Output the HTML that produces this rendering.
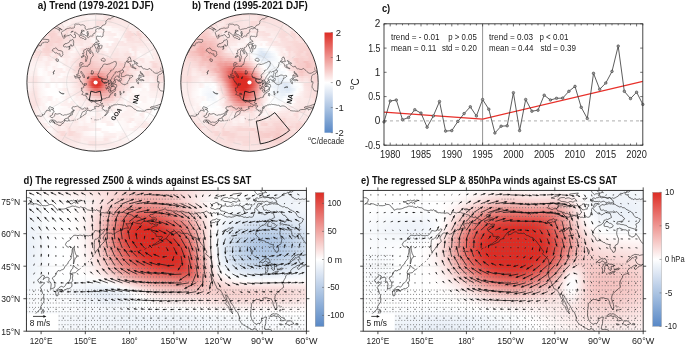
<!DOCTYPE html><html><head><meta charset="utf-8"><style>html,body{margin:0;padding:0;background:#fff;width:685px;height:345px;overflow:hidden;position:relative}svg{display:block}text{font-family:"Liberation Sans", sans-serif}</style></head><body><div style="position:absolute;left:25.9px;top:12.8px;width:140px;height:140px;overflow:hidden;clip-path:circle(68.7px at 69.7px 69.7px)"><div style="position:absolute;left:0;top:0;width:140px;height:140px;background:linear-gradient(90deg,#fdf3f3,#ffffff,#ffffff,#ffffff,#ffffff,#fdf3f2,#fdf2f2,#ffffff,#ffffff,#ffffff,#ffffff,#ffffff,#fdf6f5,#fdf0ef,#fdf0ef,#fdf0ef,#fcefef,#fef6f6,#fef6f5,#fdf5f4,#fdf4f4,#fdf0f0,#fdf0ef,#fcefee,#fdf1f0,#fdf0f0,#fdf0ef,#fcefee,#fceeed,#fceded,#fcedec,#fceeee,#fceeee,#fcefee,#fcefee,#fcefee,#fcefef,#fdf2f2,#fdf3f2,#fefafa,#fefbfa,#fefbfb,#fdf4f3,#fdf4f4,#fef6f6,#fef7f6,#fef7f7,#fcefef,#fdf0ef,#fefbfb,#fdf1f1,#fdf2f1,#fdf2f1,#fdf2f2,#fef9f9,#ffffff) 0 0px/100% 3px no-repeat,linear-gradient(90deg,#fdf3f2,#ffffff,#ffffff,#ffffff,#fdf2f2,#fdf2f1,#fdf1f1,#fdf1f1,#fffefe,#fffefe,#fffefe,#fffefe,#fefbfa,#fceeee,#fceeed,#fceeed,#fdf2f1,#fdf3f3,#fdf3f3,#fdf2f2,#fdf2f1,#fceeed,#fcedec,#fdf1f0,#fef6f6,#fdf5f5,#fdf5f4,#fdf4f4,#fdf0ef,#fcefee,#fcefee,#fbe5e4,#fbe5e4,#fceaea,#fcebea,#fcebea,#fcebeb,#fceceb,#fcedec,#fceae9,#fef7f7,#fef8f8,#fef9f9,#fceeee,#fdf4f4,#fdf5f4,#fdf6f5,#fef6f6,#fefaf9,#fefafa,#fefbfb,#fefbfb,#fdf1f1,#fdf2f1,#fefbfb,#ffffff) 0 2.5px/100% 3px no-repeat,linear-gradient(90deg,#ffffff,#ffffff,#ffffff,#fdf1f1,#fdf1f0,#fdf0f0,#fdf0ef,#fefbfb,#fffdfc,#fffcfc,#fef9f9,#fef9f8,#fef8f8,#fceceb,#fdf0ef,#fcefef,#fcefee,#fdf1f0,#fdf0f0,#fdf0ef,#fcefef,#fdf0ef,#fcefee,#fceeed,#fcedec,#fdf3f2,#fdf2f1,#fdf1f1,#fcedec,#fceceb,#fceceb,#fae2e1,#fae2e1,#fae2e1,#fae3e1,#fbe8e7,#fbe9e8,#fbe9e8,#fbe6e5,#fbe7e6,#fbe7e6,#fbe8e7,#fef6f6,#fcebeb,#fcecec,#fceeed,#fdf3f3,#fefaf9,#fefbfa,#fef9f9,#fefafa,#fefafa,#fefbfb,#fefbfa,#fefbfb,#fefbfb) 0 5px/100% 3px no-repeat,linear-gradient(90deg,#ffffff,#ffffff,#ffffff,#ffffff,#fcefef,#fefafa,#fefaf9,#fef9f9,#fef8f8,#fef6f6,#fef6f6,#fdf5f5,#fbe8e7,#fbe7e6,#fcecec,#fceceb,#fcebeb,#fef6f6,#fcedec,#fcedec,#fcecec,#fcedec,#fcedec,#fceceb,#fcebea,#fceeee,#fceeed,#fcedec,#fae0df,#fae0df,#fadfde,#fbe8e7,#fbe8e7,#fae2e0,#fbe7e6,#fbe7e7,#fbe8e7,#fbe8e7,#fceae9,#fbe4e3,#fbe5e4,#fbe5e4,#fdf4f3,#fbe8e8,#fceae9,#fcebea,#fceceb,#fef7f7,#fef9f9,#fefafa,#fef9f8,#fefaf9,#fdf4f4,#fdf5f4,#fefbfb,#fefbfb) 0 7.5px/100% 3px no-repeat,linear-gradient(90deg,#ffffff,#ffffff,#fffefe,#fffdfd,#fcedec,#fef8f7,#fef7f6,#fef6f5,#fdf5f5,#fdf4f4,#fdf2f1,#fbe4e3,#fbe3e2,#fae3e2,#fbe8e7,#fdf2f2,#fdf2f1,#fdf2f1,#fbe9e8,#fbe9e8,#fbe9e8,#fbe9e8,#fceaea,#fceaea,#fceaea,#fceeee,#fceeee,#fceeed,#fae2e0,#fae1e0,#fae1e0,#fceae9,#fceae9,#fceae9,#fceae9,#fceae9,#fceae9,#fbe8e8,#fbe9e8,#fbe9e8,#fbe9e8,#fdf1f0,#fdf1f1,#fdf2f1,#fdf3f2,#fbe8e7,#fceded,#fcefef,#fef7f6,#fef8f8,#fefafa,#fdf2f2,#fdf3f3,#fdf4f4,#fdf5f4,#fefbfb) 0 10px/100% 3px no-repeat,linear-gradient(90deg,#ffffff,#fffefe,#fffcfc,#fceceb,#fceaea,#fbe9e8,#fdf3f3,#fdf2f2,#fdf1f0,#fdf0ef,#fbe5e4,#fadfde,#fadedd,#fbe8e7,#fbe7e7,#fcedec,#fcedec,#fadfde,#fae0de,#fbe5e4,#fbe6e5,#fbe7e6,#fbe9e8,#fceae9,#fcebea,#fcebea,#fceceb,#fcecec,#fdf2f1,#fdf2f2,#fdf2f2,#fef7f6,#fef7f6,#fef7f6,#fceded,#fcedec,#fceceb,#fcecec,#fcebea,#fbe8e7,#fbe7e6,#fceded,#fcedec,#fceeee,#fcefee,#fdf1f0,#fceae9,#fceceb,#fceeee,#fef6f6,#fefbfb,#fffdfd,#fdf3f2,#fdf4f3,#fdf4f4,#fefbfa) 0 12.5px/100% 3px no-repeat,linear-gradient(90deg,#fffefe,#fffcfc,#fefafa,#fce9e8,#fbe7e6,#fdf3f3,#fdf2f1,#fceeed,#fae3e2,#fae1e0,#fae0df,#f9dad8,#fbe3e2,#fae3e2,#fae2e1,#fceaea,#f9dbd9,#f9dbda,#f9dcdb,#fae2e1,#fbe4e3,#fbe5e4,#fbe8e7,#fbe9e8,#fcebea,#fceceb,#fcedec,#fceeee,#fdf5f4,#fdf5f5,#fef6f6,#fefafa,#fefafa,#fefafa,#fdf6f5,#fdf5f4,#fdf3f3,#fceeed,#fceceb,#fce9e9,#fadfdd,#fcebeb,#fceae9,#fceae9,#fcecec,#fceeed,#fdefef,#fbe9e8,#fceceb,#fbe7e6,#fefaf9,#fefcfc,#fffefd,#fdf3f3,#fdf4f4,#fdf5f4) 0 15px/100% 3px no-repeat,linear-gradient(90deg,#fdf2f2,#fefafa,#fbe9e8,#fbe7e6,#fbe4e3,#fdf0ef,#fceded,#fbe8e7,#fadedd,#f9dddb,#f9d7d5,#f8d6d4,#fadfde,#fadedd,#fbe6e6,#fbe7e6,#f9d7d6,#fbe7e6,#fbe8e8,#fae0df,#fae2e1,#fbe4e3,#fdf0f0,#fdf2f2,#fdf4f4,#fbe4e3,#fbe6e5,#fbe8e7,#fceeed,#fcefef,#fdf0ef,#fcefee,#fcefee,#fceceb,#fef8f8,#fef6f6,#fdf5f5,#fdf3f2,#fdf0f0,#fbe9e8,#fadddc,#f9dbda,#fbe8e7,#fbe7e6,#f9d8d6,#fcebea,#fcedec,#fdf0ef,#fae2e1,#fbe5e4,#fbe8e7,#fefbfb,#fffdfd,#fffefe,#fef7f7,#fef8f7) 0 17.5px/100% 3px no-repeat,linear-gradient(90deg,#fdf1f0,#fceae9,#fbe7e6,#fbe4e3,#fcefee,#fceceb,#fbe6e5,#fbe4e3,#fae2e1,#f8d4d2,#f8d3d1,#f8d2d1,#f9d7d6,#fbe4e3,#fbe4e3,#f9dcda,#f9dddb,#fbe7e6,#fbe8e7,#fbe6e5,#fbe6e5,#fbe8e7,#fce9e9,#fdf2f2,#fdf4f4,#fbe7e6,#fbe9e8,#fcebea,#fefafa,#fefcfc,#fdf5f5,#fdf1f0,#fdf0f0,#fceded,#fceceb,#fcebea,#fef9f8,#fdf3f3,#fdf0f0,#fae0df,#f9dddc,#f9dad9,#f9d9d7,#fae2e1,#f8d6d5,#f9d8d6,#fceceb,#fae1e0,#fbe5e4,#fbe4e3,#fbe7e6,#fceae9,#fffcfc,#fefcfc,#fffdfd,#fef8f7) 0 20px/100% 3px no-repeat,linear-gradient(90deg,#fcebea,#fbe8e7,#fbe5e4,#fceae9,#fceceb,#fbe9e8,#fae3e2,#fae1df,#fae1e0,#fae0df,#f7d0cf,#f8d5d4,#f8d6d4,#f8d7d5,#f9dbda,#f9dcdb,#fadedd,#fbe4e3,#fbe6e5,#fbe7e7,#fbe7e7,#fadfdd,#fae0df,#fbe8e7,#fbe9e8,#fbe7e6,#fbe9e8,#fcebeb,#fefbfa,#fffcfc,#fef6f6,#fef7f6,#fef6f6,#fdf1f1,#fdf0ef,#fefbfb,#fef9f9,#fef7f6,#fdf1f0,#fae0df,#fadddc,#f9dbda,#fbe4e3,#fae3e2,#fae3e2,#f9d8d7,#fbe7e6,#fae2e1,#fbe5e4,#fbe8e7,#fbe7e6,#fceae9,#fcebea,#fefcfb,#fffdfd,#fef7f7) 0 22.5px/100% 3px no-repeat,linear-gradient(90deg,#fceae9,#fbe7e6,#fcebea,#fbe8e7,#fbe4e3,#fbe3e2,#fae0df,#fae0df,#fadfdd,#fadedd,#f8d4d2,#f8d5d3,#f8d6d4,#f8d2d0,#f8d4d2,#fadfdd,#fadfde,#fae2e0,#fbe9e8,#fae2e1,#fbe3e2,#fae1df,#fae1e0,#fbe8e7,#fbe8e8,#fceae9,#fdf5f4,#fef7f7,#fdf3f2,#fdf5f4,#fefbfa,#fefbfb,#fef7f6,#fdf1f1,#fdf0f0,#fceded,#fcebea,#fef7f7,#fdf2f1,#fcefee,#fadfde,#fae0df,#fadfde,#fbe5e4,#fbe6e5,#fadfdd,#fceae9,#fceceb,#fbe6e6,#fbe9e8,#fceceb,#fbe9e8,#fcebea,#fefcfc,#fffdfd,#fffefe) 0 25px/100% 3px no-repeat,linear-gradient(90deg,#fbe9e8,#fbe6e5,#fceae9,#fbe6e5,#f9dcda,#f9d8d7,#f8d5d4,#fadfde,#fadedc,#f8d3d1,#f8d4d2,#f8d5d3,#f8d1cf,#f8d3d2,#f9d8d6,#fae0df,#fae3e2,#fae2e1,#fbe4e3,#fbe5e4,#fbe6e5,#fbe4e3,#fbe4e2,#fbe7e6,#fbe7e6,#fbe9e8,#fdf3f3,#fef6f6,#fdf2f1,#fdf4f4,#fefafa,#fefbfb,#fffefe,#fffefe,#fffdfd,#fceded,#fceceb,#fbe7e7,#fbe5e4,#fdf1f1,#fbe5e4,#fbe4e3,#fae2e1,#fae2e1,#fae1e0,#fae2e1,#fbe4e3,#fcefee,#fdf1f0,#fdf3f2,#fdf5f4,#fef6f6,#fcebea,#fcedec,#fffdfd,#fffefe) 0 27.5px/100% 3px no-repeat,linear-gradient(90deg,#fef7f7,#fcedec,#fce9e9,#fadfdd,#f9dbda,#f9d8d6,#fae2e1,#fae0df,#f8d3d2,#f8d3d2,#f8d4d3,#f9dbd9,#fadddc,#f9d7d6,#f9dad9,#fadddc,#fae3e2,#fbe5e4,#fbe7e6,#fceae9,#fbe9e8,#fbe8e7,#fae3e2,#fcedec,#fbe9e8,#fceae9,#fae1e0,#fbe5e4,#fdf3f2,#fdf5f5,#fdf4f4,#fdf5f5,#fcecec,#fffdfd,#fcebeb,#fceae9,#fbe9e8,#fbe8e7,#fbe6e6,#fbe5e4,#fbe8e7,#fbe7e6,#fbe6e5,#fbe9e8,#fbe9e8,#fbe6e5,#fbe7e6,#fbe9e8,#fcebeb,#fcedec,#fdf5f5,#fef7f6,#fcebea,#fcecec,#fceded,#fcefef) 0 30px/100% 3px no-repeat,linear-gradient(90deg,#fef6f6,#fdf3f3,#fdf0ef,#fadfde,#f9dcda,#fbe5e4,#fae3e2,#fae1e0,#f8d1d0,#f8d5d3,#f9dbd9,#f9dcdb,#f9d9d8,#f9dcdb,#f9dddb,#fbe7e6,#fce9e9,#fceae9,#fcebea,#fcebea,#fdf3f2,#fdf0f0,#fceceb,#fce9e9,#fbe5e4,#fadedc,#fae2e0,#fbe5e5,#fbe6e6,#fbe9e8,#fdf0ef,#fdf4f3,#fcebea,#fcebea,#fceceb,#fbe9e8,#fdf0ef,#fcefee,#fceeed,#fceceb,#fcebeb,#fbe9e8,#fbe4e3,#fbe4e3,#fceceb,#fcedec,#fceae9,#fcedec,#fcedec,#fceeed,#fceeed,#fef6f6,#fef7f7,#fcefef,#fdf1f0,#fcefee) 0 32.5px/100% 3px no-repeat,linear-gradient(90deg,#fef7f7,#fdf4f3,#fbe7e6,#fbe3e2,#fae0df,#fbe7e6,#fbe5e4,#f8d4d3,#f8d4d2,#f8d2d0,#fadddc,#f9d9d7,#f9dbda,#fadedd,#fae0de,#fbe9e8,#fbe4e3,#fbe6e5,#fceceb,#fef7f6,#fdf2f1,#fceeed,#fadedd,#f9dad9,#f9d7d6,#f9d9d8,#fadedc,#fae2e1,#fbe4e3,#fbe7e6,#fceeed,#fef9f9,#fef9f9,#fcedec,#fceae9,#fbe9e8,#fbe8e7,#fceded,#fceceb,#fcebeb,#fcebeb,#fdf5f5,#fbe5e4,#fbe6e5,#fceeed,#fdf0f0,#fdf1f0,#fceeee,#fceeee,#fceeed,#fceded,#fcebea,#fceceb,#fceeed,#fdf0ef,#fdf1f0) 0 35px/100% 3px no-repeat,linear-gradient(90deg,#fef8f8,#fdf5f5,#fbe8e7,#fbe5e4,#f9dddb,#f9dad9,#f9d9d7,#f9d7d6,#f8d5d3,#f8d5d4,#f8d6d5,#fbe7e6,#fadedd,#fadfde,#fae2e1,#fbe7e6,#fbe5e4,#fceeee,#fef8f7,#fef6f5,#fceaea,#fceceb,#fbe6e5,#f8d5d3,#f8d5d4,#fadedc,#fae0df,#fbe6e5,#fbe8e7,#fceceb,#fbe6e5,#fceded,#fef6f6,#fce9e9,#fbe9e8,#fbe9e8,#fbe5e4,#fcecec,#fce9e9,#fce9e9,#fbe4e3,#fdf5f4,#fdf6f5,#fbe6e5,#fef7f7,#fdf1f0,#fdf1f1,#fceeee,#fceeed,#fef9f9,#fceeed,#fceded,#fceae9,#fcebeb,#fceeee,#fdf0f0) 0 37.5px/100% 3px no-repeat,linear-gradient(90deg,#fef9f9,#fcedec,#fceae9,#fbe7e6,#fadfde,#fadddc,#fae2e0,#fae0df,#f9d9d7,#f9d9d8,#fbe9e8,#fcebea,#fadedd,#fae2e1,#fbe7e6,#fbe9e8,#fbe7e7,#fcefee,#fceeed,#fcedec,#fbe8e7,#fbe5e4,#fadedd,#f8d1cf,#f7d0ce,#f9d8d7,#f8d3d1,#f9d9d8,#fadddc,#fbe5e4,#fae2e1,#fce9e9,#fbe9e8,#fcefee,#fbe5e4,#fbe4e3,#fbe4e3,#fbe8e8,#fbe9e8,#fae1e0,#fae2e1,#fae3e2,#fdf4f4,#fbe8e7,#fef6f6,#fef8f7,#fdf1f1,#fdf1f0,#fef9f9,#fef8f7,#fcebea,#fcebea,#fbe7e6,#fbe9e8,#fcecec,#fefaf9) 0 40px/100% 3px no-repeat,linear-gradient(90deg,#fdf0f0,#fdf3f3,#fdf1f0,#fbe4e3,#fae2e1,#fbe7e6,#fbe5e4,#fceded,#fcedec,#fbe3e2,#fcedec,#fae0df,#fae1e0,#fdf3f2,#fce9e9,#fbe8e7,#fbe9e8,#fbe9e8,#fdf1f1,#fceded,#fbe6e6,#fadfdd,#f9d9d8,#f7cfcd,#f6c7c4,#f8d2d0,#f9d7d6,#f8d6d5,#f9dbd9,#fae2e1,#fbe3e2,#fcebeb,#fae2e1,#fceae9,#fbe6e5,#fbe5e4,#fbe6e5,#fbe7e6,#fbe6e5,#fbe7e6,#fadedd,#fbe4e3,#fbe4e3,#fbe6e5,#fdf5f5,#fef6f6,#fdf4f4,#fdf4f4,#fdf3f2,#fdf5f5,#fdf4f3,#fbe8e7,#fbe8e7,#fbe4e3,#fbe7e7,#fef8f8) 0 42.5px/100% 3px no-repeat,linear-gradient(90deg,#fdf1f1,#fdf5f4,#fdf3f2,#fcedec,#fcebeb,#fceae9,#fbe9e8,#fdf1f1,#fdf1f1,#fbe7e7,#fbe8e7,#fdf0f0,#fbe5e4,#fdf6f5,#fef7f7,#fdf0ef,#fceae9,#fdf0f0,#fceeed,#fbe5e4,#fadedc,#f9dddb,#f7d0cf,#f7cbc9,#f6cac8,#f7cfce,#f8d5d3,#f9d9d7,#f9dbd9,#f9dcdb,#f9dddb,#f9dcdb,#f9dcdb,#fadfde,#fadedc,#f9dcda,#f9dcda,#fae2e1,#fae3e2,#fae2e1,#f9dddb,#fae0df,#fae3e2,#fbe4e3,#fceeed,#fbe5e4,#fbe6e5,#fdf2f2,#fdf1f0,#fdf3f2,#fdf1f0,#fbe7e6,#fbe8e7,#fae2e0,#fbe5e4,#fef7f6) 0 45px/100% 3px no-repeat,linear-gradient(90deg,#fef7f7,#fef6f5,#fdf0f0,#fcefee,#fdf0f0,#fdf0ef,#fdf0f0,#fdf0f0,#fcebea,#fcebea,#fdf3f2,#fdf4f3,#fdf0ef,#fef8f8,#fdf1f0,#fdf2f1,#fceae9,#fdf1f0,#fbe7e6,#fae1e0,#fadedd,#f9d9d8,#f7cdcc,#f6c8c6,#f6c6c4,#f6c9c7,#f6cac8,#f8d2d1,#f8d5d3,#f9dbda,#f9d7d6,#f9dbda,#f9dad9,#f9d8d6,#f9d8d6,#f9d7d6,#f8d4d2,#f8d5d3,#fadddc,#fadddc,#f9d9d7,#f9dcda,#fcedec,#fdf0f0,#fceceb,#fceeed,#fbe5e4,#fdf1f0,#fdf1f0,#fae0df,#fadddc,#fbe4e3,#fbe5e4,#fadfdd,#fae3e2,#fbe8e7) 0 47.5px/100% 3px no-repeat,linear-gradient(90deg,#fef8f8,#fef7f6,#fdf1f1,#fdf0f0,#fdf2f2,#fdf2f1,#fdf3f3,#fdf3f3,#fcebea,#fcebeb,#fef6f6,#fef7f6,#fdf2f2,#fefafa,#fefafa,#fceceb,#fcebea,#fcefef,#fbe6e5,#fbe9e8,#fae0df,#f8d4d2,#f7cbc9,#f6c7c5,#f6c6c4,#f5c3c1,#f6c8c6,#f7cecc,#f7d0cf,#f8d4d3,#f8d2d1,#f8d3d1,#f7cdcb,#f7cbc9,#f8d3d1,#f8d5d4,#f8d7d5,#f7cdcb,#f7cfcd,#f9d8d7,#f9dcda,#f8d5d4,#fcebea,#fceeee,#fceaea,#fcedec,#fceeee,#fceeed,#fcefee,#fcebeb,#f9dad9,#f9d9d7,#fae2e1,#fbe5e4,#fae1e0,#fceceb) 0 50px/100% 3px no-repeat,linear-gradient(90deg,#fdf0ef,#fcefee,#fdf3f3,#fdf3f2,#fdf3f3,#fdf4f3,#fdf5f5,#fdf6f5,#fceeed,#fef7f7,#fef7f7,#fceeed,#fdf4f4,#fefcfb,#fefcfc,#fefaf9,#fdf0ef,#fcefee,#fbe9e8,#fae2e1,#f9d8d6,#f7cfcd,#f7cecc,#f6c5c3,#f6c4c2,#f5c4c2,#f6c6c4,#f7cac8,#f7cdcb,#f7ccca,#f7cecc,#f7cbc9,#f6c9c7,#f6c9c7,#f7cecc,#f7cfce,#f8d1cf,#f8d4d2,#f7cbc9,#f7cdcb,#f8d1cf,#f8d3d1,#f9d7d6,#f9dddb,#fae0df,#fceceb,#fceeed,#fcedec,#fceeed,#fceae9,#f9d8d7,#f8d6d5,#fadedd,#fae2e1,#fbe5e4,#fcebea) 0 52.5px/100% 3px no-repeat,linear-gradient(90deg,#fdf0ef,#fceeee,#fdf3f3,#fdf3f2,#fceeed,#fefbfb,#fffcfc,#fef7f7,#fdf0ef,#fef9f9,#fef9f9,#fcefef,#fdf0ef,#fcefef,#fceceb,#fefafa,#fdf0f0,#fceded,#fcebeb,#fae0df,#f9d8d7,#f8d1cf,#f6c9c7,#f5c3c0,#f5c0be,#f5c1be,#f5c0be,#f5c1be,#f5c2bf,#f5c3c1,#f6c4c2,#f5c3c0,#f5c3c1,#f5bfbd,#f5bfbc,#f6c8c6,#f7cbc9,#f6c5c3,#f8d3d2,#f9d8d6,#f7cfcd,#fae1e0,#fbe5e4,#f9dcdb,#fae0df,#fceceb,#fcedec,#fcecec,#fcebea,#fbe6e6,#fbe3e2,#fae1e0,#fadddc,#fae1e0,#fbe4e3,#fceae9) 0 55px/100% 3px no-repeat,linear-gradient(90deg,#fcefef,#fdf4f3,#fdf3f2,#fcedec,#fceeed,#fefcfc,#fffdfd,#fef8f8,#fef9f9,#fdf0ef,#fdf0f0,#fdf4f4,#fdf0f0,#fdf0f0,#fcedec,#fceceb,#fdf5f5,#fdf0ef,#fcebea,#fadfdd,#f9dad9,#f8d2d0,#f6c9c7,#f5c3c1,#f4bebb,#f3b7b4,#f3b1af,#f2aeab,#f2aeab,#f3b1af,#f3b6b3,#f4bab8,#f4bcba,#f4bdba,#f4bbb8,#f4bbb8,#f4bcba,#f5c3c0,#f6c8c5,#f6c8c6,#f9dbda,#fae1e0,#fbe5e4,#fceae9,#fdf0f0,#fceae9,#fcebea,#fae1e0,#fadedd,#fbe7e6,#fae3e2,#fae1e0,#fadddc,#fae1e0,#fbe4e3,#fceae9) 0 57.5px/100% 3px no-repeat,linear-gradient(90deg,#fdf3f3,#fcefee,#fdf2f1,#fceceb,#fcedec,#fefbfb,#fffdfd,#fef9f8,#fefaf9,#fdf1f0,#fdf5f4,#fdf5f4,#fdf1f1,#fdf1f1,#fefbfb,#fef7f7,#fdf5f5,#fdf3f2,#fdf0ef,#fbe8e7,#f9dbd9,#f8d3d1,#f7cbc9,#f5c2c0,#f3b5b3,#f1a8a5,#ef9d99,#ee9591,#ee9490,#ef9a97,#f0a3a0,#f2adaa,#f3b5b2,#f4b9b6,#f4bab7,#f4bcba,#f6c5c3,#f5c3c0,#f6c7c5,#f6c8c6,#f9d8d6,#f9d7d5,#fae3e2,#fbe8e7,#fdf1f1,#fcebea,#fcebeb,#fae2e1,#fadfde,#fbe8e7,#fbe4e3,#fae3e2,#fbe4e3,#fae2e1,#fadfde,#fceeed) 0 60px/100% 3px no-repeat,linear-gradient(90deg,#fdf2f2,#fceeed,#fceceb,#fbe6e5,#fbe7e6,#fdf0ef,#fdf2f2,#fef6f5,#fefafa,#fefbfa,#fdf5f5,#fdf5f5,#fdf2f1,#fefcfc,#fefbfb,#fcefef,#fceeed,#fceceb,#fbe8e7,#fbe8e7,#fadfde,#f8d5d3,#f7ccca,#f5bebb,#f1aba8,#ee9692,#ea7b76,#e66761,#e66761,#e97974,#ed8f8a,#ef9e9b,#f2aca9,#f3b3b0,#f4bab7,#f4b9b6,#f6c5c2,#f6cac8,#f6c5c2,#f8d4d2,#f9dad8,#f9d9d7,#fbe5e4,#fbe9e8,#fdf3f2,#fdf5f5,#fcefef,#fcebea,#fbe8e8,#fceeed,#fceaea,#fae0df,#fae1e0,#f9dcda,#fae1df,#fcefee) 0 62.5px/100% 3px no-repeat,linear-gradient(90deg,#fdf1f0,#fceceb,#fceae9,#fbe4e3,#fbe5e4,#fcefee,#fdf1f1,#fdf5f5,#fefafa,#fefbfb,#fdf2f2,#fdf2f2,#fef6f6,#fdf2f1,#fdf1f0,#fceeed,#fdf4f3,#fceceb,#fbe9e8,#fbe8e7,#fae0df,#f9d7d6,#f7ccca,#f4bab7,#f0a29f,#ea7d79,#e3534c,#e04039,#e03e37,#e35049,#e97671,#ed928d,#f0a4a1,#f2b1ae,#f3b6b3,#f5bfbd,#f6c5c3,#f7ccca,#f7cbc9,#f9dbda,#fae1e0,#f9dad8,#fae2e0,#fbe6e5,#fcefef,#fdf2f1,#fdf1f0,#fcedec,#fceaea,#fdf1f0,#fceded,#fbe3e2,#fbe4e3,#fadedd,#fae2e1,#fdf0ef) 0 65px/100% 3px no-repeat,linear-gradient(90deg,#fcefef,#fceae9,#fbe8e7,#fae1e0,#fae3e2,#fceded,#fdf1f0,#fdf5f5,#fefafa,#fefbfb,#fdf3f2,#fdf3f2,#fef6f6,#fdf2f2,#fdf1f1,#fceeee,#fdf4f3,#fdf1f0,#fbe9e8,#fbe4e3,#fadfde,#f9d9d7,#f7cdcb,#f4b9b6,#ef9d99,#e76d67,#e1433c,#df372f,#de322b,#df3b33,#e6645e,#ec8984,#ef9f9b,#f2afac,#f3b7b4,#f4bcba,#f6c4c2,#f7cbc9,#f7cfcd,#fadfde,#fbe5e4,#fadddc,#fae2e1,#fbe8e7,#fdf1f1,#fdf3f3,#fdf2f2,#fcefee,#fcedec,#fdf3f3,#fdf1f0,#fbe7e6,#fbe7e6,#fae1e0,#fbe5e4,#fdf1f1) 0 67.5px/100% 3px no-repeat,linear-gradient(90deg,#fdf3f2,#fdf3f3,#fdf1f1,#fceae9,#fceceb,#fdf4f3,#fef7f7,#fefbfb,#fdf1f1,#fdf3f2,#ffffff,#ffffff,#fef7f7,#ffffff,#fffefe,#fdf4f3,#fef7f7,#fdf4f3,#fdf1f1,#fceaea,#fbe4e3,#f9dad9,#f7d0ce,#f4bcb9,#f0a09d,#e8716b,#e1453e,#df362f,#de3129,#df3a33,#e6635d,#ec8782,#ef9d99,#f2aeab,#f3b8b5,#f4bebb,#f6c5c2,#f7cbc9,#f9dad8,#f9d7d5,#f9dcdb,#fcedec,#fdf1f0,#fdf1f0,#fceaea,#fceceb,#fef6f6,#fefafa,#fef9f9,#fbe7e7,#fbe5e4,#fbe3e2,#fbe4e3,#fcebea,#fceeed,#fdf0f0) 0 70px/100% 3px no-repeat,linear-gradient(90deg,#fdf1f1,#fdf1f1,#fcefee,#fbe8e7,#fceae9,#fdf2f2,#fef6f6,#fefbfa,#fdf1f1,#fdf3f2,#ffffff,#ffffff,#fef7f7,#ffffff,#fffefe,#fdf4f3,#fef9f9,#fdf5f5,#fcefee,#fbe7e6,#fae3e2,#fadfde,#f8d4d3,#f5c3c1,#f1aba8,#ec8883,#e55c56,#e1433c,#e03f37,#e35049,#e8736d,#ec8b87,#f09f9c,#f2afac,#f4b8b5,#f5c2c0,#f7cecd,#f9d7d6,#f8d6d5,#fadfde,#fae0df,#fdf0f0,#fdf0f0,#fdf3f3,#fcecec,#fceeed,#fef8f7,#fffcfc,#fefbfb,#fceae9,#fbe8e8,#fbe7e6,#fbe7e6,#fceeed,#fdf0ef,#fdf2f1) 0 72.5px/100% 3px no-repeat,linear-gradient(90deg,#fdf0ef,#fcefef,#fcecec,#fbe5e4,#fbe8e7,#fdf0f0,#fdf5f5,#fefafa,#fffefe,#ffffff,#fffefe,#fffefe,#fffefe,#fdf5f5,#fdf5f4,#fcedec,#fceceb,#fef6f6,#fdf3f2,#fceeed,#fbe7e6,#fae3e2,#f9dad8,#f7cdcb,#f4b9b7,#f0a3a0,#ec8883,#e8716c,#e76c66,#e97772,#ec8782,#ee9591,#f0a5a2,#f2b1ae,#f4bab8,#f6c4c2,#f7ccca,#f8d4d2,#f9dad9,#fbe3e2,#fbe8e7,#fcecec,#fef8f8,#fefafa,#fefbfa,#fefcfc,#fdf4f4,#fdf5f4,#fffdfd,#fcecec,#fcebea,#fceae9,#fceae9,#fdf0f0,#fdf2f1,#fdf3f2) 0 75px/100% 3px no-repeat,linear-gradient(90deg,#fcefee,#fceceb,#fbe9e8,#fae3e2,#fbe5e4,#fdf0f0,#fdf6f5,#fef9f9,#fffcfc,#ffffff,#fffefe,#fffefe,#fffefe,#fffefe,#ffffff,#fdf3f2,#fdf1f1,#fdf4f4,#fdf4f4,#fcebea,#fbe5e4,#fae2e1,#fadfdd,#f8d7d5,#f6c9c7,#f4b9b6,#f1a9a5,#ef9c98,#ee9591,#ee9591,#ef9a96,#f0a3a0,#f2aca9,#f3b6b3,#f4bdba,#f6c6c4,#f9d7d5,#fadedc,#fbe5e4,#fbe7e6,#fdf2f2,#fcefee,#fefafa,#fffcfc,#fffcfc,#fdf5f5,#fdf6f5,#fef6f5,#fdf5f5,#fdf0ef,#fcefee,#fceeed,#fceeed,#fcedec,#fdf2f1,#fdf4f4) 0 77.5px/100% 3px no-repeat,linear-gradient(90deg,#fceded,#fcebea,#fbe7e6,#fae1e0,#fbe4e3,#fcefee,#fdf5f4,#fef8f8,#fffcfc,#ffffff,#ffffff,#ffffff,#ffffff,#ffffff,#ffffff,#ffffff,#fdf2f1,#fcefef,#fceeed,#fcedec,#fbe8e7,#fbe4e3,#fae2e1,#fadedd,#f8d6d5,#f7ccca,#f5c1be,#f3b7b4,#f2b0ad,#f2aeab,#f2afac,#f2b1ae,#f3b5b2,#f4bbb9,#f5c1bf,#f8d2d1,#f9dcda,#f9dcda,#fcebeb,#fceaea,#fdf5f4,#fef8f7,#fdf2f1,#fef7f7,#fef8f8,#fef6f6,#fef6f6,#fef7f6,#fef6f6,#fdf1f1,#fdf1f0,#fdf0ef,#fceeed,#fceeee,#fdf3f2,#fdf4f3) 0 80px/100% 3px no-repeat,linear-gradient(90deg,#fcecec,#fbe7e6,#fbe6e5,#fbe5e4,#fae2e1,#fceeed,#fdf4f4,#fdf2f1,#fdf6f5,#fcefef,#fdf0f0,#ffffff,#ffffff,#ffffff,#fef8f7,#fef7f7,#fceeed,#fcecec,#fef9f8,#fdf5f5,#fceae9,#fceeee,#fbe9e8,#fbe4e3,#fadedd,#f9d9d8,#f8d2d1,#f7ccca,#f6c6c4,#f5c2c0,#f5c0be,#f5bebc,#f5c2c0,#f6c4c2,#f6c7c5,#f9d9d8,#f8d5d4,#f9dcda,#fcefef,#fdf4f3,#fefafa,#fdf1f1,#fdf3f3,#fef8f8,#fef9f9,#fdf4f4,#fdf4f4,#fdf3f3,#fef9f9,#fdf2f2,#fdf1f1,#fdf1f1,#fcefef,#fcefef,#fdf4f3,#fdf4f4) 0 82.5px/100% 3px no-repeat,linear-gradient(90deg,#fceceb,#fbe6e5,#fbe5e4,#fbe4e3,#fae2e1,#fbe7e6,#fdf0f0,#fef6f5,#fdf5f5,#fcefef,#fdf0f0,#ffffff,#fef7f6,#fffdfd,#fffcfc,#fef7f7,#fceeee,#fefbfa,#fefbfa,#fdf2f1,#fcefef,#fceeed,#fceeed,#fbe5e4,#fbe6e5,#fadfde,#fadddc,#f9d8d6,#f8d4d3,#f7cfcd,#f7cdcb,#f6c9c7,#f6cac8,#f8d1cf,#f7d0ce,#fadedd,#fbe5e4,#fbe9e8,#fceeed,#fef9f9,#fefcfc,#fceeed,#fcefef,#fefbfb,#fefafa,#fdf5f4,#fdf4f3,#fdf4f3,#fef9f9,#fef9f9,#fef9f9,#fef9f9,#fef7f7,#fdf0f0,#fdf4f4,#fdf5f4) 0 85px/100% 3px no-repeat,linear-gradient(90deg,#fbe5e4,#fadfde,#fbe3e2,#fbe3e2,#fae1e0,#fbe7e6,#fdf0f0,#fdf6f5,#fdf5f5,#fffefe,#fef7f6,#fef7f7,#fef7f6,#fef6f6,#fffdfd,#fdf0ef,#fcefee,#fefbfb,#fceceb,#fdf3f3,#fef7f7,#fdf0f0,#fdf0ef,#fceeee,#fceceb,#fbe8e7,#fae1e0,#fadfde,#f9dcdb,#f9dcdb,#f9d8d6,#f8d4d2,#f8d6d5,#f9d8d7,#fae1e0,#fbe6e5,#fcebea,#fdf1f0,#fdf1f0,#fefafa,#fcefee,#fcefee,#fefbfb,#fefbfb,#ffffff,#ffffff,#fdf4f4,#fdf4f4,#fefafa,#fefaf9,#fefaf9,#fefaf9,#fef8f8,#fef8f8,#fef6f6,#fef6f6) 0 87.5px/100% 3px no-repeat,linear-gradient(90deg,#fbe5e4,#fadfde,#fbe4e2,#fbe3e2,#fae1e0,#fbe7e6,#fdf0f0,#fdf1f0,#fefcfc,#fffefe,#fef7f6,#fef7f7,#fef7f6,#fffcfc,#fdf1f0,#fdf0f0,#fcefef,#fceeed,#fcecec,#fcefef,#fefaf9,#fdf0ef,#fceeed,#fdf2f2,#fbe9e8,#fbe8e7,#fcedec,#fbe4e3,#fae1e0,#fae0df,#fadedc,#f9dddb,#f9dddb,#fbe8e7,#fceaea,#fceeed,#fdf2f1,#fdf5f4,#fdf2f1,#fefbfb,#fdf0ef,#fdf1f0,#fdf3f3,#fefcfb,#ffffff,#fef9f9,#fef9f9,#fef9f8,#fef9f8,#fefafa,#fefafa,#fef8f8,#fef8f8,#fef6f6,#fef6f6,#fdf1f0) 0 90px/100% 3px no-repeat,linear-gradient(90deg,#fbe7e6,#fae0df,#f9dcdb,#fbe4e3,#fbe7e6,#fcefee,#fdf5f5,#fdf1f1,#fdf5f5,#fffefe,#ffffff,#fffefe,#fffefe,#fffcfc,#fefcfc,#fef9f8,#fef8f8,#fceeee,#fef7f7,#fdf0ef,#fcebea,#fdf1f0,#fdf5f5,#fdf4f3,#fceae9,#fdf4f3,#fdf2f2,#fbe8e8,#fbe6e5,#fbe6e5,#fbe4e3,#fcefef,#fcebea,#fdf0ef,#fceae9,#fef7f7,#fef9f9,#fdf2f2,#fdf4f3,#fef7f6,#fdf0f0,#fdf3f2,#fdf3f3,#fdf0f0,#fdf1f0,#fef9f9,#fef9f9,#fef9f8,#fef9f8,#fdf2f1,#fdf2f1,#fef8f8,#fef9f8,#fef6f6,#fef6f6,#fdf1f0) 0 92.5px/100% 3px no-repeat,linear-gradient(90deg,#fbe8e7,#fae1e0,#f9dcdb,#fbe7e6,#fceae9,#fdf0ef,#fdf6f5,#fdf1f1,#fdf5f5,#fefbfa,#fefcfc,#fffefe,#fffefe,#fefcfc,#fef7f7,#fef7f7,#fef8f7,#fef7f7,#fef7f7,#fef6f6,#fcebea,#fceae9,#fdefef,#fcebea,#fceaea,#fbe9e8,#fef6f6,#fef6f6,#fbe8e7,#fceeed,#fceeee,#fef6f5,#fceeed,#fcefee,#fcefee,#fdf0ef,#fef6f5,#fef7f6,#fef7f6,#fef7f7,#fdf1f0,#fdf1f0,#fdf0ef,#fdf0ef,#fffdfd,#fffdfd,#fef8f8,#fef8f8,#fdf2f1,#fdf2f1,#ffffff,#ffffff,#ffffff,#fffcfc,#fef7f6,#fdf1f1) 0 95px/100% 3px no-repeat,linear-gradient(90deg,#fbe4e3,#fae1e0,#fadedd,#fadedc,#fcebea,#fdf0ef,#fef6f6,#fefbfb,#fceeed,#fdf0ef,#fefcfb,#fefcfc,#fffefe,#fef9f9,#fef7f7,#fef6f6,#fef7f7,#fef7f6,#fef6f5,#fdf1f0,#fdf0ef,#fef9f8,#fdf0ef,#fef9f8,#fef8f8,#fdf4f4,#fef7f7,#fef7f7,#fceaea,#fdf5f4,#fdf5f5,#fdf1f0,#fdf1f1,#fdf2f1,#fffdfd,#fceeed,#fcefee,#fef8f8,#fef8f8,#fdf0f0,#fdf0f0,#fdf2f1,#fdf2f1,#fcefee,#fffcfc,#fffdfc,#fcefee,#fdf0ef,#fdf1f1,#fdf2f1,#ffffff,#ffffff,#fffcfc,#fffcfc,#fef6f6,#fef7f6) 0 97.5px/100% 3px no-repeat,linear-gradient(90deg,#fbe5e4,#fae0df,#fae0df,#fae0de,#fcedec,#fdf1f1,#fdf1f1,#fdf6f5,#fef9f9,#fdf0ef,#fdf0f0,#fdf1f0,#fdf0f0,#fef8f8,#fef8f7,#fef6f6,#fef6f5,#fdf5f4,#fdf4f3,#fdf3f2,#fcefee,#fef8f7,#fef7f7,#fcefee,#fdf4f4,#fdf5f4,#fef8f8,#fef8f8,#fceceb,#fceceb,#fef7f7,#fdf6f5,#fef6f6,#fffefe,#ffffff,#fdf4f4,#fdf4f4,#fdf4f4,#fdf0f0,#fdf0f0,#fdf0ef,#fdf1f1,#fdf1f0,#fef8f7,#fefbfb,#fceded,#fceeed,#ffffff,#ffffff,#fefafa,#ffffff,#ffffff,#fffcfc,#fffcfc,#fef6f6,#fef7f6) 0 100px/100% 3px no-repeat,linear-gradient(90deg,#fbe7e6,#fae2e1,#fae2e1,#fae2e1,#fbe3e2,#fcebea,#fdf0ef,#fef6f6,#fef9f9,#fcefef,#fef6f6,#fdf0ef,#fcefef,#fcefee,#fef8f7,#fef7f6,#fdf4f3,#fcebea,#fceaea,#fdf1f0,#fef6f5,#fdf5f5,#fceeed,#fceeed,#fefafa,#fefafa,#fcefef,#fdf0ef,#fcedec,#fceeed,#fcefee,#fcefef,#fef7f7,#fdf5f5,#fefafa,#fefbfa,#fdf5f5,#fdf3f3,#fdf1f0,#fdf3f2,#fdf2f1,#fdf1f1,#fef7f6,#fef6f6,#fef6f6,#fef6f6,#fcecec,#fffdfd,#fffefe,#fef9f9,#fefafa,#fefcfb,#fffcfc,#fef6f6,#fef6f6,#fef6f6) 0 102.5px/100% 3px no-repeat,linear-gradient(90deg,#fcedec,#fbe4e3,#fae2e1,#fbe3e2,#fbe6e5,#fcedec,#fdf0f0,#fdf4f3,#fef9f9,#fffdfd,#fdf5f5,#fdf5f5,#fceeed,#fdf1f0,#fdf0ef,#fdf4f4,#fdf3f3,#fef7f6,#fbe7e7,#fcebea,#fcebea,#fdf3f3,#fdf1f0,#fdf1f1,#fef9f9,#fefafa,#fbe9e8,#fdf0f0,#fceded,#fef8f8,#fdf0ef,#fdf1f0,#fef6f5,#fef6f6,#fefbfb,#fef9f9,#fdf4f3,#fdf4f3,#fef8f7,#fdf2f2,#fdf1f1,#fcebea,#fceae9,#fdf5f4,#fdf4f4,#fdf5f4,#fdf3f2,#fefcfc,#fef7f7,#fef8f8,#ffffff,#ffffff,#ffffff,#fef6f6,#fef6f6,#fdf5f5) 0 105px/100% 3px no-repeat,linear-gradient(90deg,#fceeee,#fcebea,#fbe9e8,#fbe8e8,#fbe8e7,#fcebea,#fdf1f1,#fdf4f4,#fefcfb,#fffcfc,#fffcfc,#fdf3f3,#fceceb,#fceeee,#fcedec,#fcebeb,#fdf4f4,#fdf3f3,#fdf2f2,#fbe8e7,#fbe8e7,#fdf4f4,#fdf5f5,#fdf0ef,#fef8f8,#fefaf9,#fce9e8,#fcebea,#fef8f7,#fef9f8,#fdf0f0,#fdf1f1,#fcefee,#fcefee,#fef9f9,#fef9f9,#fef9f9,#fef9f8,#fef8f8,#fef7f6,#fceceb,#fceae9,#fefbfb,#fdf3f3,#fdf3f2,#fdf1f0,#fdf1f1,#fceae9,#fdf6f5,#fef7f7,#ffffff,#ffffff,#fefafa,#fefbfa,#fefbfb,#fdf5f5) 0 107.5px/100% 3px no-repeat,linear-gradient(90deg,#fdf4f3,#fdf1f0,#fcebea,#fcebea,#fceae9,#fceceb,#fceceb,#fceded,#fcefee,#fefbfb,#fefafa,#fdf4f3,#fbe9e8,#fbe7e6,#fbe5e4,#fceceb,#fceae9,#fbe9e8,#fcecec,#fcecec,#fcedec,#fdf2f2,#fdf3f3,#fceeed,#fdf0ef,#fdf1f1,#fdf1f1,#fdf3f2,#fffdfd,#fffefe,#fffefe,#ffffff,#fcefee,#fcefef,#fcefef,#ffffff,#ffffff,#fef9f8,#fef8f8,#fef7f6,#fdf5f5,#fffcfc,#fefafa,#fef9f9,#fdf0ef,#fcefef,#fbe8e7,#fbe9e8,#fceae9,#fdf5f5,#ffffff,#fef9f8,#fefaf9,#fefafa,#fef8f7,#fef8f8) 0 110px/100% 3px no-repeat,linear-gradient(90deg,#fdf5f5,#fdf3f2,#fcedec,#fcedec,#fceeed,#fceae9,#fceceb,#fceded,#fceded,#fcedec,#fdf3f3,#fdf1f1,#fcefee,#fbe4e3,#fdf1f1,#fdf0ef,#fbe6e5,#fbe6e5,#fcecec,#fceae9,#fcebea,#fbe7e6,#fbe9e8,#fbe6e5,#fbe8e7,#fdf2f1,#fdf1f1,#fdf3f2,#fffdfd,#fffefe,#fffefe,#fffefe,#fffefe,#ffffff,#ffffff,#ffffff,#ffffff,#ffffff,#fef8f8,#fef7f7,#fdf4f3,#fffcfc,#fefbfa,#fcedec,#fceceb,#fcefee,#fbe7e6,#fbe8e7,#fdf2f2,#fdf4f4,#fdf6f5,#fef8f8,#fef9f9,#fef7f7,#fef8f7,#fef8f8) 0 112.5px/100% 3px no-repeat,linear-gradient(90deg,#fef6f6,#fdf4f4,#fdf3f2,#fcefee,#fbe6e5,#fbe7e7,#fceceb,#fcedec,#fcecec,#fef9f9,#fef8f7,#fceeed,#fceceb,#fbe9e8,#fceeed,#fceceb,#fcebea,#f9dbda,#fceae9,#fcebea,#fbe8e7,#fceaea,#fbe9e8,#fbe6e5,#fbe8e7,#fceaea,#fceceb,#fceeed,#fcecec,#fceded,#fffdfd,#fffdfd,#fffefe,#ffffff,#fffdfd,#fffdfd,#ffffff,#ffffff,#fef8f8,#fdf5f5,#fdf4f4,#fdf3f2,#fcefee,#fceded,#fef7f7,#fef6f6,#fef6f6,#fdf1f0,#fdf2f1,#fdf3f3,#fffdfd,#fffefe,#fef9f8,#fef7f6,#fef7f7,#fdf4f3) 0 115px/100% 3px no-repeat,linear-gradient(90deg,#fdf2f2,#fef6f5,#fbe8e7,#fbe7e6,#fbe7e6,#fbe8e7,#fbe8e7,#fceceb,#fef7f7,#fdf6f5,#fdf5f5,#fdf2f2,#fbe8e8,#fadedd,#f9dcdb,#f9dad9,#fbe8e8,#f9d9d8,#f9dad9,#f9dcda,#fbe8e7,#fceae9,#fcedec,#fdf4f3,#fef6f6,#fef9f9,#fefbfb,#fffcfc,#fffdfd,#fffefe,#fdf3f2,#fdf3f3,#fdf3f3,#fefcfc,#fffcfc,#fffcfc,#fef8f7,#fef8f7,#fef7f7,#fdf5f5,#fefaf9,#fef9f8,#fef7f7,#fef9f9,#fef8f7,#fef7f7,#fdf3f2,#fdf3f3,#fdf2f1,#fefbfb,#fffcfc,#fffefe,#fef7f7,#fef6f6,#fef7f7,#fdf3f3) 0 117.5px/100% 3px no-repeat,linear-gradient(90deg,#fdf3f3,#fcebeb,#fbe9e8,#fbe8e7,#fbe8e7,#fbe8e7,#fbe8e7,#fceeee,#fdf5f5,#fdf3f3,#fdf1f0,#fdf0ef,#fbe8e8,#fbe6e5,#f9dad8,#f9d9d7,#fbe4e3,#f9d9d7,#f9dad8,#fadfdd,#fae1e0,#fbe3e2,#fcebea,#fdf3f3,#fdf5f5,#fef8f8,#fef9f9,#fefafa,#fefbfb,#fefbfb,#fefcfc,#fdf0f0,#fdf1f0,#fcefee,#fcefef,#fdf0ef,#fef6f5,#fef6f6,#fcefef,#fcefef,#fef9f9,#fef9f8,#fefafa,#fef9f9,#fef9f9,#fdf4f4,#fdf4f3,#fdf4f4,#fceceb,#fefbfb,#fffdfd,#fef6f6,#fef7f7,#fef8f8,#fffffe,#fdf3f3) 0 120px/100% 3px no-repeat,linear-gradient(90deg,#fceeed,#fceceb,#fcebea,#fbe9e8,#fbe8e8,#fbe8e7,#fceeee,#fcedec,#fcebea,#fdf2f1,#fcefee,#fadfde,#fbe7e6,#fbe5e4,#fbe4e3,#fbe4e3,#fbe4e3,#fbe5e4,#fbe6e5,#fae2e1,#fae1e0,#fae3e2,#fceaea,#fceceb,#fcedec,#fceeed,#fceeee,#fcefee,#fdf5f5,#fdf6f5,#fef6f6,#fceaea,#fcebea,#fcebeb,#fceceb,#fcecec,#fefafa,#fcedec,#fceded,#fceeed,#fefbfb,#fefbfb,#fefafa,#fefafa,#fef6f6,#fdf5f5,#fdf5f5,#fcedec,#fcedec,#fceeed,#fdf5f5,#fef6f6,#fef7f7,#fffefe,#fffffe,#ffffff) 0 122.5px/100% 3px no-repeat,linear-gradient(90deg,#fdf0ef,#fcedec,#fceceb,#fcebea,#fbe9e8,#fdf0ef,#fcefee,#fceceb,#fceae9,#fbe8e7,#fceeed,#fadedd,#f9dcdb,#fbe5e4,#fbe4e3,#fae2e1,#fae2e1,#fbe6e6,#fbe8e7,#fbe3e2,#fbe5e4,#fbe6e5,#fceeed,#fceae9,#fceaea,#fceaea,#fceaea,#fceaea,#fdf1f0,#fdf1f0,#fdf1f0,#fbe5e4,#fbe6e5,#fcefee,#fdf4f4,#fdf5f5,#fef7f6,#fceae9,#fdf2f1,#fdf3f2,#fdf3f3,#fefafa,#fdf1f1,#fdf1f1,#fdf1f0,#fef7f6,#fceeed,#fceeed,#fceeee,#fcefee,#fdf0ef,#fef7f7,#fffdfd,#fffefe,#ffffff,#ffffff) 0 125px/100% 3px no-repeat,linear-gradient(90deg,#fdf0f0,#fceded,#fceceb,#fcebea,#fef6f6,#fdf0ef,#fcefee,#fcedec,#fceae9,#fbe7e7,#fcefef,#fadfde,#fadddc,#f9dcdb,#fceae9,#fbe4e3,#fbe5e4,#fbe6e5,#fbe7e6,#fbe8e7,#fbe6e5,#fbe7e6,#fceeed,#fceeed,#fceded,#fbe4e3,#fbe3e2,#fae3e1,#fceae9,#fceae9,#fceae9,#fce9e9,#fceae9,#fcebeb,#fdf1f0,#fdf3f2,#fcefee,#fdf0f0,#fdf0ef,#fdf1f1,#fdf2f2,#fdf1f0,#fdf1f1,#fdf2f1,#fefaf9,#fefafa,#fcefee,#fcefef,#fdf0ef,#fdf0ef,#fdf1f0,#fcefee,#fffefe,#fffefe,#ffffff,#ffffff) 0 127.5px/100% 3px no-repeat,linear-gradient(90deg,#fdf1f0,#fdf0ef,#fcedec,#fef8f8,#fef7f6,#fdf5f5,#fcefee,#fcedec,#fcebea,#fdf2f2,#fdf0f0,#fcefee,#fceeed,#fadfde,#fcedec,#fceded,#fceeee,#fce9e8,#fceae9,#fcebea,#fcebea,#fcefee,#fceeee,#fceeed,#fceeed,#fbe4e3,#fae3e2,#fae2e1,#fce9e8,#fbe9e8,#fbe9e8,#fbe8e8,#fcebea,#fceceb,#fcebea,#fcecec,#fceeed,#fdf0ef,#fcefef,#fceeed,#fdefef,#fdf1f0,#fdf1f1,#fefafa,#fefbfa,#fefbfb,#fefbfb,#fdf1f0,#fdf1f0,#fdf1f1,#fcefee,#fcefef,#fdf0ef,#ffffff,#ffffff,#ffffff) 0 130px/100% 3px no-repeat,linear-gradient(90deg,#fdf1f0,#fdf0ef,#fef9f9,#fef8f8,#fef7f7,#fef6f5,#fdf4f4,#fceeed,#fdf3f3,#fdf2f1,#fdf1f0,#fdf2f1,#fdf1f1,#fdf2f2,#fdf3f2,#fdf2f1,#fdf2f2,#fbe4e3,#fbe5e4,#fbe5e4,#fceeee,#fdf2f1,#fdf1f1,#fdf1f0,#fdf0ef,#fdf0ef,#fcefee,#fceeed,#fceeed,#fceeed,#fceeed,#fcedec,#fceded,#fceeee,#fdf0ef,#fceeee,#fce9e8,#fcebea,#fceeed,#fcefef,#fdf0f0,#fdf0ef,#fdf1f0,#fefbfb,#fefbfb,#fef7f6,#fef7f7,#fef7f7,#fdf2f1,#fcefef,#fdf0ef,#fdf0ef,#fef7f6,#fef7f7,#ffffff,#ffffff) 0 132.5px/100% 3px no-repeat,linear-gradient(90deg,#fdf5f5,#fefafa,#fef9f9,#fef8f8,#fef8f7,#fef7f6,#fdf5f5,#fceceb,#fdf5f5,#fdf4f4,#fdf3f3,#fdf3f3,#fdf5f4,#fef6f6,#fef7f6,#fef7f7,#fef8f8,#fbe8e7,#fbe9e8,#fbe9e8,#fbe9e8,#fdf0f0,#fdf0ef,#fcefef,#fdf5f4,#fdf4f4,#fdf3f3,#fdf3f2,#fdf3f2,#fdf2f2,#fdf2f2,#fdf5f4,#fdf5f5,#fef6f5,#fef7f6,#fcebeb,#fcecec,#fceeed,#fcefee,#fdf0ef,#fdf1f0,#fdf1f1,#fdf2f2,#fffcfc,#fef7f7,#fef8f7,#fef8f8,#fef8f8,#fdf0ef,#fdf0f0,#fdf0f0,#fef7f7,#fef7f7,#fef7f7,#fef7f7,#fffdfd) 0 135px/100% 3px no-repeat,linear-gradient(90deg,#fef9f8,#fef8f8,#fefafa,#fef9f9,#fef8f8,#fef7f7,#fef7f7,#fceded,#fcedec,#fceceb,#fef6f6,#fef6f6,#fcebea,#fceceb,#fefafa,#fefbfb,#fdf1f1,#fdf2f2,#fdf2f2,#fcecec,#fdf4f4,#fdf4f4,#fdf4f3,#fdf3f3,#fcebeb,#fcebea,#fceaea,#fceae9,#fefafa,#fefaf9,#fefaf9,#fefafa,#fefafa,#fefafa,#fefbfb,#fcefef,#fffcfc,#fffdfd,#fffefe,#fdf2f1,#fdf2f2,#fdf3f2,#fdf6f5,#fef6f6,#fef8f8,#fef8f8,#fef8f8,#fef8f8,#fef9f8,#fdf1f0,#fef7f7,#fef7f7,#fef7f7,#fef7f7,#fefafa,#fefafa) 0 137.5px/100% 3px no-repeat;filter:blur(0.3px)"></div></div>
<div style="position:absolute;left:179.8px;top:12.8px;width:140px;height:140px;overflow:hidden;clip-path:circle(68.7px at 69.7px 69.7px)"><div style="position:absolute;left:0;top:0;width:140px;height:140px;background:linear-gradient(90deg,#fbe8e7,#fbe8e7,#fbe9e8,#fbe9e8,#fbe9e8,#fadddc,#fadddc,#fceae9,#fceae9,#fbe9e8,#fbe9e8,#fbe9e8,#fae0df,#f9dcda,#f9dcda,#f9dcda,#f9dcda,#fae2e1,#fae2e1,#fae1e0,#fae1e0,#fadedd,#fadedd,#fadedd,#fae0df,#fae0df,#fae0df,#fae0df,#fae0de,#fae0de,#fae0de,#fae1e0,#fae1e0,#fae1e0,#fae1e0,#fae1df,#fae1df,#fae3e2,#fae3e2,#fbe9e8,#fbe9e8,#fbe9e8,#fae1e0,#fae1e0,#fae3e2,#fae3e2,#fae3e2,#f9dbda,#f9dbda,#fbe5e4,#f9dcdb,#f9dcdb,#f9dcdb,#f9dcdb,#fae2e1,#fbe8e7) 0 0px/100% 3px no-repeat,linear-gradient(90deg,#f9dddb,#fbe9e8,#fbe8e8,#fbe8e8,#f9dddb,#f9dddb,#f9dddb,#f9dddb,#fbe9e8,#fbe9e8,#fbe9e8,#fbe9e8,#fbe6e5,#f9dcda,#f9dcda,#f9dcda,#fadfde,#fae1e0,#fae1e0,#fae1e0,#fae1e0,#fadedd,#fadedd,#fae3e1,#fbe8e7,#fbe8e7,#fbe8e7,#fbe8e7,#fbe5e4,#fbe5e4,#fbe5e4,#f9dcdb,#f9dcdb,#fae1e0,#fae1e0,#fae1df,#fae1df,#fae1df,#fae1df,#fadddc,#fbe9e8,#fbe9e8,#fbe9e8,#fadedd,#fae3e2,#fae3e2,#fae3e2,#fae3e2,#fbe5e4,#fbe5e4,#fbe5e4,#fbe5e4,#f9dcdb,#f9dcdb,#fbe4e3,#fbe8e7) 0 2.5px/100% 3px no-repeat,linear-gradient(90deg,#fceae9,#fce9e9,#fbe8e7,#f9dcdb,#f9dcdb,#f9dcdb,#f9dcdb,#fbe6e5,#fbe8e7,#fbe8e7,#fbe6e5,#fbe6e5,#fbe6e5,#f9dbda,#fadfde,#fadfde,#fadfde,#fae1e0,#fae1e0,#fae1e0,#fae1e0,#fae3e1,#fae3e2,#fae3e2,#fae3e2,#fbe8e7,#fbe8e8,#fbe8e8,#fbe5e4,#fbe5e4,#fbe5e4,#f9dcdb,#f9dcdb,#f9dcdb,#f9dcdb,#fae1e0,#fae1e0,#fae1e0,#fadddc,#fadddc,#fadddc,#fadddc,#fbe9e8,#fadedd,#fadedd,#fadedd,#fae3e2,#fbe7e6,#fbe7e6,#fbe5e4,#fbe5e4,#fbe5e4,#fbe5e4,#fbe4e3,#fbe4e3,#fbe4e3) 0 5px/100% 3px no-repeat,linear-gradient(90deg,#fbe9e8,#fbe9e8,#fbe9e8,#f9dbda,#f9dbda,#fbe5e4,#fbe5e4,#fbe5e4,#fbe6e5,#fbe5e4,#fbe5e4,#fbe6e5,#f9dad8,#f9dad9,#fadfde,#fadfde,#fadfde,#fbe9e8,#fae1e0,#fae2e0,#fae2e0,#fae3e2,#fae3e2,#fae2e1,#fae2e1,#fbe6e5,#fbe6e5,#fbe6e5,#f9dbd9,#f9dbd9,#f9dbd9,#fae2e1,#fae2e1,#f9dddb,#fae1e0,#fae1e0,#fae1e0,#fae1e0,#fae2e1,#fadddc,#fadddc,#fadddc,#fce9e8,#fadedd,#fadedd,#fadedd,#fadedd,#fbe7e6,#fbe7e6,#fbe7e6,#fbe5e4,#fbe5e4,#fadfde,#fadfde,#fbe4e3,#fbe4e3) 0 7.5px/100% 3px no-repeat,linear-gradient(90deg,#fbe8e8,#fbe8e7,#fbe8e7,#fbe7e6,#fbe4e3,#fbe4e2,#fbe4e3,#fbe4e3,#fbe4e3,#fbe5e4,#fbe4e3,#f9d9d7,#f9d9d8,#f9dad8,#fadfde,#fbe9e8,#fbe9e8,#fbe9e8,#fae1e0,#fae1e0,#fae2e0,#fae2e0,#fae3e1,#fae3e2,#fae3e2,#fbe6e5,#fbe6e5,#fbe6e5,#f9dbda,#f9dbda,#f9dbda,#fae3e1,#fae3e1,#fae2e1,#fae3e2,#fae3e2,#fae3e2,#fae1e0,#fae2e1,#fae2e1,#fae2e1,#fce9e9,#fbe9e8,#fbe9e8,#fbe9e8,#fadedd,#fae2e1,#fae2e1,#fbe7e6,#fbe7e6,#fbe7e6,#fadfde,#fadfde,#fadfde,#fadfde,#fbe4e3) 0 10px/100% 3px no-repeat,linear-gradient(90deg,#fbe8e7,#fbe7e6,#fbe6e5,#f9d8d6,#f9d7d6,#fae1e0,#fae1e0,#fae2e0,#fae2e1,#fae3e2,#f9dbda,#f9d7d6,#f9d8d7,#fae2e1,#fae3e2,#fbe8e7,#fbe9e8,#f9dddb,#f9dddc,#fae2e0,#fae2e1,#fae2e1,#fae3e2,#fae3e2,#fbe3e2,#fae3e2,#fae3e2,#fae3e2,#fbe8e7,#fbe8e7,#fbe8e7,#fcebeb,#fcebea,#fcebea,#fbe3e2,#fae3e2,#fae3e2,#fbe4e3,#fbe4e3,#fae2e1,#fae2e1,#fbe8e7,#fbe8e7,#fbe9e8,#fbe9e8,#fbe9e8,#fae1e0,#fae1e0,#fae1e0,#fbe6e5,#fbe9e8,#fbe9e8,#fadfdd,#fadfde,#fadfde,#fbe4e3) 0 12.5px/100% 3px no-repeat,linear-gradient(90deg,#fbe7e6,#fbe6e5,#fbe4e3,#f8d5d4,#f8d4d3,#fae0df,#fadedd,#fadedd,#f8d7d5,#f9d8d6,#f9d9d7,#f8d5d4,#fae0df,#fae1e0,#fae2e1,#fceae9,#f9dcdb,#f9dddb,#fadddc,#fae2e1,#fae2e1,#fae2e1,#fbe4e2,#fbe4e3,#fbe4e3,#fbe4e3,#fbe4e3,#fbe4e3,#fbe9e8,#fbe9e8,#fbe8e8,#fceceb,#fceceb,#fceceb,#fbe8e8,#fbe8e7,#fbe8e7,#fbe4e3,#fbe4e3,#fbe4e3,#f9dcda,#fbe8e7,#fbe8e7,#fbe8e7,#fbe9e8,#fbe9e8,#fbe9e8,#fae1e0,#fae1e0,#f9dad8,#fbe9e8,#fbe9e8,#fbe9e8,#fadedd,#fadfdd,#fadfde) 0 15px/100% 3px no-repeat,linear-gradient(90deg,#fadddc,#fbe4e3,#f8d5d3,#f8d3d1,#f8d1cf,#f9dcdb,#f9dcda,#f8d2d0,#f8d2d1,#f8d4d2,#f8d1cf,#f8d3d1,#fadddc,#fadfde,#fbe8e7,#fbe9e8,#f9dcda,#fceae9,#fceaea,#fae2e1,#fae3e2,#fbe3e2,#fcedec,#fceded,#fceeed,#fadedd,#fadedd,#fadedd,#fae3e2,#fae3e1,#fae2e1,#fae1e0,#fae1e0,#fadedd,#fce9e9,#fbe9e8,#fbe9e8,#fbe9e8,#fbe8e8,#fbe4e3,#f9dcda,#f9dbda,#fbe8e7,#fbe7e6,#f9d9d8,#fbe8e8,#fbe8e7,#fbe8e7,#f9d9d8,#f9d9d8,#f9d9d8,#fbe8e7,#fbe8e8,#fbe9e8,#fae1e0,#fae1e0) 0 17.5px/100% 3px no-repeat,linear-gradient(90deg,#f9dcdb,#f8d6d4,#f8d3d1,#f7d0ce,#f9dad8,#f9d8d6,#f8d4d2,#f8d3d2,#f7cdcb,#f7cac8,#f7ccca,#f7cfcd,#f8d6d4,#fbe3e2,#fbe6e5,#fadfde,#fae1df,#fce9e9,#fceaea,#fbe8e7,#fbe7e6,#fbe8e7,#fbe8e8,#fcefef,#fdf0ef,#fae3e1,#fae3e2,#fae3e2,#fcefee,#fcefee,#fbe8e7,#fbe3e2,#fae3e2,#fae0df,#fadfde,#fadfde,#fcedec,#fceae9,#fbe9e8,#f9dddb,#f9dcdb,#f9dbda,#f9dbd9,#fbe3e2,#f9d8d7,#f9d8d6,#fbe7e6,#f9dcda,#f9dbda,#f9d8d7,#f9d9d7,#f9d9d7,#fbe8e7,#fbe6e5,#fbe6e5,#fae1e0) 0 20px/100% 3px no-repeat,linear-gradient(90deg,#f9d7d6,#f8d4d3,#f8d1cf,#f8d5d3,#f8d6d5,#f8d3d2,#f7cfcd,#f7cecc,#f7d0ce,#f6c4c2,#f6c7c5,#f7cecc,#f8d1d0,#f8d5d3,#f9dad9,#fadddc,#fadfde,#fbe5e4,#fbe7e6,#fbe9e8,#fbe8e7,#fae0df,#fae2e0,#fbe8e7,#fbe9e8,#fbe5e5,#fbe6e5,#fbe6e5,#fdf2f2,#fdf2f1,#fcebeb,#fcebea,#fceaea,#fbe5e4,#fbe5e4,#fcefef,#fceeee,#fceded,#fceae9,#fadddc,#f9dcdb,#f9dbda,#fbe4e3,#fae3e2,#fae2e1,#f9d7d6,#fae2e1,#f9dad9,#f9dad9,#f9dad9,#f9d8d6,#f9d8d7,#f9d7d6,#fbe5e4,#fbe6e5,#fae1e0) 0 22.5px/100% 3px no-repeat,linear-gradient(90deg,#f8d7d5,#f8d4d2,#f9d7d5,#f8d3d1,#f7cecd,#f7cdcb,#f6cac8,#f6cac8,#f6cac8,#f7cbc9,#f6c5c3,#f6c8c6,#f7ccca,#f7cbc9,#f7cfcd,#f9dbd9,#f9dddb,#fae0df,#fbe7e6,#fae2e1,#fbe4e3,#fae3e2,#fbe4e3,#fcebea,#fceceb,#fcecec,#fdf4f4,#fdf5f4,#fcefee,#fcefee,#fdf3f3,#fdf3f2,#fceeee,#fbe9e8,#fbe8e7,#fbe5e4,#fbe4e3,#fcefef,#fcebeb,#fceae9,#fadddc,#fadedd,#fadddc,#fae3e2,#fae2e1,#f9dad8,#fae1e0,#fae1df,#f9d9d8,#f9d9d8,#f9dad8,#f8d6d4,#f8d7d5,#fbe5e4,#fbe5e4,#fbe6e5) 0 25px/100% 3px no-repeat,linear-gradient(90deg,#f8d7d5,#f8d3d2,#f8d6d4,#f8d1d0,#f6c6c4,#f5c1bf,#f4bebb,#f6c5c3,#f6c4c2,#f4bcb9,#f5bebc,#f5c2bf,#f5c1bf,#f6c6c4,#f7cccb,#f8d6d5,#f9dbd9,#f9dcdb,#fae0df,#fbe3e2,#fbe6e5,#fbe7e6,#fbe9e8,#fceded,#fcefee,#fcefef,#fef7f7,#fef8f8,#fdf2f2,#fdf3f2,#fef7f7,#fef7f7,#fefafa,#fef9f9,#fef8f8,#fceae9,#fbe8e7,#fbe3e2,#fae1e0,#fceceb,#fae1e0,#fadfde,#fadddc,#f9dcdb,#f9dad8,#f9d9d7,#f9d8d6,#fadfde,#fadfde,#fadfde,#fadfde,#fae0df,#f8d6d4,#f8d6d5,#fbe5e4,#fbe5e4) 0 27.5px/100% 3px no-repeat,linear-gradient(90deg,#fbe4e3,#f9dad9,#f8d6d5,#f7cbc9,#f6c5c3,#f5c0bd,#f6c7c5,#f5c3c1,#f3b7b4,#f3b6b4,#f4b8b5,#f5c0bd,#f4bbb8,#f5c2c0,#f6c8c6,#f7cecc,#f8d6d4,#f9dbda,#fae0df,#fbe6e5,#fbe9e8,#fceceb,#fcebea,#fef6f6,#fdf4f4,#fdf5f5,#fceceb,#fcedec,#fef8f7,#fef9f9,#fef8f8,#fef9f9,#fdf2f2,#fefeff,#fdf0ef,#fceded,#fceaea,#fbe8e7,#fbe5e4,#fae2e1,#fae3e2,#fae0df,#fadedd,#fadfdd,#f9dddc,#f9d8d6,#f8d7d5,#f8d6d4,#f8d7d5,#f9d7d5,#fadedd,#fadfde,#f8d4d3,#f8d5d4,#f8d6d5,#f9d8d7) 0 30px/100% 3px no-repeat,linear-gradient(90deg,#fbe4e3,#fae0df,#f9dcdb,#f7ccca,#f6c6c4,#f7cbc9,#f6c6c4,#f5c1bf,#f2b1ae,#f3b2af,#f3b7b5,#f4bab7,#f4b9b6,#f4bcba,#f5c3c0,#f7d0ce,#f8d6d5,#f9dbda,#fae1e0,#fbe5e4,#fdf2f1,#fdf4f4,#fdf5f5,#fef7f6,#fdf4f4,#fceeed,#fdf0ef,#fdf2f1,#fdf2f1,#fdf5f5,#fffdfd,#fcfdfe,#fffdfd,#fffdfd,#fffcfc,#fef7f7,#fef9f9,#fdf4f4,#fdf0ef,#fcebea,#fbe7e6,#fae2e1,#f9dbda,#f9d8d7,#f9dddb,#f9dbd9,#f8d5d4,#f8d6d5,#f8d5d3,#f8d5d3,#f8d5d4,#fadddc,#fadedd,#f9d7d6,#f9d9d7,#f9d8d6) 0 32.5px/100% 3px no-repeat,linear-gradient(90deg,#fbe5e4,#fae2e0,#f8d5d3,#f7d0ce,#f6cac8,#f7cdcb,#f6c7c4,#f3b4b1,#f2b0ad,#f2aba8,#f3b4b1,#f2b0ad,#f3b4b1,#f4b9b7,#f5c4c1,#f7cbc9,#f7ccca,#f8d3d1,#fadedd,#fceded,#fcefef,#fdf2f2,#fceae9,#fceceb,#fcebeb,#fcedec,#fdf0ef,#fdf3f3,#fdf5f5,#fefbfb,#f9fbfd,#edf2f9,#e9f0f8,#f1f5fa,#f6f8fc,#fbfcfd,#fffdfd,#fefcfb,#fdf4f4,#fcefee,#fceaea,#fcefee,#f9dcdb,#f9d9d8,#f9dcdb,#f9dbda,#f9d9d7,#f8d4d3,#f8d4d2,#f8d3d1,#f8d3d2,#f8d2d0,#f8d4d2,#f8d6d4,#f9d8d6,#f9d9d8) 0 35px/100% 3px no-repeat,linear-gradient(90deg,#fbe6e5,#fae3e2,#f9d7d5,#f8d2d0,#f6c8c6,#f5c2bf,#f4bcb9,#f3b6b3,#f2afac,#f2aba8,#f1aaa6,#f3b8b5,#f2b0ad,#f3b3b1,#f4bab7,#f5c0bd,#f6c7c5,#f8d5d3,#fbe3e2,#fbe8e8,#fbe6e5,#fcefee,#fdf1f1,#fbe8e7,#fcebea,#fdf3f2,#fdf4f4,#fef9f9,#fffefe,#f8fafd,#f5f8fc,#e9eff7,#dde7f3,#e5ecf6,#e8eff7,#eef3f9,#f9fafd,#fbfcfe,#fefafa,#fdf3f3,#fbe9e8,#fdf2f1,#fcedec,#f9dad9,#fbe4e3,#f9dad9,#f9d8d6,#f8d3d1,#f8d1d0,#f9dcdb,#f8d2d1,#f8d3d2,#f8d2d0,#f8d3d2,#f8d6d5,#f9d8d7) 0 37.5px/100% 3px no-repeat,linear-gradient(90deg,#fbe6e6,#f9dcda,#f9d9d7,#f8d5d3,#f7cbc9,#f6c5c3,#f6c4c2,#f5bebb,#f3b2af,#f2adaa,#f4b8b5,#f3b7b4,#f2aca8,#f2b0ad,#f4b8b5,#f5bebc,#f6c7c5,#f7cecc,#f8d3d1,#f9dad8,#fadedc,#fbe4e3,#fbe7e6,#fae2e1,#fbe4e3,#fcedec,#fbe8e7,#fcefee,#fef7f7,#f9fbfd,#f2f6fa,#e3ebf6,#dde7f3,#d7e2f1,#e1eaf5,#e8eff7,#f1f5fa,#f6f9fc,#fdfefe,#fdf3f2,#fcedec,#fbe7e6,#fcefef,#fadedd,#fbe4e3,#fae0df,#f8d6d4,#f8d3d2,#f9dad8,#f9d9d8,#f7cfce,#f8d1cf,#f7cfcd,#f8d2d0,#f8d5d3,#fae1df) 0 40px/100% 3px no-repeat,linear-gradient(90deg,#fadedd,#fae1e0,#fadfde,#f8d2d1,#f7cecc,#f7cecd,#f6c9c6,#f7cac8,#f6c5c2,#f3b6b4,#f4bab8,#f2aca8,#f2aca8,#f4bbb9,#f3b4b2,#f3b5b3,#f4bab7,#f6c4c2,#f7ccca,#f7d0cf,#f8d3d2,#f8d7d5,#f9dcda,#f9dad9,#f9d7d5,#fae2e1,#fbe8e7,#fbe9e8,#fdf2f2,#fcfdfe,#f2f5fa,#e2eaf5,#e1eaf5,#d9e4f2,#dee8f4,#e4ecf6,#ebf1f8,#f3f6fb,#fafcfd,#fffffe,#fdf0ef,#fcedec,#fbe6e5,#fadfde,#fbe5e4,#fadfde,#f9d8d7,#f8d5d3,#f8d3d1,#f8d6d4,#f8d6d5,#f7cecc,#f7d0cf,#f7cecc,#f8d1cf,#fae0de) 0 42.5px/100% 3px no-repeat,linear-gradient(90deg,#fadfde,#fae3e1,#fae1e0,#f9dbd9,#f9d7d6,#f8d2d1,#f7cdcb,#f7d0ce,#f6cac8,#f4bcb9,#f3b7b4,#f4bbb8,#f2aeaa,#f4bbb8,#f4bcb9,#f3b6b3,#f3b2af,#f4bab8,#f5c0bd,#f4bcb9,#f5bfbc,#f6c9c7,#f6c8c6,#f7ccca,#f7d0ce,#f9d8d6,#fadedd,#fbe5e4,#fceceb,#fef7f6,#fcfdfe,#f3f6fb,#ebf1f8,#e6edf6,#e7eef7,#ecf1f9,#f1f5fa,#f3f6fb,#f7fafc,#fdfefe,#fdf5f5,#fdf0ef,#fce9e9,#fae1e0,#fae0df,#f8d1cf,#f7cbc9,#f8d2d0,#f7cfce,#f8d3d1,#f8d3d2,#f7cecc,#f8d1cf,#f7ccca,#f7cfce,#fadfdd) 0 45px/100% 3px no-repeat,linear-gradient(90deg,#fbe4e3,#fbe4e2,#fadfdd,#f9dddb,#f9dcdb,#f9d9d7,#f8d6d4,#f8d1cf,#f6c7c5,#f5c2bf,#f5c4c1,#f5c0bd,#f4b8b6,#f4bcba,#f3b3b0,#f2b1ae,#f1a9a5,#f2afac,#f1a8a5,#f2aca8,#f2afac,#f3b5b2,#f3b5b2,#f4b9b7,#f5bebc,#f6c5c3,#f6c9c7,#f8d5d3,#fadedd,#fceded,#fef6f5,#fbfcfd,#f4f7fb,#f1f5fa,#eff4fa,#f1f5fa,#f6f8fc,#f9fafd,#f7f9fc,#fcfdfe,#fef8f8,#fdf2f1,#fef8f7,#fdefef,#fae1e0,#f9d9d8,#f6c9c7,#f7d0ce,#f7cecd,#f5c1bf,#f5c2c0,#f7cbca,#f7cfcd,#f7cbc9,#f7cfcd,#f8d2d0) 0 47.5px/100% 3px no-repeat,linear-gradient(90deg,#fbe5e4,#fbe4e3,#fae0df,#fadedd,#fadfde,#f9dcdb,#f9dad9,#f8d6d4,#f7cac8,#f6c6c4,#f7cbc9,#f6c6c4,#f4bebb,#f5bfbd,#f4bab7,#f1a7a4,#f0a19e,#f0a29f,#ef9a96,#f0a09c,#ef9b97,#ef9c99,#ef9e9b,#f0a3a0,#f1aaa7,#f2adaa,#f3b7b4,#f6c4c2,#f7cfce,#fadfdd,#fceae9,#fef6f6,#fefbfb,#fdfefe,#f4f7fb,#f1f5fa,#f1f5fa,#fafbfd,#fcfdfe,#fafbfd,#fefefe,#fdf2f1,#fefafa,#fdf1f1,#fae2e1,#f9d9d8,#f8d2d0,#f7cdcb,#f7cccb,#f7cbc9,#f5c0be,#f5c3c1,#f7cecc,#f8d2d0,#f7cecc,#f8d6d5) 0 50px/100% 3px no-repeat,linear-gradient(90deg,#fadedd,#fadedc,#fae2e1,#fae1e0,#fae1e0,#fadfde,#fadedd,#f9dbda,#f8d0cf,#f8d5d3,#f8d1d0,#f5c4c2,#f6c4c2,#f5c4c2,#f4bcb9,#f2b1ae,#f0a19d,#ef9995,#ed8f8b,#ec8985,#eb837e,#eb8580,#ec8884,#ec8985,#ed908c,#ee9793,#f0a29f,#f2b1ae,#f5c0be,#f7cecc,#fadedd,#fcebea,#fef6f5,#ffffff,#f6f9fc,#f2f6fb,#f1f5fa,#f0f4fa,#fafcfd,#fdfefe,#fffdfd,#fdf4f4,#fcedec,#fbe5e4,#f9dbda,#f9dad8,#f8d2d1,#f7ccca,#f7ccca,#f7cbc9,#f5c0be,#f5c3c0,#f7cdcb,#f8d1cf,#f8d3d1,#f9d7d5) 0 52.5px/100% 3px no-repeat,linear-gradient(90deg,#fadedd,#fadedd,#fbe3e2,#fae3e2,#fadddc,#fbe8e7,#fbe7e6,#fae0de,#f8d6d5,#f9dcdb,#f9d9d8,#f7ccca,#f6c6c4,#f5bebc,#f3b2af,#f3b3b0,#ef9f9b,#ed928d,#ec8783,#e97974,#e8716b,#e76d67,#e86e69,#e76c66,#e8726c,#ea7c77,#ec8984,#ee9995,#f1aaa7,#f4bdba,#f7cfcd,#fadfde,#fcefee,#fef8f8,#ffffff,#f4f7fb,#f1f5fa,#f7f9fc,#f0f4fa,#f2f6fb,#ffffff,#fbfcfd,#fffcfc,#fbe7e6,#fadddc,#f9dcda,#f8d3d2,#f7cecc,#f7cbca,#f7cac8,#f7ccca,#f7cfcd,#f7cecc,#f8d3d1,#f8d4d3,#f9d8d6) 0 55px/100% 3px no-repeat,linear-gradient(90deg,#fadedd,#fbe4e3,#fbe4e3,#fadfde,#fadfde,#fceae9,#fceae9,#fbe4e3,#fae3e2,#f9d9d8,#f9d8d6,#f9d7d6,#f7cfcd,#f6c6c4,#f4b8b6,#f1aaa7,#f0a5a2,#ed928e,#eb817d,#e76d67,#e6635d,#e45952,#e3524c,#e3524b,#e45650,#e55f59,#e76d67,#ea7e7a,#ee938e,#f1a8a5,#f5bebc,#f8d4d2,#fbe6e5,#fdf6f5,#fffefe,#fbfcfe,#f9fbfd,#f6f8fc,#f6f8fc,#fbfcfe,#f4f7fb,#f8fafd,#ffffff,#fef7f6,#fcefef,#fadddc,#f8d5d3,#f6c7c5,#f5c4c2,#f7cecc,#f7cfcd,#f8d2d1,#f8d1cf,#f8d5d3,#f8d6d4,#f9d9d7) 0 57.5px/100% 3px no-repeat,linear-gradient(90deg,#fae3e2,#fae1e0,#fbe4e3,#fae0df,#fae0df,#fcecec,#fcedec,#fbe8e7,#fbe8e7,#fae0de,#fae2e1,#fae0df,#f9d8d6,#f7d0ce,#f7cdcb,#f4bcba,#f1aba7,#ee9793,#eb8580,#e86f6a,#e45852,#e24a43,#e03f38,#df3b33,#e03c35,#e1443d,#e3514b,#e6645e,#ea7a75,#ed928e,#f2aca9,#f6c5c3,#f9dddb,#fdf0ef,#fffdfc,#fafbfd,#f2f6fb,#f5f8fb,#f5f8fb,#f9fbfd,#f5f8fb,#fdfdfe,#fdfefe,#fef9f9,#fdf5f4,#fbe3e2,#f9dbd9,#f7cdcb,#f6c9c7,#f8d3d1,#f8d3d2,#f8d6d5,#f9d9d8,#f9d8d6,#f8d3d1,#fadddc) 0 60px/100% 3px no-repeat,linear-gradient(90deg,#fae3e2,#fae1e0,#fae2e1,#f9dddb,#fadddc,#fbe5e4,#fbe6e5,#fbe8e7,#fceceb,#fceded,#fbe9e8,#fbe8e7,#fae1e0,#fae2e1,#f9d7d5,#f5bfbc,#f2aca9,#ee9894,#eb827d,#e86f6a,#e45750,#e04039,#de312a,#dd2c24,#dd2c24,#dd2d25,#df3932,#e24c45,#e6625c,#ea7c77,#ef9995,#f3b7b4,#f8d2d1,#fbe8e7,#fefafa,#fdfefe,#f3f6fb,#f0f4fa,#f6f9fc,#f0f4fa,#f1f5fa,#f8fafd,#f8fafd,#fefeff,#fffdfd,#fdf3f3,#fbe5e4,#f9dbda,#f9d7d5,#fadddc,#fadddc,#f9d7d5,#f9d9d7,#f8d3d2,#f8d5d4,#fadfde) 0 62.5px/100% 3px no-repeat,linear-gradient(90deg,#fbe3e2,#fae2e1,#fae2e1,#fadddc,#fadedd,#fbe6e5,#fbe8e7,#fcebeb,#fdf0ef,#fdf2f2,#fceceb,#fceceb,#fcedec,#fae3e2,#f9d8d7,#f6c8c6,#f4bcba,#f0a29e,#ec8985,#e8736e,#e45851,#e03e37,#dd2c24,#dd2c24,#dd2c24,#dd2c24,#dd2c24,#df3932,#e35049,#e76a65,#ec8985,#f1aaa7,#f6c9c7,#fae3e2,#fdf4f4,#fbfcfe,#f4f7fb,#eff4fa,#f1f5fa,#e9eff8,#e9eff7,#f3f7fb,#f5f8fc,#fafbfd,#fcfdfe,#fef9f9,#fceeed,#fbe4e3,#fadedd,#fbe4e3,#fae3e2,#f9dcda,#f9dddb,#f8d6d4,#f9d7d6,#fae0df) 0 65px/100% 3px no-repeat,linear-gradient(90deg,#fbe3e2,#fae2e1,#fae3e2,#fadedd,#fae0de,#fbe8e7,#fceae9,#fceeed,#fdf3f3,#fef7f6,#fdf2f1,#fdf3f2,#fdf4f4,#fceceb,#fae2e1,#f8d3d2,#f6c8c5,#f2b1ae,#ee938f,#e97772,#e55b54,#e0413a,#dd2c24,#dd2c24,#dd2c24,#dd2c24,#dd2c24,#de2f27,#e1453e,#e55f59,#ea7f7a,#f0a29e,#f5c3c1,#fadfde,#fdf3f2,#ffffff,#f6f9fc,#f1f5fa,#eff3f9,#e5edf6,#e3ebf5,#ecf2f9,#eff3f9,#f1f5fa,#f4f7fb,#fcfdfe,#fef8f7,#fcecec,#fbe6e5,#fceae9,#fbe8e7,#fae0df,#fae0df,#f9d8d7,#f9d9d8,#fae1e0) 0 67.5px/100% 3px no-repeat,linear-gradient(90deg,#fbe8e7,#fcedec,#fceeed,#fbe9e8,#fceaea,#fdf0f0,#fdf3f2,#fef6f6,#fcefef,#fdf3f3,#fcfdfe,#fafcfd,#fefbfb,#ffffff,#fef6f6,#fae2e1,#f8d6d4,#f5bfbc,#f1a5a2,#ec8681,#e66761,#e24841,#de3029,#dd2c24,#dd2c24,#dd2c24,#dd2c24,#de2f27,#e1443c,#e55d57,#ea7c77,#f09f9c,#f5c2bf,#fadedd,#fdf2f2,#ffffff,#f8fafd,#f3f6fb,#e8eff7,#eaf0f8,#e8eef7,#dee7f4,#dfe8f4,#e6edf7,#f3f6fb,#fbfcfe,#fdfefe,#fffcfc,#fdf5f4,#fae2e1,#fadfde,#f9dddb,#f9dcdb,#fae0df,#fae0df,#fae0df) 0 70px/100% 3px no-repeat,linear-gradient(90deg,#fbe8e8,#fcedec,#fceeed,#fceae9,#fcebeb,#fdf2f1,#fdf4f4,#fef8f8,#fdf2f1,#fef6f6,#f9fbfd,#f7f9fc,#fefeff,#fafcfd,#fffefe,#fceaea,#fae0df,#f6cac8,#f2adaa,#ed8e89,#e8706b,#e4554f,#df3b34,#dd2c24,#dd2c24,#dd2c24,#dd2c24,#df3730,#e24b44,#e6645e,#eb827d,#f0a3a0,#f5c4c2,#fadfde,#fdf1f1,#fefeff,#f4f7fb,#edf2f9,#edf2f9,#e6edf7,#e6edf6,#dce6f3,#dfe8f4,#e3ebf5,#f0f4fa,#f8fafd,#fafbfd,#fefeff,#fef8f8,#fbe5e4,#fae2e1,#fadfde,#fadedc,#fae2e0,#fae1e0,#fae0df) 0 72.5px/100% 3px no-repeat,linear-gradient(90deg,#fbe9e8,#fceded,#fcefee,#fceae9,#fcecec,#fdf3f2,#fdf6f5,#fefafa,#ffffff,#fbfcfe,#f9fbfd,#f7f9fc,#f6f8fc,#fdfefe,#fefbfb,#fcebea,#f9dcdb,#f8d3d2,#f4bab8,#ef9e9a,#ea7e7a,#e6635d,#e24942,#df3730,#dd2e26,#dd2e26,#df362f,#e1453e,#e45852,#e8706b,#ec8c88,#f1aba8,#f6c9c7,#fae1e0,#fdf3f2,#ffffff,#f9fafd,#f3f7fb,#eff3f9,#e8eff7,#e5ecf6,#e3ebf5,#dde7f4,#e1eaf5,#e8eff7,#f0f4fa,#fdfefe,#fef9f8,#fef9f9,#fbe7e6,#fbe3e2,#fae0df,#fadfdd,#fae2e1,#fae2e1,#fae1e0) 0 75px/100% 3px no-repeat,linear-gradient(90deg,#fbe9e8,#fcecec,#fceeed,#fceae9,#fcecec,#fdf5f4,#fef8f8,#fefbfa,#ffffff,#fafbfd,#f8fafd,#f5f8fc,#f4f7fb,#f5f8fc,#f7f9fc,#fdf5f5,#fbe7e6,#f9d9d7,#f5c4c2,#f0a4a1,#ec8782,#e76d67,#e45852,#e14740,#e03e37,#e03e37,#e1463f,#e3544e,#e76762,#ea7e79,#ee9894,#f3b4b1,#f7cecc,#fbe5e4,#fdf3f2,#fffdfd,#f5f8fc,#f1f5fa,#edf2f9,#ecf2f9,#e5ecf6,#e8eff7,#e3ebf6,#e6eef7,#edf2f9,#f9fbfd,#fffefe,#fef7f6,#fdf0f0,#fbe8e7,#fbe5e4,#fae2e1,#fae0df,#fadedc,#fae0df,#fae1e0) 0 77.5px/100% 3px no-repeat,linear-gradient(90deg,#fce9e9,#fcedec,#fceeed,#fceaea,#fcedec,#fdf5f5,#fef8f8,#fefbfb,#ffffff,#fafbfd,#f6f8fc,#f2f6fb,#f1f5fa,#f2f6fb,#f5f8fc,#fbfcfe,#fceceb,#f9dad9,#f6c5c3,#f2aeab,#ee938f,#ea7a75,#e66660,#e45751,#e24e47,#e24e47,#e4554f,#e6635d,#e97570,#ec8b87,#f0a3a0,#f4bcba,#f8d3d1,#fbe6e5,#fdf1f1,#fcfdfe,#f7f9fc,#f9fafd,#eff4fa,#f1f5fa,#ebf1f8,#ebf1f8,#f2f6fb,#f2f6fb,#f7f9fc,#fefeff,#fef9f9,#fdf3f3,#fceeee,#fbe7e6,#fbe4e3,#fae2e1,#fadfdd,#fadedd,#fae1df,#fae0df) 0 80px/100% 3px no-repeat,linear-gradient(90deg,#fce9e9,#fceaea,#fceeed,#fdf0ef,#fcedec,#fdf5f5,#fef8f8,#fdf5f5,#fefafa,#fef7f7,#fefcfb,#f3f6fb,#f1f5fa,#f2f5fa,#fafbfd,#fffefe,#fceceb,#f9dcdb,#f8d6d4,#f5bebc,#ef9e9b,#ed8e8a,#e97873,#e76862,#e55e57,#e55d57,#e6645e,#e8706b,#eb827d,#ee9793,#f2aeaa,#f5c3c0,#f9d9d7,#fbe7e6,#fdf0ef,#fdfefe,#fffcfc,#ffffff,#f3f6fb,#f1f5fa,#eff4f9,#f7f9fc,#f9fafd,#f9fafd,#fdfdfe,#fef7f7,#fdf2f1,#fcecec,#fceeed,#fbe6e5,#fae3e2,#fae1e0,#fadfdd,#fadedc,#fae0df,#fae0df) 0 82.5px/100% 3px no-repeat,linear-gradient(90deg,#fce9e9,#fceaea,#fceeed,#fcefee,#fcedec,#fdf0ef,#fdf5f5,#fef9f8,#fef9f9,#fdf6f5,#fefafa,#f4f7fb,#f9fbfd,#f4f7fb,#f7f9fc,#ffffff,#fcefee,#fcedec,#fadddc,#f5c3c1,#f2adaa,#ef9996,#ec8985,#e97671,#e8716c,#e76d67,#e9746f,#ea7e79,#ed8f8b,#f0a19d,#f3b6b3,#f6c6c4,#f9d8d7,#fceae9,#fcefee,#fffdfd,#fcfdfe,#fbfcfe,#f9fbfd,#f3f7fb,#f3f7fb,#ffffff,#fffcfc,#fcfdfe,#fffcfc,#fdf2f2,#fceded,#fceae9,#fceceb,#fceae9,#fbe8e8,#fbe7e6,#fbe5e4,#fadedc,#fae0df,#fae0df) 0 85px/100% 3px no-repeat,linear-gradient(90deg,#fbe4e3,#fbe5e4,#fcedec,#fcefee,#fcecec,#fcefee,#fdf4f4,#fef8f7,#fef7f7,#fdfefe,#fffefd,#fdfefe,#fbfcfe,#fbfcfd,#f7f9fc,#fef9f9,#fdf1f0,#fdf1f1,#f8d6d4,#f7cdcb,#f5c0bd,#f1a9a6,#ef9a97,#ed8e8a,#ec8682,#eb847f,#eb8480,#ed8e8a,#ef9c98,#f2aeab,#f4bebb,#f7ccca,#f9dcdb,#fbe8e7,#fef6f6,#fffcfc,#fdfefe,#fafcfd,#fcfdfe,#f7f9fc,#fffdfd,#fefafa,#fdfefe,#fffdfd,#fffefe,#fefafa,#fceaea,#fbe8e7,#fcebea,#fbe9e8,#fbe8e7,#fbe7e6,#fbe4e3,#fbe4e3,#fae1e0,#fae1e0) 0 87.5px/100% 3px no-repeat,linear-gradient(90deg,#fbe4e3,#fbe5e4,#fcedec,#fceeee,#fceceb,#fceeed,#fdf3f3,#fdf2f1,#fefbfb,#ffffff,#fefbfa,#fffefe,#fefeff,#f9fbfd,#fffcfc,#fef9f9,#fdf2f2,#fbe9e8,#f9dcdb,#f8d2d0,#f7cdcb,#f3b7b4,#f1aaa6,#f0a4a1,#ee9793,#ee9692,#f0a09c,#f0a19d,#f1aba8,#f4b8b5,#f6c5c3,#f8d2d0,#fadddc,#fcefef,#fef7f7,#fffdfc,#fefeff,#fcfdfe,#ffffff,#fafbfd,#fef9f9,#fef7f7,#fef6f5,#fef9f9,#fefbfa,#fdf0ef,#fcedec,#fceae9,#fbe8e8,#fbe8e8,#fbe7e6,#fbe5e4,#fbe4e3,#fae2e1,#fae1e0,#f9dcdb) 0 90px/100% 3px no-repeat,linear-gradient(90deg,#fbe5e4,#fbe4e3,#fbe5e4,#fceeed,#fcefef,#fdf3f3,#fef6f5,#fdf0ef,#fdf3f2,#fffcfc,#ffffff,#fefeff,#fcfdfe,#fcfdfe,#fcfdfe,#ffffff,#fefafa,#fcebeb,#fcebea,#f9dbd9,#f7cbc9,#f6c6c4,#f5c2bf,#f4b9b7,#f2adaa,#f3b5b3,#f3b8b5,#f3b5b2,#f4bcb9,#f6c6c4,#f7cfcd,#fbe3e2,#fbe7e6,#fdf2f2,#fdf1f1,#ffffff,#fdfefe,#fefbfb,#fefbfb,#fffdfd,#fdf5f5,#fdf4f4,#fdf2f1,#fceceb,#fbe9e8,#fceded,#fcebea,#fbe9e8,#fbe7e7,#fae0df,#fae0de,#fbe5e4,#fbe4e3,#fae2e0,#fae1e0,#f9dcdb) 0 92.5px/100% 3px no-repeat,linear-gradient(90deg,#fbe5e4,#fbe4e3,#fbe4e3,#fceeee,#fdf0ef,#fdf2f2,#fdf4f4,#fceeed,#fdf0f0,#fef6f5,#fef8f8,#fffdfc,#ffffff,#ffffff,#fffcfc,#fefbfb,#fefaf9,#fdf5f5,#fcefee,#fbe7e6,#f8d6d4,#f7cecc,#f7cccb,#f5c4c1,#f5c1be,#f5c0bd,#f7cecc,#f8d2d0,#f7ccca,#f9d7d6,#fadedd,#fcebeb,#fce9e9,#fceeed,#fdf1f0,#fdf3f3,#fef9f9,#fefaf9,#fef9f9,#fef8f8,#fdf0f0,#fceeee,#fceaea,#fbe8e7,#fdf1f1,#fcefef,#fbe9e8,#fbe7e6,#fae0df,#fae0de,#fcebea,#fcebea,#fceae9,#fbe6e6,#fae1e0,#f9dcda) 0 95px/100% 3px no-repeat,linear-gradient(90deg,#fae0de,#fae2e1,#fbe3e2,#fbe4e3,#fcefee,#fdf0f0,#fdf3f2,#fdf4f4,#fbe7e6,#fbe9e8,#fdf5f4,#fef7f6,#fefbfa,#fef8f8,#fef8f8,#fef8f8,#fef8f7,#fdf5f5,#fdf1f0,#fbe8e7,#fae3e2,#fbe6e5,#f9dad8,#fadfde,#fadddc,#f9dad8,#fadedc,#fae0df,#f9d9d7,#fbe6e5,#fceae9,#fbe9e8,#fceceb,#fceeee,#fef9f9,#fcedec,#fceded,#fdf5f5,#fdf5f4,#fcedec,#fcebea,#fceaea,#fbe8e8,#fbe4e3,#fceeed,#fcedec,#fae0de,#fadfde,#fadfde,#fadfde,#fcebea,#fceae9,#fbe7e6,#fbe6e5,#fae1e0,#fae0df) 0 97.5px/100% 3px no-repeat,linear-gradient(90deg,#fadfde,#fae0df,#fae3e2,#fbe3e2,#fceeed,#fcefee,#fceceb,#fcedec,#fceeee,#fbe6e5,#fbe8e7,#fbe9e8,#fcebea,#fdf4f3,#fdf5f4,#fdf5f4,#fdf5f4,#fdf3f3,#fdf1f0,#fceeed,#fbe8e7,#fcedec,#fceaea,#fae2e0,#fbe5e5,#fbe6e5,#fce9e8,#fcebea,#fae1e0,#fae3e2,#fceeee,#fceeed,#fcefee,#fef6f6,#fef7f6,#fcedec,#fcedec,#fcecec,#fbe8e7,#fbe7e6,#fbe5e4,#fbe5e4,#fbe4e3,#fbe9e8,#fcebea,#fadedd,#fadedd,#fceceb,#fcebeb,#fbe6e5,#fceae9,#fceae9,#fbe6e5,#fbe6e5,#fae1df,#fae0df) 0 100px/100% 3px no-repeat,linear-gradient(90deg,#fadfde,#fadfde,#fae2e1,#fae3e2,#fae3e2,#fbe7e6,#fbe8e7,#fcebea,#fcecec,#fbe4e3,#fceae9,#fbe6e5,#fbe7e6,#fbe8e7,#fdf1f1,#fdf2f2,#fdf1f0,#fceae9,#fbe9e8,#fceeee,#fdf2f1,#fdf0f0,#fbe8e7,#fbe8e7,#fdf1f1,#fdf2f1,#fbe7e6,#fbe8e7,#fbe5e4,#fbe6e5,#fbe7e6,#fbe7e6,#fceded,#fcebea,#fceeed,#fcedec,#fbe7e6,#fbe5e4,#fae1e0,#fae2e1,#fae1e0,#fae0df,#fbe5e4,#fbe5e4,#fbe5e4,#fbe5e4,#f9dcdb,#fceaea,#fceaea,#fbe5e4,#fbe5e4,#fbe6e5,#fbe6e5,#fae1df,#fae0df,#fae0df) 0 102.5px/100% 3px no-repeat,linear-gradient(90deg,#fae3e2,#fadfde,#fadfde,#fae1e0,#fae2e1,#fbe6e5,#fbe6e5,#fbe7e6,#fceae9,#fceeed,#fbe7e7,#fbe8e7,#fbe3e2,#fbe7e6,#fbe8e7,#fceeed,#fceeed,#fdf3f2,#fbe6e5,#fceae9,#fce9e9,#fdf0f0,#fceded,#fcedec,#fdf3f3,#fdf3f3,#fbe4e3,#fce9e9,#fbe6e5,#fceeee,#fbe6e5,#fbe5e4,#fbe8e7,#fbe6e5,#fbe9e8,#fbe5e4,#fae0de,#fadedd,#fae1e0,#f9dcdb,#f9dcda,#f8d7d5,#fae1e0,#fae2e0,#fae2e1,#fae3e2,#fae1e0,#fbe9e8,#fbe4e3,#fbe5e4,#fceceb,#fceceb,#fceceb,#fae0df,#fae0df,#fadfde) 0 105px/100% 3px no-repeat,linear-gradient(90deg,#fae3e2,#fae3e2,#fae3e2,#fbe3e2,#fae1e0,#fae2e1,#fbe5e4,#fbe6e5,#fcebea,#fceceb,#fceceb,#fbe5e4,#fae0df,#fbe4e3,#fbe4e3,#fbe4e3,#fceeed,#fceeee,#fcefee,#fbe6e5,#fbe6e5,#fdf1f0,#fdf1f0,#fceceb,#fdf2f1,#fdf2f2,#fae2e1,#fae2e1,#fceceb,#fcebeb,#fae2e1,#fae1df,#f9dcdb,#f9dad9,#fae1e0,#fadfde,#fadddc,#f9dcdb,#f9dbd9,#f9dad9,#f8d2d0,#f8d2d0,#fae3e2,#fadedd,#fae0de,#fadfdd,#fae0df,#f9d9d8,#fbe3e2,#fbe4e3,#fcebea,#fcebea,#fbe4e3,#fbe4e3,#fbe4e3,#fadfde) 0 107.5px/100% 3px no-repeat,linear-gradient(90deg,#fbe6e5,#fbe6e5,#fae3e1,#fae3e2,#fae1df,#fae1e0,#fadedd,#fadedd,#fadfdd,#fceae9,#fceae9,#fbe5e4,#fadddc,#fadddc,#fadddc,#fbe4e3,#fbe4e3,#fbe4e3,#fbe8e7,#fbe8e7,#fbe8e8,#fcecec,#fcedec,#fbe7e6,#fbe7e6,#fbe7e6,#fbe5e4,#fbe5e4,#fceceb,#fcebea,#fbe9e8,#fbe7e6,#f8d7d5,#f8d4d3,#f8d2d0,#fae0df,#fadfdd,#f8d6d5,#f8d5d4,#f8d5d4,#f8d6d4,#fadedd,#fae0df,#fae1e0,#f9dbda,#f9dddc,#f9d7d5,#f9d8d7,#f9d9d8,#fae2e1,#fceaea,#fbe4e3,#fbe4e3,#fbe4e3,#fae1e0,#fae1e0) 0 110px/100% 3px no-repeat,linear-gradient(90deg,#fbe6e5,#fbe6e5,#fae2e1,#fae2e1,#fae2e1,#fadddc,#fadddc,#fadddc,#fadddc,#fadddc,#fbe3e2,#fbe3e2,#fae3e2,#f9dad9,#fbe8e7,#fbe8e7,#fae0df,#fae0df,#fbe6e5,#fbe4e3,#fbe4e3,#fadfde,#fadfde,#f9dbda,#f9dcda,#fae2e1,#fae0df,#fae0df,#fbe7e6,#fbe6e5,#fbe3e2,#fae1e0,#fadfde,#fadfde,#fadddc,#f9dbda,#f9d9d8,#f9d8d7,#f8d1d0,#f8d2d0,#f8d1cf,#f9dbda,#fadddc,#f8d4d3,#f8d6d5,#f9dbda,#f8d6d4,#f9d7d5,#fae1df,#fae2e0,#fae2e1,#fbe3e2,#fbe4e3,#fae1e0,#fae1e0,#fae1e0) 0 112.5px/100% 3px no-repeat,linear-gradient(90deg,#fbe5e4,#fbe5e4,#fbe5e4,#fae2e1,#f9dad8,#f9dad8,#f9dddb,#f9dddb,#f9dcdb,#fbe9e8,#fbe8e8,#fae2e0,#fae1e0,#fae0df,#fbe6e5,#fbe5e4,#fbe5e4,#f9d7d5,#fae3e2,#fae3e2,#fadfdd,#fadfdd,#f9dbda,#f9d7d5,#f9d7d5,#f9d7d5,#f8d7d5,#f8d6d5,#f8d3d2,#f8d2d0,#fadedd,#f9dcdb,#f9dbd9,#f9dbda,#f8d6d5,#f8d5d3,#f8d6d5,#f8d6d4,#f7cfcd,#f7cecc,#f7cfcd,#f8d1cf,#f8d1cf,#f8d3d1,#fadfdd,#fae1df,#f8d5d3,#fadfdd,#fae0df,#fae1e0,#fbe9e8,#fbe9e8,#fbe3e2,#fae1e0,#fae1e0,#fadddc) 0 115px/100% 3px no-repeat,linear-gradient(90deg,#fae0df,#fbe5e4,#f9dad8,#f9dad8,#f9dad8,#f9d9d8,#f9d9d8,#f9dcdb,#fbe7e6,#fbe7e6,#fbe7e7,#fbe7e6,#fae0df,#f9d8d7,#f9d7d6,#f8d7d5,#fae3e2,#f8d5d3,#f8d4d3,#f8d4d2,#f9dcdb,#f9dcdb,#f9dcda,#fae0df,#fae0df,#fae1e0,#fae1e0,#fae0df,#fae0df,#fadfde,#f8d3d2,#f8d2d0,#f7d0cf,#f8d6d4,#f8d4d3,#f8d3d2,#f7cecd,#f7cecc,#f7cecc,#f7cdcb,#f8d3d2,#f8d5d3,#f9d7d5,#f9dcda,#fadedd,#fae0df,#fadedd,#fadedd,#fadfde,#fbe7e7,#fbe8e7,#fbe9e8,#fae2e1,#fae1e0,#fae1e0,#fadddc) 0 117.5px/100% 3px no-repeat,linear-gradient(90deg,#fae0df,#f9dbd9,#f9dad8,#f9dad8,#f9d9d8,#f9d9d8,#f9d9d8,#fadfde,#fbe7e6,#fbe6e5,#fbe6e5,#fbe7e6,#fae2e1,#fae1e0,#f9d7d5,#f8d6d4,#fae0de,#f8d4d3,#f8d4d2,#f8d6d4,#f8d5d4,#f8d5d3,#f9d9d8,#fadfdd,#fadedd,#fae0de,#fadfde,#fadfde,#fadfdd,#fadedd,#fadddc,#f8d1cf,#f7d0ce,#f7cdcb,#f7ccca,#f7cbc9,#f7cfcd,#f7cfcd,#f6c9c7,#f6c9c7,#f8d4d2,#f8d5d4,#f9d9d8,#f9dbda,#fadedc,#f9dcdb,#fadedd,#fae0de,#fbe6e5,#fbe7e6,#fbe8e7,#fae2e1,#fae2e1,#fae3e1,#fbe8e7,#fadddc) 0 120px/100% 3px no-repeat,linear-gradient(90deg,#f9dbda,#f9dbd9,#f9dbd9,#f9dad8,#f9d9d8,#f9d9d8,#fae0de,#fadfde,#fadfde,#fbe6e5,#fbe6e5,#f9d9d8,#fae2e1,#fae1e0,#fae1df,#fae1e0,#fae0df,#fadfde,#fadfdd,#f9d9d7,#f8d6d4,#f8d5d4,#f9dad8,#f9dad8,#f9d9d8,#f9d9d8,#f9d9d7,#f9d8d7,#fadedd,#fadddc,#f9dcdb,#f8d1cf,#f7d0ce,#f7cfcd,#f7cdcb,#f7cdcb,#f9d7d6,#f7cac8,#f7cac8,#f7cbc9,#f9d7d6,#f9d9d7,#f9dad9,#f9dcda,#f9dbd9,#f9dddb,#fadedd,#f9d8d7,#f9d9d8,#fbe7e6,#fae1e0,#fae2e1,#fae2e1,#fbe7e6,#fbe8e7,#fbe8e7) 0 122.5px/100% 3px no-repeat,linear-gradient(90deg,#f9dddb,#f9dbda,#f9dbd9,#f9dbd9,#f9dad8,#fae1e0,#fae1df,#fadfde,#fadfde,#fadfde,#fbe6e5,#f9dad8,#f9d9d8,#fae2e1,#fae1e0,#fadfde,#fadedd,#fae1df,#fae0df,#f9dad9,#f9dad8,#f9d9d8,#fadfde,#f9dbda,#f9dbda,#f9dbd9,#f9dad9,#f9dad9,#fae0de,#fadfde,#fadedd,#f8d3d1,#f8d2d0,#f9d8d7,#f9dbda,#f9dbd9,#f9dad9,#f7cdcb,#f8d3d1,#f8d3d2,#f8d4d2,#f9dad9,#f8d3d2,#f8d5d3,#f8d6d5,#fadddc,#f9d7d6,#f9d8d7,#f9dad8,#f9dbd9,#fae1e0,#fae2e1,#fbe7e6,#fbe7e6,#fbe8e7,#fbe9e8) 0 125px/100% 3px no-repeat,linear-gradient(90deg,#f9dddb,#f9dbda,#f9dbda,#f9dbd9,#fbe6e5,#fae1e0,#fae1e0,#fae1e0,#fae0de,#fadfde,#fbe8e7,#f9dbd9,#f9dad9,#f9dad8,#fbe6e5,#fae0df,#fae0df,#fadfde,#fadfde,#fadedd,#f9dcda,#f9dbda,#fae1e0,#fae1e0,#fae1e0,#f9d9d7,#f9d9d7,#f9d8d7,#fadfde,#fadfde,#fadedd,#f9dddb,#f9dcdb,#f9dbda,#fadedd,#fadedc,#f9d8d7,#f9d8d6,#f8d6d4,#f8d6d4,#f8d6d5,#f8d4d3,#f8d5d4,#f8d7d5,#fadfde,#fae0df,#f9d8d6,#f9d9d7,#f9dad9,#f9dbda,#f9dcda,#fbe7e6,#fbe7e6,#fbe7e6,#fbe9e8,#fbe9e8) 0 127.5px/100% 3px no-repeat,linear-gradient(90deg,#f9dddb,#f9dddb,#f9dbda,#fbe6e5,#fbe6e5,#fbe6e5,#fae1e0,#fae1e0,#fae1e0,#fbe8e8,#fbe8e7,#fbe8e7,#fbe8e7,#f9dbd9,#fbe7e6,#fbe6e5,#fbe6e5,#fae1e0,#fae1df,#fae0df,#fae0df,#fbe3e2,#fae3e2,#fae3e2,#fbe3e2,#f9dbda,#f9dbd9,#f9dbd9,#fae1e0,#fae1e0,#fae1e0,#fadfde,#fae0df,#fadfde,#f9dcdb,#f9dcda,#f9dbda,#f9dbd9,#f9d9d7,#f8d6d4,#f8d6d5,#f9d7d5,#f9d7d6,#fadfde,#fae0df,#fae1e0,#fae2e1,#f9dad8,#f9dbd9,#f9dbda,#f9dad8,#f9dad9,#fbe7e6,#fbe9e8,#fbe9e8,#fbe9e8) 0 130px/100% 3px no-repeat,linear-gradient(90deg,#f9dddb,#f9dddb,#fbe6e5,#fbe6e5,#fbe6e5,#fbe6e5,#fbe6e5,#fae1e0,#fbe7e6,#fbe7e6,#fbe7e6,#fbe9e8,#fbe8e8,#fbe9e8,#fbe9e8,#fbe7e6,#fbe7e6,#f9dad8,#f9d9d8,#f9d9d8,#fae2e0,#fbe5e4,#fbe5e4,#fbe5e4,#fbe4e3,#fbe5e4,#fbe5e4,#fbe5e4,#fbe5e4,#fbe5e4,#fbe4e3,#fae3e2,#fae2e1,#fae2e1,#fae1e0,#fadedd,#f9d8d6,#f9d8d6,#f9d9d7,#f9d8d7,#f9d9d7,#f9d7d6,#f9d8d6,#fae1e0,#fae2e0,#fadedc,#fadfdd,#fadfde,#f9dbda,#f9d9d8,#f9dad8,#f9dad9,#fae0df,#fbe9e8,#fbe9e8,#fbe9e8) 0 132.5px/100% 3px no-repeat,linear-gradient(90deg,#fae1df,#fbe6e5,#fbe6e5,#fbe6e5,#fbe6e5,#fbe6e5,#fbe6e5,#fadedd,#fbe7e7,#fbe7e6,#fbe7e6,#fbe7e6,#fbe9e8,#fceae9,#fce9e9,#fce9e9,#fce9e8,#f9dad9,#f9dad9,#f9dad9,#f9dad9,#fae1e0,#fae1e0,#fae1e0,#fbe6e6,#fbe6e5,#fbe6e5,#fbe6e5,#fbe6e5,#fbe6e5,#fbe6e5,#fbe7e6,#fbe7e6,#fbe6e5,#fbe6e5,#f9dad9,#f9dad9,#f9dad8,#f9d9d8,#f9d9d8,#f9d9d8,#f9d9d8,#f9dad8,#fae2e1,#fadedd,#fadfde,#fadfde,#fae0df,#f9d9d8,#f9dad8,#f9dad9,#fae0df,#fae0df,#fae0df,#fbe9e8,#fbe6e5) 0 135px/100% 3px no-repeat,linear-gradient(90deg,#fbe3e2,#fbe3e2,#fbe6e5,#fbe6e5,#fbe6e5,#fbe6e5,#fbe6e5,#fadedd,#fadedd,#fadedd,#fbe7e7,#fbe7e7,#fadddc,#fadddc,#fceae9,#fceae9,#fae1e0,#fae1e0,#fae1e0,#f9dbda,#fae2e1,#fae2e1,#fae2e1,#fae2e1,#f9dbda,#f9dbda,#f9dbda,#f9dbda,#fbe9e8,#fbe9e8,#fbe9e8,#fbe8e8,#fbe8e7,#fbe8e7,#fbe7e6,#f9dcdb,#fbe7e6,#fbe6e5,#fbe6e5,#f9dbd9,#f9dbd9,#f9dbd9,#fadddc,#fadddc,#fadfde,#fae0df,#fae0df,#fae0df,#fae1e0,#f9dad9,#fae0df,#fae0df,#fae0df,#fae0df,#fbe3e2,#fbe6e5) 0 137.5px/100% 3px no-repeat;filter:blur(0.3px)"></div></div>
<div style="position:absolute;left:26.4px;top:190.4px;width:280px;height:140.8px;overflow:hidden"><div style="position:absolute;left:-8px;top:-8px;width:300px;height:160px;background:linear-gradient(90deg,#fefaf9,#fef9f9,#fef8f8,#fef7f7,#fef6f6,#fdf4f4,#fdf2f2,#fdf0f0,#fcefee,#fcedec,#fcebeb,#fceae9,#fbe8e7,#fbe7e6,#fbe5e4,#fbe4e3,#fae2e1,#fae1e0,#fae0de,#fadedd,#fadddc,#f9dcdb,#f9dbd9,#f9d9d8,#f9d8d6,#f8d6d4,#f8d4d2,#f8d2d1,#f7d0cf,#f7cfcd,#f7cdcb,#f7ccca,#f7cbca,#f7cbc9,#f7ccca,#f7cdcb,#f7cfcd,#f8d1cf,#f8d3d1,#f8d6d4,#f9d9d7,#f9dbda,#fadedd,#fae1e0,#fbe3e2,#fbe5e4,#fbe7e6,#fbe9e8,#fceae9,#fceceb,#fcedec,#fceeee,#fcefef,#fdf1f0,#fdf2f2,#fdf3f3,#fdf5f4,#fef6f6,#fef8f7,#fef9f9,#fefafa,#fefcfc,#fffdfd,#fffefe,#ffffff,#feffff,#fefeff,#fefefe,#fdfefe,#fdfefe,#fdfefe,#fefefe,#fefeff,#fefeff,#fefeff) 0 0px/100% 4.5px no-repeat,linear-gradient(90deg,#fefbfb,#fefafa,#fefafa,#fef9f8,#fef7f7,#fdf5f5,#fdf3f3,#fdf1f1,#fcefef,#fceeed,#fceceb,#fceaea,#fbe9e8,#fbe7e6,#fbe5e4,#fbe4e3,#fae2e1,#fae0df,#fadfde,#fadddc,#f9dbda,#f9dad8,#f9d8d6,#f8d6d4,#f8d3d2,#f8d1cf,#f7cecc,#f7ccca,#f6c9c7,#f6c6c4,#f6c4c2,#f5c3c1,#f5c2c0,#f5c2bf,#f5c2c0,#f5c4c1,#f6c6c4,#f6c9c7,#f7ccca,#f7cfce,#f8d3d2,#f9d7d6,#f9dbda,#fadedd,#fae2e1,#fbe4e3,#fbe7e6,#fbe9e8,#fcebea,#fcecec,#fceeed,#fcefef,#fdf1f0,#fdf2f2,#fdf4f3,#fdf6f5,#fef7f7,#fef9f9,#fefbfb,#fffdfd,#ffffff,#fefeff,#fcfdfe,#fbfcfe,#fafbfd,#f9fbfd,#f9fafd,#f8fafd,#f8fafd,#f9fbfd,#f9fbfd,#fafbfd,#fafcfd,#fbfcfe,#fcfdfe) 0 4px/100% 4.5px no-repeat,linear-gradient(90deg,#fffefe,#ffffff,#fffefe,#fffdfd,#fefcfc,#fefafa,#fef8f8,#fef6f6,#fdf5f4,#fdf3f3,#fdf2f1,#fdf0f0,#fcefee,#fceded,#fceceb,#fceae9,#fbe8e7,#fbe7e6,#fbe5e4,#fae3e2,#fae0df,#fadedd,#f9dbda,#f9d8d7,#f8d5d4,#f8d2d0,#f7cecc,#f6cac8,#f6c7c5,#f5c4c1,#f5c1bf,#f5bfbd,#f4bebb,#f4bdbb,#f5bebc,#f5c0bd,#f5c2c0,#f6c6c4,#f6cac8,#f7cecd,#f8d3d2,#f9d8d7,#fadddc,#fae1e0,#fbe5e5,#fbe9e8,#fceceb,#fceeee,#fdf0f0,#fdf2f2,#fdf4f3,#fdf5f5,#fef7f6,#fef8f8,#fefaf9,#fefbfb,#fffdfd,#ffffff,#fdfefe,#fbfcfe,#f9fbfd,#f8fafd,#f6f9fc,#f5f8fc,#f4f7fb,#f3f6fb,#f2f6fb,#f2f6fb,#f3f6fb,#f3f7fb,#f4f7fb,#f5f8fc,#f7f9fc,#f8fafd,#f9fbfd) 0 8px/100% 4.5px no-repeat,linear-gradient(90deg,#fcfdfe,#fcfdfe,#fcfdfe,#fcfdfe,#fdfefe,#ffffff,#fffefe,#fffcfc,#fefbfa,#fef9f9,#fef8f8,#fef7f7,#fdf6f5,#fdf4f4,#fdf3f3,#fdf1f1,#fdf0ef,#fceeed,#fceceb,#fbe9e8,#fbe6e5,#fae3e1,#fadfdd,#f9dad9,#f8d6d4,#f8d1cf,#f7ccca,#f6c7c5,#f5c3c0,#f5bfbc,#f4bcb9,#f4b9b7,#f4b8b5,#f4b8b5,#f4b9b6,#f4bbb8,#f4bebb,#f5c2bf,#f6c7c4,#f7ccca,#f8d2d0,#f9d8d7,#fadedd,#fbe4e3,#fbe9e8,#fceeed,#fdf1f1,#fdf4f4,#fef7f6,#fef9f8,#fefafa,#fefcfc,#fffdfd,#fffefe,#fefeff,#fdfefe,#fcfdfe,#fafbfd,#f8fafd,#f7f9fc,#f5f8fc,#f3f7fb,#f2f6fb,#f1f5fa,#f0f4fa,#eff4fa,#eff3f9,#eff4fa,#f0f4fa,#f0f5fa,#f2f5fa,#f3f6fb,#f5f8fb,#f6f9fc,#f8fafc) 0 12px/100% 4.5px no-repeat,linear-gradient(90deg,#fafbfd,#f9fbfd,#f9fbfd,#f9fbfd,#fafcfd,#fbfcfe,#fdfdfe,#fefeff,#fffffe,#fffdfd,#fffcfc,#fefbfb,#fefafa,#fef9f9,#fef8f8,#fef6f6,#fdf4f4,#fdf2f1,#fcefee,#fceceb,#fbe7e7,#fae3e1,#fadddc,#f9d7d5,#f8d1cf,#f6cac8,#f5c3c1,#f4bdbb,#f4b8b5,#f3b3b0,#f2b0ad,#f2adaa,#f2aca9,#f2aca9,#f2adaa,#f2afac,#f3b3b0,#f4b8b5,#f4bebb,#f6c4c2,#f7ccca,#f8d3d2,#f9dbda,#fae2e1,#fbe9e8,#fceeee,#fdf3f3,#fef7f7,#fefafa,#fffdfd,#ffffff,#fefeff,#fdfefe,#fcfdfe,#fbfcfe,#fafbfd,#f8fafd,#f7f9fc,#f6f8fc,#f4f7fb,#f3f6fb,#f2f5fa,#f1f5fa,#f0f4fa,#eff4fa,#eff3f9,#eff3f9,#eff4fa,#f0f4fa,#f1f5fa,#f2f6fb,#f3f7fb,#f5f8fb,#f6f9fc,#f8fafc) 0 16px/100% 4.5px no-repeat,linear-gradient(90deg,#f8fafd,#f7f9fc,#f7f9fc,#f7f9fc,#f8fafd,#fafbfd,#fbfcfe,#fdfdfe,#fefeff,#ffffff,#fffefe,#fffdfd,#fffcfc,#fefbfb,#fefafa,#fef8f8,#fef6f6,#fdf3f3,#fcefef,#fcebea,#fbe5e4,#fadedd,#f8d6d5,#f7cecc,#f6c5c3,#f4bdba,#f3b5b2,#f2adaa,#f1a6a3,#f0a19e,#ef9d9a,#ef9b97,#ef9a96,#ef9a96,#ef9c98,#f09f9b,#f0a3a0,#f1a9a6,#f2b0ad,#f3b8b5,#f5c0be,#f6c9c7,#f8d3d1,#f9dcda,#fbe4e3,#fcebeb,#fdf2f1,#fef7f7,#fefbfb,#fffefe,#fefefe,#fcfdfe,#fbfcfe,#f9fbfd,#f8fafd,#f7f9fc,#f6f9fc,#f5f8fc,#f4f7fb,#f3f6fb,#f2f5fa,#f1f5fa,#f0f4fa,#eff4fa,#eff4fa,#eff4fa,#eff4fa,#f0f4fa,#f1f5fa,#f2f6fa,#f3f6fb,#f4f7fb,#f5f8fc,#f7f9fc,#f8fafd) 0 20px/100% 4.5px no-repeat,linear-gradient(90deg,#f7f9fc,#f5f8fc,#f5f8fc,#f6f8fc,#f7f9fc,#f8fafd,#fafcfd,#fcfdfe,#fdfefe,#fefeff,#ffffff,#fffefe,#fffdfd,#fffcfc,#fefbfb,#fef9f9,#fef6f6,#fdf3f2,#fceeed,#fbe8e7,#fae0df,#f9d7d6,#f7cdcb,#f5c2c0,#f3b7b5,#f2aca9,#f0a29f,#ef9995,#ed918d,#ec8c87,#ec8883,#eb8581,#eb8580,#eb8681,#ec8884,#ec8c88,#ed918d,#ee9894,#f09f9c,#f1a8a5,#f3b2af,#f4bdba,#f6c8c5,#f8d2d1,#f9dddb,#fbe6e5,#fceeee,#fdf5f5,#fefbfa,#ffffff,#fcfdfe,#fafcfd,#f9fafd,#f7f9fc,#f6f8fc,#f4f7fb,#f3f6fb,#f2f6fb,#f1f5fa,#f0f4fa,#eff3f9,#eef3f9,#eef3f9,#edf2f9,#edf2f9,#eef3f9,#eef3f9,#eff4fa,#f0f4fa,#f1f5fa,#f2f6fb,#f4f7fb,#f5f8fc,#f6f9fc,#f8fafc) 0 24px/100% 4.5px no-repeat,linear-gradient(90deg,#f5f8fc,#f4f7fb,#f4f7fb,#f4f7fb,#f6f8fc,#f7fafc,#f9fbfd,#fbfcfe,#fdfdfe,#fefeff,#ffffff,#fffefe,#fffefe,#fffdfc,#fefbfb,#fef9f9,#fef6f6,#fdf2f1,#fceceb,#fbe5e4,#f9dbda,#f7d0ce,#f5c4c1,#f3b6b3,#f1a8a5,#ef9b97,#ed8f8a,#eb847f,#ea7b76,#e97570,#e8716c,#e86f6a,#e86f6a,#e8716b,#e9746f,#e97873,#ea7e7a,#eb8681,#ed8e8a,#ee9894,#f0a3a0,#f2afac,#f4bbb9,#f6c8c6,#f8d4d3,#fae0de,#fceae9,#fdf2f2,#fefaf9,#ffffff,#fbfcfe,#f8fafd,#f6f9fc,#f4f7fb,#f2f6fb,#f0f5fa,#eff3f9,#edf2f9,#ecf1f8,#ebf1f8,#eaf0f8,#e9eff8,#e9eff7,#e9eff7,#e9eff7,#e9f0f8,#eaf0f8,#ebf1f8,#edf2f9,#eef3f9,#f0f4fa,#f1f5fa,#f3f6fb,#f4f7fb,#f6f9fc) 0 28px/100% 4.5px no-repeat,linear-gradient(90deg,#f4f7fb,#f3f6fb,#f2f6fb,#f3f6fb,#f4f7fb,#f6f9fc,#f9fafd,#fbfcfe,#fcfdfe,#fefeff,#feffff,#ffffff,#fffefe,#fffdfd,#fefbfb,#fef9f9,#fef6f6,#fdf1f1,#fceaea,#fae2e1,#f8d7d5,#f6c9c7,#f4bbb8,#f1aaa7,#ef9a96,#ec8b86,#ea7c77,#e8706b,#e66661,#e55f59,#e55b55,#e45953,#e45a54,#e55c56,#e5605a,#e66660,#e76c67,#e9746f,#ea7e79,#ec8884,#ee9490,#f0a29e,#f2afac,#f4bebb,#f7ccca,#f9d9d8,#fbe5e4,#fdf0ef,#fef9f8,#fefeff,#fafbfd,#f6f8fc,#f3f6fb,#f0f4fa,#eef3f9,#ebf1f8,#e9eff8,#e7eef7,#e6edf6,#e4ecf6,#e3ebf5,#e2eaf5,#e2eaf5,#e2eaf5,#e2eaf5,#e3ebf5,#e4ecf6,#e6edf6,#e7eef7,#e9eff8,#ebf1f8,#edf2f9,#eff4fa,#f1f5fa,#f3f7fb) 0 32px/100% 4.5px no-repeat,linear-gradient(90deg,#f3f6fb,#f1f5fa,#f1f5fa,#f2f5fa,#f3f7fb,#f6f8fc,#f8fafd,#fafcfd,#fcfdfe,#fdfefe,#feffff,#ffffff,#fffefe,#fffdfd,#fefcfc,#fef9f9,#fef6f6,#fdf1f0,#fbe9e8,#fadfde,#f8d3d1,#f5c4c1,#f3b3b0,#f0a09d,#ed8e8a,#ea7c77,#e76c67,#e55e58,#e3534d,#e24c45,#e14740,#e1453e,#e1463f,#e24942,#e24e47,#e3544d,#e55b55,#e6645e,#e86e69,#e97a74,#ec8682,#ee9591,#f0a4a0,#f3b3b1,#f5c3c1,#f8d2d1,#fae1df,#fcedec,#fef8f8,#fdfefe,#f8fafc,#f3f6fb,#eff3f9,#ebf1f8,#e8eff7,#e5edf6,#e2ebf5,#e0e9f4,#dee7f4,#dce6f3,#dbe5f3,#dae4f2,#d9e4f2,#d9e4f2,#dae5f2,#dbe5f3,#dde6f3,#dfe8f4,#e1e9f5,#e3ebf6,#e6edf6,#e9eff7,#ebf1f8,#eef3f9,#f0f5fa) 0 36px/100% 4.5px no-repeat,linear-gradient(90deg,#f2f6fa,#f0f4fa,#f0f4fa,#f0f5fa,#f2f6fb,#f5f8fb,#f7fafc,#fafbfd,#fcfdfe,#fdfefe,#fefeff,#ffffff,#fffefe,#fffdfd,#fffcfc,#fefaf9,#fef6f5,#fdf0f0,#fbe8e7,#fadddc,#f7cfce,#f5bfbd,#f2ada9,#ef9995,#eb8580,#e8716c,#e55f59,#e35049,#e1443d,#df3b34,#df362e,#de342c,#de342d,#df3830,#e03c35,#e1433c,#e24b44,#e4544e,#e55f59,#e76b66,#e97974,#ec8884,#ef9995,#f1aaa7,#f4bbb9,#f7ccca,#f9dcdb,#fcebea,#fef8f7,#fcfdfe,#f5f8fc,#eff4fa,#eaf0f8,#e6edf6,#e2eaf5,#dee8f4,#dbe5f3,#d8e3f2,#d5e1f1,#d3e0f0,#d1dfef,#d0deef,#d0ddef,#d0deef,#d1deef,#d2dff0,#d4e1f0,#d7e2f1,#dae5f2,#dde7f3,#e0e9f5,#e4ecf6,#e7eef7,#eaf0f8,#edf2f9) 0 40px/100% 4.5px no-repeat,linear-gradient(90deg,#f1f5fa,#eff4fa,#eef3f9,#eff4fa,#f1f5fa,#f4f7fb,#f7f9fc,#f9fbfd,#fbfcfe,#fdfefe,#fefeff,#ffffff,#ffffff,#fffefe,#fffcfc,#fefaf9,#fdf6f5,#fdf0ef,#fbe7e6,#f9dcda,#f7cdcb,#f4bcb9,#f1a8a5,#ee938f,#ea7e79,#e76964,#e45650,#e1463f,#df3931,#dd2f27,#dd2c24,#dd2c24,#dd2c24,#dd2c24,#dd2d25,#de342c,#e03c35,#e1463f,#e3514a,#e55e58,#e76d67,#ea7d78,#ed8f8a,#f0a19e,#f3b4b1,#f6c7c5,#f9d9d7,#fbe9e8,#fef8f7,#fbfcfe,#f3f6fb,#ecf1f8,#e6edf6,#e0e9f5,#dce6f3,#d7e3f1,#d3e0f0,#d0ddef,#ccdbee,#cad9ed,#c8d8ec,#c7d7ec,#c6d7ec,#c7d7ec,#c8d8ec,#cad9ed,#ccdbee,#cfddef,#d3dff0,#d7e2f1,#dbe5f3,#dfe8f4,#e3ebf5,#e7eef7,#eaf0f8) 0 44px/100% 4.5px no-repeat,linear-gradient(90deg,#f0f4fa,#eef3f9,#edf2f9,#eef3f9,#f0f4fa,#f3f7fb,#f6f9fc,#f9fbfd,#fbfcfe,#fdfdfe,#fefeff,#ffffff,#ffffff,#fffefe,#fffcfc,#fefaf9,#fdf6f5,#fcefef,#fbe7e6,#f9dbd9,#f7ccca,#f4bab7,#f1a6a3,#ed918c,#ea7b76,#e66560,#e3524b,#e04139,#de322a,#dd2c24,#dd2c24,#dd2c24,#dd2c24,#dd2c24,#dd2c24,#dd2c24,#dd2e26,#df3830,#e1443d,#e3514b,#e5615b,#e8726d,#eb8580,#ef9995,#f2aeab,#f5c2c0,#f8d6d4,#fbe8e7,#fef8f8,#f9fbfd,#f0f4fa,#e8eef7,#e1eaf5,#dbe5f3,#d5e1f1,#d0deef,#ccdaed,#c7d7ec,#c4d5eb,#c1d3ea,#bfd1e9,#bed0e9,#bdd0e9,#bed1e9,#bfd2e9,#c1d3ea,#c5d5eb,#c8d8ec,#ccdbee,#d1deef,#d5e1f1,#dae5f2,#dfe8f4,#e3ebf6,#e7eef7) 0 48px/100% 4.5px no-repeat,linear-gradient(90deg,#eff4fa,#edf2f9,#ecf2f9,#edf2f9,#eff4fa,#f2f6fb,#f6f8fc,#f9fafd,#fbfcfe,#fdfdfe,#fefeff,#ffffff,#ffffff,#fffefe,#fffcfc,#fefafa,#fdf6f5,#fcefef,#fbe6e5,#f9dad9,#f7cbc9,#f4b9b7,#f1a5a2,#ed908c,#ea7a75,#e6655f,#e3514a,#e03f38,#de3028,#dd2c24,#dd2c24,#dd2c24,#dd2c24,#dd2c24,#dd2c24,#dd2c24,#dd2c24,#dd2c24,#df372f,#e1453e,#e4554f,#e76862,#ea7c77,#ed918d,#f1a8a4,#f4bebb,#f8d3d1,#fbe7e6,#fef9f8,#f8fafd,#edf2f9,#e4ecf6,#dde6f3,#d6e2f1,#d0ddef,#cad9ed,#c5d6eb,#c0d2ea,#bcd0e8,#b9cde7,#b7cce6,#b6cbe6,#b5cbe6,#b6cbe6,#b8cce7,#bbcee8,#bed1e9,#c2d4ea,#c7d7ec,#ccdbee,#d1deef,#d6e2f1,#dce6f3,#e1e9f5,#e5edf6) 0 52px/100% 4.5px no-repeat,linear-gradient(90deg,#eef3f9,#ecf2f9,#ecf1f8,#edf2f9,#eff4f9,#f2f6fb,#f5f8fc,#f8fafd,#fbfcfe,#fdfdfe,#fefeff,#ffffff,#ffffff,#fffefe,#fffcfc,#fefafa,#fdf6f5,#fcefef,#fbe6e5,#f9dbd9,#f7ccca,#f4bab7,#f1a6a3,#ed918d,#ea7c77,#e76761,#e3534d,#e1423b,#de322b,#dd2c24,#dd2c24,#dd2c24,#dd2c24,#dd2c24,#dd2c24,#dd2c24,#dd2c24,#dd2c24,#dd2c24,#df3a32,#e24b44,#e55e58,#e9736e,#ec8a86,#f0a29f,#f4bab7,#f8d1cf,#fbe6e5,#fef9f9,#f7f9fc,#ebf1f8,#e2eaf5,#d9e4f2,#d2dff0,#cbdaed,#c5d6eb,#bfd2e9,#bbcee8,#b7cbe6,#b3c9e5,#b1c7e4,#b0c6e4,#b0c6e4,#b1c7e4,#b3c9e5,#b6cbe6,#b9cde7,#bed1e9,#c3d4eb,#c9d8ec,#cedcee,#d4e0f0,#dae4f2,#dfe8f4,#e4ecf6) 0 56px/100% 4.5px no-repeat,linear-gradient(90deg,#eef3f9,#ecf1f8,#ebf1f8,#ecf2f9,#eef3f9,#f2f5fa,#f5f8fc,#f8fafd,#fbfcfe,#fcfdfe,#fefeff,#ffffff,#ffffff,#fffefe,#fffcfc,#fefafa,#fef6f6,#fdf0ef,#fbe7e6,#f9dbda,#f7cdcb,#f4bcb9,#f1a9a5,#ee9490,#ea807b,#e76c66,#e45852,#e14740,#df3830,#dd2c24,#dd2c24,#dd2c24,#dd2c24,#dd2c24,#dd2c24,#dd2c24,#dd2c24,#dd2c24,#dd2c24,#de3028,#e0413a,#e4554f,#e76c66,#eb847f,#ef9d99,#f3b6b3,#f7cecc,#fbe5e4,#fef9f8,#f6f9fc,#eaf0f8,#e0e9f4,#d7e2f1,#cfddef,#c8d8ec,#c2d3ea,#bccfe8,#b7cce6,#b3c9e5,#b0c6e4,#adc5e3,#acc4e3,#acc4e3,#adc5e3,#b0c6e4,#b3c9e5,#b7cce6,#bccfe8,#c1d3ea,#c7d7ec,#cddbee,#d3e0f0,#d9e4f2,#dee8f4,#e3ebf6) 0 60px/100% 4.5px no-repeat,linear-gradient(90deg,#eef3f9,#ecf1f8,#ebf1f8,#ecf1f8,#eef3f9,#f1f5fa,#f5f8fc,#f8fafd,#fbfcfe,#fcfdfe,#fefeff,#feffff,#ffffff,#fffefe,#fffdfc,#fefafa,#fef6f6,#fdf0f0,#fbe8e7,#f9dddb,#f7cfcd,#f5bebc,#f2aca9,#ef9995,#eb8580,#e8726c,#e55f59,#e34f48,#e04038,#de322b,#dd2c24,#dd2c24,#dd2c24,#dd2c24,#dd2c24,#dd2c24,#dd2c24,#dd2c24,#dd2c24,#dd2c24,#df3932,#e24d47,#e6645f,#ea7e79,#ee9894,#f3b2af,#f7cbca,#fae3e2,#fef8f8,#f6f9fc,#eaf0f8,#dfe8f4,#d6e2f1,#cedcee,#c7d7ec,#c1d3ea,#bbcfe8,#b6cbe6,#b2c8e5,#afc6e4,#adc4e3,#acc4e3,#acc4e3,#adc5e3,#b0c6e4,#b3c9e5,#b7cce7,#bcd0e8,#c2d3ea,#c8d8ec,#cedcee,#d4e0f0,#d9e4f2,#dfe8f4,#e4ecf6) 0 64px/100% 4.5px no-repeat,linear-gradient(90deg,#eef3f9,#ecf1f8,#ebf1f8,#ecf1f9,#eef3f9,#f1f5fa,#f5f8fc,#f8fafd,#fbfcfe,#fcfdfe,#fefeff,#feffff,#ffffff,#fffefe,#fffdfd,#fefbfa,#fef7f7,#fdf1f1,#fce9e9,#fadfde,#f8d2d0,#f5c2c0,#f2b1ae,#ef9e9a,#ec8b87,#e97974,#e76862,#e45851,#e24942,#e03c35,#de3129,#dd2c24,#dd2c24,#dd2c24,#dd2c24,#dd2c24,#dd2c24,#dd2c24,#dd2c24,#dd2c24,#de332c,#e14740,#e55e58,#e97873,#ee938f,#f2aeab,#f6c8c6,#fae1df,#fef6f6,#f7fafc,#ebf1f8,#e0e9f4,#d7e3f1,#cfddef,#c8d8ec,#c2d4ea,#bdd0e8,#b8cce7,#b4c9e5,#b1c7e4,#afc6e4,#aec5e3,#afc6e4,#b0c7e4,#b2c8e5,#b6cbe6,#bacee8,#bfd1e9,#c4d5eb,#cad9ed,#d0ddef,#d6e2f1,#dbe6f3,#e0e9f5,#e5edf6) 0 68px/100% 4.5px no-repeat,linear-gradient(90deg,#eef3f9,#ecf1f8,#ebf1f8,#ecf2f9,#eff3f9,#f2f6fa,#f5f8fc,#f8fafd,#fbfcfe,#fcfdfe,#fefeff,#feffff,#ffffff,#fffefe,#fffdfd,#fefbfb,#fef8f7,#fdf3f2,#fcebeb,#fae1e0,#f8d5d4,#f6c7c4,#f3b6b3,#f0a5a1,#ee938f,#eb827d,#e8716c,#e6625c,#e3544e,#e14740,#e03c35,#de322a,#dd2c24,#dd2c24,#dd2c24,#dd2c24,#dd2c24,#dd2c24,#dd2c24,#dd2c24,#de3028,#e1423b,#e45852,#e8726d,#ed8e8a,#f1aaa7,#f6c5c3,#fadddc,#fdf3f3,#fafbfd,#edf2f9,#e3ebf5,#dae4f2,#d2dff0,#cbdaed,#c5d6eb,#c0d2ea,#bccfe8,#b8cde7,#b6cbe6,#b4cae5,#b3c9e5,#b4c9e5,#b5cbe6,#b8cce7,#bbcfe8,#bfd2e9,#c4d5eb,#c9d9ed,#cedcee,#d4e0f0,#d9e4f2,#dee8f4,#e3ebf5,#e8eef7) 0 72px/100% 4.5px no-repeat,linear-gradient(90deg,#eef3f9,#ecf2f9,#ecf1f8,#edf2f9,#eff4fa,#f2f6fb,#f5f8fc,#f8fafd,#fbfcfe,#fdfdfe,#fefeff,#feffff,#ffffff,#fffefe,#fffdfd,#fefcfb,#fef9f8,#fdf4f4,#fceeed,#fbe5e4,#f9d9d8,#f7ccca,#f4bdba,#f2aca9,#ef9c98,#ec8b87,#ea7c77,#e76d68,#e5605a,#e3544d,#e24942,#e03f38,#df362e,#dd2e26,#dd2c24,#dd2c24,#dd2c24,#dd2c24,#dd2c24,#dd2c24,#dd2f27,#e03f37,#e3534d,#e76c67,#ec8884,#f0a5a1,#f5c0be,#f9d9d8,#fcefef,#fdfdfe,#f1f5fa,#e6eef7,#dee7f4,#d7e2f1,#d0deef,#cbdaed,#c6d7ec,#c2d4ea,#bfd2e9,#bdd0e8,#bbcfe8,#bbcfe8,#bccfe8,#bdd0e8,#bfd2e9,#c2d4ea,#c6d7ec,#cadaed,#cfddef,#d4e0f0,#d9e4f2,#dee7f4,#e2eaf5,#e7eef7,#eaf0f8) 0 76px/100% 4.5px no-repeat,linear-gradient(90deg,#eff4fa,#edf2f9,#edf2f9,#edf3f9,#f0f4fa,#f3f6fb,#f6f8fc,#f9fafd,#fbfcfe,#fdfdfe,#fefeff,#feffff,#ffffff,#ffffff,#fffefe,#fffcfc,#fefafa,#fef6f6,#fdf0f0,#fbe8e8,#fadedd,#f8d2d1,#f6c4c2,#f3b5b2,#f1a6a2,#ee9692,#ec8783,#ea7a75,#e76d67,#e6625c,#e45751,#e24e47,#e1453e,#e03e36,#df372f,#de3129,#dd2c25,#dd2c24,#dd2c24,#dd2c24,#de322a,#e03d36,#e34f49,#e66761,#eb827e,#f09f9b,#f4bbb9,#f8d4d3,#fceae9,#fffcfc,#f5f8fc,#ecf1f8,#e4ecf6,#dde7f3,#d7e3f1,#d2dff0,#cedcee,#cbdaed,#c8d8ec,#c6d6ec,#c5d6eb,#c5d5eb,#c5d6eb,#c6d7ec,#c9d8ec,#cbdaed,#cfddee,#d2dff0,#d6e2f1,#dbe5f3,#dfe8f4,#e3ebf5,#e7eef7,#ebf0f8,#eef3f9) 0 80px/100% 4.5px no-repeat,linear-gradient(90deg,#f0f4fa,#eef3f9,#eef3f9,#eef3f9,#f0f5fa,#f3f7fb,#f6f9fc,#f9fbfd,#fbfcfe,#fdfdfe,#fefeff,#feffff,#ffffff,#ffffff,#fffefe,#fffdfd,#fefbfb,#fef8f8,#fdf3f3,#fcedec,#fbe4e3,#f9d9d8,#f7cdcb,#f5bfbd,#f2b1ae,#f0a39f,#ee9591,#ec8883,#ea7c77,#e8716c,#e76762,#e55f59,#e45750,#e35049,#e24943,#e1443d,#e03f38,#df3b34,#df3931,#df3830,#df3a33,#e0413a,#e34f49,#e6645e,#ea7e79,#ef9a96,#f3b6b3,#f7cfcd,#fbe4e3,#fdf5f5,#fbfcfe,#f2f6fb,#ebf1f8,#e5ecf6,#e0e9f4,#dbe6f3,#d8e3f2,#d5e1f1,#d2dff0,#d1deef,#d0ddef,#d0ddef,#d0deef,#d1dfef,#d3e0f0,#d6e1f1,#d8e3f2,#dbe6f3,#dfe8f4,#e2eaf5,#e6edf6,#e9eff8,#ecf2f9,#eff4fa,#f2f6fb) 0 84px/100% 4.5px no-repeat,linear-gradient(90deg,#f1f5fa,#eff4fa,#eff3f9,#eff4fa,#f1f5fa,#f4f7fb,#f7f9fc,#f9fbfd,#fbfcfe,#fdfdfe,#fefeff,#fefeff,#fefeff,#feffff,#ffffff,#ffffff,#fffdfd,#fefbfb,#fef7f7,#fdf2f2,#fcebea,#fae2e1,#f9d8d6,#f7ccca,#f5bfbd,#f3b2af,#f1a5a2,#ef9995,#ed8e89,#eb837f,#ea7a75,#e8726d,#e76b65,#e6655f,#e55f59,#e45a54,#e4564f,#e3524b,#e24e47,#e24b44,#e24a43,#e24e47,#e45751,#e76862,#ea7e7a,#ee9894,#f3b2af,#f6cac8,#fadedc,#fceeed,#fefafa,#fafcfd,#f4f7fb,#eff3f9,#eaf0f8,#e6edf7,#e3ebf6,#e1e9f5,#dfe8f4,#dee7f4,#dde7f3,#dde7f3,#dde7f3,#dee8f4,#e0e9f4,#e1eaf5,#e4ebf6,#e6edf6,#e8eff7,#ebf1f8,#eef3f9,#f0f4fa,#f2f6fb,#f5f8fb,#f7f9fc) 0 88px/100% 4.5px no-repeat,linear-gradient(90deg,#f2f6fb,#f0f5fa,#f0f4fa,#f1f5fa,#f2f6fb,#f5f8fb,#f7f9fc,#f9fbfd,#fbfcfe,#fcfdfe,#fdfefe,#fdfefe,#fdfefe,#fdfefe,#fdfefe,#fdfefe,#fefeff,#ffffff,#fffdfd,#fefaf9,#fdf4f4,#fceded,#fbe5e4,#f9dbda,#f7d0ce,#f6c5c2,#f4b9b6,#f2aeab,#f0a3a0,#ef9995,#ed918c,#ec8984,#eb827d,#ea7c77,#e97772,#e8736e,#e86f6a,#e76c66,#e76862,#e6655f,#e6625c,#e6635d,#e76963,#e9746f,#ec8682,#ef9b98,#f3b1af,#f6c6c4,#f9d7d6,#fbe5e4,#fdf0ef,#fef9f8,#ffffff,#fafcfd,#f6f9fc,#f3f7fb,#f1f5fa,#eff4fa,#eef3f9,#edf2f9,#ecf1f9,#ecf1f8,#ecf2f9,#edf2f9,#eef3f9,#eff4fa,#f1f5fa,#f2f6fb,#f4f7fb,#f5f8fc,#f7f9fc,#f9fafd,#fafbfd,#fbfcfe,#fcfdfe) 0 92px/100% 4.5px no-repeat,linear-gradient(90deg,#f3f7fb,#f2f5fa,#f1f5fa,#f2f6fa,#f3f7fb,#f5f8fc,#f8fafc,#fafbfd,#fbfcfe,#fcfdfe,#fcfdfe,#fcfdfe,#fcfdfe,#fcfdfe,#fbfcfe,#fafcfd,#fafbfd,#fafbfd,#fbfcfd,#fcfdfe,#feffff,#fefbfb,#fdf5f5,#fceded,#fbe5e4,#f9dbda,#f8d1cf,#f6c7c5,#f4bdba,#f3b4b1,#f1aba8,#f0a4a0,#ef9d99,#ee9793,#ee938e,#ed8f8a,#ec8b87,#ec8884,#eb8581,#eb827d,#ea7f7b,#ea7f7a,#eb817d,#ec8984,#ee9591,#f0a4a1,#f3b5b2,#f5c4c2,#f8d1d0,#f9dcdb,#fbe4e3,#fcebea,#fdf0f0,#fdf5f4,#fef8f8,#fefbfb,#fffdfd,#ffffff,#fefeff,#fdfefe,#fdfdfe,#fdfdfe,#fdfdfe,#fdfefe,#fefeff,#fefeff,#ffffff,#fffefe,#fffdfd,#fffdfc,#fefcfc,#fefbfb,#fefbfa,#fefafa,#fefafa) 0 96px/100% 4.5px no-repeat,linear-gradient(90deg,#f4f7fb,#f3f6fb,#f2f6fb,#f3f6fb,#f4f7fb,#f6f9fc,#f8fafd,#fafbfd,#fbfcfe,#fcfdfe,#fcfdfe,#fbfcfe,#fbfcfd,#f9fbfd,#f8fafd,#f7f9fc,#f6f8fc,#f5f8fb,#f4f7fb,#f4f7fb,#f4f7fb,#f6f9fc,#f9fbfd,#fdfefe,#fefbfb,#fdf3f3,#fcebea,#fae2e1,#f9d9d8,#f7d0ce,#f6c8c6,#f5c0be,#f4b9b7,#f3b4b1,#f2afac,#f1aba7,#f1a7a4,#f0a5a1,#f0a29f,#f0a09c,#ef9d9a,#ef9c98,#ef9d99,#f0a19d,#f1a7a4,#f2b0ad,#f4bbb8,#f6c5c2,#f7cdcb,#f8d4d3,#f9dad8,#fadedd,#fae1e0,#fbe4e3,#fbe7e6,#fbe8e8,#fceae9,#fcebea,#fceceb,#fcecec,#fcedec,#fcedec,#fcedec,#fcedec,#fcedec,#fceded,#fceded,#fceded,#fceeed,#fceeed,#fcefee,#fcefef,#fdf0ef,#fdf1f0,#fdf2f1) 0 100px/100% 4.5px no-repeat,linear-gradient(90deg,#f5f8fc,#f4f7fb,#f4f7fb,#f4f7fb,#f5f8fc,#f7f9fc,#f9fafd,#fafbfd,#fbfcfe,#fbfcfe,#fbfcfe,#fafcfd,#f9fbfd,#f8fafd,#f6f9fc,#f4f7fb,#f2f6fb,#f0f4fa,#eef3f9,#edf2f9,#ecf2f9,#ecf2f9,#edf2f9,#f0f4fa,#f3f7fb,#f8fafc,#fdfdfe,#fefafa,#fdf2f2,#fceaea,#fae2e1,#f9dbda,#f8d4d2,#f7cecc,#f6c9c7,#f6c5c2,#f5c1bf,#f5bfbc,#f4bcba,#f4bab8,#f4b8b6,#f3b7b4,#f3b6b4,#f3b7b5,#f4bab7,#f5bebc,#f5c3c1,#f6c8c6,#f7ccca,#f7cfce,#f8d2d0,#f8d4d3,#f8d6d5,#f9d8d6,#f9d9d7,#f9dad8,#f9dad9,#f9dbda,#f9dbda,#f9dcda,#f9dcdb,#f9dcdb,#f9dddb,#fadddc,#fadedc,#fadedd,#fadfde,#fae0df,#fae1e0,#fae3e2,#fbe4e3,#fbe6e5,#fbe8e7,#fce9e8,#fcebea) 0 104px/100% 4.5px no-repeat,linear-gradient(90deg,#f7f9fc,#f6f8fc,#f5f8fc,#f5f8fc,#f6f9fc,#f8fafd,#f9fbfd,#fafcfd,#fbfcfe,#fbfcfe,#fbfcfe,#fafbfd,#f9fafd,#f7f9fc,#f5f8fc,#f3f6fb,#f1f5fa,#eef3f9,#ecf1f8,#eaf0f8,#e8eff7,#e7eef7,#e7eef7,#e8eff7,#eaf0f8,#edf2f9,#f1f5fa,#f6f9fc,#fbfcfe,#fffdfd,#fef6f5,#fcefee,#fbe8e7,#fae3e1,#fadedc,#f9d9d8,#f8d6d5,#f8d3d2,#f8d1d0,#f7d0ce,#f7cecc,#f7cdcb,#f7ccca,#f7cbc9,#f7cbc9,#f7ccca,#f7cdcb,#f7cecc,#f7cfcd,#f7d0ce,#f7d0cf,#f8d1cf,#f8d1d0,#f8d2d0,#f8d2d0,#f8d2d1,#f8d3d1,#f8d3d1,#f8d3d1,#f8d3d2,#f8d4d2,#f8d4d2,#f8d5d3,#f8d5d4,#f8d6d5,#f9d7d6,#f9d8d7,#f9dad9,#f9dcda,#fadddc,#fadfde,#fae2e0,#fbe4e3,#fbe6e5,#fbe8e7) 0 108px/100% 4.5px no-repeat,linear-gradient(90deg,#f8fafc,#f7f9fc,#f6f9fc,#f7f9fc,#f7fafc,#f9fafd,#fafbfd,#fbfcfe,#fbfcfe,#fbfcfe,#fbfcfe,#fafcfd,#f9fbfd,#f8fafd,#f6f9fc,#f4f7fb,#f2f6fb,#f0f4fa,#edf2f9,#ebf1f8,#eaf0f8,#e8eff7,#e8eef7,#e8eff7,#e9eff8,#ebf1f8,#eef3f9,#f1f5fa,#f6f8fc,#fafbfd,#ffffff,#fefafa,#fdf5f4,#fdf0ef,#fcebeb,#fbe8e7,#fbe5e4,#fae3e2,#fae1e0,#fae0df,#fadfdd,#fadddc,#f9dcdb,#f9dbd9,#f9dad8,#f9d9d7,#f9d8d6,#f9d7d5,#f8d6d4,#f8d5d4,#f8d5d3,#f8d4d3,#f8d4d2,#f8d4d2,#f8d4d2,#f8d4d2,#f8d4d2,#f8d4d3,#f8d4d3,#f8d4d3,#f8d5d3,#f8d5d4,#f8d6d4,#f8d6d5,#f9d7d6,#f9d9d7,#f9dad9,#f9dbda,#fadddc,#fadfde,#fae1e0,#fbe3e2,#fbe5e4,#fbe7e7,#fceae9) 0 112px/100% 4.5px no-repeat,linear-gradient(90deg,#f8fafd,#f8fafc,#f7fafc,#f8fafc,#f8fafd,#f9fbfd,#fafcfd,#fbfcfe,#fcfdfe,#fcfdfe,#fcfdfe,#fbfcfe,#fafcfd,#f9fbfd,#f8fafd,#f6f9fc,#f5f8fc,#f3f7fb,#f1f5fa,#f0f4fa,#eef3f9,#edf2f9,#edf2f9,#edf2f9,#edf2f9,#eff3f9,#f1f5fa,#f3f6fb,#f6f8fc,#f9fbfd,#fcfdfe,#fffefe,#fefafa,#fef7f6,#fdf4f3,#fdf1f1,#fcefef,#fceeed,#fcedec,#fceceb,#fcebea,#fceae9,#fbe9e8,#fbe8e7,#fbe6e5,#fbe5e4,#fbe3e2,#fae2e1,#fae0df,#fadfde,#fadedd,#fadddc,#f9dddb,#f9dcdb,#f9dcdb,#f9dcdb,#f9dcdb,#f9dddb,#f9dddb,#fadddc,#fadddc,#fadedc,#fadedd,#fadfde,#fae0df,#fae1e0,#fae2e1,#fae3e2,#fbe4e3,#fbe6e5,#fbe8e7,#fbe9e8,#fcebea,#fcedec,#fceeee) 0 116px/100% 4.5px no-repeat,linear-gradient(90deg,#f9fbfd,#f8fafd,#f8fafd,#f8fafd,#f9fafd,#f9fbfd,#fafcfd,#fbfcfe,#fbfcfe,#fcfdfe,#fcfdfe,#fbfcfe,#fbfcfe,#fafcfd,#f9fbfd,#f8fafd,#f7fafc,#f6f9fc,#f5f8fc,#f4f7fb,#f3f7fb,#f3f6fb,#f2f6fb,#f2f6fb,#f3f6fb,#f3f7fb,#f5f8fb,#f6f9fc,#f8fafd,#fafbfd,#fcfdfe,#fefeff,#fffefd,#fefbfb,#fefaf9,#fef8f8,#fef7f7,#fef6f6,#fef6f5,#fdf5f5,#fdf5f4,#fdf4f4,#fdf4f3,#fdf3f2,#fdf1f1,#fdf0f0,#fcefee,#fceded,#fceceb,#fcebea,#fceae9,#fbe9e8,#fbe8e7,#fbe8e7,#fbe8e7,#fbe8e7,#fbe8e7,#fbe8e7,#fbe9e8,#fbe9e8,#fbe9e8,#fceae9,#fceae9,#fceaea,#fcebea,#fceceb,#fcecec,#fcedec,#fceeed,#fcefee,#fdf0f0,#fdf1f1,#fdf2f2,#fdf3f3,#fdf4f4) 0 120px/100% 4.5px no-repeat,linear-gradient(90deg,#f9fafd,#f8fafd,#f8fafc,#f8fafd,#f8fafd,#f9fbfd,#f9fbfd,#fafbfd,#fafcfd,#fbfcfd,#fbfcfd,#fafcfd,#fafbfd,#fafbfd,#f9fbfd,#f9fafd,#f8fafd,#f7fafc,#f7f9fc,#f6f9fc,#f6f8fc,#f5f8fc,#f5f8fc,#f5f8fc,#f5f8fc,#f6f8fc,#f6f9fc,#f7f9fc,#f8fafd,#f9fbfd,#fbfcfe,#fcfdfe,#fdfdfe,#fefeff,#feffff,#ffffff,#ffffff,#fffefe,#fffefe,#fffefe,#fffefe,#fffefd,#fffdfd,#fffcfc,#fefcfb,#fefbfa,#fef9f9,#fef8f8,#fef7f7,#fef6f6,#fdf5f5,#fdf5f4,#fdf4f4,#fdf4f3,#fdf4f3,#fdf4f3,#fdf4f3,#fdf4f4,#fdf4f4,#fdf4f4,#fdf5f4,#fdf5f4,#fdf5f5,#fdf5f5,#fdf6f5,#fef6f6,#fef6f6,#fef7f6,#fef7f7,#fef8f7,#fef8f8,#fef9f8,#fef9f9,#fefaf9,#fefafa) 0 124px/100% 4.5px no-repeat,linear-gradient(90deg,#f8fafd,#f7f9fc,#f7f9fc,#f7f9fc,#f7f9fc,#f7fafc,#f8fafd,#f8fafd,#f8fafd,#f8fafd,#f8fafd,#f8fafd,#f8fafd,#f8fafc,#f7f9fc,#f7f9fc,#f6f9fc,#f6f9fc,#f6f8fc,#f5f8fc,#f5f8fc,#f5f8fb,#f4f7fb,#f4f7fb,#f4f7fb,#f5f8fb,#f5f8fc,#f5f8fc,#f6f8fc,#f6f9fc,#f7f9fc,#f8fafc,#f8fafd,#f8fafd,#f9fbfd,#f9fbfd,#f9fbfd,#f9fbfd,#f9fbfd,#f9fbfd,#f9fbfd,#f9fbfd,#fafbfd,#fafbfd,#fbfcfd,#fbfcfe,#fcfdfe,#fdfdfe,#fdfefe,#fefeff,#ffffff,#ffffff,#fffefe,#fffefe,#fffefe,#fffefe,#fffefe,#fffefe,#fffefe,#fffefe,#fffefe,#fffefe,#fffefe,#fffefe,#fffefe,#fffefe,#fffefe,#fffefe,#fffefe,#fffefe,#fffefe,#fffefe,#fffefe,#fffefe,#ffffff) 0 128px/100% 4.5px no-repeat,linear-gradient(90deg,#f7f9fc,#f6f9fc,#f6f8fc,#f5f8fc,#f5f8fc,#f6f8fc,#f6f9fc,#f6f9fc,#f6f9fc,#f6f9fc,#f6f8fc,#f6f8fc,#f5f8fc,#f5f8fc,#f5f8fb,#f4f7fb,#f4f7fb,#f3f7fb,#f3f6fb,#f3f6fb,#f2f6fb,#f2f6fb,#f2f6fb,#f2f6fa,#f2f5fa,#f2f5fa,#f2f5fa,#f2f6fa,#f2f6fb,#f2f6fb,#f2f6fb,#f3f6fb,#f3f6fb,#f3f6fb,#f3f7fb,#f3f7fb,#f3f7fb,#f3f7fb,#f3f7fb,#f3f7fb,#f3f7fb,#f4f7fb,#f4f7fb,#f4f7fb,#f5f8fb,#f5f8fc,#f6f8fc,#f6f9fc,#f7f9fc,#f8fafc,#f8fafd,#f9fbfd,#f9fbfd,#fafbfd,#fafbfd,#fafcfd,#fafcfd,#fafcfd,#fbfcfe,#fbfcfe,#fbfcfe,#fbfcfe,#fbfcfe,#fbfcfe,#fbfcfe,#fcfdfe,#fcfdfe,#fcfdfe,#fcfdfe,#fcfdfe,#fcfdfe,#fdfdfe,#fdfdfe,#fdfdfe,#fdfefe) 0 132px/100% 4.5px no-repeat,linear-gradient(90deg,#f6f9fc,#f6f8fc,#f5f8fc,#f5f8fc,#f5f8fb,#f5f8fc,#f5f8fc,#f5f8fc,#f5f8fb,#f5f8fb,#f4f7fb,#f4f7fb,#f4f7fb,#f3f7fb,#f3f6fb,#f2f6fb,#f2f6fb,#f2f5fa,#f1f5fa,#f1f5fa,#f1f5fa,#f0f4fa,#f0f4fa,#f0f4fa,#eff4fa,#eff4fa,#eff4fa,#eff4fa,#eff4fa,#eff4fa,#eff4fa,#eff4fa,#eff4fa,#eff4fa,#f0f4fa,#f0f4fa,#f0f4fa,#f0f4fa,#f0f4fa,#f0f4fa,#f0f4fa,#f0f5fa,#f1f5fa,#f1f5fa,#f1f5fa,#f2f6fa,#f2f6fb,#f3f6fb,#f3f7fb,#f4f7fb,#f4f8fb,#f5f8fc,#f6f8fc,#f6f9fc,#f6f9fc,#f7f9fc,#f7f9fc,#f7fafc,#f8fafc,#f8fafd,#f8fafd,#f8fafd,#f9fafd,#f9fbfd,#f9fbfd,#f9fbfd,#fafbfd,#fafbfd,#fafcfd,#fafcfd,#fbfcfe,#fbfcfe,#fbfcfe,#fcfdfe,#fcfdfe) 0 136px/100% 4.5px no-repeat,linear-gradient(90deg,#f7f9fc,#f6f9fc,#f6f8fc,#f6f8fc,#f5f8fc,#f5f8fc,#f5f8fc,#f5f8fc,#f5f8fc,#f5f8fc,#f5f8fb,#f4f7fb,#f4f7fb,#f3f7fb,#f3f6fb,#f3f6fb,#f2f6fb,#f2f6fb,#f2f5fa,#f1f5fa,#f1f5fa,#f1f5fa,#f0f5fa,#f0f4fa,#f0f4fa,#f0f4fa,#f0f4fa,#eff4fa,#eff4fa,#eff4fa,#eff4fa,#eff4fa,#eff4fa,#eff4fa,#eff4fa,#eff4fa,#eff4fa,#f0f4fa,#f0f4fa,#f0f4fa,#f0f4fa,#f0f4fa,#f0f5fa,#f1f5fa,#f1f5fa,#f1f5fa,#f2f6fb,#f2f6fb,#f3f6fb,#f3f7fb,#f4f7fb,#f4f7fb,#f5f8fc,#f5f8fc,#f6f8fc,#f6f9fc,#f6f9fc,#f7f9fc,#f7f9fc,#f7fafc,#f8fafc,#f8fafd,#f8fafd,#f8fafd,#f9fbfd,#f9fbfd,#f9fbfd,#fafbfd,#fafbfd,#fafcfd,#fbfcfd,#fbfcfe,#fbfcfe,#fbfcfe,#fcfdfe) 0 140px/100% 4.5px no-repeat,linear-gradient(90deg,#f8fafd,#f8fafd,#f8fafc,#f7fafc,#f7fafc,#f7f9fc,#f7f9fc,#f7f9fc,#f7f9fc,#f7f9fc,#f7f9fc,#f6f9fc,#f6f9fc,#f6f8fc,#f5f8fc,#f5f8fc,#f5f8fc,#f4f8fb,#f4f7fb,#f4f7fb,#f4f7fb,#f3f7fb,#f3f7fb,#f3f6fb,#f3f6fb,#f3f6fb,#f3f6fb,#f2f6fb,#f2f6fb,#f2f6fb,#f2f6fb,#f2f6fb,#f2f6fb,#f2f6fb,#f2f6fb,#f2f6fb,#f2f6fb,#f2f6fb,#f3f6fb,#f3f6fb,#f3f6fb,#f3f6fb,#f3f7fb,#f3f7fb,#f4f7fb,#f4f7fb,#f4f7fb,#f5f8fb,#f5f8fc,#f5f8fc,#f6f8fc,#f6f9fc,#f6f9fc,#f7f9fc,#f7f9fc,#f8fafc,#f8fafd,#f8fafd,#f8fafd,#f9fbfd,#f9fbfd,#f9fbfd,#f9fbfd,#fafbfd,#fafbfd,#fafcfd,#fafcfd,#fbfcfe,#fbfcfe,#fbfcfe,#fbfcfe,#fcfdfe,#fcfdfe,#fcfdfe,#fcfdfe) 0 144px/100% 4.5px no-repeat,linear-gradient(90deg,#fbfcfd,#fafcfd,#fafbfd,#fafbfd,#fafbfd,#fafbfd,#fafbfd,#fafbfd,#fafbfd,#fafbfd,#f9fbfd,#f9fbfd,#f9fbfd,#f9fbfd,#f9fafd,#f8fafd,#f8fafd,#f8fafd,#f8fafd,#f8fafd,#f8fafc,#f7fafc,#f7f9fc,#f7f9fc,#f7f9fc,#f7f9fc,#f7f9fc,#f7f9fc,#f7f9fc,#f7f9fc,#f7f9fc,#f7f9fc,#f6f9fc,#f6f9fc,#f7f9fc,#f7f9fc,#f7f9fc,#f7f9fc,#f7f9fc,#f7f9fc,#f7f9fc,#f7f9fc,#f7f9fc,#f7fafc,#f7fafc,#f8fafc,#f8fafd,#f8fafd,#f8fafd,#f9fafd,#f9fbfd,#f9fbfd,#f9fbfd,#fafbfd,#fafbfd,#fafbfd,#fafcfd,#fafcfd,#fbfcfe,#fbfcfe,#fbfcfe,#fbfcfe,#fbfcfe,#fcfdfe,#fcfdfe,#fcfdfe,#fcfdfe,#fcfdfe,#fcfdfe,#fcfdfe,#fdfdfe,#fdfdfe,#fdfdfe,#fdfefe,#fdfefe) 0 148px/100% 4.5px no-repeat,linear-gradient(90deg,#fcfdfe,#fcfdfe,#fcfdfe,#fcfdfe,#fcfdfe,#fcfdfe,#fcfdfe,#fcfdfe,#fcfdfe,#fcfdfe,#fcfdfe,#fcfdfe,#fcfdfe,#fcfdfe,#fcfdfe,#fbfcfe,#fbfcfe,#fbfcfe,#fbfcfe,#fbfcfe,#fbfcfe,#fbfcfe,#fbfcfe,#fbfcfe,#fbfcfe,#fbfcfd,#fbfcfd,#fafcfd,#fafcfd,#fafcfd,#fafcfd,#fafcfd,#fafcfd,#fafcfd,#fafcfd,#fafcfd,#fafcfd,#fafcfd,#fafcfd,#fbfcfd,#fbfcfd,#fbfcfe,#fbfcfe,#fbfcfe,#fbfcfe,#fbfcfe,#fbfcfe,#fbfcfe,#fbfcfe,#fbfcfe,#fcfdfe,#fcfdfe,#fcfdfe,#fcfdfe,#fcfdfe,#fcfdfe,#fcfdfe,#fdfdfe,#fdfdfe,#fdfdfe,#fdfefe,#fdfefe,#fdfefe,#fdfefe,#fdfefe,#fdfefe,#fdfefe,#fdfefe,#fefeff,#fefeff,#fefeff,#fefeff,#fefeff,#fefeff,#fefeff) 0 152px/100% 4.5px no-repeat,linear-gradient(90deg,#fefeff,#fdfefe,#fdfefe,#fdfefe,#fdfefe,#fdfefe,#fefefe,#fefeff,#fefeff,#fefeff,#fefeff,#fefeff,#fefeff,#fefefe,#fdfefe,#fdfefe,#fdfefe,#fdfefe,#fdfefe,#fdfefe,#fdfefe,#fdfefe,#fdfefe,#fdfefe,#fdfefe,#fdfefe,#fdfefe,#fdfefe,#fdfefe,#fdfefe,#fdfefe,#fdfefe,#fdfefe,#fdfefe,#fdfefe,#fdfefe,#fdfefe,#fdfefe,#fdfefe,#fdfefe,#fdfefe,#fdfefe,#fdfefe,#fdfefe,#fdfefe,#fdfefe,#fdfefe,#fdfefe,#fdfefe,#fdfefe,#fefefe,#fefeff,#fefeff,#fefeff,#fefeff,#fefeff,#fefeff,#fefeff,#fefeff,#fefeff,#fefeff,#fefeff,#fefeff,#fefeff,#fefeff,#fefeff,#feffff,#feffff,#feffff,#feffff,#feffff,#feffff,#feffff,#ffffff,#ffffff) 0 156px/100% 4.5px no-repeat;filter:blur(1.6px)"></div></div>
<div style="position:absolute;left:363.2px;top:190.4px;width:280px;height:140.8px;overflow:hidden"><div style="position:absolute;left:-8px;top:-8px;width:300px;height:160px;background:linear-gradient(90deg,#ffffff,#ffffff,#ffffff,#ffffff,#ffffff,#ffffff,#ffffff,#ffffff,#ffffff,#ffffff,#ffffff,#ffffff,#ffffff,#ffffff,#ffffff,#ffffff,#ffffff,#ffffff,#ffffff,#ffffff,#ffffff,#ffffff,#ffffff,#ffffff,#ffffff,#ffffff,#ffffff,#fffefe,#fffefe,#fffefe,#fffefd,#fffdfd,#fffdfc,#fffcfc,#fefcfc,#fefbfb,#fefbfb,#fefbfb,#fefbfb,#fefbfb,#fefbfb,#fefcfc,#fffcfc,#fffdfc,#fffdfd,#fffdfd,#fffefe,#fffefe,#fffefe,#fffefe,#fffefe,#fffefe,#ffffff,#ffffff,#fefeff,#fdfefe,#fcfdfe,#fbfcfe,#fafcfd,#f9fbfd,#f9fbfd,#f8fafd,#f8fafd,#f8fafc,#f7fafc,#f7fafc,#f8fafc,#f8fafd,#f8fafd,#f8fafd,#f9fbfd,#f9fbfd,#fafbfd,#fafcfd,#fbfcfe) 0 0px/100% 4.5px no-repeat,linear-gradient(90deg,#ffffff,#ffffff,#ffffff,#ffffff,#ffffff,#ffffff,#ffffff,#ffffff,#ffffff,#ffffff,#ffffff,#ffffff,#ffffff,#ffffff,#ffffff,#ffffff,#ffffff,#ffffff,#ffffff,#ffffff,#ffffff,#ffffff,#ffffff,#ffffff,#ffffff,#fffefe,#fffefe,#fffefe,#fffdfd,#fffcfc,#fefbfb,#fefafa,#fef9f9,#fef8f8,#fef8f7,#fef7f6,#fef6f6,#fef6f6,#fef6f6,#fef6f6,#fef7f6,#fef7f7,#fef8f8,#fef9f9,#fefafa,#fefafa,#fefbfb,#fefbfb,#fefbfb,#fefbfb,#fefbfb,#fefbfb,#fffcfc,#fffdfd,#ffffff,#fefeff,#fcfdfe,#fbfcfe,#f9fbfd,#f8fafd,#f7f9fc,#f6f9fc,#f6f8fc,#f5f8fc,#f5f8fc,#f5f8fc,#f5f8fc,#f5f8fc,#f6f8fc,#f6f9fc,#f7f9fc,#f7fafc,#f8fafd,#f9fbfd,#f9fbfd) 0 4px/100% 4.5px no-repeat,linear-gradient(90deg,#ffffff,#ffffff,#ffffff,#ffffff,#ffffff,#ffffff,#ffffff,#ffffff,#ffffff,#ffffff,#ffffff,#ffffff,#ffffff,#ffffff,#ffffff,#ffffff,#ffffff,#ffffff,#ffffff,#ffffff,#ffffff,#ffffff,#ffffff,#ffffff,#fffefe,#fffefe,#fffdfd,#fffcfc,#fefbfb,#fef9f9,#fef7f7,#fdf6f5,#fdf4f3,#fdf2f1,#fdf0f0,#fcefee,#fceeed,#fcedec,#fcedec,#fceded,#fceeee,#fcefef,#fdf1f0,#fdf2f2,#fdf3f3,#fdf4f4,#fdf5f5,#fdf5f5,#fdf5f4,#fdf5f4,#fdf4f4,#fdf5f4,#fef6f6,#fef8f8,#fefbfa,#fffefe,#fdfefe,#fbfcfe,#f9fbfd,#f7f9fc,#f5f8fc,#f4f7fb,#f3f7fb,#f3f6fb,#f3f6fb,#f3f6fb,#f3f6fb,#f3f6fb,#f3f7fb,#f4f7fb,#f5f8fb,#f5f8fc,#f6f9fc,#f7f9fc,#f8fafd) 0 8px/100% 4.5px no-repeat,linear-gradient(90deg,#ffffff,#ffffff,#ffffff,#ffffff,#ffffff,#ffffff,#ffffff,#ffffff,#ffffff,#ffffff,#ffffff,#ffffff,#ffffff,#ffffff,#ffffff,#ffffff,#ffffff,#ffffff,#ffffff,#ffffff,#ffffff,#ffffff,#fffefe,#fffefe,#fffdfd,#fffcfc,#fefbfb,#fef9f9,#fef6f6,#fdf4f3,#fdf1f0,#fceded,#fceae9,#fbe7e6,#fbe4e3,#fae2e1,#fae1df,#fae0de,#fadfde,#fae0df,#fae1e0,#fae3e2,#fbe5e4,#fbe7e6,#fbe8e8,#fceae9,#fceae9,#fceae9,#fbe9e8,#fbe9e8,#fbe9e8,#fceae9,#fceceb,#fcefef,#fdf4f4,#fef9f9,#fffefe,#fcfdfe,#f8fafd,#f6f8fc,#f4f7fb,#f2f6fb,#f1f5fa,#f0f5fa,#f0f4fa,#f0f4fa,#f0f4fa,#f0f5fa,#f1f5fa,#f2f6fa,#f3f6fb,#f4f7fb,#f5f8fb,#f6f8fc,#f7f9fc) 0 12px/100% 4.5px no-repeat,linear-gradient(90deg,#ffffff,#ffffff,#ffffff,#ffffff,#ffffff,#ffffff,#ffffff,#ffffff,#ffffff,#ffffff,#ffffff,#ffffff,#ffffff,#ffffff,#ffffff,#ffffff,#ffffff,#ffffff,#ffffff,#ffffff,#ffffff,#ffffff,#fffefe,#fffdfd,#fefcfb,#fefaf9,#fef7f7,#fdf4f3,#fdf0ef,#fcebea,#fbe6e5,#fae1e0,#f9dcdb,#f9d8d6,#f8d4d2,#f8d0cf,#f7cecc,#f7cdcb,#f7cccb,#f7cdcb,#f7cfcd,#f8d1cf,#f8d3d2,#f8d5d4,#f9d7d6,#f9d8d7,#f9d8d7,#f9d7d6,#f8d7d5,#f8d6d5,#f9d7d5,#f9d9d8,#fadedd,#fbe4e3,#fceceb,#fdf3f3,#fefbfb,#fdfdfe,#f8fafd,#f5f8fc,#f2f6fb,#f0f4fa,#eff4fa,#eef3f9,#eef3f9,#eef3f9,#eef3f9,#eef3f9,#eff3f9,#f0f4fa,#f1f5fa,#f2f6fa,#f3f6fb,#f4f7fb,#f5f8fc) 0 16px/100% 4.5px no-repeat,linear-gradient(90deg,#ffffff,#ffffff,#ffffff,#ffffff,#ffffff,#feffff,#feffff,#feffff,#fefeff,#fefeff,#fefeff,#fefeff,#fefeff,#fefeff,#fefeff,#fefeff,#fefeff,#fefeff,#fefeff,#feffff,#ffffff,#fffffe,#fffdfd,#fefcfb,#fef9f9,#fdf6f5,#fdf1f1,#fceceb,#fbe6e5,#fadfde,#f9d8d7,#f8d1cf,#f7cac8,#f5c4c2,#f5bfbc,#f4bab8,#f3b7b4,#f3b5b2,#f3b5b2,#f3b5b3,#f3b7b4,#f4b9b7,#f4bcb9,#f4bebb,#f5bfbd,#f5c0bd,#f5bfbd,#f5bebc,#f4bdbb,#f5bebc,#f5c1be,#f6c6c4,#f7cecc,#f9d8d6,#fae3e2,#fceeed,#fef8f7,#fefeff,#f8fafd,#f4f7fb,#f1f5fa,#eff3f9,#edf2f9,#ecf2f9,#ecf1f8,#ecf1f8,#ecf1f9,#ecf2f9,#edf2f9,#eef3f9,#eff4fa,#f0f5fa,#f2f5fa,#f3f6fb,#f4f7fb) 0 20px/100% 4.5px no-repeat,linear-gradient(90deg,#ffffff,#feffff,#feffff,#fefeff,#fefeff,#fefeff,#fefeff,#fdfefe,#fdfefe,#fdfefe,#fdfefe,#fdfdfe,#fdfdfe,#fdfdfe,#fdfdfe,#fdfdfe,#fdfdfe,#fdfdfe,#fdfefe,#fefefe,#fefeff,#ffffff,#fffdfc,#fefaf9,#fdf5f5,#fdf0f0,#fceae9,#fae2e1,#f9d9d8,#f7d0ce,#f6c7c5,#f4bdbb,#f3b5b2,#f2adaa,#f1a6a3,#f0a19d,#ef9d99,#ef9b97,#ef9a96,#ef9a96,#ef9c98,#ef9e9a,#f0a09c,#f0a19e,#f0a29e,#f0a19e,#f0a19d,#f0a09d,#f0a19d,#f0a4a0,#f1aaa7,#f3b3b0,#f5bfbc,#f7cdcb,#f9dbda,#fbe9e8,#fdf5f5,#ffffff,#f9fafd,#f4f7fb,#f0f5fa,#eef3f9,#ecf2f9,#ebf1f8,#ebf1f8,#ebf1f8,#ebf1f8,#ebf1f8,#ecf2f9,#edf2f9,#eef3f9,#f0f4fa,#f1f5fa,#f2f6fb,#f4f7fb) 0 24px/100% 4.5px no-repeat,linear-gradient(90deg,#fefeff,#fefeff,#fefeff,#fdfefe,#fdfefe,#fdfdfe,#fcfdfe,#fcfdfe,#fbfcfe,#fbfcfe,#fbfcfe,#fbfcfd,#fafcfd,#fafcfd,#fafbfd,#fafcfd,#fafcfd,#fbfcfd,#fbfcfe,#fcfdfe,#fdfefe,#ffffff,#fefcfc,#fef7f7,#fdf1f0,#fbe9e8,#fae0df,#f8d6d4,#f7cac8,#f5bebc,#f3b3b0,#f1a7a4,#ef9d99,#ee9490,#ec8c88,#ec8681,#eb827d,#ea7f7a,#ea7e79,#ea7e79,#ea7f7a,#eb807b,#eb817d,#eb827d,#eb827d,#eb827d,#eb817d,#eb827e,#eb8681,#ec8c88,#ee9692,#f0a3a0,#f3b3b0,#f6c5c2,#f8d6d4,#fbe5e4,#fdf3f2,#fffefe,#f9fbfd,#f4f7fb,#f1f5fa,#eef3f9,#ecf2f9,#ebf1f8,#ebf1f8,#ebf1f8,#ebf1f8,#ebf1f8,#ecf2f9,#edf2f9,#eef3f9,#f0f4fa,#f1f5fa,#f2f6fb,#f4f7fb) 0 28px/100% 4.5px no-repeat,linear-gradient(90deg,#fefeff,#fdfefe,#fdfdfe,#fcfdfe,#fcfdfe,#fbfcfe,#fafcfd,#fafbfd,#f9fbfd,#f8fafd,#f8fafd,#f7f9fc,#f7f9fc,#f7f9fc,#f7f9fc,#f7f9fc,#f7f9fc,#f7fafc,#f8fafd,#f9fbfd,#fbfcfe,#feffff,#fefbfb,#fdf4f4,#fcebeb,#fae1e0,#f8d5d3,#f6c8c6,#f4bab7,#f2aba8,#ef9e9a,#ed918d,#eb8580,#ea7b76,#e8736e,#e76c67,#e76862,#e6655f,#e6635d,#e6635d,#e6635d,#e6645e,#e6645e,#e6645e,#e6645e,#e6645f,#e66660,#e76964,#e8706b,#ea7a75,#ec8884,#ef9995,#f2aca9,#f5bfbd,#f8d2d0,#fae2e1,#fdf0f0,#fefcfc,#fbfcfe,#f6f8fc,#f2f6fb,#eff4fa,#eef3f9,#edf2f9,#ecf2f9,#ecf1f8,#ecf1f9,#ecf2f9,#edf2f9,#eef3f9,#eff4fa,#f0f5fa,#f2f6fa,#f3f6fb,#f4f7fb) 0 32px/100% 4.5px no-repeat,linear-gradient(90deg,#fdfefe,#fcfdfe,#fcfdfe,#fbfcfe,#fafbfd,#f9fbfd,#f8fafd,#f7f9fc,#f6f9fc,#f5f8fc,#f4f7fb,#f4f7fb,#f3f7fb,#f3f6fb,#f3f6fb,#f3f6fb,#f3f6fb,#f4f7fb,#f5f8fc,#f7f9fc,#fafbfd,#fefeff,#fef9f9,#fdf0f0,#fbe5e4,#f9d8d6,#f6c9c7,#f4b9b6,#f1a9a5,#ee9895,#ec8985,#ea7b76,#e86f69,#e6655f,#e55c56,#e4564f,#e3514b,#e34e48,#e24c46,#e24c45,#e24b44,#e24b44,#e24b44,#e24b45,#e24c45,#e24e47,#e3524b,#e45852,#e6625c,#e86f69,#ea7f7a,#ed928e,#f1a6a3,#f4bbb8,#f7cecc,#fadfdd,#fcedec,#fef8f8,#fdfefe,#f8fafd,#f4f7fb,#f2f6fb,#f0f4fa,#eff4fa,#eef3f9,#eef3f9,#eef3f9,#eff3f9,#eff4fa,#f0f4fa,#f1f5fa,#f2f6fb,#f3f7fb,#f4f7fb,#f6f8fc) 0 36px/100% 4.5px no-repeat,linear-gradient(90deg,#fcfdfe,#fcfdfe,#fbfcfe,#fafbfd,#f8fafd,#f7f9fc,#f6f9fc,#f5f8fb,#f4f7fb,#f3f6fb,#f2f5fa,#f1f5fa,#f0f4fa,#f0f4fa,#eff4fa,#f0f4fa,#f0f4fa,#f1f5fa,#f3f6fb,#f5f8fc,#f9fbfd,#feffff,#fef7f7,#fceceb,#fadedd,#f7cecc,#f4bdba,#f1aaa7,#ee9894,#ec8682,#e97671,#e76862,#e55b55,#e3514b,#e24943,#e1433c,#e03f38,#e03c35,#df3a33,#df3932,#df3931,#df3831,#df3931,#df3932,#df3b34,#e03f37,#e1453d,#e24d46,#e45953,#e76862,#e97974,#ed8d88,#f0a19d,#f3b5b2,#f6c8c6,#f9d9d8,#fbe8e7,#fdf3f3,#fffcfc,#fcfdfe,#f8fafd,#f5f8fc,#f4f7fb,#f3f6fb,#f2f6fb,#f2f5fa,#f2f6fa,#f2f6fb,#f2f6fb,#f3f6fb,#f4f7fb,#f5f8fb,#f6f8fc,#f7f9fc,#f8fafc) 0 40px/100% 4.5px no-repeat,linear-gradient(90deg,#fcfdfe,#fbfcfe,#fafcfd,#f9fbfd,#f8fafd,#f6f9fc,#f5f8fc,#f4f7fb,#f3f6fb,#f2f5fa,#f1f5fa,#f0f4fa,#eff4fa,#eff3f9,#eef3f9,#eff3f9,#eff4fa,#f0f5fa,#f2f6fb,#f6f8fc,#fafcfd,#fffdfd,#fdf2f2,#fbe5e4,#f8d5d4,#f5c3c1,#f2b0ad,#ef9c98,#ec8984,#e97671,#e66660,#e45751,#e24c45,#e1423b,#df3b34,#df362e,#de322a,#de2f28,#dd2e26,#dd2d25,#dd2c24,#dd2c24,#dd2c24,#dd2e26,#de3129,#df362e,#e03d35,#e1463f,#e3534c,#e6625c,#e8736e,#ec8681,#ef9a96,#f2aeab,#f5c1bf,#f8d2d1,#fae1e0,#fcedec,#fef6f6,#fffdfd,#fdfdfe,#fafbfd,#f8fafd,#f7f9fc,#f6f9fc,#f6f9fc,#f6f9fc,#f6f9fc,#f6f9fc,#f7f9fc,#f7f9fc,#f8fafd,#f9fafd,#f9fbfd,#fafbfd) 0 44px/100% 4.5px no-repeat,linear-gradient(90deg,#fcfdfe,#fbfcfe,#fafcfd,#f9fbfd,#f8fafd,#f6f9fc,#f5f8fc,#f4f7fb,#f3f7fb,#f2f6fb,#f2f6fa,#f1f5fa,#f0f5fa,#f0f4fa,#f0f4fa,#f0f4fa,#f1f5fa,#f2f6fb,#f4f7fb,#f8fafd,#fdfefe,#fef8f8,#fcecec,#fadedc,#f7ccca,#f4b9b6,#f0a4a0,#ed8f8b,#ea7b76,#e76863,#e45852,#e24a44,#e03f38,#df372f,#de3129,#dd2c24,#dd2c24,#dd2c24,#dd2c24,#dd2c24,#dd2c24,#dd2c24,#dd2c24,#dd2c24,#dd2c24,#de3028,#df3730,#e0413a,#e24d46,#e55b55,#e76c66,#ea7e79,#ed928d,#f1a6a2,#f4b9b6,#f7cac8,#f9dad8,#fbe6e5,#fdf0ef,#fef7f6,#fefcfc,#ffffff,#fdfefe,#fcfdfe,#fcfdfe,#fbfcfe,#fbfcfe,#fbfcfe,#fbfcfe,#fbfcfe,#fbfcfe,#fcfdfe,#fcfdfe,#fcfdfe,#fdfdfe) 0 48px/100% 4.5px no-repeat,linear-gradient(90deg,#fdfdfe,#fcfdfe,#fbfcfe,#fafbfd,#f9fafd,#f7fafc,#f6f9fc,#f6f8fc,#f5f8fc,#f5f8fb,#f4f7fb,#f4f7fb,#f4f7fb,#f3f7fb,#f3f7fb,#f4f7fb,#f4f7fb,#f6f8fc,#f8fafd,#fcfdfe,#fffcfc,#fdf2f2,#fbe5e4,#f8d6d4,#f5c3c1,#f2afab,#ef9995,#eb847f,#e86f6a,#e55d57,#e24e47,#e0413a,#df372f,#de2f27,#dd2c24,#dd2c24,#dd2c24,#dd2c24,#dd2c24,#dd2c24,#dd2c24,#dd2c24,#dd2c24,#dd2c24,#dd2c24,#dd2c24,#de332b,#e03c34,#e14740,#e3544e,#e6645e,#e97671,#ec8985,#ef9d9a,#f2b1ae,#f5c3c1,#f8d2d1,#fadfde,#fbe9e8,#fdf0ef,#fdf5f4,#fef8f8,#fefafa,#fefbfb,#fffcfc,#fffdfd,#fffdfd,#fffefe,#fffefe,#fffefe,#fffefe,#fffefe,#fffefe,#fffefe,#fffefe) 0 52px/100% 4.5px no-repeat,linear-gradient(90deg,#fdfefe,#fdfdfe,#fcfdfe,#fafcfd,#f9fbfd,#f8fafd,#f8fafd,#f7fafc,#f7f9fc,#f7fafc,#f7fafc,#f7fafc,#f7fafc,#f7fafc,#f7fafc,#f8fafc,#f8fafd,#fafbfd,#fcfdfe,#fffefe,#fef7f6,#fcecec,#fadfde,#f7cfcd,#f4bbb9,#f1a6a3,#ed918c,#ea7b76,#e76761,#e4554f,#e1463f,#df3a33,#de3129,#dd2c24,#dd2c24,#dd2c24,#dd2c24,#dd2c24,#dd2c24,#dd2c24,#dd2c24,#dd2c24,#dd2c24,#dd2c24,#dd2c24,#dd2c24,#dd2f27,#df3730,#e0413a,#e34e48,#e55e58,#e86f6a,#eb837e,#ee9793,#f1aba8,#f4bdba,#f7ccca,#f9d9d7,#fae2e1,#fbe9e8,#fceeed,#fdf1f0,#fdf3f2,#fdf4f4,#fdf5f5,#fdf6f5,#fef6f6,#fef7f6,#fef7f7,#fef8f7,#fef8f8,#fef9f8,#fef9f9,#fefaf9,#fefafa) 0 56px/100% 4.5px no-repeat,linear-gradient(90deg,#fefeff,#fdfefe,#fcfdfe,#fbfcfe,#fafbfd,#f9fbfd,#f9fafd,#f9fafd,#f9fbfd,#f9fbfd,#fafbfd,#fafcfd,#fafcfd,#fbfcfd,#fbfcfe,#fbfcfe,#fcfdfe,#fdfefe,#fffefe,#fefaf9,#fdf2f2,#fbe8e7,#f9dad9,#f6cac8,#f3b6b4,#f0a19e,#ec8b87,#e97671,#e6625c,#e3504a,#e1423b,#df362f,#dd2e26,#dd2c24,#dd2c24,#dd2c24,#dd2c24,#dd2c24,#dd2c24,#dd2c24,#dd2c24,#dd2c24,#dd2c24,#dd2c24,#dd2c24,#dd2c24,#dd2d25,#de342d,#e03e37,#e24b44,#e45a54,#e76c67,#eb807b,#ee9591,#f1a8a5,#f4b9b7,#f6c8c6,#f8d3d2,#f9dcdb,#fae3e2,#fbe7e6,#fceae9,#fcebeb,#fcedec,#fceeed,#fceeee,#fcefee,#fdf0ef,#fdf1f0,#fdf1f1,#fdf2f2,#fdf3f3,#fdf4f4,#fdf5f5,#fef6f6) 0 60px/100% 4.5px no-repeat,linear-gradient(90deg,#fefeff,#fdfefe,#fcfdfe,#fbfcfe,#fafbfd,#f9fbfd,#f9fbfd,#f9fbfd,#fafbfd,#fbfcfd,#fbfcfe,#fcfdfe,#fcfdfe,#fdfdfe,#fdfefe,#fdfefe,#fefeff,#ffffff,#fefcfc,#fef7f7,#fdf0ef,#fbe6e5,#f9d8d7,#f6c7c5,#f3b4b1,#f09f9b,#ec8985,#e9746f,#e5605a,#e34f48,#e04039,#de352e,#dd2d25,#dd2c24,#dd2c24,#dd2c24,#dd2c24,#dd2c24,#dd2c24,#dd2c24,#dd2c24,#dd2c24,#dd2c24,#dd2c24,#dd2c24,#dd2c24,#dd2c24,#de342d,#e03f37,#e24b45,#e55b55,#e86e68,#eb827d,#ee9692,#f1a9a5,#f4b8b6,#f6c5c3,#f7cfce,#f9d7d6,#f9dddb,#fae0df,#fae3e2,#fbe4e3,#fbe5e5,#fbe6e5,#fbe7e6,#fbe8e7,#fbe9e8,#fceae9,#fcebeb,#fcedec,#fceeed,#fcefef,#fdf1f0,#fdf2f1) 0 64px/100% 4.5px no-repeat,linear-gradient(90deg,#fefeff,#fdfefe,#fcfdfe,#fbfcfe,#f9fbfd,#f9fafd,#f8fafd,#f9fbfd,#fafbfd,#fbfcfe,#fcfdfe,#fdfefe,#fefefe,#fefeff,#fefeff,#ffffff,#ffffff,#fffdfd,#fefbfa,#fef6f6,#fcefee,#fbe5e4,#f9d8d7,#f6c8c6,#f3b5b2,#f0a09c,#ec8a86,#e97570,#e6625c,#e3504a,#e1423b,#df362f,#dd2e26,#dd2c24,#dd2c24,#dd2c24,#dd2c24,#dd2c24,#dd2c24,#dd2c24,#dd2c24,#dd2c24,#dd2c24,#dd2c24,#dd2c24,#dd2c24,#dd2f27,#df3730,#e1423b,#e35049,#e5605a,#e8736e,#ec8883,#ef9c98,#f2adaa,#f4bbb8,#f6c5c3,#f7cdcb,#f8d3d1,#f9d7d6,#f9dad9,#f9dcdb,#fadedc,#fadfdd,#fae0de,#fae0df,#fae1e0,#fae3e2,#fbe4e3,#fbe6e5,#fbe7e6,#fbe9e8,#fcebea,#fcecec,#fceeee) 0 68px/100% 4.5px no-repeat,linear-gradient(90deg,#fefeff,#fdfdfe,#fcfdfe,#fafcfd,#f9fbfd,#f8fafd,#f8fafd,#f8fafd,#fafbfd,#fbfcfe,#fcfdfe,#fdfefe,#fefeff,#feffff,#ffffff,#ffffff,#fffefe,#fffdfd,#fefafa,#fef6f6,#fdf0ef,#fbe6e5,#f9dad9,#f7cac8,#f4b8b5,#f0a4a0,#ed8f8b,#ea7a75,#e66661,#e4554e,#e1463f,#df3a33,#de3129,#dd2c24,#dd2c24,#dd2c24,#dd2c24,#dd2c24,#dd2c24,#dd2c24,#dd2c24,#dd2c24,#dd2c24,#dd2c24,#dd2c24,#dd2d25,#de342d,#e03e37,#e24a43,#e45852,#e76963,#ea7d78,#ee938f,#f1a7a3,#f3b6b3,#f5c0be,#f6c7c5,#f7ccca,#f7d0ce,#f8d3d1,#f8d5d3,#f8d7d5,#f9d7d6,#f9d8d7,#f9d9d8,#f9dad9,#f9dbda,#f9dddb,#fadedd,#fae0df,#fae2e1,#fbe4e3,#fbe6e6,#fbe9e8,#fcebea) 0 72px/100% 4.5px no-repeat,linear-gradient(90deg,#fefeff,#fdfdfe,#fbfcfe,#fafbfd,#f8fafd,#f7fafc,#f7f9fc,#f8fafd,#f9fbfd,#fbfcfe,#fcfdfe,#fdfefe,#fefeff,#ffffff,#ffffff,#ffffff,#fffefe,#fffdfd,#fefbfb,#fef7f7,#fdf1f1,#fbe9e8,#fadddc,#f7cfcd,#f4bebb,#f1aba7,#ee9692,#eb827d,#e86e69,#e55d57,#e24d47,#e0413a,#df372f,#de2f27,#dd2c24,#dd2c24,#dd2c24,#dd2c24,#dd2c24,#dd2c24,#dd2c24,#dd2c24,#dd2c24,#dd2c24,#dd2e26,#de352d,#e03d36,#e14841,#e3544e,#e6635d,#e97570,#ec8b86,#f0a29e,#f3b5b3,#f5c2c0,#f6c9c7,#f7cbc9,#f7ccca,#f7cdcb,#f7cfcd,#f7d0ce,#f8d1cf,#f8d2d0,#f8d3d1,#f8d3d2,#f8d4d3,#f8d6d4,#f9d7d6,#f9d9d8,#f9dbda,#fadedc,#fae0df,#fae3e1,#fbe5e4,#fbe8e7) 0 76px/100% 4.5px no-repeat,linear-gradient(90deg,#fefeff,#fdfdfe,#fbfcfe,#fafbfd,#f8fafd,#f7f9fc,#f7f9fc,#f8fafc,#f9fbfd,#fafcfd,#fcfdfe,#fdfefe,#fefeff,#ffffff,#ffffff,#ffffff,#fffefe,#fffdfd,#fefbfb,#fef8f8,#fdf3f3,#fceceb,#fae2e1,#f8d5d3,#f6c5c3,#f3b3b0,#f0a09c,#ed8c88,#e97974,#e76862,#e45852,#e24b44,#e04039,#df3730,#de3129,#dd2c24,#dd2c24,#dd2c24,#dd2c24,#dd2c24,#dd2c24,#dd2c24,#dd2c24,#de3129,#df3730,#e03f38,#e24942,#e4554e,#e6625c,#e8726c,#eb8580,#ef9b98,#f3b3b0,#f6c7c5,#f8d2d0,#f8d3d1,#f7d0ce,#f7cdcb,#f7cbca,#f7ccca,#f7ccca,#f7cccb,#f7cdcb,#f7cdcc,#f7cecc,#f7cfce,#f8d1cf,#f8d3d1,#f8d5d3,#f9d7d6,#f9dad8,#f9dcdb,#fadfde,#fae2e1,#fbe5e4) 0 80px/100% 4.5px no-repeat,linear-gradient(90deg,#fefeff,#fdfdfe,#fbfcfe,#f9fbfd,#f8fafd,#f7f9fc,#f7f9fc,#f7fafc,#f9fbfd,#fafcfd,#fcfdfe,#fdfefe,#fefeff,#ffffff,#ffffff,#ffffff,#fffefe,#fffefe,#fffcfc,#fefaf9,#fdf6f5,#fcefef,#fbe7e6,#f9dcda,#f7cecc,#f4bebb,#f2aca9,#ef9996,#ec8783,#e97671,#e66660,#e45852,#e24c46,#e1433c,#e03c34,#df362f,#de332b,#de3029,#de2f27,#de2f28,#de3129,#de332c,#df3830,#e03d36,#e1453e,#e24e47,#e45852,#e6645e,#e8726c,#eb827d,#ee9591,#f2adaa,#f6c6c4,#f9dad8,#fae2e1,#fadedd,#f8d6d4,#f7cecd,#f7cac8,#f6c9c7,#f6c9c6,#f6c9c7,#f6c9c7,#f6c9c7,#f6cac8,#f7cbc9,#f7cdcb,#f7cfcd,#f8d1cf,#f8d4d2,#f8d6d5,#f9d9d8,#f9dcdb,#fadfde,#fae2e1) 0 84px/100% 4.5px no-repeat,linear-gradient(90deg,#fefeff,#fdfdfe,#fbfcfe,#fafbfd,#f8fafd,#f7f9fc,#f7f9fc,#f8fafc,#f9fbfd,#fbfcfd,#fcfdfe,#fdfefe,#fefeff,#ffffff,#ffffff,#ffffff,#ffffff,#fffefe,#fffdfd,#fefbfb,#fef8f8,#fdf3f2,#fceceb,#fae3e2,#f9d7d5,#f6c9c7,#f4b9b6,#f1a8a5,#ee9793,#ec8782,#e97772,#e76963,#e55d57,#e3534d,#e24b44,#e1453e,#e04139,#e03e37,#e03d35,#e03d36,#e03f38,#e1423b,#e14740,#e24e47,#e4564f,#e55f59,#e76a65,#e97671,#eb847f,#ee938f,#f1a6a3,#f5bfbc,#f9d8d7,#fcebea,#fdf1f0,#fbe9e8,#f9dcda,#f7d0cf,#f6cac8,#f6c7c5,#f6c6c4,#f6c5c3,#f6c6c3,#f6c6c4,#f6c7c5,#f6c8c6,#f6cac8,#f7ccca,#f7cecc,#f8d1cf,#f8d4d2,#f9d7d5,#f9dad9,#fadddc,#fae1e0) 0 88px/100% 4.5px no-repeat,linear-gradient(90deg,#fefeff,#fdfdfe,#fbfcfe,#fafbfd,#f8fafd,#f8fafc,#f7fafc,#f8fafd,#f9fbfd,#fbfcfe,#fcfdfe,#fdfefe,#fefeff,#ffffff,#ffffff,#ffffff,#ffffff,#fffefe,#fffefe,#fffcfc,#fefafa,#fef6f6,#fdf1f0,#fce9e9,#fae0df,#f8d4d3,#f6c7c5,#f4b8b6,#f1a9a6,#ef9a96,#ec8b86,#ea7d78,#e8716c,#e76761,#e55f59,#e45852,#e3534d,#e3504a,#e34f49,#e35049,#e3524b,#e4564f,#e55b55,#e6625c,#e76a65,#e9746f,#ea7f7a,#ec8a85,#ee9692,#f0a4a1,#f3b7b4,#f7cecc,#fbe7e6,#fef9f9,#fffcfc,#fdf1f1,#fae0df,#f8d2d0,#f6c9c7,#f6c6c3,#f5c4c2,#f5c3c1,#f5c3c1,#f5c4c1,#f6c4c2,#f6c6c3,#f6c7c5,#f6c9c7,#f7ccca,#f7cfcd,#f8d2d0,#f8d5d4,#f9d9d7,#f9dcdb,#fadfde) 0 92px/100% 4.5px no-repeat,linear-gradient(90deg,#fefeff,#fdfefe,#fcfdfe,#fafcfd,#f9fbfd,#f8fafd,#f8fafd,#f9fbfd,#fafbfd,#fbfcfe,#fdfdfe,#fefeff,#fefeff,#ffffff,#ffffff,#ffffff,#ffffff,#ffffff,#fffefe,#fffdfd,#fefcfb,#fef9f9,#fdf5f5,#fdf0ef,#fbe8e7,#fadfde,#f8d4d3,#f6c8c6,#f4bbb8,#f2adaa,#f0a09d,#ee9490,#ec8884,#ea7e79,#e97671,#e86f6a,#e76b65,#e76862,#e66660,#e66761,#e76963,#e76d67,#e8726d,#e97974,#eb817c,#ec8a86,#ee9490,#ef9e9a,#f1a8a5,#f3b5b2,#f6c5c3,#f9dad9,#fdf2f1,#fdfdfe,#fcfdfe,#fdf6f5,#fae3e1,#f8d3d1,#f6cac7,#f6c5c3,#f5c3c1,#f5c2c0,#f5c2c0,#f5c2c0,#f5c3c1,#f6c4c2,#f6c6c4,#f6c8c6,#f7cbc9,#f7cecc,#f8d1cf,#f8d4d3,#f9d8d6,#f9dbda,#fadfdd) 0 96px/100% 4.5px no-repeat,linear-gradient(90deg,#fefeff,#fdfefe,#fcfdfe,#fbfcfe,#fafbfd,#f9fbfd,#f9fbfd,#fafbfd,#fbfcfd,#fcfdfe,#fdfdfe,#fefeff,#feffff,#ffffff,#ffffff,#ffffff,#ffffff,#ffffff,#fffefe,#fffefe,#fffdfd,#fefbfb,#fef8f8,#fdf5f4,#fcefef,#fbe9e8,#fae0df,#f8d7d5,#f7ccca,#f5c1bf,#f3b6b3,#f1aba7,#f0a09d,#ee9793,#ed908b,#ec8985,#eb8580,#eb827d,#eb807c,#eb817c,#eb837e,#ec8782,#ec8c87,#ed928e,#ef9995,#f0a19d,#f1a9a6,#f2b1ae,#f4b9b7,#f5c3c1,#f8d1cf,#fae3e2,#fef7f7,#fafcfd,#fbfcfe,#fef6f6,#fae3e2,#f8d3d2,#f6cac8,#f6c5c3,#f5c3c1,#f5c2c0,#f5c2c0,#f5c2c0,#f5c3c1,#f6c4c2,#f6c6c4,#f6c8c6,#f7cbc9,#f7cdcc,#f8d1cf,#f8d4d2,#f9d8d6,#f9dbda,#fadfdd) 0 100px/100% 4.5px no-repeat,linear-gradient(90deg,#fefeff,#fefeff,#fdfdfe,#fcfdfe,#fbfcfe,#fafcfd,#fafbfd,#fafcfd,#fbfcfe,#fcfdfe,#fdfefe,#fefeff,#feffff,#ffffff,#ffffff,#ffffff,#ffffff,#ffffff,#ffffff,#fffefe,#fffefe,#fffdfd,#fefbfb,#fef9f8,#fdf5f5,#fdf0f0,#fceaea,#fbe3e2,#f9dbda,#f8d3d1,#f6cac8,#f5c1be,#f4b8b5,#f2b0ad,#f1a9a6,#f0a4a0,#f0a09c,#ef9d99,#ef9c98,#ef9c98,#ef9e9a,#f0a19d,#f1a5a2,#f1aaa7,#f2b0ad,#f3b6b3,#f4bcba,#f5c2c0,#f6c8c6,#f7cfcd,#f9d9d8,#fbe8e7,#fef8f8,#fcfdfe,#fefeff,#fdf3f3,#fae2e1,#f8d3d2,#f7cbc9,#f6c6c4,#f6c4c2,#f5c3c1,#f5c3c0,#f5c3c1,#f5c4c1,#f6c5c3,#f6c7c4,#f6c9c7,#f7cbc9,#f7cecc,#f8d1d0,#f8d5d3,#f9d8d7,#f9dcda,#fadfde) 0 104px/100% 4.5px no-repeat,linear-gradient(90deg,#feffff,#fefeff,#fdfefe,#fcfdfe,#fcfdfe,#fbfcfe,#fbfcfe,#fbfcfe,#fcfdfe,#fdfdfe,#fefeff,#fefeff,#ffffff,#ffffff,#ffffff,#ffffff,#ffffff,#ffffff,#ffffff,#ffffff,#fffefe,#fffefe,#fffdfd,#fefbfb,#fef9f9,#fef6f6,#fdf2f2,#fceded,#fbe8e7,#fae1e0,#f9dbd9,#f8d4d2,#f7cdcb,#f6c7c5,#f5c2bf,#f4bdba,#f4b9b7,#f3b7b4,#f3b6b3,#f3b6b3,#f3b7b5,#f4bab7,#f4bdba,#f5c1be,#f6c5c3,#f6c9c7,#f7cdcb,#f8d1cf,#f8d4d2,#f9d8d7,#fadfde,#fceae9,#fef6f5,#fffdfd,#fefbfa,#fcefee,#fae0df,#f8d4d2,#f7ccca,#f6c8c6,#f6c6c4,#f6c5c3,#f6c5c3,#f6c5c3,#f6c6c3,#f6c7c5,#f6c8c6,#f7cbc9,#f7cdcb,#f7d0ce,#f8d3d1,#f8d6d4,#f9d9d8,#f9dddb,#fae0df) 0 108px/100% 4.5px no-repeat,linear-gradient(90deg,#feffff,#fefeff,#fefeff,#fdfefe,#fcfdfe,#fcfdfe,#fcfdfe,#fcfdfe,#fdfdfe,#fdfefe,#fefeff,#fefeff,#ffffff,#ffffff,#ffffff,#ffffff,#ffffff,#ffffff,#ffffff,#ffffff,#ffffff,#fffffe,#fffefe,#fffdfd,#fefcfc,#fefafa,#fef8f7,#fdf5f4,#fdf1f0,#fcedec,#fbe8e7,#fbe3e2,#fadfdd,#f9dad9,#f8d6d4,#f8d3d1,#f7d0ce,#f7cecc,#f7cdcb,#f7cdcb,#f7cdcc,#f7cfcd,#f8d1cf,#f8d3d2,#f8d6d4,#f9d8d7,#f9dad9,#f9dcdb,#fadddc,#fae0de,#fbe3e2,#fceae9,#fdf2f1,#fef6f6,#fdf3f3,#fceae9,#fadedd,#f8d4d3,#f7cecc,#f7cbc9,#f6c9c7,#f6c8c6,#f6c8c6,#f6c8c6,#f6c8c6,#f6cac8,#f7cbc9,#f7cdcb,#f7cfce,#f8d2d0,#f8d5d3,#f9d8d7,#f9dbda,#fadedd,#fae2e0) 0 112px/100% 4.5px no-repeat,linear-gradient(90deg,#ffffff,#fefeff,#fefeff,#fdfefe,#fdfefe,#fdfdfe,#fdfdfe,#fdfdfe,#fdfefe,#fefefe,#fefeff,#fefeff,#feffff,#ffffff,#ffffff,#ffffff,#ffffff,#ffffff,#ffffff,#ffffff,#ffffff,#ffffff,#ffffff,#fffffe,#fffefe,#fffdfd,#fefcfb,#fefafa,#fef8f7,#fdf5f5,#fdf2f2,#fcefee,#fceceb,#fbe9e8,#fbe6e5,#fbe3e2,#fae1e0,#fae0df,#fadfde,#fadfde,#fadfde,#fae0de,#fae1df,#fae2e1,#fae3e2,#fbe4e3,#fbe4e3,#fbe4e3,#fbe4e3,#fbe5e4,#fbe6e5,#fceae9,#fceeed,#fdf0f0,#fceded,#fbe6e5,#fadddc,#f8d6d4,#f8d1cf,#f7cecc,#f7cccb,#f7ccca,#f7cbc9,#f7cbc9,#f7ccca,#f7cdcb,#f7cfcd,#f7d0cf,#f8d3d1,#f8d5d3,#f9d8d6,#f9dbd9,#fadedc,#fae1df,#fbe3e2) 0 116px/100% 4.5px no-repeat,linear-gradient(90deg,#feffff,#fefeff,#fefeff,#fdfefe,#fdfefe,#fdfdfe,#fdfdfe,#fdfdfe,#fdfefe,#fdfefe,#fefefe,#fefeff,#fefeff,#fefeff,#fefeff,#fefeff,#fefeff,#fefeff,#fefeff,#fefeff,#fefeff,#fefeff,#fefeff,#fefeff,#feffff,#ffffff,#ffffff,#fffefe,#fffcfc,#fefbfb,#fef9f9,#fef7f7,#fdf5f5,#fdf3f3,#fdf2f1,#fdf0ef,#fceeee,#fceded,#fcecec,#fceceb,#fceceb,#fceceb,#fceceb,#fceceb,#fceceb,#fceceb,#fcebea,#fceaea,#fce9e9,#fbe9e8,#fbe9e8,#fceae9,#fcebeb,#fceceb,#fbe9e8,#fbe4e3,#fadddc,#f9d8d6,#f8d4d3,#f8d2d0,#f8d1cf,#f7d0ce,#f7d0ce,#f7d0ce,#f7d0ce,#f8d1cf,#f8d3d1,#f8d4d3,#f8d6d5,#f9d9d7,#f9dbda,#fadedc,#fae0df,#fae3e2,#fbe6e5) 0 120px/100% 4.5px no-repeat,linear-gradient(90deg,#fefeff,#fefefe,#fdfefe,#fdfdfe,#fdfdfe,#fcfdfe,#fcfdfe,#fcfdfe,#fcfdfe,#fcfdfe,#fcfdfe,#fcfdfe,#fcfdfe,#fcfdfe,#fcfdfe,#fcfdfe,#fcfdfe,#fcfdfe,#fcfdfe,#fcfdfe,#fcfdfe,#fcfdfe,#fcfdfe,#fcfdfe,#fcfdfe,#fcfdfe,#fdfdfe,#fdfefe,#fefeff,#feffff,#ffffff,#fffefe,#fffcfc,#fefbfb,#fefafa,#fef9f9,#fef8f7,#fef7f6,#fef6f6,#fdf5f5,#fdf5f4,#fdf4f4,#fdf4f3,#fdf3f2,#fdf2f2,#fdf1f1,#fdf0f0,#fcefee,#fceded,#fceceb,#fcebea,#fcebea,#fcebea,#fceae9,#fbe7e6,#fbe3e2,#fadfde,#f9dbda,#f9d8d7,#f8d6d5,#f8d5d4,#f8d5d3,#f8d4d3,#f8d4d3,#f8d5d3,#f8d6d4,#f9d7d5,#f9d8d7,#f9dad9,#f9dcdb,#fadfdd,#fae1e0,#fbe3e2,#fbe6e5,#fbe8e7) 0 124px/100% 4.5px no-repeat,linear-gradient(90deg,#fdfdfe,#fcfdfe,#fcfdfe,#fbfdfe,#fbfcfe,#fbfcfe,#fafcfd,#fafcfd,#fafbfd,#fafbfd,#fafbfd,#f9fbfd,#f9fbfd,#f9fbfd,#f9fbfd,#f9fafd,#f8fafd,#f8fafd,#f8fafd,#f8fafd,#f8fafd,#f8fafd,#f8fafd,#f8fafd,#f8fafd,#f9fafd,#f9fbfd,#f9fbfd,#fafbfd,#fafcfd,#fbfcfe,#fbfcfe,#fcfdfe,#fdfefe,#fefeff,#feffff,#ffffff,#fffefe,#fffdfd,#fefcfc,#fefbfb,#fefafa,#fef9f9,#fef8f8,#fef7f7,#fdf6f5,#fdf4f4,#fdf2f2,#fdf1f0,#fcefee,#fceded,#fcecec,#fcebeb,#fceae9,#fbe8e7,#fbe5e4,#fae1e0,#fadfdd,#f9dddb,#f9dbda,#f9dad9,#f9dad8,#f9d9d8,#f9d9d8,#f9dad8,#f9dbd9,#f9dcda,#fadddc,#fadfdd,#fae0df,#fae2e1,#fbe4e3,#fbe7e6,#fbe9e8,#fcebea) 0 128px/100% 4.5px no-repeat,linear-gradient(90deg,#fbfcfe,#fafcfd,#fafbfd,#f9fbfd,#f9fbfd,#f8fafd,#f8fafc,#f7f9fc,#f7f9fc,#f6f9fc,#f6f8fc,#f5f8fc,#f5f8fc,#f4f7fb,#f4f7fb,#f4f7fb,#f3f7fb,#f3f7fb,#f3f6fb,#f3f6fb,#f3f6fb,#f3f6fb,#f3f6fb,#f3f6fb,#f3f7fb,#f3f7fb,#f4f7fb,#f4f7fb,#f5f8fb,#f5f8fc,#f6f8fc,#f6f9fc,#f7f9fc,#f8fafd,#f9fbfd,#fafbfd,#fbfcfd,#fbfcfe,#fcfdfe,#fdfefe,#fefeff,#ffffff,#fffefd,#fffcfc,#fefbfb,#fef9f9,#fef7f7,#fdf6f5,#fdf4f3,#fdf2f1,#fdf0f0,#fcefee,#fceded,#fceceb,#fceae9,#fbe7e6,#fbe5e4,#fae3e2,#fae1e0,#fae0df,#fadfde,#fadfdd,#fadedd,#fadedd,#fadfdd,#fadfde,#fae0df,#fae1e0,#fae3e2,#fbe4e3,#fbe6e5,#fbe8e7,#fceae9,#fceceb,#fceded) 0 132px/100% 4.5px no-repeat,linear-gradient(90deg,#f9fbfd,#f9fafd,#f8fafd,#f7f9fc,#f6f9fc,#f5f8fc,#f5f8fb,#f4f7fb,#f3f7fb,#f2f6fb,#f2f6fa,#f1f5fa,#f0f5fa,#f0f4fa,#eff4fa,#eff3f9,#eef3f9,#eef3f9,#edf2f9,#edf2f9,#edf2f9,#edf2f9,#edf2f9,#edf2f9,#eef3f9,#eef3f9,#eef3f9,#eff4fa,#f0f4fa,#f0f5fa,#f1f5fa,#f2f6fb,#f3f6fb,#f4f7fb,#f5f8fb,#f6f8fc,#f7f9fc,#f8fafd,#f9fbfd,#fafbfd,#fbfcfe,#fcfdfe,#fdfefe,#ffffff,#fffefe,#fffcfc,#fefafa,#fef9f8,#fef7f7,#fdf5f5,#fdf3f3,#fdf2f1,#fdf0ef,#fceeee,#fcecec,#fceaea,#fbe9e8,#fbe7e6,#fbe6e5,#fbe5e4,#fbe4e3,#fbe3e2,#fbe3e2,#fbe3e2,#fbe3e2,#fbe4e3,#fbe5e4,#fbe6e5,#fbe7e6,#fbe8e7,#fceae9,#fcebea,#fcedec,#fceeee,#fdf0ef) 0 136px/100% 4.5px no-repeat,linear-gradient(90deg,#f8fafd,#f7fafc,#f6f9fc,#f6f8fc,#f5f8fb,#f4f7fb,#f3f6fb,#f2f6fb,#f1f5fa,#f0f4fa,#eff4fa,#eef3f9,#edf3f9,#edf2f9,#ecf1f9,#ebf1f8,#ebf1f8,#eaf0f8,#eaf0f8,#eaf0f8,#eaf0f8,#eaf0f8,#eaf0f8,#eaf0f8,#eaf0f8,#ebf1f8,#ebf1f8,#ecf1f8,#edf2f9,#edf2f9,#eef3f9,#eff4fa,#f0f4fa,#f1f5fa,#f2f6fb,#f3f7fb,#f4f7fb,#f6f8fc,#f7f9fc,#f8fafd,#f9fbfd,#fafcfd,#fcfdfe,#fdfdfe,#fefeff,#fffefe,#fffdfd,#fefbfb,#fef9f9,#fef8f7,#fef6f6,#fdf4f4,#fdf3f2,#fdf1f0,#fcefef,#fceeed,#fcecec,#fcebea,#fceae9,#fbe9e8,#fbe8e7,#fbe8e7,#fbe8e7,#fbe8e7,#fbe8e7,#fbe8e8,#fbe9e8,#fceae9,#fcebea,#fceceb,#fcedec,#fceeee,#fdf0ef,#fdf1f1,#fdf2f2) 0 140px/100% 4.5px no-repeat,linear-gradient(90deg,#f8fafd,#f7fafc,#f7f9fc,#f6f8fc,#f5f8fc,#f4f7fb,#f3f7fb,#f2f6fb,#f1f5fa,#f0f5fa,#eff4fa,#eff3f9,#eef3f9,#edf2f9,#ecf2f9,#ecf1f8,#ebf1f8,#ebf1f8,#eaf0f8,#eaf0f8,#eaf0f8,#eaf0f8,#eaf0f8,#eaf0f8,#ebf1f8,#ebf1f8,#ecf1f8,#ecf2f9,#edf2f9,#eef3f9,#eef3f9,#eff4fa,#f0f5fa,#f1f5fa,#f2f6fb,#f3f7fb,#f4f7fb,#f6f8fc,#f7f9fc,#f8fafd,#f9fbfd,#fafbfd,#fbfcfe,#fcfdfe,#fdfefe,#ffffff,#fffefe,#fffcfc,#fefbfb,#fef9f9,#fef8f8,#fef6f6,#fdf5f5,#fdf4f3,#fdf2f2,#fdf1f0,#fdf0ef,#fcefee,#fceeed,#fcedec,#fcecec,#fceceb,#fceceb,#fceceb,#fceceb,#fcecec,#fcedec,#fceeed,#fceeee,#fcefef,#fdf0f0,#fdf1f1,#fdf2f2,#fdf4f3,#fdf5f4) 0 144px/100% 4.5px no-repeat,linear-gradient(90deg,#fafbfd,#f9fbfd,#f8fafd,#f8fafc,#f7f9fc,#f6f9fc,#f5f8fc,#f5f8fb,#f4f7fb,#f3f7fb,#f3f6fb,#f2f6fb,#f1f5fa,#f1f5fa,#f0f4fa,#f0f4fa,#eff4fa,#eff3f9,#eef3f9,#eef3f9,#eef3f9,#eef3f9,#eef3f9,#eef3f9,#eff3f9,#eff4fa,#eff4fa,#f0f4fa,#f0f5fa,#f1f5fa,#f2f6fa,#f2f6fb,#f3f7fb,#f4f7fb,#f5f8fc,#f6f8fc,#f6f9fc,#f7fafc,#f8fafd,#f9fbfd,#fafbfd,#fbfcfe,#fcfdfe,#fdfdfe,#fefeff,#ffffff,#fffefe,#fffdfd,#fefcfc,#fefafa,#fef9f9,#fef8f8,#fef7f6,#fdf6f5,#fdf5f4,#fdf4f3,#fdf3f2,#fdf2f1,#fdf1f0,#fdf0f0,#fdf0ef,#fdf0ef,#fcefef,#fcefef,#fdf0ef,#fdf0ef,#fdf0f0,#fdf1f0,#fdf2f1,#fdf2f2,#fdf3f3,#fdf4f4,#fdf5f4,#fef6f5,#fef7f6) 0 148px/100% 4.5px no-repeat,linear-gradient(90deg,#fbfcfe,#fbfcfe,#fbfcfd,#fafcfd,#fafbfd,#f9fbfd,#f9fbfd,#f8fafd,#f8fafd,#f7f9fc,#f7f9fc,#f6f9fc,#f6f9fc,#f5f8fc,#f5f8fc,#f5f8fc,#f4f8fb,#f4f7fb,#f4f7fb,#f4f7fb,#f4f7fb,#f4f7fb,#f4f7fb,#f4f7fb,#f4f7fb,#f4f7fb,#f5f8fb,#f5f8fc,#f5f8fc,#f6f8fc,#f6f9fc,#f7f9fc,#f7f9fc,#f8fafd,#f8fafd,#f9fbfd,#f9fbfd,#fafbfd,#fbfcfe,#fbfcfe,#fcfdfe,#fdfdfe,#fdfefe,#fefeff,#ffffff,#ffffff,#fffefe,#fffdfd,#fffcfc,#fefbfb,#fefafa,#fef9f9,#fef8f8,#fef7f7,#fef7f6,#fef6f5,#fdf5f5,#fdf4f4,#fdf4f3,#fdf3f3,#fdf3f3,#fdf3f2,#fdf3f2,#fdf3f2,#fdf3f2,#fdf3f3,#fdf3f3,#fdf4f3,#fdf4f4,#fdf5f4,#fdf5f5,#fef6f6,#fef7f7,#fef8f7,#fef8f8) 0 152px/100% 4.5px no-repeat,linear-gradient(90deg,#fdfefe,#fdfdfe,#fdfdfe,#fcfdfe,#fcfdfe,#fcfdfe,#fcfdfe,#fbfcfe,#fbfcfe,#fbfcfe,#fbfcfd,#fafcfd,#fafbfd,#fafbfd,#fafbfd,#f9fbfd,#f9fbfd,#f9fbfd,#f9fbfd,#f9fbfd,#f9fbfd,#f9fbfd,#f9fbfd,#f9fbfd,#f9fbfd,#f9fbfd,#f9fbfd,#fafbfd,#fafbfd,#fafbfd,#fafcfd,#fbfcfd,#fbfcfe,#fbfcfe,#fbfcfe,#fcfdfe,#fcfdfe,#fcfdfe,#fdfdfe,#fdfefe,#fefeff,#fefeff,#feffff,#ffffff,#ffffff,#fffefe,#fffdfd,#fffdfd,#fffcfc,#fefbfb,#fefbfb,#fefafa,#fef9f9,#fef9f9,#fef8f8,#fef8f7,#fef7f7,#fef7f6,#fef6f6,#fef6f5,#fdf6f5,#fdf5f5,#fdf5f5,#fdf5f5,#fdf5f5,#fdf6f5,#fef6f5,#fef6f6,#fef7f6,#fef7f7,#fef8f7,#fef8f8,#fef9f8,#fef9f9,#fefafa) 0 156px/100% 4.5px no-repeat;filter:blur(1.6px)"></div></div>
<svg width="685" height="345" viewBox="0 0 685 345" style="position:absolute;left:0;top:0;will-change:transform">
<clipPath id="pca"><circle cx="95.6" cy="82.5" r="68.7"/></clipPath>
<path d="M95.6 53.5L95.6 52.5L95.6 51.5L95.6 50.5L95.6 49.5L95.6 48.5L95.6 47.5L95.6 46.5L95.6 45.5L95.6 44.5L95.6 43.5L95.6 42.5L95.6 41.5L95.6 40.5L95.6 39.5L95.6 38.5L95.6 37.5L95.6 36.5L95.6 35.5L95.6 34.5L95.6 33.5L95.6 32.5L95.6 31.5L95.6 30.5L95.6 29.5L95.6 28.5L95.6 27.5L95.6 26.5L95.6 25.5L95.6 24.5L95.6 23.5L95.6 22.5L95.6 21.5L95.6 20.5L95.6 19.5L95.6 18.5L95.6 17.5L95.6 16.5L95.6 15.5L95.6 14.5M80.6 56.5L80.1 55.7L79.6 54.8L79.1 53.9L78.6 53.1L78.1 52.2L77.6 51.3L77.1 50.5L76.6 49.6L76.1 48.7L75.6 47.9L75.1 47L74.6 46.1L74.1 45.3L73.6 44.4L73.1 43.5L72.6 42.7L72.1 41.8L71.6 40.9L71.1 40.1L70.6 39.2L70.1 38.3L69.6 37.5L69.1 36.6L68.6 35.7L68.1 34.9L67.6 34L67.1 33.1M64.1 27.9L63.6 27.1L63.1 26.2L62.6 25.3L62.1 24.5L61.6 23.6M75.7 71L74.8 70.5L73.9 70L73.1 69.5L72.2 69L71.4 68.5L70.5 68L69.6 67.5L68.8 67L67.9 66.5L67 66L66.2 65.5L65.3 65L64.4 64.5L63.6 64L62.7 63.5L61.8 63L61 62.5L60.1 62L59.2 61.5L58.4 61L57.5 60.5L56.6 60L55.8 59.5L54.9 59L54 58.5L53.2 58L52.3 57.5L51.4 57L50.6 56.5L49.7 56M41 51L40.2 50.5L39.3 50L38.4 49.5L37.6 49M77.6 82.5L76.6 82.5L75.6 82.5L74.6 82.5L73.6 82.5L72.6 82.5L71.6 82.5L70.6 82.5L69.6 82.5L68.6 82.5L67.6 82.5L66.6 82.5L65.6 82.5L64.6 82.5L63.6 82.5L62.6 82.5L61.6 82.5L60.6 82.5L59.6 82.5L58.6 82.5L57.6 82.5L56.6 82.5L55.6 82.5L54.6 82.5L53.6 82.5L52.6 82.5L51.6 82.5L50.6 82.5L49.6 82.5L48.6 82.5L47.6 82.5L46.6 82.5L45.6 82.5L44.6 82.5L43.6 82.5L42.6 82.5L41.6 82.5L40.6 82.5L39.6 82.5L38.6 82.5L37.6 82.5L36.6 82.5L35.6 82.5L34.6 82.5L33.6 82.5L32.6 82.5L31.6 82.5L30.6 82.5L29.6 82.5L28.6 82.5L27.6 82.5M81.7 90.5L80.9 91L80 91.5L79.1 92L78.3 92.5L77.4 93L76.5 93.5L75.7 94L74.8 94.5L73.9 95L73.1 95.5L72.2 96L71.4 96.5L70.5 97L69.6 97.5L68.8 98L67.9 98.5L67 99L66.2 99.5L65.3 100L64.4 100.5L63.6 101L62.7 101.5L61.8 102L61 102.5L60.1 103L59.2 103.5L58.4 104L57.5 104.5L56.6 105L55.8 105.5L54.9 106L54 106.5L53.2 107L52.3 107.5L51.4 108L50.6 108.5L49.7 109L48.8 109.5L48 110L47.1 110.5L46.2 111L45.4 111.5L44.5 112L43.6 112.5L42.8 113L41.9 113.5L41 114L40.2 114.5L39.3 115L38.4 115.5L37.6 116L36.7 116.5M87.1 97.2L86.6 98.1L86.1 99L85.6 99.8L85.1 100.7L84.6 101.6L84.1 102.4L83.6 103.3L83.1 104.2L82.6 105L82.1 105.9L81.6 106.7L81.1 107.6L80.6 108.5L80.1 109.3L79.6 110.2L79.1 111.1L78.6 111.9L78.1 112.8L77.6 113.7L77.1 114.5L76.6 115.4L76.1 116.3L75.6 117.1L75.1 118L74.6 118.9L74.1 119.7L73.6 120.6L73.1 121.5L72.6 122.3L72.1 123.2L71.6 124.1L71.1 124.9L70.6 125.8L70.1 126.7L69.6 127.5L69.1 128.4M66.6 132.7L66.1 133.6L65.6 134.5L65.1 135.3L64.6 136.2L64.1 137.1L63.6 137.9L63.1 138.8L62.6 139.7L62.1 140.5L61.6 141.4M95.6 101.5L95.6 102.5L95.6 103.5L95.6 104.5L95.6 105.5L95.6 106.5L95.6 107.5L95.6 108.5L95.6 109.5L95.6 110.5L95.6 111.5L95.6 112.5L95.6 113.5L95.6 114.5L95.6 115.5L95.6 116.5L95.6 117.5L95.6 118.5L95.6 119.5L95.6 120.5L95.6 121.5L95.6 122.5L95.6 123.5L95.6 124.5L95.6 125.5L95.6 126.5L95.6 127.5L95.6 128.5L95.6 129.5L95.6 130.5L95.6 131.5L95.6 132.5L95.6 133.5L95.6 134.5L95.6 135.5L95.6 136.5L95.6 137.5L95.6 138.5L95.6 139.5L95.6 140.5L95.6 141.5L95.6 142.5L95.6 143.5L95.6 144.5L95.6 145.5L95.6 146.5L95.6 147.5L95.6 148.5L95.6 149.5L95.6 150.5M107.6 103.3L108.1 104.2L108.6 105L109.1 105.9L109.6 106.7L110.1 107.6L110.6 108.5L111.1 109.3L111.6 110.2L112.1 111.1L112.6 111.9L113.1 112.8L113.6 113.7L114.1 114.5L114.6 115.4L115.1 116.3L115.6 117.1L116.1 118L116.6 118.9L117.1 119.7L117.6 120.6L118.1 121.5L118.6 122.3L119.1 123.2L119.6 124.1L120.1 124.9L120.6 125.8L121.1 126.7L121.6 127.5L122.1 128.4L122.6 129.3L123.1 130.1L123.6 131L124.1 131.9L124.6 132.7L125.1 133.6L125.6 134.5L126.1 135.3L126.6 136.2L127.1 137.1L127.6 137.9L128.1 138.8L128.6 139.7L129.1 140.5L129.6 141.4M119.8 96.5L120.7 97L121.6 97.5L122.4 98L123.3 98.5L124.2 99L125 99.5L125.9 100L126.8 100.5L127.6 101L128.5 101.5L129.4 102L130.2 102.5L131.1 103L132 103.5L132.8 104L133.7 104.5L134.6 105L135.4 105.5L136.3 106L137.2 106.5L138 107L138.9 107.5L139.8 108L140.6 108.5L141.5 109L142.4 109.5L143.2 110L144.1 110.5L145 111L145.8 111.5L146.7 112L147.6 112.5L148.4 113L149.3 113.5L150.2 114L151 114.5L151.9 115L152.8 115.5L153.6 116L154.5 116.5M124.6 82.5L125.6 82.5L126.6 82.5L127.6 82.5M129.6 82.5L130.6 82.5L131.6 82.5L132.6 82.5L133.6 82.5L134.6 82.5L135.6 82.5L136.6 82.5L137.6 82.5L138.6 82.5L139.6 82.5L140.6 82.5L141.6 82.5L142.6 82.5L143.6 82.5L144.6 82.5L145.6 82.5L146.6 82.5L147.6 82.5L148.6 82.5L149.6 82.5L150.6 82.5L151.6 82.5L152.6 82.5L153.6 82.5L154.6 82.5L155.6 82.5L156.6 82.5L157.6 82.5L158.6 82.5L159.6 82.5L160.6 82.5L161.6 82.5L162.6 82.5L163.6 82.5M131.1 62L132 61.5L132.8 61L133.7 60.5L134.6 60L135.4 59.5L136.3 59L137.2 58.5L138 58L138.9 57.5L139.8 57L140.6 56.5L141.5 56L142.4 55.5L143.2 55L144.1 54.5L145 54L145.8 53.5L146.7 53L147.6 52.5L148.4 52L149.3 51.5L150.2 51L151 50.5L151.9 50L152.8 49.5L153.6 49L154.5 48.5M110.1 57.4L110.6 56.5L111.1 55.7L111.6 54.8L112.1 53.9L112.6 53.1L113.1 52.2L113.6 51.3L114.1 50.5L114.6 49.6L115.1 48.7L115.6 47.9L116.1 47L116.6 46.1L117.1 45.3L117.6 44.4L118.1 43.5L118.6 42.7L119.1 41.8L119.6 40.9L120.1 40.1L120.6 39.2L121.1 38.3L121.6 37.5L122.1 36.6L122.6 35.7L123.1 34.9L123.6 34L124.1 33.1L124.6 32.3L125.1 31.4L125.6 30.5L126.1 29.7L126.6 28.8L127.1 27.9L127.6 27.1L128.1 26.2L128.6 25.3L129.1 24.5L129.6 23.6M124.5 83.4L124.5 84.3L124.4 85.2L124.3 86.1M123.8 88.8L123.6 89.7L123.4 90.6L123.1 91.5L122.8 92.3L122.5 93.2L122.1 94L121.8 94.9L121.4 95.7L120.9 96.5L120.5 97.3L120 98.1L119.5 98.8L119 99.6L118.4 100.3L117.8 101L117.2 101.7L116.6 102.4L116 103L115.3 103.7L114.6 104.3L113.9 104.9L113.2 105.4L112.5 106L111.7 106.5L111 107L110.2 107.5L109.4 107.9L108.6 108.4L107.8 108.8L106.9 109.1L106.1 109.5L105.2 109.8L104.4 110.1L103.5 110.3L102.6 110.6L101.7 110.8L100.8 111L99.9 111.1L99 111.2L98.1 111.3L97.2 111.4L96.3 111.4L95.4 111.4L94.5 111.4L93.5 111.4L92.6 111.3L91.7 111.2L90.8 111L89.9 110.9L89 110.7L88.1 110.5L87.3 110.2L86.4 109.9L85.5 109.6L84.7 109.3L83.8 108.9L83 108.6L82.2 108.1L81.4 107.7L80.6 107.3L79.8 106.8L79.1 106.3L78.3 105.7L77.6 105.2L76.9 104.6L76.2 104L75.5 103.4L74.9 102.7L74.3 102.1L73.7 101.4L73.1 100.7L72.5 100L72 99.2L71.5 98.5L71 97.7L70.5 96.9L70.1 96.1L69.6 95.3L69.3 94.5L68.9 93.6L68.5 92.8L68.2 91.9L68 91.1L67.7 90.2L67.5 89.3L67.3 88.4L67.1 87.5L67 86.6L66.8 85.7L66.8 84.8L66.7 83.9L66.7 83L66.7 82L66.7 81.1L66.8 80.2L66.8 79.3L67 78.4L67.1 77.5L67.3 76.6L67.5 75.7L67.7 74.8L68 73.9L68.2 73.1L68.5 72.2L68.9 71.4L69.3 70.5L69.6 69.7L70.1 68.9L70.5 68.1L71 67.3L71.5 66.5L72 65.8L72.5 65L73.1 64.3L73.7 63.6L74.3 62.9L74.9 62.3L75.5 61.6L76.2 61L76.9 60.4L77.6 59.8L78.3 59.3L79.1 58.7L79.8 58.2M97.2 53.6L98.1 53.7L99 53.8L99.9 53.9L100.8 54L101.7 54.2L102.6 54.4L103.5 54.7L104.4 54.9L105.2 55.2L106.1 55.5L106.9 55.9L107.8 56.2L108.6 56.6L109.4 57.1L110.2 57.5L111 58L111.7 58.5L112.5 59M158 82.5L157.9 84.5L157.8 86.4L157.7 88.4L157.5 90.4L157.2 92.3L156.8 94.2L156.4 96.2L156 98.1L155.5 100L154.9 101.9L154.2 103.7L153.5 105.6L152.8 107.4L152 109.2L151.1 110.9L150.2 112.7L149.2 114.4L148.2 116.1L147.1 117.7L145.9 119.3L144.7 120.9L143.5 122.4L142.2 123.9L140.9 125.4L139.5 126.8L138.1 128.1L136.6 129.4L135.1 130.7L133.6 131.9L132 133.1L130.4 134.2L128.7 135.3L127.1 136.3L125.3 137.3L123.6 138.2L121.8 139.1L120 139.9L118.2 140.6L116.4 141.3L114.5 141.9L112.6 142.5L110.7 143L108.8 143.4L106.9 143.8L104.9 144.2L103 144.4L101 144.6L99 144.8L97.1 144.8L95.1 144.9L93.1 144.8L91.2 144.7L89.2 144.5L87.3 144.3L85.3 144L83.4 143.6L81.5 143.2L79.5 142.8L77.6 142.2L75.8 141.6L73.9 141L72.1 140.2L70.3 139.5L68.5 138.6L66.7 137.8L65 136.8M58.4 132.5L56.8 131.3L55.3 130.1L53.8 128.8L52.4 127.5L51 126.1L49.6 124.6L48.3 123.2L47.1 121.7L45.9 120.1L44.7 118.5L43.6 116.9L42.5 115.2L41.5 113.5L40.6 111.8L39.7 110.1L38.8 108.3L38 106.5L37.3 104.6L36.6 102.8L36 100.9L35.5 99L35 97.1L34.6 95.2L34.2 93.3L33.9 91.3L33.6 89.4L33.4 87.4L33.3 85.5L33.3 83.5L33.3 81.5L33.3 79.5L33.4 77.6L33.6 75.6L33.9 73.7L34.2 71.7L34.6 69.8L35 67.9L35.5 66L36 64.1L36.6 62.2L37.3 60.4L38 58.5L38.8 56.7L39.7 54.9L40.6 53.2L41.5 51.5M58.4 32.5L60 31.3L61.6 30.2L63.3 29.2M66.7 27.2L68.5 26.4L70.3 25.5L72.1 24.8L73.9 24L75.8 23.4L77.6 22.8L79.5 22.2L81.5 21.8L83.4 21.4L85.3 21L87.3 20.7L89.2 20.5L91.2 20.3L93.1 20.2L95.1 20.1L97.1 20.2L99 20.2L101 20.4L103 20.6L104.9 20.8L106.9 21.2L108.8 21.6L110.7 22L112.6 22.5L114.5 23.1L116.4 23.7L118.2 24.4L120 25.1L121.8 25.9L123.6 26.8L125.3 27.7L127.1 28.7M133.6 33.1L135.1 34.3L136.6 35.6M139.5 38.2L140.9 39.6L142.2 41.1L143.5 42.6L144.7 44.1L145.9 45.7L147.1 47.3L148.2 48.9L149.2 50.6L150.2 52.3L151.1 54.1L152 55.8L152.8 57.6L153.5 59.4M156.8 70.8L157.2 72.7L157.5 74.6L157.7 76.6L157.8 78.6L157.9 80.5L158 82.5" stroke="#c4c4c4" stroke-width="0.4" fill="none"/>
<g clip-path="url(#pca)"><path d="M167.1 92.3 165.8 92 164.4 91.8 162.5 91.1 160.6 90.8 159.7 89.8 159.3 88.7 158.5 87.8 158.2 86.7 158.3 85.7 158.4 84.7 159.1 83.1 159 81.6 157.7 82.1 157.4 80.6 157.4 79.3 157.7 77.8 157.7 76.5 158.1 75.5 159.3 74.4 160.6 74.1 162.1 72.9 163.3 71.9 163 71 161.4 70.9 160.4 71.4 159.4 71.9 158.4 72.7 157.3 73.2 155.8 73.3 154.3 72.7 153 71.6 151.9 70.4 150.7 69.5 149.8 68.5 148.8 68.9 147.8 69.5 146.4 69.4 145.4 69.1 144.4 68.7 143.4 68.8 142.4 68.1 142.1 67.5 141.7 66.9 141.1 65.9 140.6 66.6 140 66.9 138.6 66.4 138 65.9 137.5 65.4 136.4 64.7 135.8 64.2 135.7 63.4 136.5 63.7 137.2 64.1 137.8 63.3 137 62.7 136 62.3 135.2 61.8 134.6 61.1 133.4 60.7 134.1 61.1 134.5 61.8 134.7 62.6 134.6 63.7 134 64.4 133.3 65.3 132.3 64.7 132 65.5 132.1 66.1 132.9 66.4 132.9 67 134.1 67.2 134.7 67.9 135.6 68.1 136.1 68.7 135.1 68.7 134.4 68.4 133.7 68 132.9 67.8 132 67.5 131.5 66.9 130.9 66.5 130.8 66 130.6 65.4 130.4 64.9 130.5 64.2 130 63.8 129.6 63.3 129.1 62.8 128.5 62.5 127.7 62.4 127.3 61.9 126.1 61.7 125 62.8 125.3 63.4 124.9 64.2 124.8 65 124.6 65.7 124.6 66.3 124.2 67 123.5 68 122.8 68.7 122.3 69.5 121.6 70.4 122.5 70.2 123.1 70.2 123.6 70.6 123.9 71 123.5 71.5 123.7 72 122.8 72.5 121.8 72.9 121.6 73.5 121.4 74.1 121.6 74.6 121.5 75.1 121.3 75.6 121.1 76.1 121.5 76.5 121.6 76.9 122.4 76.6 123.2 76.6 124.2 76.4 125 76 126.2 75.2 127.1 75.2 128 75 128.8 75.2 129.1 75.7 129.9 76 130.7 75.7 131.6 75.4 132.7 75.6 132.9 76.3 132 76.9 131.4 77.6 130.4 78 129.2 78 129.5 78.5 129.3 79 129.3 79.6 128.7 80.1 128.6 80.8 128.1 81.3 127.8 81.9 127.7 82.5 127.9 83.1 127.5 83.6 126.5 83.8 125.8 84.2 125 84.8 123.5 84.4 122.7 84.1 122 83.7 121.4 83.3 121 82.9 120.7 82.4 120.4 81.8 119.8 81.6 119.5 81.2 118.3 81.1 118.2 80.8 117.8 80.5 117.9 80.2 117.5 79.9 117.2 79.6 116.8 79.3 115.9 79.6 115 80 115 80.3 114.8 80.7 114.8 81 115.2 81.2 115.5 81.5 116 81.8 115.6 82.1 115.4 82.4 115.4 82.7 114.8 83 114.1 83.3 113.8 83.5 113.2 83.7 112.7 83.8 113.4 84.1 114.3 84.1 115 84.4 116.5 84.7 116.8 85 116.8 85.3 116.6 85.6 116.8 86 116.8 86.4 116.5 86.7 116.6 87.1 116.2 87.3 116 87.6 115.7 87.8 115.8 88.2 115.4 88.4 115.3 88.7 115.4 89.1 115.6 89.5 115.6 89.9 115.6 90.2 115.2 90.4 115.1 90.7 115.1 91.1 114.7 91.3 114.5 91.5 114 91.6 113.7 91.8 113.2 91.9 113.1 92.2 112.7 92.4 112.2 92.5 112.3 92.8 111.7 92.9 111.9 93.4 111.8 93.6 111.4 94 110.8 94 110.2 93.9 110.4 94.5 110.3 94.9 110.1 95.1 110.1 95.6 109.7 95.6 109.6 96.1 109.7 96.5 109.3 96.6 109.4 97.1 109 97 108.9 97.4 108.4 97.2 108 97.3 107.8 97.5 107.5 97.8 107 97.6 106.6 97.6 106.3 97.8 106.1 98.1 105.9 98.4 105.4 98.1 105.2 98.5 104.9 98.6 104.6 98.8 104.2 98.6 103.9 98.8 103.6 98.9 103.3 99 102.9 98.5 102.7 98.7 102.5 99.1 102.3 99.3 102.1 99.6 101.9 99.8 101.7 100.2 101.5 100.5 101.3 101 101.2 101.7 100.8 101.9 100.5 102 100.3 102.7 100.9 102.9 101.3 103.4 101.7 103.3 102.1 103.1 102.6 103.5 102.7 104.2 102.2 103.9 101.8 104 101.4 104.1 101.1 104.6 100.7 104.8 100.5 105.3 100.8 105.4 101.2 105.8 101.9 106.1 102.2 105.7 102.7 106.2 102.9 105.8 103.3 105.8 103.7 105.7 103.7 106.6 103.2 106.6 102.8 107 102.5 107.4 102.2 108.3 102.7 109.3 103.4 109.5 104 110 104.4 110.1 105 111.2 105.5 111 106 111 106.7 110.6 107.3 110.6 107.1 111.8 106.9 112.4 106.7 113 106.3 113.3 106.1 113.9 105.8 114.4 105.5 114.9 104.9 115.1 104.7 116 105.3 115.3 106.1 114.9 106.8 114.1 107.4 113.3 107.8 113 108 112.3 108 111.6 108.4 111.3 108.7 110.7 108.7 110 108.8 109 108.8 107.9 109 107.1 109.5 106.5 109.2 107 109.1 107.5 109.7 108.6 110 108 110.4 107.6 110.4 107 110.7 106.6 110.8 106 111.3 105.8 112 106 112.6 105.8 112.9 105.4 113.4 105.2 113.7 104.8 114.3 104.8 114.9 105 115.3 104.8 115.8 104.6 116.5 104.7 117.1 104.4 117.6 104.2 118.2 104.4 118.9 104.5 119.6 104.5 120.7 104.7 122 104.9 123.1 105.2 123.8 105.3 124.4 105.2 125.5 105.5 125.8 106.3 126.7 106.4 127.5 106.1 128.5 105.9 129.3 105.9 130.3 106.1 131.6 106.7 132.4 107.3 133.1 107.8 133.7 108.6 134.5 109.2 135.7 109.6 136.8 110.7 137.9 110.8 139.5 111 140.2 110.9 141.7 111.2 143.3 111.1 144.4 111.4 145.2 110.5 146.4 109.8 148.1 109.5 149.3 109.5 150.3 109.5 151.3 109.4 152.4 108.8 154.2 108.8 154.6 110.1 155.6 109.5 156.6 109.1 157.6 108.6 159.5 108.6 161.1 107.6 162.8 106.9 161.7 107.1 160.6 107.1 159.5 107.2 158.4 107.2 157.2 107.3 156.1 107.6 155 107.6 153.9 107.9 152.9 108.2 151.8 108.1 150.2 107.7 151.3 106.7 152.3 106.7 153.2 106.4 154.3 106.2 155.4 106 157 105.5 158.6 104.8 160.5 104.2 161.6 104 162.3 103.2 163.6 102.6 165 102.4M29 111.4 29.8 112.5 31.2 113.9 32.5 114.6 33.6 115 34.6 115.6 36.1 116.2 37.5 115.8 39.3 116.1 41 116.4 42.5 115.7 42.5 114.4 43.2 115.1 43.4 114.7 44.5 114.3 44.8 112.9 45.5 112.3 46 111.5 46.9 110.1 47.8 110.3 48.6 110.5 49.5 110.9 50.5 111.2 50.1 110.4 49.9 109.4 48.7 108.7 48.8 107.9 49.5 106.7 50.3 106.8 51.1 107.3 52.3 107.5 53.4 108.1 53.5 109.1 52.3 109.3 51.4 109.4 52.6 109.9 53.5 110.3 54 111.1 54.1 112.1 53.2 112.4 52.4 113.1 52.9 113.9 52.3 114.9 50.9 115.7 49.8 116.3 50.7 116.9 52 117.8 52.9 117.6 53.9 116.6 54.6 115.9 54.7 115 55.2 113.5 56.1 113.7 56.8 114.2 57.8 114 59.4 113.6 60.4 113.6 61.1 114.7 62 114.7 62.5 115.2 63.3 115.4 64.4 114.9 65.5 114.8 66.4 114.9 67.4 114.4 68.4 114.2 69.5 114 70.6 112.8 71.9 111.8 72.5 111.1 73.1 110.5 73.2 109.7 72.9 109 72.2 109 71.9 108.4 72.2 107.2 73.1 106.7 73.9 106.7 74.5 106.8 75.2 106.7 76 106.2 76.6 106.2 77.3 105.9 77.8 106.2 78.1 106.6 78.5 106.9 79 107.1 79.5 107.4 79.8 107.8 80.4 107.7 80.7 108.3 81.1 108.6 81.5 108.9 82 109 82.4 109.2 82.9 109.1 83.5 108.8 84.1 108.3 84.7 107.7 85.1 107.9 85.4 108.3 85.9 108.4 86.5 108.1 86.9 108.5 87.5 108 88 108.3 87.4 109 86.8 109.5 86.3 110 85.8 110.3 85.3 110.4 84.8 111.3 84.3 111.3 83.6 111.6 83.1 111.4 82.6 112 82.2 112.8 81.7 113.6 81.4 114.7 80.8 115.7 80.7 116.6 80.5 117.6 81.1 116.9 81.8 116.7 82.5 116.2 83.1 115.6 83.7 115.3 84.4 114.7 85.1 114.4 86.1 113.6 86.1 112.7 86 112 86.7 111.2 87.3 110.4 87.8 110.1 88.3 110.1 88.7 110.3 89 110.4 89.4 110.5 89.7 111 90.1 111 90.6 111 91.1 110.4 91.7 110.2 92.2 109.9 92.8 109.5 93.3 109.5 93.7 109.1 94.2 108.9 94.8 108.8 95.3 108.9 95 107.9 94.7 107.4 94.5 106.7 95.2 106.9 95.8 106.4 96.2 106.8 96.6 105.9 97 106.2 97.3 106.4 97.7 106.5 98.1 106.6 98.4 106.5 98.8 106.8 99 106.2 99.3 105.7 99.7 105 99.3 104.7 99 104.6 98.7 104.4 98.3 103.9 97.9 103.8 97.5 103.9 97.1 103.7 96.7 103.6 96.3 103 95.6 102.6 95.1 102.1 94.8 102.1 94.5 101.8 94.2 101.6 93.9 101.7 93.6 101.6 93.3 101.9 93 101.6 92.7 101.4 92.5 101.3 91.9 102.4 91.6 102.3 91.5 101.6 91.2 101.4 91 101.4 90.6 101.6 90.4 101.3 90.2 101.1 89.9 101.1 89.6 100.8 89.2 100.9 89.2 100.3 89.2 99.7 88.8 99.8 88.8 99.1 88.4 99.4 88.2 99 87.9 99.1 87.6 99.1 87.4 98.9 87.2 98.6 87 98.3 87 97.7 86.9 97.2 86.7 97.1 86.5 96.8 86.5 96.4 86 96.7 86 96.3 85.8 96.1 85.8 95.7 85.6 95.6 85.4 95.4 85.3 95.2 84.7 95.3 84.4 95.2 84.1 95.2 83.7 95.2 83.4 95.2 83.1 95 82.8 94.8 82.7 94.6 82.3 94.5 81.8 94.5 82.3 93.8 82.4 93.4 83 92.5 83.1 92.2 83.1 91.9 82.9 91.7 82.7 91.6 82.3 91.6 82.2 91.4 82 91.3 81.9 91.1 81.7 90.9 82 90.5 81.6 90.5 81.6 90.2 81.7 89.9 81.9 89.6 81.8 89.3 81.8 89.1 81.3 89.1 81.4 88.8 81.4 88.5 81.4 88.2 81.1 88.1 81.6 88.1 82.1 88.2 83.4 87.8 83.6 87.5 83.9 87.2 83.8 87 83.9 86.8 83.6 86.6 83.6 86.4 83.8 86.1 84.2 85.8 84.3 85.6 84.3 85.4 84 85.3 83.9 85.1 83.8 85 83.5 84.8 83.2 84.7 82.9 84.5 83.1 84.3 82.8 84.2 82.7 84 82.8 83.8 82.5 83.6 82.6 83.4 82 83.3 82.2 83.1 82.3 82.9 82 82.7 82 82.5 81.6 82.3 81.9 82 81.4 81.8 80.3 81.6 80.6 81.3 80.5 81.1 80.1 80.8 80.2 80.6 80.4 80.4 80 80.1 80.2 79.9 79.6 79.6 79.3 79.3 79.2 79 79.4 78.8 79.2 78.4 78.9 78 79.2 77.8 78.5 77.8 77.7 77.7 77.1 77.8 76.4 77.9 76.1 78.2 75.1 77.8 75 77.4 75.1 77 74.9 76.6 74.5 76.2 74.2 75.7 75 76.2 75.9 76.7 76.7 76.6 77.5 76.6 78 77 78.8 77.3 80 77.6 80.3 77.4 80 77 80.5 76.8 80.3 76.5 79.8 76.1 79.6 75.7 78.8 75.3 78.1 75.2 77.7 75.4 76.9 75.3 76.2 74.9 76.9 74.6 77.4 74.4 77.4 74 78 73.9 78.1 73.6 78.6 73.5 78.8 73.2 78.3 72.5 78.5 72.2 78.5 71.8 78.8 71.6 78.3 71 78.9 70.9 78.7 70.4 79.2 70.2 79.1 69.7 79.1 69.3 79.4 69.1 79.7 68.9 79.7 68.4 79.8 68.1 80.1 67.9 80.6 68.1 80.8 67.7 81.2 67.6 80.5 67 79.7 66.3 79.9 66 79.9 65.5 79.9 65 79.9 64.5 79.7 63.9 80.1 63.7 80.2 63.2 80.4 62.9 80.5 62.5 81.2 62.6 81.7 62.4 82.3 63 82.8 63.2 83.4 63.7 82.9 64 82.4 64 82.2 64.2 81.8 64.2 81.5 64.4 81.4 65 81.2 65.4 80.9 65.5 81.8 66.3 82.4 66.6 82.7 66.5 83.1 66.4 83.3 66 83.8 66.3 84.1 66 84.6 66.2 84.9 66 85.5 66.4 85.9 66.4 86.2 66.3 86.5 66.2 86.9 66.4 87 66.1 87.5 66.4 87.7 66.3 87.7 65.8 88 65.7 88.2 65.6 88.4 65.3 88.5 64.8 88.9 65 89.1 64.6 89.2 64.2 89.6 64.4 89.7 63.9 90 63.5 90.1 62.7 90.1 62 90.4 61.7 90.6 61 90.6 60.1 90.7 59.4 90.9 59 91.1 58.5 91.4 57.7 91.8 57.3 92.3 56.9 92.6 56.3 93 56.1 93.3 55.7 93.1 54.2 92.7 52.7 92.1 51.8 91.3 51.9 90.9 52.3 90.7 53 90.3 53.8 89.9 53.1 89.3 52.2 88.8 51.6 88.6 50.8 88.2 49.9 87.3 50 87 50.5 86.6 51 86.6 52.3 86.6 53.3 86.3 54 86.4 55.1 86.9 55.2 87.3 55.8 87.6 57.1 87.3 57.6 87.3 58.5 87.1 58.9 86.8 59.1 86.8 59.7 86.6 60.3 86.7 61.1 86.2 60.9 86 61.5 85.5 61.3 85.6 60.5 85.5 59.8 85.6 59.1 85.9 58.6 85.9 57.9 85.4 56.5 84.8 56.2 84.3 55.7 84 56.3 83.4 56.4 83.1 56.9 82.8 57.1 82.3 57.1 82 57.5 81.4 57.2 81 57.4 81.5 57.1 81.8 56.5 82 56 82.6 56.1 82.9 55.6 83.4 55.7 83.6 54.8 82.7 54.1 82.7 53.2 83.3 53.3 83.8 53.4 84 52.5 83.5 51 83.8 50.5 84 49.8 84.7 50 85.2 49.5 85.8 49.4 86.3 48.7 86.9 48.5 87.5 48.9 88.1 48.6 88.6 48.4 89.1 48.3 89.5 49.5 89.6 50.3 89.9 51.6 90.4 51.5 90.7 51 91 50.3 90.6 49.7 90.4 48.8 90.4 47.6 91.3 47.2 91.9 47.3 92.5 46.8 92.7 46 93.3 44.7 93.9 44.4 94.6 43.4 95.1 43.1 95.6 42.5 96.5 42.8 96.7 41.8 97.7 42 98.3 41.5 99 41.7 98.9 41.1 98.3 40.7 97.8 40.2 97.2 40.2 96.5 38.9 96.5 37.4 96.9 36 98 36.1 98.7 36.4 99.4 36.4 100 36.3 100.7 36.3 101.3 36.9 102 36.8 103.1 36.1 103 35 103.2 33.3 103.5 32.2 104.1 31.5 103.5 31.2 103.8 30.3 103.9 29.3 102.5 29.3 101.5 28.7 101 27.7 99.9 28.5 99.1 28.8 98.3 28.8 97.5 28.5 96.7 28.8 96.1 29.4 95.6 30.8 95.9 31.6 95.2 32.3 94.8 33.3 94.2 33.6 93.4 33.7 92.9 34.4 93.1 35.6 92.4 36 91.7 36.2 91 35.7 90.3 36 89.6 36.8 88.7 37.6 87.5 37.3 87.2 36.4 86.5 35.9 85.7 35.7 85.1 35 84.4 34.6 83.6 34.5 82.8 34.3 82.1 34 81.8 33 81.4 32 81 33.1 80.7 33.7 81.4 34.4 80.9 34.9 79.7 34.9 80.4 35.3 81.2 35.4 82.2 36.1 83.2 36.1 84.1 36.5 84.8 37.5 86 38.3 86.2 39.2 85.2 39.7 84.5 39.4 83.3 38.3 82.4 38.4 81.5 37.7 80.5 37.7 79.6 36.9 79 35.3 78.4 34.6 77.6 34.2 76.6 33.1 75.6 32.3 74.7 32.1 74.8 33.5 74.2 34.4 75.5 34.8 75.5 36.3 75.5 37.3 74.6 37.5 73.9 38.1 73.4 37.3 72.6 36.8 72 36.1 70.9 34.7 70 34.7 69.1 35.5 68 35.6 67 35.9 66.1 36.2 65 37.2 64.6 38 63.9 38.7 63.1 37.4 62.3 35.7 61.8 34.3 61.3 32.7 62.3 31.3 63.4 30.9 64.3 30.3 65.3 30 65.9 28.9 66.8 28.9 67.6 28.4 68.5 28.4 69.3 28.2 70.1 27.8 71.3 28.3 72.5 28.1 73.6 28 74.5 27.5 74.4 26.5 74.9 25.7 74.6 24.8 75.4 23.9 76.3 24.1 77.2 24.2 78.3 24.1 79.4 24.2 80.2 25.1 81.3 25 82.3 24.7 83.4 25 84.5 25.5 85.2 26.6 85 27.9 85.7 29.3 86.5 29.8 87.3 29.5 88.1 29.1 89 29.1 90 28.9 90.9 28.6 91.8 28.6 92.8 28.4 93.5 27.8 94.2 27.4 95.1 27.4 96.1 27.1 97.1 26.5 98.5 26.7 99.6 27.3 100.7 27.6 101.4 27.2 101.9 26.3 102.4 25.5 103.3 25.1 104.2 24.9 105.5 24.1 106 22.3 105.9 21.4 106.5 20.5 107.5 19.6 108.5 18.9M131.7 61.2 131.1 60.8 130.8 60.3 131 59.4 130.4 59 130.6 58.2 130 57.8 130.2 57 128.9 57.1 128.5 57.9 127.9 58.6 128.2 59.3 128.2 60.1 127.3 60.6 126.6 61.1 127.2 61.4 127.7 61.7 128.8 61.5 129.8 61.5 130.8 61.3 131.7 61.2M167.2 75 166.3 73.2 166.4 71.9 166 70.7 166.2 69.4 166.4 68.1M164 68.2 162.7 67.9 163.8 67.9M160.9 69.8 160.8 68.4M160.6 67.7 161.2 67.3M162.1 66.3 163 66.4M120.6 70.7 120 71.6 120 72.1 120 72.6 119.9 73.2 120 73.7 119.6 74.3 119.5 74.7 119.4 75.1 119.3 75.5 119.4 75.9 119.5 76.3 119.3 76.7 119.5 77.1 119.5 77.4 118.5 77.4 118.3 77.1 118.1 76.8 118.5 76.3 118.1 76 117.1 76.1 116.6 75.9 116.2 76.3 116 76.7 115.4 77.1 115.4 77.4 115 77.8 114.5 78.1 114 78.6 114.4 78.9 113.9 79.3 114.4 79.5 114.4 79.9 114.5 80.2 114.5 80.5 114 80.9 114.1 81.2 113.6 81.5 113.8 81.9 113.7 82.2 112.8 82.3 112.2 82.5 111.9 82.2 111.2 82 111.4 81.7 111.5 81.5 111.1 81.3 111.1 81.1 111 80.9 110.7 80.7 110.9 80.5 110.8 80.3 110.9 80 110.8 79.8 111 79.5 111.4 79.1 111.6 78.8 111.9 78.4 111.6 78.2 112 77.8 112 77.5 112.3 77.1 112.7 76.6 112.7 76.3 113.1 75.9 113 75.6 113.5 75.2 113.6 74.9 114.4 74.3 114.7 73.9 115.1 73.4 114.8 73 115.2 72.5 115.2 72 115.8 72 116.5 71.7 117 71.8 117.7 72.2 118.8 71.4 119.6 71.3 120.6 70.7M121 80.9 121.1 80.5 121.1 80.1 121.2 79.7 121.6 79.3 121.5 78.9 121.2 78.4 120.4 78.3 120 78.7 119.6 79.1 119.6 79.5 119.1 79.9 118.6 80.3 119.4 80.6 120 81 121 80.9M110.9 91 110.7 90.6 110.2 90.1 110.2 89.8 110.3 89.5 110.3 89.3 110.8 89.2 110.8 88.9 110.7 88.6 111 88.5 111 88.2 110.7 87.8 111.1 87.7 110.8 87.4 110.9 87.2 111.2 87 111.2 86.8 111.2 86.5 111.9 86.5 112.3 86.4 113 86.4 113.9 86.5 114.3 86.3 114.7 86.7 115.3 87 115 87.3 115.4 87.7 115.3 88 115.3 88.3 115.2 88.6 114.9 88.8 114.9 89.1 114.8 89.4 114.5 89.5 113.9 89.6 113.9 89.9 113.8 90.2 113.2 90.2 113 90.5 112.5 90.6 112.4 90.8 112.1 91 112 91.2 110.9 91M109.7 92.4 109.3 91.8 108.6 91.3 108.4 90.9 108.4 90.6 108.2 90.2 108.4 90.1 109 90.1 109.4 90 109.7 89.8 110.7 90.5 110.9 90.9 110.9 91.2 110.7 91.5 110.8 91.8 110.7 92.1 110.2 92.1 110.1 92.4 109.7 92.4M113.2 85 112.4 84.8 112 84.5 111.1 84.4 111.3 84.7 110.8 84.9 111.4 85.2 110.7 85.3 110.9 85.6 111.4 85.9 111.6 86.2 111.7 86.5 112 86.3 112.4 86.1 113.1 86.1 113.3 85.8 113.3 85.5 113.1 85.2 113.2 85M112.7 83.7 110.9 83.3 110.8 82.6 112.7 83.5M110.1 79.9 110.1 80.2 110.3 80.3 110.4 80.5 110 80.8 110.3 81 110.3 81.2 110.2 81.4 109.9 81.6 109.8 81.8 110 82 110.2 82.2 109.9 82.4 110 82.6 109.9 82.8 110 83 110 83.2 109.8 83.4 109.2 83.5 109.4 83.8 108.8 83.9 109 83.7 108.4 83.5 108.3 83.3 108.7 83.1 108.2 82.9 108.2 82.7 107.9 82.5 108.1 82.3 108.3 82.1 108.2 81.9 108 81.7 108.2 81.5 108.5 81.3 108.7 81.1 108.1 80.9 108.4 80.7 109 80.5 109.3 80.2 110.1 79.9M108.4 80.2 108.1 80.5 108.4 80.6 108.2 80.8 108 81 108.2 81.2 108.2 81.4 108.1 81.6 108 81.7 107.9 81.9 107.8 82.1 107.9 82.3 107 82.4 106 82.5 105.4 82.6 105.1 82.8 104.7 82.9 104.1 82.9 103.7 82.8 103.5 82.7 103.8 82.6 103.6 82.5 103.1 82.4 103 82.3 103.1 82.2 102.6 82.1 102.3 82 102.4 81.9 102.1 81.8 102.5 81.7 102.4 81.6 102.6 81.5 101.9 81.5 102.4 81.3 102.1 81.3 102.1 81.1 102.1 81.1 102.1 81 101.9 80.9 102 80.8 102.1 80.6 102.2 80.5 101.9 80.5 101.6 80.5 102.1 80.3 101.8 80.2 101.7 80.2 101.7 80.1 102 79.8 102 79.7 101.7 79.8 101.9 79.6 101.9 79.5 101.9 79.4 102.1 79.2 101.9 79.2 102.3 79.1 102.5 79.1 102.7 79.1 102.9 79.2 103.5 79 103.8 79 103.9 79.1 104.3 79.1 104.3 79.3 104.7 79.3 105 79.3 105.5 79.3 105.4 79.5 105.9 79.5 106 79.6 106 79.8 106.3 79.8 107.2 79.8 107.6 79.9 108.1 80.1 108.4 80.2M106.9 83.1 106.4 83.2 105.9 83.3 105.1 83.4 104.5 83.4 104.4 83.3 104.4 83.2 103.9 83 104.3 82.9 104.3 82.8 104.2 82.6 103.9 82.5 104.6 82.4 105 82.3 105.6 82.1 106 82 105.9 82.1 106.2 82.3 106.3 82.4 106.6 82.6 106.5 82.8 106.5 82.9 106.9 83.1M107.7 89 107.1 88.4 107 88.1 107 87.9 107.1 87.7 107.1 87.5 107.6 87.5 107.5 87.3 107.5 87 107.6 86.9 107.9 86.8 108.2 86.7 108.2 86.5 107.9 86.2 108.3 86.2 109.3 86.2 109.1 86.3 109.2 86.6 109.6 86.9 109.3 87.1 109.1 87.3 109.2 87.5 109.5 87.9 109.2 88 108.9 88.1 108.8 88.3 108.7 88.5 108.6 88.7 108.2 88.7 107.7 88.7 107.7 89M109.1 84.9 108.3 84.3 108.4 85 109.1 84.9M110.2 83.5 109.4 83.9 109.2 83.3M106.9 89 106.4 89.4 105.9 87.7 106.6 88.4M107 85.7 105.9 85.1 106 86.3M106 79.2 106.4 79 106.4 78.8 106.8 78.5 107.4 78.1 107.4 77.9 107.9 77.5 107.7 77.4 108 77.1 107.4 77.1 107.7 76.8 107.6 76.6 107.5 76.5 107.3 76.4 107.5 76.1 107.1 76.1 107.1 75.9 107.1 75.6 107.4 75.1 107.5 74.8 108 74.2 108.7 73.7 109.3 73.1 109.6 72.6 110.3 72.1 110.6 71.6 110.6 71.2 110.5 70.9 110.4 70.5 110.8 70.6 111.7 70.1 112.1 70.3 112.7 69.7 113.3 69.2 114 68.5 114.2 67.9 114.7 67.3 115.1 66.7 115.6 66.1 115.9 65.6 116.1 65 116.2 64.4 116.4 63.8 116.5 63.2 116.1 62.9 116.1 62.5 116.2 61.8 115.8 61.5 115.2 61.7 114.8 61.5 114.2 61.6 113.6 61.9 112.8 62.5 112.3 62.6 111.7 62.8 111 63.1 110.3 63.5 109.7 63.8 109.2 63.9 108.7 64 108.2 64.2 107.8 64.3 107.3 64.5 107.1 64.1 106.5 64.5 106.3 64.2 106.1 64 105.6 64.1 105.2 64.3 104.9 64.2 104.6 64.1 104.2 64.2 103.7 64.5 103.3 64.5 102.9 64.9 102.8 65.5 102.6 66.3 102.6 66.9 102.3 66.9 101.9 67.2 101.5 67.4 101.1 68.1 100.8 68.2 100.4 69.2 100 70.1 99.6 70.9 99.3 71.6 99 72.3 98.7 73.1 98.5 73.7 98.3 73.7 98.1 73.9 97.9 74.4 97.7 74.7 97.8 74.8 97.9 75 97.9 75.2 98 75.5 98.1 75.5 98.1 75.7 98.2 75.7 98.3 75.9 98.3 76.1 98.3 76.3 98.5 76 98.3 76.7 98.6 76.4 98.5 76.7 98.7 76.6 98.7 76.8 98.7 77 98.7 77.2 98.8 77.2 98.7 77.4 98.7 77.6 99.1 77.2 99 77.5 99 77.6 99.4 77.3 99.4 77.4 99.2 77.8 99.5 77.6 99.4 77.8 99.7 77.7 99.9 77.5 99.8 77.8 100.2 77.5 100.2 77.7 100 77.9 100.3 77.8 100.7 77.6 100.7 77.7 100.5 78 100.7 77.9 100.8 78 101 77.9 100.9 78.2 101.3 78 101.4 78 101.3 78.3 101.5 78.2 101.8 78.2 101.9 78.2 101.6 78.6 101.6 78.7 102.2 78.4 102 78.7 102.1 78.7 102.1 78.9 102.7 78.7 102.6 78.9 103 78.8 103.2 78.8 103.3 78.9 103.5 79 104 78.9 104.4 79 104.6 79.1 105.2 79 105.2 79.1 105.5 79.2 106 79.2M105.1 59.5 105.2 60.2 105.1 61.1 104.6 61.1 104.1 61.6 103.9 61.2 103.5 61.3 103.3 60.8 102.9 61.2 102.6 60.9 102.2 60.9 101.9 60.4 101.5 60.6 101.3 60.1 101.1 59.4 101.6 59.1 102 58.7 102.4 58.5 102.9 58.2 103.3 58.1 103.7 58.3 104 58.6 104.4 58.6 104.6 59 105.1 59.5M93.5 71.8 93.5 72.2 93.4 72.6 93.4 73.1 93.3 73.1 93.1 73.1 93 73.1 93 73.7 92.8 73.5 92.7 73.7 92.7 74.1 92.5 74 92.3 73.8 92.3 74.2 92.1 74 91.8 73.7 91.9 74.3 91.6 74.1 91.3 73.8 91.3 74.1 91.2 73.6 91.2 73.3 91.3 73 91.3 72.8 91.3 72.3 91.5 72.2 91.6 72.2 91.4 71.3 91.6 71.2 91.8 71.1 91.7 70.5 91.9 70.3 92.2 70.6 92.4 70.7 92.7 71 93 71.2 93.3 71.5 93.5 71.8M89 76.4 88.8 76.4 88.8 76.6 89.1 76.9 88.9 76.9 88.8 77.1 89.1 77.4 88.9 77.4 88.8 77.5 88.6 77.5 88.7 77.7 88.8 77.9 88.3 77.8 88.3 77.9 88.1 77.9 88.2 78.1 88.2 78.3 87.9 78.2 88.2 78.5 87.7 78.4 88 78.6 87.5 78.6 87.8 78.5 87.3 78.2 87.6 78.2 87.5 78 87.6 77.8 87.8 77.8 87.9 77.7 87.6 77.4 88 77.5 88.1 77.4 87.9 77.1M81.7 71.7 82 72.2 82.2 72.6 82.7 73.2 82.8 73.5 83.1 74 83.6 74.5 84.1 75 84 75.2 84.1 75.5 84.4 75.9 84 75.9 84.2 76.2 84.3 76.5 84.1 76.6 84.2 76.8 84.5 77.2 84.1 77.2 84.3 77.5 84.1 77.6 84.3 77.9 84.2 78 83.9 77.7 83.8 77.4 83.4 77 83.1 76.7 83.1 76.4 82.7 76 82.7 75.8 82.8 75.6 82.5 75.2 82.5 74.9 82.1 74.5 81.6 73.9 81.4 73.5 80.8 72.9 80.9 72.7 80.7 72.2 80.9 72 80.8 71.7 80.9 71.4 81.7 71.7M84.8 83.4 85.3 83.5 85.6 83.7 86 83.8 86.7 83.7 86.7 83.9 86.3 84.1 86.3 84.2 86.3 84.4 86.3 84.5 86.5 84.7 86.1 84.9 86 85.1 85.2 85.3 84.6 85.2 84.2 85.2 84.7 84.9 84.8 84.7 84.7 84.5 84.2 84.4 84.3 84.2 84.1 84.1 84.3 83.9 84.2 83.7 84.8 83.4M85.8 93 85.8 93.3 86.1 93.4 86.4 93.3 86.8 93.2 86.8 93.5 87.1 93.3 87.1 93.7 87.3 93.8 87.7 93.6 87.6 94.1 88 93.9 88.1 94.1 88.2 94.3 88.1 94.1 87.6 94.4 87.4 94.4 87.1 94.4 86.6 94.7 86.7 94.2 86.4 94.2 85.9 94.4 85.7 94.4 85.9 93.8 86 93.5 85.9 93.2 85.8 93M95.8 100.1 96.1 100.5 96.4 100.4 95.3 100.6 95.1 100.2 95.8 100.1M68.7 116.9 69.5 116.4 70.2 115.9 70.8 115.3 71.6 115 72.1 115.1 72.5 114.2 72.5 113.4 72.9 112.6 73.3 111.7 73.8 110.9 74.5 110.2 74.1 110.2 73.2 110.8 72.5 111.6 72.1 112.4 71.6 113.1 71.1 113.7 70.8 114.6 70.1 115.2 69.4 116 68.7 116.8 68.7 116.9M64.3 119.8 65.3 120.2 66.1 120.6 66.9 121.1 67.7 121 68.5 120.7 69.2 120.9 69 119.8 68.5 119.1 68.3 118.3 68.3 117.3 67.1 118.4 65.9 118.4 64.6 119.1 64.3 119.8M52.1 120.2 53 120.8 53.9 121.4 54.4 122.4 54.6 123.5 55.7 123.7 56.6 124.2 57.6 124.4 58.3 125.2 59.3 125.4 60.7 125.5 61.3 124.6 61.8 123.7 63.2 123.3 63.7 122.2 64.6 121.5 65.2 120.6 64 120.2 62.9 121.5 62 121.9 61 122.3 59.9 122.3 58.9 121.9 58 122.3 57.1 122.3 56.1 122 55.8 120.9 54.9 120.4 53.8 120.1 52.5 119.9 52.1 120.2M50.8 119.8 50 120.7 49.3 121.8 50.1 122.5 51.6 121.7 52.2 120.3 50.8 119.8M52.5 122 53.7 122.4 54.6 123.1 54.7 122.3 53.6 121.7 52.5 122M34.3 119.6 35.7 119.4 37 119 36.8 118 35.3 118.4 33.8 118.3M99.5 43.4 98.9 43.5 98.2 43.5 97.6 43.9 97 43.7 96.5 44.4 95.8 44.3 95.3 44.5 94.7 44.5 94.5 46.1 95.4 46.8 95.7 47.9 96.1 48.5 96.5 49.1 97 49.7 96.6 51.1 97.2 52.2 97.7 52.3 98.2 52.3 98.9 51.2 98.8 49.6 98.4 48.6 97.9 48.6 97.4 48.3 97.7 46.8 98.5 46.8 98.3 45.7 99.1 45.2 98.3 45 97.6 44.8 98.6 44.4 99.5 43.4M99.5 45.5 99.4 46.9 99 48.4 99.5 48.7 99.9 49.1 100.7 48.6 101.2 48.6 101.7 48.1 101.7 46.9 102.3 45.7 101.8 45.4 101.2 45.3 100.4 45.3 99.7 45.8 99.5 45.5M84.3 31.1 83.5 30.9 82.9 31.7 82.1 31.6 81.5 32.1 81.5 31.1 81.5 30.2 82.4 30.2 83.3 30.4 84.2 30.8 84.3 31.1M88.1 31.5 87 31.8 87.1 33 87.2 34.1 87.9 33.9 88.6 33.7 88.1 32.7 88.1 31.5M88.3 34.5 87.6 34.4 87.8 36.2 88.3 34.5M73.3 31.3 70.8 32.3 72.3 31.3 73.3 31.3M65.4 34.8 64.2 36.8 64.3 35.2 65.4 34.8M62.5 51.6 62.7 52.5 62.6 53.3 63.1 54.2 62.9 54.9 62.4 55.3 62.3 56 61.2 56.6 59.9 55.6 59.8 54.8 60.3 54.2 59.4 53.8 58.6 54 57.8 53.7 56.4 52.7 55.4 53.2 54.5 52.1 53.5 51.3 52.4 51 52.3 50.1 52.7 49.4 53.3 48.8 54.4 48.6 55.1 47.9 56.4 48.2 57.1 49.1 57.6 50 58.5 50.4 59.4 50.5 61 50.8 62.5 51.6M58.9 60 58.2 60.5 58 61.2 57.7 61.9 57 61.1 56 60.5 55.9 59.6 56.1 58.8 57.5 59.1 58.9 60M59.2 91.6 59.8 92.1 60.4 92.6 60.7 93.1 61.4 93.4 61.8 93.8 62.6 93.9 63.4 93.8 64.2 93.7 63.8 93.7 62.8 93.8 62.4 93.2 61.4 93.3 60.7 92.8 59.8 92.4 59.2 91.6M54.6 70.4 54.1 70.9 53.9 71.5 53.4 72 53.3 72.7 53.6 73.5 53.4 74.3 53.7 73.7 53.6 73.1 53.4 72.5 53.9 72 54 71.3 54.6 70.4M72.7 39.3 71.8 39.7 71.3 40.4 70.3 40.4 69.6 40.8 69.6 41.9 69.1 42.4 68.3 42.7 67.5 43.1 66.9 43.6 66 43.4 65.2 43.6 64.9 44.4 64 44.4 63.6 45.1 63.4 46.1 64.3 47.1 65.3 46.7 66.4 47.1 67.3 47 68.2 46.7 69.1 46.7 69.6 46.1 70.3 45.6 70.6 44.7 71.9 45.2 71.5 46.1 72.4 46.1 73.1 45.9 73.6 45.1 73.6 43.9 73.7 42.6 73.6 41 73.1 40 72.7 39.3M70.1 46.1 69.2 46.8 69.2 47.8 69.3 48.8 69 49.6 69.4 49 69.9 48.4 69.8 47.5 69.8 46.7 70.1 46.1M138.4 84.1 138.2 83.3 138.6 82.5 138.3 81.7 137.6 81 137.9 80.3 138.4 79.5 138.5 78.4 137.4 78.7 136.8 79.2 136.2 79.7 136.7 80.2 136.3 80.8 136.5 81.4 137.1 82.1 137.5 82.8 138 83.4 138.4 84.1M144 80.7 142.5 80.5 140.9 80.9 140.2 80.4 139.3 80.2 138.9 79.5 139.3 78.7 139.9 79.2 140.8 79.5 141.9 79.4 143 79.5 143.7 80 144 80.7M139.3 78.3 138.8 77.6 139 76.8 138.9 76 138.9 75.3 140 74.7 139.9 75.4 139.9 76 140.8 75.9 141.7 75.8 142.2 76.4 141.4 77.3 140.6 77.2 140.1 77.8 139.3 78.3M143.7 76.9 144 76.2 143.7 75.5 143.1 74.8 142.9 74 142 73.5 142.4 74.7 142.8 75.4 143.3 76.2 143.7 76.9M141.5 74.2 141.2 73.5 141.1 72.8 141 72.1 140.6 71.5 140 71.8 140.4 72.5 141 73.2 141 74 141.5 74.2M120.5 95.2 120.8 94.9 120.5 94.3 120.6 94 121.3 93.8 121.1 93.3 120.7 92.8 120.6 92.2 120.4 91.7 120.2 91.2 119.8 91.5 120.3 92.1 119.9 92.4 119.9 92.8 120.2 93.4 120.2 94 120.3 94.5 120.5 95.2M115.2 96.2 115.5 96 115.4 95.5 115.7 95.3 115.5 94.8 115.8 94.6 115.9 94.2 115.7 93.7 115.3 93.2 115.3 93.6 114.9 93.7 114.4 93.8 114.6 94.4 114.5 94.8 114.4 95.2 114.7 95.7 115.2 96.2M134.1 87.2 132.5 86.7 131.9 87.1 131.2 87.4 130.5 87.7 131.4 87.4 132.5 87.4 134.1 87.2M123.6 93.2 123.9 91.7 123.9 91.1 123.8 92.8M103.3 117.2 103.8 116.6M101.9 118.3 102.7 117.6M99.8 119.2 100.7 118.9M97.6 119.8 98.5 119.7M95.3 119.8 96.6 120M94 119.7 94.6 120M90.9 118.4 91.8 118.8M69.5 120.9 70.5 120.9M71.5 120.7 72.6 120.5M73.3 120.4 74.3 120.2M75.4 120.1 76.1 119.9M77.1 119.6 77.8 119.2M78.5 118.8 79.4 118.3M79.8 118 80.3 117.8M48.8 40.4 48.9 41.2 47.8 42.4 46.2 42.2 44.7 42 44 42.7 43 42.8 42.1 43.2 41.4 43.8 41.3 45 40.8 45.9 39.7 45.6 38.6 45.9M49.2 39.9 47 39.5 45.1 39.3 43 39.2M62.1 29.9 61.1 28.9 59.8 28.4 58.6 27.5 57.4 26.9 56.3 25.9 54.9 25.4 53.7 24.5 52.3 23.9M59.6 30.8 58.2 29.5 56.9 28.7 55.5 28.3 54.2 27.6 52.9 26.9 51.4 26.5 50 25.7M61.9 29.8 59.8 28.7 58.9 28.7 59.6 30.8M38.6 45.9 37.6 46.5 37.1 47.6 36.4 48.4 35.7 49.3 35.6 50.4 35 51.2 34.6 52.1 34.1 52.9 33.2 53.6 33.1 54.7 32.5 55.5 31.4 55.9 29.7 56.5M39.7 45.2 37.7 44.2 35.2 45.5 33.2 46.2M116.7 13.7 115.4 14 114.9 15.1 113.8 15.5 113.5 17 112.4 17.4 111.3 18 110.3 18.9 108.5 18.9" stroke="#2a2a2a" stroke-width="0.55" fill="none" stroke-linejoin="round"/></g>
<circle cx="95.6" cy="82.5" r="2.1" fill="#fff"/>
<path d="M89.3 100.1A18.7 18.7 0 0 0 101.9 100.1L100.3 91.2A9.9 9.9 0 0 1 90.9 91.2Z" stroke="#111" stroke-width="0.9" fill="none" stroke-linejoin="round"/>
<circle cx="95.6" cy="82.5" r="68.7" stroke="#222" stroke-width="0.9" fill="none"/>
<text transform="translate(138.4,99.4) rotate(-78)" font-size="6.9" font-weight="bold" text-anchor="middle" fill="#111">NA</text>
<text transform="translate(118,115.5) rotate(-55)" font-size="6.1" font-weight="bold" text-anchor="middle" fill="#111">GOA</text>
<clipPath id="pcb"><circle cx="249.5" cy="82.5" r="68.7"/></clipPath>
<path d="M249.5 60.5L249.5 59.5L249.5 58.5L249.5 57.5L249.5 56.5L249.5 55.5L249.5 54.5L249.5 53.5L249.5 52.5L249.5 51.5L249.5 50.5L249.5 49.5L249.5 48.5L249.5 47.5L249.5 46.5L249.5 45.5L249.5 44.5L249.5 43.5L249.5 42.5L249.5 41.5L249.5 40.5L249.5 39.5L249.5 38.5L249.5 37.5L249.5 36.5L249.5 35.5L249.5 34.5L249.5 33.5L249.5 32.5L249.5 31.5L249.5 30.5M249.5 28.5L249.5 27.5L249.5 26.5L249.5 25.5L249.5 24.5L249.5 23.5L249.5 22.5L249.5 21.5L249.5 20.5L249.5 19.5L249.5 18.5L249.5 17.5L249.5 16.5L249.5 15.5L249.5 14.5M234 55.7L233.5 54.8L233 53.9L232.5 53.1L232 52.2L231.5 51.3L231 50.5L230.5 49.6L230 48.7L229.5 47.9L229 47L228.5 46.1L228 45.3L227.5 44.4L227 43.5L226.5 42.7L226 41.8L225.5 40.9L225 40.1L224.5 39.2L224 38.3L223.5 37.5L223 36.6L222.5 35.7L222 34.9L221.5 34L221 33.1M218 27.9L217.5 27.1L217 26.2L216.5 25.3L216 24.5L215.5 23.6M217.5 82.5L216.5 82.5L215.5 82.5L214.5 82.5L213.5 82.5L212.5 82.5L211.5 82.5L210.5 82.5L209.5 82.5L208.5 82.5L207.5 82.5L206.5 82.5L205.5 82.5L204.5 82.5L203.5 82.5L202.5 82.5L201.5 82.5L200.5 82.5L199.5 82.5L198.5 82.5L197.5 82.5L196.5 82.5L195.5 82.5L194.5 82.5L193.5 82.5L192.5 82.5L191.5 82.5L190.5 82.5L189.5 82.5L188.5 82.5L187.5 82.5L186.5 82.5L185.5 82.5L184.5 82.5L183.5 82.5L182.5 82.5L181.5 82.5M224.4 97L223.5 97.5L222.7 98L221.8 98.5L220.9 99L220.1 99.5L219.2 100L218.3 100.5L217.5 101L216.6 101.5L215.7 102L214.9 102.5L214 103L213.1 103.5L212.3 104L211.4 104.5L210.5 105L209.7 105.5L208.8 106L207.9 106.5L207.1 107L206.2 107.5L205.3 108L204.5 108.5L203.6 109L202.7 109.5L201.9 110L201 110.5L200.1 111L199.3 111.5L198.4 112L197.5 112.5L196.7 113L195.8 113.5L194.9 114L194.1 114.5L193.2 115L192.3 115.5L191.5 116L190.6 116.5M233 111.1L232.5 111.9L232 112.8L231.5 113.7L231 114.5L230.5 115.4L230 116.3L229.5 117.1L229 118L228.5 118.9L228 119.7L227.5 120.6L227 121.5L226.5 122.3L226 123.2L225.5 124.1L225 124.9L224.5 125.8L224 126.7L223.5 127.5L223 128.4M220.5 132.7L220 133.6L219.5 134.5L219 135.3L218.5 136.2L218 137.1L217.5 137.9L217 138.8L216.5 139.7L216 140.5L215.5 141.4M249.5 113.5L249.5 114.5L249.5 115.5L249.5 116.5L249.5 117.5L249.5 118.5L249.5 119.5L249.5 120.5L249.5 121.5L249.5 122.5L249.5 123.5L249.5 124.5L249.5 125.5L249.5 126.5M249.5 131.5L249.5 132.5L249.5 133.5L249.5 134.5L249.5 135.5L249.5 136.5L249.5 137.5L249.5 138.5L249.5 139.5L249.5 140.5L249.5 141.5L249.5 142.5L249.5 143.5L249.5 144.5L249.5 145.5L249.5 146.5L249.5 147.5L249.5 148.5L249.5 149.5L249.5 150.5M261.5 103.3L262 104.2L262.5 105L263 105.9L263.5 106.7L264 107.6L264.5 108.5L265 109.3L265.5 110.2L266 111.1L266.5 111.9L267 112.8L267.5 113.7L268 114.5L268.5 115.4L269 116.3L269.5 117.1L270 118L270.5 118.9L271 119.7M263.4 90.5L264.2 91L265.1 91.5L266 92L266.8 92.5L267.7 93L268.6 93.5L269.4 94L270.3 94.5L271.2 95L272 95.5L272.9 96L273.7 96.5L274.6 97L275.5 97.5L276.3 98L277.2 98.5L278.1 99L278.9 99.5L279.8 100L280.7 100.5L281.5 101L282.4 101.5L283.3 102L284.1 102.5L285 103L285.9 103.5L286.7 104L287.6 104.5L288.5 105L289.3 105.5L290.2 106L291.1 106.5L291.9 107L292.8 107.5L293.7 108L294.5 108.5L295.4 109L296.3 109.5L297.1 110L298 110.5L298.9 111L299.7 111.5L300.6 112L301.5 112.5L302.3 113L303.2 113.5L304.1 114L304.9 114.5L305.8 115L306.7 115.5L307.5 116L308.4 116.5M263.5 82.5L264.5 82.5L265.5 82.5L266.5 82.5L267.5 82.5L268.5 82.5L269.5 82.5L270.5 82.5L271.5 82.5L272.5 82.5L273.5 82.5L274.5 82.5L275.5 82.5L276.5 82.5L277.5 82.5L278.5 82.5L279.5 82.5L280.5 82.5L281.5 82.5L282.5 82.5L283.5 82.5L284.5 82.5L285.5 82.5L286.5 82.5L287.5 82.5L288.5 82.5L289.5 82.5L290.5 82.5L291.5 82.5L292.5 82.5L293.5 82.5L294.5 82.5L295.5 82.5L296.5 82.5L297.5 82.5L298.5 82.5L299.5 82.5L300.5 82.5L301.5 82.5L302.5 82.5L303.5 82.5L304.5 82.5L305.5 82.5L306.5 82.5L307.5 82.5L308.5 82.5L309.5 82.5L310.5 82.5L311.5 82.5M262.5 75L263.4 74.5L264.2 74L265.1 73.5L266 73L266.8 72.5L267.7 72L268.6 71.5L269.4 71L270.3 70.5L271.2 70L272 69.5L272.9 69L273.7 68.5L274.6 68L275.5 67.5L276.3 67L277.2 66.5L278.1 66L278.9 65.5L279.8 65L280.7 64.5L281.5 64L282.4 63.5L283.3 63L284.1 62.5L285 62L285.9 61.5L286.7 61L287.6 60.5L288.5 60L289.3 59.5M291.9 58L292.8 57.5L293.7 57L294.5 56.5M258 67.8L258.5 66.9L259 66L259.5 65.2L260 64.3L260.5 63.4L261 62.6L261.5 61.7L262 60.8L262.5 60L263 59.1L263.5 58.3L264 57.4L264.5 56.5L265 55.7L265.5 54.8L266 53.9L266.5 53.1L267 52.2L267.5 51.3L268 50.5L268.5 49.6L269 48.7L269.5 47.9L270 47L270.5 46.1L271 45.3L271.5 44.4L272 43.5L272.5 42.7L273 41.8L273.5 40.9L274 40.1L274.5 39.2L275 38.3L275.5 37.5L276 36.6L276.5 35.7L277 34.9L277.5 34L278 33.1L278.5 32.3L279 31.4L279.5 30.5L280 29.7L280.5 28.8L281 27.9L281.5 27.1L282 26.2L282.5 25.3L283 24.5M278.4 82.5L278.4 83.4L278.4 84.3L278.3 85.2L278.2 86.1L278.1 87L277.9 87.9L277.7 88.8L277.5 89.7L277.3 90.6L277 91.5L276.7 92.3L276.4 93.2L276 94L275.7 94.9L275.3 95.7L274.8 96.5L274.4 97.3L273.9 98.1L273.4 98.8L272.9 99.6L272.3 100.3L271.7 101L271.1 101.7L270.5 102.4L269.9 103L269.2 103.7L268.5 104.3L267.8 104.9L267.1 105.4L266.4 106L265.6 106.5L264.9 107L264.1 107.5L263.3 107.9L262.5 108.4L261.7 108.8L260.8 109.1L260 109.5L259.1 109.8L258.3 110.1L257.4 110.3L256.5 110.6L255.6 110.8L254.7 111L253.8 111.1M249.3 111.4L248.4 111.4L247.4 111.4L246.5 111.3M225.9 99.2L225.4 98.5L224.9 97.7M223.2 94.5L222.8 93.6L222.4 92.8L222.1 91.9L221.9 91.1L221.6 90.2L221.4 89.3L221.2 88.4L221 87.5L220.9 86.6L220.7 85.7M241.2 54.8L242 54.5L242.9 54.3L243.8 54.1L244.7 54L245.6 53.8L246.5 53.7L247.4 53.6L248.4 53.6L249.3 53.6L250.2 53.6L251.1 53.6L252 53.7L252.9 53.8L253.8 53.9L254.7 54L255.6 54.2L256.5 54.4L257.4 54.7L258.3 54.9L259.1 55.2L260 55.5L260.8 55.9L261.7 56.2L262.5 56.6L263.3 57.1L264.1 57.5L264.9 58L265.6 58.5L266.4 59L267.1 59.6L267.8 60.1L268.5 60.7L269.2 61.3L269.9 62L270.5 62.6L271.1 63.3L271.7 64L272.3 64.7L272.9 65.4L273.4 66.2L273.9 66.9L274.4 67.7L274.8 68.5L275.3 69.3L275.7 70.1L276 71L276.4 71.8L276.7 72.7L277 73.5L277.3 74.4L277.5 75.3L277.7 76.2L277.9 77.1L278.1 78L278.2 78.9L278.3 79.8L278.4 80.7L278.4 81.6L278.4 82.5M311.7 86.4L311.6 88.4L311.4 90.4L311.1 92.3L310.7 94.2L310.3 96.2L309.9 98.1L309.4 100L308.8 101.9L308.1 103.7L307.4 105.6L306.7 107.4L305.9 109.2L305 110.9L304.1 112.7L303.1 114.4L302.1 116.1L301 117.7L299.8 119.3L298.6 120.9M268.4 141.9L266.5 142.5L264.6 143L262.7 143.4L260.8 143.8L258.8 144.2L256.9 144.4L254.9 144.6L252.9 144.8L251 144.8M241.2 144.3L239.2 144L237.3 143.6L235.4 143.2L233.4 142.8M224.2 139.5L222.4 138.6L220.6 137.8L218.9 136.8M212.3 132.5L210.7 131.3L209.2 130.1L207.7 128.8L206.3 127.5L204.9 126.1L203.5 124.6L202.2 123.2L201 121.7L199.8 120.1L198.6 118.5L197.5 116.9L196.4 115.2L195.4 113.5L194.5 111.8L193.6 110.1L192.7 108.3L191.9 106.5L191.2 104.6L190.5 102.8L189.9 100.9L189.4 99L188.9 97.1L188.5 95.2L188.1 93.3L187.8 91.3L187.5 89.4L187.3 87.4L187.2 85.5L187.2 83.5L187.2 81.5M187.5 75.6L187.8 73.7L188.1 71.7L188.5 69.8L188.9 67.9L189.4 66L189.9 64.1L190.5 62.2M212.3 32.5L213.9 31.3L215.5 30.2L217.2 29.2M226 24.8L227.8 24L229.7 23.4L231.5 22.8L233.4 22.2L235.4 21.8L237.3 21.4L239.2 21L241.2 20.7L243.1 20.5L245.1 20.3L247 20.2L249 20.1M258.8 20.8L260.8 21.2L262.7 21.6L264.6 22L266.5 22.5L268.4 23.1L270.3 23.7L272.1 24.4L273.9 25.1L275.7 25.9L277.5 26.8L279.2 27.7L281 28.7L282.6 29.7L284.3 30.8L285.9 31.9L287.5 33.1L289 34.3L290.5 35.6L292 36.9L293.4 38.2M311.8 80.5L311.9 82.5" stroke="#c4c4c4" stroke-width="0.4" fill="none"/>
<g clip-path="url(#pcb)"><path d="M321 92.3 319.7 92 318.3 91.8 316.4 91.1 314.5 90.8 313.6 89.8 313.2 88.7 312.4 87.8 312.1 86.7 312.2 85.7 312.3 84.7 313 83.1 312.9 81.6 311.6 82.1 311.3 80.6 311.3 79.3 311.6 77.8 311.6 76.5 312 75.5 313.2 74.4 314.5 74.1 316 72.9 317.2 71.9 316.9 71 315.3 70.9 314.3 71.4 313.3 71.9 312.3 72.7 311.2 73.2 309.7 73.3 308.2 72.7 306.9 71.6 305.8 70.4 304.6 69.5 303.7 68.5 302.7 68.9 301.7 69.5 300.3 69.4 299.3 69.1 298.3 68.7 297.3 68.8 296.3 68.1 296 67.5 295.6 66.9 295 65.9 294.5 66.6 293.9 66.9 292.5 66.4 291.9 65.9 291.4 65.4 290.3 64.7 289.7 64.2 289.6 63.4 290.4 63.7 291.1 64.1 291.7 63.3 290.9 62.7 289.9 62.3 289.1 61.8 288.5 61.1 287.3 60.7 288 61.1 288.4 61.8 288.6 62.6 288.5 63.7 287.9 64.4 287.2 65.3 286.2 64.7 285.9 65.5 286 66.1 286.8 66.4 286.8 67 288 67.2 288.6 67.9 289.5 68.1 290 68.7 289 68.7 288.3 68.4 287.6 68 286.8 67.8 285.9 67.5 285.4 66.9 284.8 66.5 284.7 66 284.5 65.4 284.3 64.9 284.4 64.2 283.9 63.8 283.5 63.3 283 62.8 282.4 62.5 281.6 62.4 281.2 61.9 280 61.7 278.9 62.8 279.2 63.4 278.8 64.2 278.7 65 278.5 65.7 278.5 66.3 278.1 67 277.4 68 276.7 68.7 276.2 69.5 275.5 70.4 276.4 70.2 277 70.2 277.5 70.6 277.8 71 277.4 71.5 277.6 72 276.7 72.5 275.7 72.9 275.5 73.5 275.3 74.1 275.5 74.6 275.4 75.1 275.2 75.6 275 76.1 275.4 76.5 275.5 76.9 276.3 76.6 277.1 76.6 278.1 76.4 278.9 76 280.1 75.2 281 75.2 281.9 75 282.7 75.2 283 75.7 283.8 76 284.6 75.7 285.5 75.4 286.6 75.6 286.8 76.3 285.9 76.9 285.3 77.6 284.3 78 283.1 78 283.4 78.5 283.2 79 283.2 79.6 282.6 80.1 282.5 80.8 282 81.3 281.7 81.9 281.6 82.5 281.8 83.1 281.4 83.6 280.4 83.8 279.7 84.2 278.9 84.8 277.4 84.4 276.6 84.1 275.9 83.7 275.3 83.3 274.9 82.9 274.6 82.4 274.3 81.8 273.7 81.6 273.4 81.2 272.2 81.1 272.1 80.8 271.7 80.5 271.8 80.2 271.4 79.9 271.1 79.6 270.7 79.3 269.8 79.6 268.9 80 268.9 80.3 268.7 80.7 268.7 81 269.1 81.2 269.4 81.5 269.9 81.8 269.5 82.1 269.3 82.4 269.3 82.7 268.7 83 268 83.3 267.7 83.5 267.1 83.7 266.6 83.8 267.3 84.1 268.2 84.1 268.9 84.4 270.4 84.7 270.7 85 270.7 85.3 270.5 85.6 270.7 86 270.7 86.4 270.4 86.7 270.5 87.1 270.1 87.3 269.9 87.6 269.6 87.8 269.7 88.2 269.3 88.4 269.2 88.7 269.3 89.1 269.5 89.5 269.5 89.9 269.5 90.2 269.1 90.4 269 90.7 269 91.1 268.6 91.3 268.4 91.5 267.9 91.6 267.6 91.8 267.1 91.9 267 92.2 266.6 92.4 266.1 92.5 266.2 92.8 265.6 92.9 265.8 93.4 265.7 93.6 265.3 94 264.7 94 264.1 93.9 264.3 94.5 264.2 94.9 264 95.1 264 95.6 263.6 95.6 263.5 96.1 263.6 96.5 263.2 96.6 263.3 97.1 262.9 97 262.8 97.4 262.3 97.2 261.9 97.3 261.7 97.5 261.4 97.8 260.9 97.6 260.5 97.6 260.2 97.8 260 98.1 259.8 98.4 259.3 98.1 259.1 98.5 258.8 98.6 258.5 98.8 258.1 98.6 257.8 98.8 257.5 98.9 257.2 99 256.8 98.5 256.6 98.7 256.4 99.1 256.2 99.3 256 99.6 255.8 99.8 255.6 100.2 255.4 100.5 255.2 101 255.1 101.7 254.7 101.9 254.4 102 254.2 102.7 254.8 102.9 255.2 103.4 255.6 103.3 256 103.1 256.5 103.5 256.6 104.2 256.1 103.9 255.7 104 255.3 104.1 255 104.6 254.6 104.8 254.4 105.3 254.7 105.4 255.1 105.8 255.8 106.1 256.1 105.7 256.6 106.2 256.8 105.8 257.2 105.8 257.6 105.7 257.6 106.6 257.1 106.6 256.7 107 256.4 107.4 256.1 108.3 256.6 109.3 257.3 109.5 257.9 110 258.3 110.1 258.9 111.2 259.4 111 259.9 111 260.6 110.6 261.2 110.6 261 111.8 260.8 112.4 260.6 113 260.2 113.3 260 113.9 259.7 114.4 259.4 114.9 258.8 115.1 258.6 116 259.2 115.3 260 114.9 260.7 114.1 261.3 113.3 261.7 113 261.9 112.3 261.9 111.6 262.3 111.3 262.6 110.7 262.6 110 262.7 109 262.7 107.9 262.9 107.1 263.4 106.5 263.1 107 263 107.5 263.6 108.6 263.9 108 264.3 107.6 264.3 107 264.6 106.6 264.7 106 265.2 105.8 265.9 106 266.5 105.8 266.8 105.4 267.3 105.2 267.6 104.8 268.2 104.8 268.8 105 269.2 104.8 269.7 104.6 270.4 104.7 271 104.4 271.5 104.2 272.1 104.4 272.8 104.5 273.5 104.5 274.6 104.7 275.9 104.9 277 105.2 277.7 105.3 278.3 105.2 279.4 105.5 279.7 106.3 280.6 106.4 281.4 106.1 282.4 105.9 283.2 105.9 284.2 106.1 285.5 106.7 286.3 107.3 287 107.8 287.6 108.6 288.4 109.2 289.6 109.6 290.7 110.7 291.8 110.8 293.4 111 294.1 110.9 295.6 111.2 297.2 111.1 298.3 111.4 299.1 110.5 300.3 109.8 302 109.5 303.2 109.5 304.2 109.5 305.2 109.4 306.3 108.8 308.1 108.8 308.5 110.1 309.5 109.5 310.5 109.1 311.5 108.6 313.4 108.6 315 107.6 316.7 106.9 315.6 107.1 314.5 107.1 313.4 107.2 312.3 107.2 311.1 107.3 310 107.6 308.9 107.6 307.8 107.9 306.8 108.2 305.7 108.1 304.1 107.7 305.2 106.7 306.2 106.7 307.1 106.4 308.2 106.2 309.3 106 310.9 105.5 312.5 104.8 314.4 104.2 315.5 104 316.2 103.2 317.5 102.6 318.9 102.4M182.9 111.4 183.7 112.5 185.1 113.9 186.4 114.6 187.5 115 188.5 115.6 190 116.2 191.4 115.8 193.2 116.1 194.9 116.4 196.4 115.7 196.4 114.4 197.1 115.1 197.3 114.7 198.4 114.3 198.7 112.9 199.4 112.3 199.9 111.5 200.8 110.1 201.7 110.3 202.5 110.5 203.4 110.9 204.4 111.2 204 110.4 203.8 109.4 202.6 108.7 202.7 107.9 203.4 106.7 204.2 106.8 205 107.3 206.2 107.5 207.3 108.1 207.4 109.1 206.2 109.3 205.3 109.4 206.5 109.9 207.4 110.3 207.9 111.1 208 112.1 207.1 112.4 206.3 113.1 206.8 113.9 206.2 114.9 204.8 115.7 203.7 116.3 204.6 116.9 205.9 117.8 206.8 117.6 207.8 116.6 208.5 115.9 208.6 115 209.1 113.5 210 113.7 210.7 114.2 211.7 114 213.3 113.6 214.3 113.6 215 114.7 215.9 114.7 216.4 115.2 217.2 115.4 218.3 114.9 219.4 114.8 220.3 114.9 221.3 114.4 222.3 114.2 223.4 114 224.5 112.8 225.8 111.8 226.4 111.1 227 110.5 227.1 109.7 226.8 109 226.1 109 225.8 108.4 226.1 107.2 227 106.7 227.8 106.7 228.4 106.8 229.1 106.7 229.9 106.2 230.5 106.2 231.2 105.9 231.7 106.2 232 106.6 232.4 106.9 232.9 107.1 233.4 107.4 233.7 107.8 234.3 107.7 234.6 108.3 235 108.6 235.4 108.9 235.9 109 236.3 109.2 236.8 109.1 237.4 108.8 238 108.3 238.6 107.7 239 107.9 239.3 108.3 239.8 108.4 240.4 108.1 240.8 108.5 241.4 108 241.9 108.3 241.3 109 240.7 109.5 240.2 110 239.7 110.3 239.2 110.4 238.7 111.3 238.2 111.3 237.5 111.6 237 111.4 236.5 112 236.1 112.8 235.6 113.6 235.3 114.7 234.7 115.7 234.6 116.6 234.4 117.6 235 116.9 235.7 116.7 236.4 116.2 237 115.6 237.6 115.3 238.3 114.7 239 114.4 240 113.6 240 112.7 239.9 112 240.6 111.2 241.2 110.4 241.7 110.1 242.2 110.1 242.6 110.3 242.9 110.4 243.3 110.5 243.6 111 244 111 244.5 111 245 110.4 245.6 110.2 246.1 109.9 246.7 109.5 247.2 109.5 247.6 109.1 248.1 108.9 248.7 108.8 249.2 108.9 248.9 107.9 248.6 107.4 248.4 106.7 249.1 106.9 249.7 106.4 250.1 106.8 250.5 105.9 250.9 106.2 251.2 106.4 251.6 106.5 252 106.6 252.3 106.5 252.7 106.8 252.9 106.2 253.2 105.7 253.6 105 253.2 104.7 252.9 104.6 252.6 104.4 252.2 103.9 251.8 103.8 251.4 103.9 251 103.7 250.6 103.6 250.2 103 249.5 102.6 249 102.1 248.7 102.1 248.4 101.8 248.1 101.6 247.8 101.7 247.5 101.6 247.2 101.9 246.9 101.6 246.6 101.4 246.4 101.3 245.8 102.4 245.5 102.3 245.4 101.6 245.1 101.4 244.9 101.4 244.5 101.6 244.3 101.3 244.1 101.1 243.8 101.1 243.5 100.8 243.1 100.9 243.1 100.3 243.1 99.7 242.7 99.8 242.7 99.1 242.3 99.4 242.1 99 241.8 99.1 241.5 99.1 241.3 98.9 241.1 98.6 240.9 98.3 240.9 97.7 240.8 97.2 240.6 97.1 240.4 96.8 240.4 96.4 239.9 96.7 239.9 96.3 239.7 96.1 239.7 95.7 239.5 95.6 239.3 95.4 239.2 95.2 238.6 95.3 238.3 95.2 238 95.2 237.6 95.2 237.3 95.2 237 95 236.7 94.8 236.6 94.6 236.2 94.5 235.7 94.5 236.2 93.8 236.3 93.4 236.9 92.5 237 92.2 237 91.9 236.8 91.7 236.6 91.6 236.2 91.6 236.1 91.4 235.9 91.3 235.8 91.1 235.6 90.9 235.9 90.5 235.5 90.5 235.5 90.2 235.6 89.9 235.8 89.6 235.7 89.3 235.7 89.1 235.2 89.1 235.3 88.8 235.3 88.5 235.3 88.2 235 88.1 235.5 88.1 236 88.2 237.3 87.8 237.5 87.5 237.8 87.2 237.7 87 237.8 86.8 237.5 86.6 237.5 86.4 237.7 86.1 238.1 85.8 238.2 85.6 238.2 85.4 237.9 85.3 237.8 85.1 237.7 85 237.4 84.8 237.1 84.7 236.8 84.5 237 84.3 236.7 84.2 236.6 84 236.7 83.8 236.4 83.6 236.5 83.4 235.9 83.3 236.1 83.1 236.2 82.9 235.9 82.7 235.9 82.5 235.5 82.3 235.8 82 235.3 81.8 234.2 81.6 234.5 81.3 234.4 81.1 234 80.8 234.1 80.6 234.3 80.4 233.9 80.1 234.1 79.9 233.5 79.6 233.2 79.3 233.1 79 233.3 78.8 233.1 78.4 232.8 78 233.1 77.8 232.4 77.8 231.6 77.7 231 77.8 230.3 77.9 230 78.2 229 77.8 228.9 77.4 229 77 228.8 76.6 228.4 76.2 228.1 75.7 228.9 76.2 229.8 76.7 230.6 76.6 231.4 76.6 231.9 77 232.7 77.3 233.9 77.6 234.2 77.4 233.9 77 234.4 76.8 234.2 76.5 233.7 76.1 233.5 75.7 232.7 75.3 232 75.2 231.6 75.4 230.8 75.3 230.1 74.9 230.8 74.6 231.3 74.4 231.3 74 231.9 73.9 232 73.6 232.5 73.5 232.7 73.2 232.2 72.5 232.4 72.2 232.4 71.8 232.7 71.6 232.2 71 232.8 70.9 232.6 70.4 233.1 70.2 233 69.7 233 69.3 233.3 69.1 233.6 68.9 233.6 68.4 233.7 68.1 234 67.9 234.5 68.1 234.7 67.7 235.1 67.6 234.4 67 233.6 66.3 233.8 66 233.8 65.5 233.8 65 233.8 64.5 233.6 63.9 234 63.7 234.1 63.2 234.3 62.9 234.4 62.5 235.1 62.6 235.6 62.4 236.2 63 236.7 63.2 237.3 63.7 236.8 64 236.3 64 236.1 64.2 235.7 64.2 235.4 64.4 235.3 65 235.1 65.4 234.8 65.5 235.7 66.3 236.3 66.6 236.6 66.5 237 66.4 237.2 66 237.7 66.3 238 66 238.5 66.2 238.8 66 239.4 66.4 239.8 66.4 240.1 66.3 240.4 66.2 240.8 66.4 240.9 66.1 241.4 66.4 241.6 66.3 241.6 65.8 241.9 65.7 242.1 65.6 242.3 65.3 242.4 64.8 242.8 65 243 64.6 243.1 64.2 243.5 64.4 243.6 63.9 243.9 63.5 244 62.7 244 62 244.3 61.7 244.5 61 244.5 60.1 244.6 59.4 244.8 59 245 58.5 245.3 57.7 245.7 57.3 246.2 56.9 246.5 56.3 246.9 56.1 247.2 55.7 247 54.2 246.6 52.7 246 51.8 245.2 51.9 244.8 52.3 244.6 53 244.2 53.8 243.8 53.1 243.2 52.2 242.7 51.6 242.5 50.8 242.1 49.9 241.2 50 240.9 50.5 240.5 51 240.5 52.3 240.5 53.3 240.2 54 240.3 55.1 240.8 55.2 241.2 55.8 241.5 57.1 241.2 57.6 241.2 58.5 241 58.9 240.7 59.1 240.7 59.7 240.5 60.3 240.6 61.1 240.1 60.9 239.9 61.5 239.4 61.3 239.5 60.5 239.4 59.8 239.5 59.1 239.8 58.6 239.8 57.9 239.3 56.5 238.7 56.2 238.2 55.7 237.9 56.3 237.3 56.4 237 56.9 236.7 57.1 236.2 57.1 235.9 57.5 235.3 57.2 234.9 57.4 235.4 57.1 235.7 56.5 235.9 56 236.5 56.1 236.8 55.6 237.3 55.7 237.5 54.8 236.6 54.1 236.6 53.2 237.2 53.3 237.7 53.4 237.9 52.5 237.4 51 237.7 50.5 237.9 49.8 238.6 50 239.1 49.5 239.7 49.4 240.2 48.7 240.8 48.5 241.4 48.9 242 48.6 242.5 48.4 243 48.3 243.4 49.5 243.5 50.3 243.8 51.6 244.3 51.5 244.6 51 244.9 50.3 244.5 49.7 244.3 48.8 244.3 47.6 245.2 47.2 245.8 47.3 246.4 46.8 246.6 46 247.2 44.7 247.8 44.4 248.5 43.4 249 43.1 249.5 42.5 250.4 42.8 250.6 41.8 251.6 42 252.2 41.5 252.9 41.7 252.8 41.1 252.2 40.7 251.7 40.2 251.1 40.2 250.4 38.9 250.4 37.4 250.8 36 251.9 36.1 252.6 36.4 253.3 36.4 253.9 36.3 254.6 36.3 255.2 36.9 255.9 36.8 257 36.1 256.9 35 257.1 33.3 257.4 32.2 258 31.5 257.4 31.2 257.7 30.3 257.8 29.3 256.4 29.3 255.4 28.7 254.9 27.7 253.8 28.5 253 28.8 252.2 28.8 251.4 28.5 250.6 28.8 250 29.4 249.5 30.8 249.8 31.6 249.1 32.3 248.7 33.3 248.1 33.6 247.3 33.7 246.8 34.4 247 35.6 246.3 36 245.6 36.2 244.9 35.7 244.2 36 243.5 36.8 242.6 37.6 241.4 37.3 241.1 36.4 240.4 35.9 239.6 35.7 239 35 238.3 34.6 237.5 34.5 236.7 34.3 236 34 235.7 33 235.3 32 234.9 33.1 234.6 33.7 235.3 34.4 234.8 34.9 233.6 34.9 234.3 35.3 235.1 35.4 236.1 36.1 237.1 36.1 238 36.5 238.7 37.5 239.9 38.3 240.1 39.2 239.1 39.7 238.4 39.4 237.2 38.3 236.3 38.4 235.4 37.7 234.4 37.7 233.5 36.9 232.9 35.3 232.3 34.6 231.5 34.2 230.5 33.1 229.5 32.3 228.6 32.1 228.7 33.5 228.1 34.4 229.4 34.8 229.4 36.3 229.4 37.3 228.5 37.5 227.8 38.1 227.3 37.3 226.5 36.8 225.9 36.1 224.8 34.7 223.9 34.7 223 35.5 221.9 35.6 220.9 35.9 220 36.2 218.9 37.2 218.5 38 217.8 38.7 217 37.4 216.2 35.7 215.7 34.3 215.2 32.7 216.2 31.3 217.3 30.9 218.2 30.3 219.2 30 219.8 28.9 220.7 28.9 221.5 28.4 222.4 28.4 223.2 28.2 224 27.8 225.2 28.3 226.4 28.1 227.5 28 228.4 27.5 228.3 26.5 228.8 25.7 228.5 24.8 229.3 23.9 230.2 24.1 231.1 24.2 232.2 24.1 233.3 24.2 234.1 25.1 235.2 25 236.2 24.7 237.3 25 238.4 25.5 239.1 26.6 238.9 27.9 239.6 29.3 240.4 29.8 241.2 29.5 242 29.1 242.9 29.1 243.9 28.9 244.8 28.6 245.7 28.6 246.7 28.4 247.4 27.8 248.1 27.4 249 27.4 250 27.1 251 26.5 252.4 26.7 253.5 27.3 254.6 27.6 255.3 27.2 255.8 26.3 256.3 25.5 257.2 25.1 258.1 24.9 259.4 24.1 259.9 22.3 259.8 21.4 260.4 20.5 261.4 19.6 262.4 18.9M285.6 61.2 285 60.8 284.7 60.3 284.9 59.4 284.3 59 284.5 58.2 283.9 57.8 284.1 57 282.8 57.1 282.4 57.9 281.8 58.6 282.1 59.3 282.1 60.1 281.2 60.6 280.5 61.1 281.1 61.4 281.6 61.7 282.7 61.5 283.7 61.5 284.7 61.3 285.6 61.2M321.1 75 320.2 73.2 320.3 71.9 319.9 70.7 320.1 69.4 320.3 68.1M317.9 68.2 316.6 67.9 317.7 67.9M314.8 69.8 314.7 68.4M314.5 67.7 315.1 67.3M316 66.3 316.9 66.4M274.5 70.7 273.9 71.6 273.9 72.1 273.9 72.6 273.8 73.2 273.9 73.7 273.5 74.3 273.4 74.7 273.3 75.1 273.2 75.5 273.3 75.9 273.4 76.3 273.2 76.7 273.4 77.1 273.4 77.4 272.4 77.4 272.2 77.1 272 76.8 272.4 76.3 272 76 271 76.1 270.5 75.9 270.1 76.3 269.9 76.7 269.3 77.1 269.3 77.4 268.9 77.8 268.4 78.1 267.9 78.6 268.3 78.9 267.8 79.3 268.3 79.5 268.3 79.9 268.4 80.2 268.4 80.5 267.9 80.9 268 81.2 267.5 81.5 267.7 81.9 267.6 82.2 266.7 82.3 266.1 82.5 265.8 82.2 265.1 82 265.3 81.7 265.4 81.5 265 81.3 265 81.1 264.9 80.9 264.6 80.7 264.8 80.5 264.7 80.3 264.8 80 264.7 79.8 264.9 79.5 265.3 79.1 265.5 78.8 265.8 78.4 265.5 78.2 265.9 77.8 265.9 77.5 266.2 77.1 266.6 76.6 266.6 76.3 267 75.9 266.9 75.6 267.4 75.2 267.5 74.9 268.3 74.3 268.6 73.9 269 73.4 268.7 73 269.1 72.5 269.1 72 269.7 72 270.4 71.7 270.9 71.8 271.6 72.2 272.7 71.4 273.5 71.3 274.5 70.7M274.9 80.9 275 80.5 275 80.1 275.1 79.7 275.5 79.3 275.4 78.9 275.1 78.4 274.3 78.3 273.9 78.7 273.5 79.1 273.5 79.5 273 79.9 272.5 80.3 273.3 80.6 273.9 81 274.9 80.9M264.8 91 264.6 90.6 264.1 90.1 264.1 89.8 264.2 89.5 264.2 89.3 264.7 89.2 264.7 88.9 264.6 88.6 264.9 88.5 264.9 88.2 264.6 87.8 265 87.7 264.7 87.4 264.8 87.2 265.1 87 265.1 86.8 265.1 86.5 265.8 86.5 266.2 86.4 266.9 86.4 267.8 86.5 268.2 86.3 268.6 86.7 269.2 87 268.9 87.3 269.3 87.7 269.2 88 269.2 88.3 269.1 88.6 268.8 88.8 268.8 89.1 268.7 89.4 268.4 89.5 267.8 89.6 267.8 89.9 267.7 90.2 267.1 90.2 266.9 90.5 266.4 90.6 266.3 90.8 266 91 265.9 91.2 264.8 91M263.6 92.4 263.2 91.8 262.5 91.3 262.3 90.9 262.3 90.6 262.1 90.2 262.3 90.1 262.9 90.1 263.3 90 263.6 89.8 264.6 90.5 264.8 90.9 264.8 91.2 264.6 91.5 264.7 91.8 264.6 92.1 264.1 92.1 264 92.4 263.6 92.4M267.1 85 266.3 84.8 265.9 84.5 265 84.4 265.2 84.7 264.7 84.9 265.3 85.2 264.6 85.3 264.8 85.6 265.3 85.9 265.5 86.2 265.6 86.5 265.9 86.3 266.3 86.1 267 86.1 267.2 85.8 267.2 85.5 267 85.2 267.1 85M266.6 83.7 264.8 83.3 264.7 82.6 266.6 83.5M264 79.9 264 80.2 264.2 80.3 264.3 80.5 263.9 80.8 264.2 81 264.2 81.2 264.1 81.4 263.8 81.6 263.7 81.8 263.9 82 264.1 82.2 263.8 82.4 263.9 82.6 263.8 82.8 263.9 83 263.9 83.2 263.7 83.4 263.1 83.5 263.3 83.8 262.7 83.9 262.9 83.7 262.3 83.5 262.2 83.3 262.6 83.1 262.1 82.9 262.1 82.7 261.8 82.5 262 82.3 262.2 82.1 262.1 81.9 261.9 81.7 262.1 81.5 262.4 81.3 262.6 81.1 262 80.9 262.3 80.7 262.9 80.5 263.2 80.2 264 79.9M262.3 80.2 262 80.5 262.3 80.6 262.1 80.8 261.9 81 262.1 81.2 262.1 81.4 262 81.6 261.9 81.7 261.8 81.9 261.7 82.1 261.8 82.3 260.9 82.4 259.9 82.5 259.3 82.6 259 82.8 258.6 82.9 258 82.9 257.6 82.8 257.4 82.7 257.7 82.6 257.5 82.5 257 82.4 256.9 82.3 257 82.2 256.5 82.1 256.2 82 256.3 81.9 256 81.8 256.4 81.7 256.3 81.6 256.5 81.5 255.8 81.5 256.3 81.3 256 81.3 256 81.1 256 81.1 256 81 255.8 80.9 255.9 80.8 256 80.6 256.1 80.5 255.8 80.5 255.5 80.5 256 80.3 255.7 80.2 255.6 80.2 255.6 80.1 255.9 79.8 255.9 79.7 255.6 79.8 255.8 79.6 255.8 79.5 255.8 79.4 256 79.2 255.8 79.2 256.2 79.1 256.4 79.1 256.6 79.1 256.8 79.2 257.4 79 257.7 79 257.8 79.1 258.2 79.1 258.2 79.3 258.6 79.3 258.9 79.3 259.4 79.3 259.3 79.5 259.8 79.5 259.9 79.6 259.9 79.8 260.2 79.8 261.1 79.8 261.5 79.9 262 80.1 262.3 80.2M260.8 83.1 260.3 83.2 259.8 83.3 259 83.4 258.4 83.4 258.3 83.3 258.3 83.2 257.8 83 258.2 82.9 258.2 82.8 258.1 82.6 257.8 82.5 258.5 82.4 258.9 82.3 259.5 82.1 259.9 82 259.8 82.1 260.1 82.3 260.2 82.4 260.5 82.6 260.4 82.8 260.4 82.9 260.8 83.1M261.6 89 261 88.4 260.9 88.1 260.9 87.9 261 87.7 261 87.5 261.5 87.5 261.4 87.3 261.4 87 261.5 86.9 261.8 86.8 262.1 86.7 262.1 86.5 261.8 86.2 262.2 86.2 263.2 86.2 263 86.3 263.1 86.6 263.5 86.9 263.2 87.1 263 87.3 263.1 87.5 263.4 87.9 263.1 88 262.8 88.1 262.7 88.3 262.6 88.5 262.5 88.7 262.1 88.7 261.6 88.7 261.6 89M263 84.9 262.2 84.3 262.3 85 263 84.9M264.1 83.5 263.3 83.9 263.1 83.3M260.8 89 260.3 89.4 259.8 87.7 260.5 88.4M260.9 85.7 259.8 85.1 259.9 86.3M259.9 79.2 260.3 79 260.3 78.8 260.7 78.5 261.3 78.1 261.3 77.9 261.8 77.5 261.6 77.4 261.9 77.1 261.3 77.1 261.6 76.8 261.5 76.6 261.4 76.5 261.2 76.4 261.4 76.1 261 76.1 261 75.9 261 75.6 261.3 75.1 261.4 74.8 261.9 74.2 262.6 73.7 263.2 73.1 263.5 72.6 264.2 72.1 264.5 71.6 264.5 71.2 264.4 70.9 264.3 70.5 264.7 70.6 265.6 70.1 266 70.3 266.6 69.7 267.2 69.2 267.9 68.5 268.1 67.9 268.6 67.3 269 66.7 269.5 66.1 269.8 65.6 270 65 270.1 64.4 270.3 63.8 270.4 63.2 270 62.9 270 62.5 270.1 61.8 269.7 61.5 269.1 61.7 268.7 61.5 268.1 61.6 267.5 61.9 266.7 62.5 266.2 62.6 265.6 62.8 264.9 63.1 264.2 63.5 263.6 63.8 263.1 63.9 262.6 64 262.1 64.2 261.7 64.3 261.2 64.5 261 64.1 260.4 64.5 260.2 64.2 260 64 259.5 64.1 259.1 64.3 258.8 64.2 258.5 64.1 258.1 64.2 257.6 64.5 257.2 64.5 256.8 64.9 256.7 65.5 256.5 66.3 256.5 66.9 256.2 66.9 255.8 67.2 255.4 67.4 255 68.1 254.7 68.2 254.3 69.2 253.9 70.1 253.5 70.9 253.2 71.6 252.9 72.3 252.6 73.1 252.4 73.7 252.2 73.7 252 73.9 251.8 74.4 251.6 74.7 251.7 74.8 251.8 75 251.8 75.2 251.9 75.5 252 75.5 252 75.7 252.1 75.7 252.2 75.9 252.2 76.1 252.2 76.3 252.4 76 252.2 76.7 252.5 76.4 252.4 76.7 252.6 76.6 252.6 76.8 252.6 77 252.6 77.2 252.7 77.2 252.6 77.4 252.6 77.6 253 77.2 252.9 77.5 252.9 77.6 253.3 77.3 253.3 77.4 253.1 77.8 253.4 77.6 253.3 77.8 253.6 77.7 253.8 77.5 253.7 77.8 254.1 77.5 254.1 77.7 253.9 77.9 254.2 77.8 254.6 77.6 254.6 77.7 254.4 78 254.6 77.9 254.7 78 254.9 77.9 254.8 78.2 255.2 78 255.3 78 255.2 78.3 255.4 78.2 255.7 78.2 255.8 78.2 255.5 78.6 255.5 78.7 256.1 78.4 255.9 78.7 256 78.7 256 78.9 256.6 78.7 256.5 78.9 256.9 78.8 257.1 78.8 257.2 78.9 257.4 79 257.9 78.9 258.3 79 258.5 79.1 259.1 79 259.1 79.1 259.4 79.2 259.9 79.2M259 59.5 259.1 60.2 259 61.1 258.5 61.1 258 61.6 257.8 61.2 257.4 61.3 257.2 60.8 256.8 61.2 256.5 60.9 256.1 60.9 255.8 60.4 255.4 60.6 255.2 60.1 255 59.4 255.5 59.1 255.9 58.7 256.3 58.5 256.8 58.2 257.2 58.1 257.6 58.3 257.9 58.6 258.3 58.6 258.5 59 259 59.5M247.4 71.8 247.4 72.2 247.3 72.6 247.3 73.1 247.2 73.1 247 73.1 246.9 73.1 246.9 73.7 246.7 73.5 246.6 73.7 246.6 74.1 246.4 74 246.2 73.8 246.2 74.2 246 74 245.7 73.7 245.8 74.3 245.5 74.1 245.2 73.8 245.2 74.1 245.1 73.6 245.1 73.3 245.2 73 245.2 72.8 245.2 72.3 245.4 72.2 245.5 72.2 245.3 71.3 245.5 71.2 245.7 71.1 245.6 70.5 245.8 70.3 246.1 70.6 246.3 70.7 246.6 71 246.9 71.2 247.2 71.5 247.4 71.8M242.9 76.4 242.7 76.4 242.7 76.6 243 76.9 242.8 76.9 242.7 77.1 243 77.4 242.8 77.4 242.7 77.5 242.5 77.5 242.6 77.7 242.7 77.9 242.2 77.8 242.2 77.9 242 77.9 242.1 78.1 242.1 78.3 241.8 78.2 242.1 78.5 241.6 78.4 241.9 78.6 241.4 78.6 241.7 78.5 241.2 78.2 241.5 78.2 241.4 78 241.5 77.8 241.7 77.8 241.8 77.7 241.5 77.4 241.9 77.5 242 77.4 241.8 77.1M235.6 71.7 235.9 72.2 236.1 72.6 236.6 73.2 236.7 73.5 237 74 237.5 74.5 238 75 237.9 75.2 238 75.5 238.3 75.9 237.9 75.9 238.1 76.2 238.2 76.5 238 76.6 238.1 76.8 238.4 77.2 238 77.2 238.2 77.5 238 77.6 238.2 77.9 238.1 78 237.8 77.7 237.7 77.4 237.3 77 237 76.7 237 76.4 236.6 76 236.6 75.8 236.7 75.6 236.4 75.2 236.4 74.9 236 74.5 235.5 73.9 235.3 73.5 234.7 72.9 234.8 72.7 234.6 72.2 234.8 72 234.7 71.7 234.8 71.4 235.6 71.7M238.7 83.4 239.2 83.5 239.5 83.7 239.9 83.8 240.6 83.7 240.6 83.9 240.2 84.1 240.2 84.2 240.2 84.4 240.2 84.5 240.4 84.7 240 84.9 239.9 85.1 239.1 85.3 238.5 85.2 238.1 85.2 238.6 84.9 238.7 84.7 238.6 84.5 238.1 84.4 238.2 84.2 238 84.1 238.2 83.9 238.1 83.7 238.7 83.4M239.7 93 239.7 93.3 240 93.4 240.3 93.3 240.7 93.2 240.7 93.5 241 93.3 241 93.7 241.2 93.8 241.6 93.6 241.5 94.1 241.9 93.9 242 94.1 242.1 94.3 242 94.1 241.5 94.4 241.3 94.4 241 94.4 240.5 94.7 240.6 94.2 240.3 94.2 239.8 94.4 239.6 94.4 239.8 93.8 239.9 93.5 239.8 93.2 239.7 93M249.7 100.1 250 100.5 250.3 100.4 249.2 100.6 249 100.2 249.7 100.1M222.6 116.9 223.4 116.4 224.1 115.9 224.7 115.3 225.5 115 226 115.1 226.4 114.2 226.4 113.4 226.8 112.6 227.2 111.7 227.7 110.9 228.4 110.2 228 110.2 227.1 110.8 226.4 111.6 226 112.4 225.5 113.1 225 113.7 224.7 114.6 224 115.2 223.3 116 222.6 116.8 222.6 116.9M218.2 119.8 219.2 120.2 220 120.6 220.8 121.1 221.6 121 222.4 120.7 223.1 120.9 222.9 119.8 222.4 119.1 222.2 118.3 222.2 117.3 221 118.4 219.8 118.4 218.5 119.1 218.2 119.8M206 120.2 206.9 120.8 207.8 121.4 208.3 122.4 208.5 123.5 209.6 123.7 210.5 124.2 211.5 124.4 212.2 125.2 213.2 125.4 214.6 125.5 215.2 124.6 215.7 123.7 217.1 123.3 217.6 122.2 218.5 121.5 219.1 120.6 217.9 120.2 216.8 121.5 215.9 121.9 214.9 122.3 213.8 122.3 212.8 121.9 211.9 122.3 211 122.3 210 122 209.7 120.9 208.8 120.4 207.7 120.1 206.4 119.9 206 120.2M204.7 119.8 203.9 120.7 203.2 121.8 204 122.5 205.5 121.7 206.1 120.3 204.7 119.8M206.4 122 207.6 122.4 208.5 123.1 208.6 122.3 207.5 121.7 206.4 122M188.2 119.6 189.6 119.4 190.9 119 190.7 118 189.2 118.4 187.7 118.3M253.4 43.4 252.8 43.5 252.1 43.5 251.5 43.9 250.9 43.7 250.4 44.4 249.7 44.3 249.2 44.5 248.6 44.5 248.4 46.1 249.3 46.8 249.6 47.9 250 48.5 250.4 49.1 250.9 49.7 250.5 51.1 251.1 52.2 251.6 52.3 252.1 52.3 252.8 51.2 252.7 49.6 252.3 48.6 251.8 48.6 251.3 48.3 251.6 46.8 252.4 46.8 252.2 45.7 253 45.2 252.2 45 251.5 44.8 252.5 44.4 253.4 43.4M253.4 45.5 253.3 46.9 252.9 48.4 253.4 48.7 253.8 49.1 254.6 48.6 255.1 48.6 255.6 48.1 255.6 46.9 256.2 45.7 255.7 45.4 255.1 45.3 254.3 45.3 253.6 45.8 253.4 45.5M238.2 31.1 237.4 30.9 236.8 31.7 236 31.6 235.4 32.1 235.4 31.1 235.4 30.2 236.3 30.2 237.2 30.4 238.1 30.8 238.2 31.1M242 31.5 240.9 31.8 241 33 241.1 34.1 241.8 33.9 242.5 33.7 242 32.7 242 31.5M242.2 34.5 241.5 34.4 241.7 36.2 242.2 34.5M227.2 31.3 224.7 32.3 226.2 31.3 227.2 31.3M219.3 34.8 218.1 36.8 218.2 35.2 219.3 34.8M216.4 51.6 216.6 52.5 216.5 53.3 217 54.2 216.8 54.9 216.3 55.3 216.2 56 215.1 56.6 213.8 55.6 213.7 54.8 214.2 54.2 213.3 53.8 212.5 54 211.7 53.7 210.3 52.7 209.3 53.2 208.4 52.1 207.4 51.3 206.3 51 206.2 50.1 206.6 49.4 207.2 48.8 208.3 48.6 209 47.9 210.3 48.2 211 49.1 211.5 50 212.4 50.4 213.3 50.5 214.9 50.8 216.4 51.6M212.8 60 212.1 60.5 211.9 61.2 211.6 61.9 210.9 61.1 209.9 60.5 209.8 59.6 210 58.8 211.4 59.1 212.8 60M213.1 91.6 213.7 92.1 214.3 92.6 214.6 93.1 215.3 93.4 215.7 93.8 216.5 93.9 217.3 93.8 218.1 93.7 217.7 93.7 216.7 93.8 216.3 93.2 215.3 93.3 214.6 92.8 213.7 92.4 213.1 91.6M208.5 70.4 208 70.9 207.8 71.5 207.3 72 207.2 72.7 207.5 73.5 207.3 74.3 207.6 73.7 207.5 73.1 207.3 72.5 207.8 72 207.9 71.3 208.5 70.4M226.6 39.3 225.7 39.7 225.2 40.4 224.2 40.4 223.5 40.8 223.5 41.9 223 42.4 222.2 42.7 221.4 43.1 220.8 43.6 219.9 43.4 219.1 43.6 218.8 44.4 217.9 44.4 217.5 45.1 217.3 46.1 218.2 47.1 219.2 46.7 220.3 47.1 221.2 47 222.1 46.7 223 46.7 223.5 46.1 224.2 45.6 224.5 44.7 225.8 45.2 225.4 46.1 226.3 46.1 227 45.9 227.5 45.1 227.5 43.9 227.6 42.6 227.5 41 227 40 226.6 39.3M224 46.1 223.1 46.8 223.1 47.8 223.2 48.8 222.9 49.6 223.3 49 223.8 48.4 223.7 47.5 223.7 46.7 224 46.1M292.3 84.1 292.1 83.3 292.5 82.5 292.2 81.7 291.5 81 291.8 80.3 292.3 79.5 292.4 78.4 291.3 78.7 290.7 79.2 290.1 79.7 290.6 80.2 290.2 80.8 290.4 81.4 291 82.1 291.4 82.8 291.9 83.4 292.3 84.1M297.9 80.7 296.4 80.5 294.8 80.9 294.1 80.4 293.2 80.2 292.8 79.5 293.2 78.7 293.8 79.2 294.7 79.5 295.8 79.4 296.9 79.5 297.6 80 297.9 80.7M293.2 78.3 292.7 77.6 292.9 76.8 292.8 76 292.8 75.3 293.9 74.7 293.8 75.4 293.8 76 294.7 75.9 295.6 75.8 296.1 76.4 295.3 77.3 294.5 77.2 294 77.8 293.2 78.3M297.6 76.9 297.9 76.2 297.6 75.5 297 74.8 296.8 74 295.9 73.5 296.3 74.7 296.7 75.4 297.2 76.2 297.6 76.9M295.4 74.2 295.1 73.5 295 72.8 294.9 72.1 294.5 71.5 293.9 71.8 294.3 72.5 294.9 73.2 294.9 74 295.4 74.2M274.4 95.2 274.7 94.9 274.4 94.3 274.5 94 275.2 93.8 275 93.3 274.6 92.8 274.5 92.2 274.3 91.7 274.1 91.2 273.7 91.5 274.2 92.1 273.8 92.4 273.8 92.8 274.1 93.4 274.1 94 274.2 94.5 274.4 95.2M269.1 96.2 269.4 96 269.3 95.5 269.6 95.3 269.4 94.8 269.7 94.6 269.8 94.2 269.6 93.7 269.2 93.2 269.2 93.6 268.8 93.7 268.3 93.8 268.5 94.4 268.4 94.8 268.3 95.2 268.6 95.7 269.1 96.2M288 87.2 286.4 86.7 285.8 87.1 285.1 87.4 284.4 87.7 285.3 87.4 286.4 87.4 288 87.2M277.5 93.2 277.8 91.7 277.8 91.1 277.7 92.8M257.2 117.2 257.7 116.6M255.8 118.3 256.6 117.6M253.7 119.2 254.6 118.9M251.5 119.8 252.4 119.7M249.2 119.8 250.5 120M247.9 119.7 248.5 120M244.8 118.4 245.7 118.8M223.4 120.9 224.4 120.9M225.4 120.7 226.5 120.5M227.2 120.4 228.2 120.2M229.3 120.1 230 119.9M231 119.6 231.7 119.2M232.4 118.8 233.3 118.3M233.7 118 234.2 117.8M202.7 40.4 202.8 41.2 201.7 42.4 200.1 42.2 198.6 42 197.9 42.7 196.9 42.8 196 43.2 195.3 43.8 195.2 45 194.7 45.9 193.6 45.6 192.5 45.9M203.1 39.9 200.9 39.5 199 39.3 196.9 39.2M216 29.9 215 28.9 213.7 28.4 212.5 27.5 211.3 26.9 210.2 25.9 208.8 25.4 207.6 24.5 206.2 23.9M213.5 30.8 212.1 29.5 210.8 28.7 209.4 28.3 208.1 27.6 206.8 26.9 205.3 26.5 203.9 25.7M215.8 29.8 213.7 28.7 212.8 28.7 213.5 30.8M192.5 45.9 191.5 46.5 191 47.6 190.3 48.4 189.6 49.3 189.5 50.4 188.9 51.2 188.5 52.1 188 52.9 187.1 53.6 187 54.7 186.4 55.5 185.3 55.9 183.6 56.5M193.6 45.2 191.6 44.2 189.1 45.5 187.1 46.2M270.6 13.7 269.3 14 268.8 15.1 267.7 15.5 267.4 17 266.3 17.4 265.2 18 264.2 18.9 262.4 18.9" stroke="#2a2a2a" stroke-width="0.55" fill="none" stroke-linejoin="round"/></g>
<circle cx="249.5" cy="82.5" r="2.1" fill="#fff"/>
<path d="M243.2 100.1A18.7 18.7 0 0 0 255.8 100.1L254.2 91.2A9.9 9.9 0 0 1 244.8 91.2Z" stroke="#111" stroke-width="0.9" fill="none" stroke-linejoin="round"/>
<path d="M260.3 143.9 264.3 143.1 268.3 142 272.1 140.6 275.9 139 279.5 137.2 283 135.1 286.4 132.8 289.6 130.3 274.8 112.6 272.7 114.2 270.6 115.7 268.4 117 266.1 118.1 263.7 119.1 261.3 120 258.8 120.7 256.3 121.2Z" stroke="#111" stroke-width="0.9" fill="none"/>
<circle cx="249.5" cy="82.5" r="68.7" stroke="#222" stroke-width="0.9" fill="none"/>
<text transform="translate(292.3,99.4) rotate(-78)" font-size="6.9" font-weight="bold" text-anchor="middle" fill="#111">NA</text>
<text x="37.8" y="9.3" font-size="10.5" text-anchor="start" font-weight="bold" fill="#111" textLength="115.9" lengthAdjust="spacingAndGlyphs">a) Trend (1979-2021 DJF)</text>
<text x="191.9" y="9.3" font-size="10.5" text-anchor="start" font-weight="bold" fill="#111" textLength="115.9" lengthAdjust="spacingAndGlyphs">b) Trend (1995-2021 DJF)</text>
<linearGradient id="cb1" x1="0" y1="0" x2="0" y2="1">
<stop offset="0.000" stop-color="#dd2c24"/>
<stop offset="0.050" stop-color="#e0413a"/>
<stop offset="0.100" stop-color="#e45650"/>
<stop offset="0.150" stop-color="#e76b66"/>
<stop offset="0.200" stop-color="#eb807c"/>
<stop offset="0.250" stop-color="#ee9692"/>
<stop offset="0.300" stop-color="#f1aba7"/>
<stop offset="0.350" stop-color="#f5c0bd"/>
<stop offset="0.400" stop-color="#f8d5d3"/>
<stop offset="0.450" stop-color="#fceae9"/>
<stop offset="0.500" stop-color="#ffffff"/>
<stop offset="0.550" stop-color="#eef3f9"/>
<stop offset="0.600" stop-color="#dee7f4"/>
<stop offset="0.650" stop-color="#cddbee"/>
<stop offset="0.700" stop-color="#bccfe8"/>
<stop offset="0.750" stop-color="#acc4e2"/>
<stop offset="0.800" stop-color="#9bb8dd"/>
<stop offset="0.850" stop-color="#8aacd7"/>
<stop offset="0.900" stop-color="#79a0d1"/>
<stop offset="0.950" stop-color="#6994cc"/>
<stop offset="1.000" stop-color="#5888c6"/>
</linearGradient>
<rect x="324.5" y="32.5" width="8.3" height="100.2" fill="url(#cb1)"/>
<line x1="330.8" x2="332.8" y1="32.5" y2="32.5" stroke="#555" stroke-width="0.5"/>
<text x="335.8" y="35.9" font-size="9.5" text-anchor="start" font-weight="normal" fill="#222">2</text>
<line x1="330.8" x2="332.8" y1="57.5" y2="57.5" stroke="#555" stroke-width="0.5"/>
<text x="335.8" y="60.9" font-size="9.5" text-anchor="start" font-weight="normal" fill="#222">1</text>
<line x1="330.8" x2="332.8" y1="82.6" y2="82.6" stroke="#555" stroke-width="0.5"/>
<text x="335.8" y="86" font-size="9.5" text-anchor="start" font-weight="normal" fill="#222">0</text>
<line x1="330.8" x2="332.8" y1="107.6" y2="107.6" stroke="#555" stroke-width="0.5"/>
<text x="335.3" y="111" font-size="9.5" text-anchor="start" font-weight="normal" fill="#222">-1</text>
<line x1="330.8" x2="332.8" y1="132.7" y2="132.7" stroke="#555" stroke-width="0.5"/>
<text x="335.3" y="136.1" font-size="9.5" text-anchor="start" font-weight="normal" fill="#222">-2</text>
<text x="311.1" y="143.7" font-size="8.4" text-anchor="start" font-weight="normal" fill="#222" textLength="33.2" lengthAdjust="spacingAndGlyphs">C/decade</text>
<text x="307.9" y="139.7" font-size="5.6" text-anchor="start" font-weight="normal" fill="#222">o</text>
<text x="381.9" y="11.7" font-size="10.5" text-anchor="start" font-weight="bold" fill="#111" textLength="8.3" lengthAdjust="spacingAndGlyphs">c)</text>
<line x1="384" x2="642.8" y1="120.9" y2="120.9" stroke="#999" stroke-width="0.8" stroke-dasharray="3,3"/>
<line x1="482.6" x2="482.6" y1="23.8" y2="145.2" stroke="#777" stroke-width="0.8"/>
<line x1="384" y1="112.2" x2="482.6" y2="119.1" stroke="#e8302a" stroke-width="1.2"/>
<line x1="482.6" y1="119.1" x2="642.8" y2="81.3" stroke="#e8302a" stroke-width="1.2"/>
<polyline points="384,121.9 390.2,101 396.3,100 402.5,119.7 408.6,117.5 414.8,109.7 421,113.1 427.1,127.2 433.3,116 439.5,101.5 445.6,131.1 451.8,130.6 457.9,121.4 464.1,113.6 470.3,106.8 476.4,116 482.6,99.5 488.8,109.2 494.9,133 501.1,126.2 507.2,125.8 513.4,92.7 519.6,130.6 525.7,99.5 531.9,111.2 538,110.2 544.2,95.2 550.4,100 556.5,98.3 562.7,98.1 568.9,91.3 575,86.4 581.2,107.3 587.3,118.5 593.5,73.3 599.7,89.3 605.8,83 612,71.4 618.2,46.1 624.3,91.3 630.5,98.6 636.6,92.2 642.8,104.4" fill="none" stroke="#333" stroke-width="0.8"/>
<circle cx="384" cy="121.9" r="1.3" fill="#999" stroke="#333" stroke-width="0.5"/>
<circle cx="390.2" cy="101" r="1.3" fill="#999" stroke="#333" stroke-width="0.5"/>
<circle cx="396.3" cy="100" r="1.3" fill="#999" stroke="#333" stroke-width="0.5"/>
<circle cx="402.5" cy="119.7" r="1.3" fill="#999" stroke="#333" stroke-width="0.5"/>
<circle cx="408.6" cy="117.5" r="1.3" fill="#999" stroke="#333" stroke-width="0.5"/>
<circle cx="414.8" cy="109.7" r="1.3" fill="#999" stroke="#333" stroke-width="0.5"/>
<circle cx="421" cy="113.1" r="1.3" fill="#999" stroke="#333" stroke-width="0.5"/>
<circle cx="427.1" cy="127.2" r="1.3" fill="#999" stroke="#333" stroke-width="0.5"/>
<circle cx="433.3" cy="116" r="1.3" fill="#999" stroke="#333" stroke-width="0.5"/>
<circle cx="439.5" cy="101.5" r="1.3" fill="#999" stroke="#333" stroke-width="0.5"/>
<circle cx="445.6" cy="131.1" r="1.3" fill="#999" stroke="#333" stroke-width="0.5"/>
<circle cx="451.8" cy="130.6" r="1.3" fill="#999" stroke="#333" stroke-width="0.5"/>
<circle cx="457.9" cy="121.4" r="1.3" fill="#999" stroke="#333" stroke-width="0.5"/>
<circle cx="464.1" cy="113.6" r="1.3" fill="#999" stroke="#333" stroke-width="0.5"/>
<circle cx="470.3" cy="106.8" r="1.3" fill="#999" stroke="#333" stroke-width="0.5"/>
<circle cx="476.4" cy="116" r="1.3" fill="#999" stroke="#333" stroke-width="0.5"/>
<circle cx="482.6" cy="99.5" r="1.3" fill="#999" stroke="#333" stroke-width="0.5"/>
<circle cx="488.8" cy="109.2" r="1.3" fill="#999" stroke="#333" stroke-width="0.5"/>
<circle cx="494.9" cy="133" r="1.3" fill="#999" stroke="#333" stroke-width="0.5"/>
<circle cx="501.1" cy="126.2" r="1.3" fill="#999" stroke="#333" stroke-width="0.5"/>
<circle cx="507.2" cy="125.8" r="1.3" fill="#999" stroke="#333" stroke-width="0.5"/>
<circle cx="513.4" cy="92.7" r="1.3" fill="#999" stroke="#333" stroke-width="0.5"/>
<circle cx="519.6" cy="130.6" r="1.3" fill="#999" stroke="#333" stroke-width="0.5"/>
<circle cx="525.7" cy="99.5" r="1.3" fill="#999" stroke="#333" stroke-width="0.5"/>
<circle cx="531.9" cy="111.2" r="1.3" fill="#999" stroke="#333" stroke-width="0.5"/>
<circle cx="538" cy="110.2" r="1.3" fill="#999" stroke="#333" stroke-width="0.5"/>
<circle cx="544.2" cy="95.2" r="1.3" fill="#999" stroke="#333" stroke-width="0.5"/>
<circle cx="550.4" cy="100" r="1.3" fill="#999" stroke="#333" stroke-width="0.5"/>
<circle cx="556.5" cy="98.3" r="1.3" fill="#999" stroke="#333" stroke-width="0.5"/>
<circle cx="562.7" cy="98.1" r="1.3" fill="#999" stroke="#333" stroke-width="0.5"/>
<circle cx="568.9" cy="91.3" r="1.3" fill="#999" stroke="#333" stroke-width="0.5"/>
<circle cx="575" cy="86.4" r="1.3" fill="#999" stroke="#333" stroke-width="0.5"/>
<circle cx="581.2" cy="107.3" r="1.3" fill="#999" stroke="#333" stroke-width="0.5"/>
<circle cx="587.3" cy="118.5" r="1.3" fill="#999" stroke="#333" stroke-width="0.5"/>
<circle cx="593.5" cy="73.3" r="1.3" fill="#999" stroke="#333" stroke-width="0.5"/>
<circle cx="599.7" cy="89.3" r="1.3" fill="#999" stroke="#333" stroke-width="0.5"/>
<circle cx="605.8" cy="83" r="1.3" fill="#999" stroke="#333" stroke-width="0.5"/>
<circle cx="612" cy="71.4" r="1.3" fill="#999" stroke="#333" stroke-width="0.5"/>
<circle cx="618.2" cy="46.1" r="1.3" fill="#999" stroke="#333" stroke-width="0.5"/>
<circle cx="624.3" cy="91.3" r="1.3" fill="#999" stroke="#333" stroke-width="0.5"/>
<circle cx="630.5" cy="98.6" r="1.3" fill="#999" stroke="#333" stroke-width="0.5"/>
<circle cx="636.6" cy="92.2" r="1.3" fill="#999" stroke="#333" stroke-width="0.5"/>
<circle cx="642.8" cy="104.4" r="1.3" fill="#999" stroke="#333" stroke-width="0.5"/>
<rect x="384" y="23.8" width="258.8" height="121.4" fill="none" stroke="#333" stroke-width="0.9"/>
<path d="M384 145.2v-1.6M384 23.8v1.6M390.2 145.2v-2.6M390.2 23.8v2.6M396.3 145.2v-1.6M396.3 23.8v1.6M402.5 145.2v-1.6M402.5 23.8v1.6M408.6 145.2v-1.6M408.6 23.8v1.6M414.8 145.2v-1.6M414.8 23.8v1.6M421 145.2v-2.6M421 23.8v2.6M427.1 145.2v-1.6M427.1 23.8v1.6M433.3 145.2v-1.6M433.3 23.8v1.6M439.5 145.2v-1.6M439.5 23.8v1.6M445.6 145.2v-1.6M445.6 23.8v1.6M451.8 145.2v-2.6M451.8 23.8v2.6M457.9 145.2v-1.6M457.9 23.8v1.6M464.1 145.2v-1.6M464.1 23.8v1.6M470.3 145.2v-1.6M470.3 23.8v1.6M476.4 145.2v-1.6M476.4 23.8v1.6M482.6 145.2v-2.6M482.6 23.8v2.6M488.8 145.2v-1.6M488.8 23.8v1.6M494.9 145.2v-1.6M494.9 23.8v1.6M501.1 145.2v-1.6M501.1 23.8v1.6M507.2 145.2v-1.6M507.2 23.8v1.6M513.4 145.2v-2.6M513.4 23.8v2.6M519.6 145.2v-1.6M519.6 23.8v1.6M525.7 145.2v-1.6M525.7 23.8v1.6M531.9 145.2v-1.6M531.9 23.8v1.6M538 145.2v-1.6M538 23.8v1.6M544.2 145.2v-2.6M544.2 23.8v2.6M550.4 145.2v-1.6M550.4 23.8v1.6M556.5 145.2v-1.6M556.5 23.8v1.6M562.7 145.2v-1.6M562.7 23.8v1.6M568.9 145.2v-1.6M568.9 23.8v1.6M575 145.2v-2.6M575 23.8v2.6M581.2 145.2v-1.6M581.2 23.8v1.6M587.3 145.2v-1.6M587.3 23.8v1.6M593.5 145.2v-1.6M593.5 23.8v1.6M599.7 145.2v-1.6M599.7 23.8v1.6M605.8 145.2v-2.6M605.8 23.8v2.6M612 145.2v-1.6M612 23.8v1.6M618.2 145.2v-1.6M618.2 23.8v1.6M624.3 145.2v-1.6M624.3 23.8v1.6M630.5 145.2v-1.6M630.5 23.8v1.6M636.6 145.2v-2.6M636.6 23.8v2.6M642.8 145.2v-1.6M642.8 23.8v1.6M384 145.2h2.6M642.8 145.2h-2.6M384 120.9h2.6M642.8 120.9h-2.6M384 96.6h2.6M642.8 96.6h-2.6M384 72.3h2.6M642.8 72.3h-2.6M384 48.1h2.6M642.8 48.1h-2.6M384 23.8h2.6M642.8 23.8h-2.6" stroke="#333" stroke-width="0.7" fill="none"/>
<text x="390.2" y="157.6" font-size="10" text-anchor="middle" font-weight="normal" fill="#222" textLength="20.5" lengthAdjust="spacingAndGlyphs">1980</text>
<text x="421" y="157.6" font-size="10" text-anchor="middle" font-weight="normal" fill="#222" textLength="20.5" lengthAdjust="spacingAndGlyphs">1985</text>
<text x="451.8" y="157.6" font-size="10" text-anchor="middle" font-weight="normal" fill="#222" textLength="20.5" lengthAdjust="spacingAndGlyphs">1990</text>
<text x="482.6" y="157.6" font-size="10" text-anchor="middle" font-weight="normal" fill="#222" textLength="20.5" lengthAdjust="spacingAndGlyphs">1995</text>
<text x="513.4" y="157.6" font-size="10" text-anchor="middle" font-weight="normal" fill="#222" textLength="20.5" lengthAdjust="spacingAndGlyphs">2000</text>
<text x="544.2" y="157.6" font-size="10" text-anchor="middle" font-weight="normal" fill="#222" textLength="20.5" lengthAdjust="spacingAndGlyphs">2005</text>
<text x="575" y="157.6" font-size="10" text-anchor="middle" font-weight="normal" fill="#222" textLength="20.5" lengthAdjust="spacingAndGlyphs">2010</text>
<text x="605.8" y="157.6" font-size="10" text-anchor="middle" font-weight="normal" fill="#222" textLength="20.5" lengthAdjust="spacingAndGlyphs">2015</text>
<text x="636.6" y="157.6" font-size="10" text-anchor="middle" font-weight="normal" fill="#222" textLength="20.5" lengthAdjust="spacingAndGlyphs">2020</text>
<text x="380.4" y="27.3" font-size="10" text-anchor="end" font-weight="normal" fill="#222">2</text>
<text x="380.4" y="51.6" font-size="10" text-anchor="end" font-weight="normal" fill="#222" textLength="12.2" lengthAdjust="spacingAndGlyphs">1.5</text>
<text x="380.4" y="75.8" font-size="10" text-anchor="end" font-weight="normal" fill="#222">1</text>
<text x="380.4" y="100.1" font-size="10" text-anchor="end" font-weight="normal" fill="#222" textLength="12.2" lengthAdjust="spacingAndGlyphs">0.5</text>
<text x="380.4" y="124.4" font-size="10" text-anchor="end" font-weight="normal" fill="#222">0</text>
<text x="380.4" y="148.7" font-size="10" text-anchor="end" font-weight="normal" fill="#222" textLength="15.4" lengthAdjust="spacingAndGlyphs">-0.5</text>
<g transform="translate(358.6,82.0) rotate(-90)"><text x="0" y="0" font-size="10" text-anchor="middle" fill="#222">C</text></g>
<g transform="translate(353.6,87.7) rotate(-90)"><text x="0" y="0" font-size="7.5" text-anchor="middle" fill="#222">o</text></g>
<text x="390.9" y="40.2" font-size="9.5" text-anchor="start" font-weight="normal" fill="#222" textLength="48.6" lengthAdjust="spacingAndGlyphs">trend = - 0.01</text>
<text x="448.3" y="40.2" font-size="9.5" text-anchor="start" font-weight="normal" fill="#222" textLength="28.5" lengthAdjust="spacingAndGlyphs">p &gt; 0.05</text>
<text x="390.9" y="51.2" font-size="9.5" text-anchor="start" font-weight="normal" fill="#222" textLength="45.5" lengthAdjust="spacingAndGlyphs">mean = 0.11</text>
<text x="442" y="51.2" font-size="9.5" text-anchor="start" font-weight="normal" fill="#222" textLength="34.8" lengthAdjust="spacingAndGlyphs">std = 0.20</text>
<text x="489.1" y="40.2" font-size="9.5" text-anchor="start" font-weight="normal" fill="#222" textLength="43.9" lengthAdjust="spacingAndGlyphs">trend = 0.03</text>
<text x="539.5" y="40.2" font-size="9.5" text-anchor="start" font-weight="normal" fill="#222" textLength="28.9" lengthAdjust="spacingAndGlyphs">p &lt; 0.01</text>
<text x="489.1" y="51.2" font-size="9.5" text-anchor="start" font-weight="normal" fill="#222" textLength="44.3" lengthAdjust="spacingAndGlyphs">mean = 0.44</text>
<text x="540.4" y="51.2" font-size="9.5" text-anchor="start" font-weight="normal" fill="#222" textLength="35.6" lengthAdjust="spacingAndGlyphs">std = 0.39</text>
<clipPath id="rcd"><rect x="26.4" y="190.4" width="280" height="140.8"/></clipPath>
<g clip-path="url(#rcd)">
<path d="M41.1 190.4V330.4M85.3 195.4V330.4M129.6 286.4V318.4M129.6 326.4V330.4M173.8 300.4V319.4M173.8 325.4V330.4M218 190.4V275.4M218 305.4V330.4M262.2 190.4V206.4M262.2 277.4V284.4M262.2 305.4V330.4M306.4 190.4V214.4M306.4 272.4V285.4M306.4 302.4V330.4M26.4 298.7H91.4M126.4 298.7H162.4M37.4 266.2H95.4M213.4 266.2H223.4M36.4 233.7H89.4M210.4 233.7H219.4M26.4 201.2H95.4M199.4 201.2H270.4M292.4 201.2H306.4" stroke="#dcdcdc" stroke-width="0.5" fill="none"/>
<path d="M26.25 329H304.21M26.25 324.7H304.21M26.25 320.4H304.21M26.25 316H304.21M26.25 311.7H304.21M26.25 307.4H304.21M26.25 303H304.21M26.25 298.7H304.21M26.25 294.4H304.21M26.25 290H304.21M141.20 285.7H212.84M129.41 281.4H212.84M117.62 277H209.90M111.72 272.7H209.90M108.78 268.4H206.95M241.41 268.4H286.53M105.83 264H206.95M235.51 264H295.37M102.88 259.7H206.95M229.62 259.7H301.27M102.88 255.4H204.00M229.62 255.4H304.21M102.88 251.1H204.00M226.67 251.1H304.21M99.93 246.7H204.00M226.67 246.7H304.21M99.93 242.4H204.00M229.62 242.4H304.21M99.93 238.1H204.00M229.62 238.1H304.21M99.93 233.7H204.00M232.57 233.7H304.21M99.93 229.4H201.05M238.46 229.4H301.27M99.93 225.1H201.05M244.36 225.1H292.42M102.88 220.7H198.11M259.09 220.7H277.69M102.88 216.4H198.11M105.83 212.1H195.16M108.78 207.7H189.27M114.67 203.4H186.32M117.62 199.1H180.42M123.51 194.7H177.48" stroke="#6e6e6e" stroke-width="0.9" stroke-dasharray="0.9 2.047" fill="none"/>
<path d="M272.2 331.2 270.3 329.5 268.1 329.3 265.9 329.5 264.4 329 264.8 326.4 265.7 323.6 265.9 320.4 266.6 317.1 264.4 317.3 263.1 318.4 261.6 318.4 261.3 321.5 260 323.6 258.5 323.4 256.3 324.3 254.8 323.4 252.9 321.5 252 320 251.4 318.2 250.7 315 250.9 312.8 250.8 310.6 251.4 307.4 251.4 304.1 252.6 302.4 254 301.5 255.1 300 256.6 299.4 257.9 299.5 259.2 299.6 261.5 300.7 263.4 300.4 262.8 298.3 264.8 297.8 266.6 297.8 268.5 298.5 270.3 298.7 271.6 299.6 272.8 302 273.1 304.1 274.3 306.9 275.3 309.1 276.5 308.9 276.9 306.3 276.6 304.4 276 302.6 275.2 300.8 274.9 298.7 275 296.1 276.2 293.7 278.1 291.8 280 290.3 281.8 288.5 283.6 287.4 283.4 285.4 282.8 283.5 283.6 280.9 284.4 279.4 285.5 277.7 285.8 275.7 287.4 274.4 288.6 274.2 289.7 273.8 291.7 273.4 290.8 272.1 290.6 270.8 292.4 268.6 293.6 267.8 294.9 267.3 296.8 265.8 298.3 265.1 299.8 265.6 298.5 266.7 297.3 267.7 298.3 269.5 299.9 268.6 301.2 267.1 302.8 266.1 304.5 265.8 306.4 264 304.9 264.9 303.4 264.9 302 264.5 300.2 263.4 299.3 261.7 298.3 259.7 300.2 258.4 299 257.1 297.8 256.9 296.6 258 295.3 257.6 294.1 259.6 292.4 260.4 291.3 261.7 289.9 262.3 290.5 260.4 291.7 259.3 292.9 258.3 293.9 256.9 295.3 255.6 296.8 255 298 254.3 299.3 254.5 300.5 254.7 301.7 254.8 302.9 255.5 304.2 255 305.7 254.8 307.1 254.5 308.3 253.6 309.4 252.5 310.8 252.4 312.7 250.6 312 247.4 310.5 247.1 309.3 245.6 307.9 244.5 306.4 243.5 305.1 242.8 304.2 241.3 302.7 239.1 301.8 237.1 300.5 235.5 299 233.3 298.5 235 297.6 236.3 296.2 236.8 294.9 237.2 293.8 235.9 292.4 235.9 291.8 233.8 291.7 231.6 290.2 230.5 288.7 229.8 287.2 229.9 285.7 229.4 284.3 228.7 282.9 228 281.5 228.7 280.2 228.7 280.3 230.5 279.9 232.2 280 234.4 280.6 236.3 281.9 239.1 281.5 240.9 281.3 242.8 280.5 244.4 279 244.8 278.1 246.3 278.5 248.1 278.7 250 277.7 252.1 276.2 252.4 275.1 250.3 273.7 248.9 273.1 246.6 273.5 244.3 272.2 244.7 270.9 244.1 269.6 244.1 268.2 242.7 266.6 242.4 265.2 241.3 263.7 240.7 262.2 240.5 260.7 240.9 259.2 240 258.7 237.9 257.5 236.5 255.6 234.8 256.3 231.6 257.4 229.9 258.5 228.3 259.7 227 261 226.1 262.7 225.4 264.4 224.8 265.4 223.5 266.6 222.9 267.3 220.3 268.6 220 269.7 219.2 271 219.6 272.2 218.8 273.5 218.1 274.7 217.5 274 215.3 273.2 213.1 271.8 213.1 270.3 212.5 268.8 212.5 267.6 213.5 266.3 213.9 265.1 215.1 264 214.2 262.8 213.8 261.5 213.8 259.9 212.5 258.5 211 257.4 210.2 256.6 208.9 255.6 207.9 254.7 209.4 254.8 211.6 254.1 213.1 253.3 216.4 252.2 217.1 250.9 217.3 249.7 216.8 248.2 217.4 246.7 217.6 245.2 217 244 217.5 242.8 216.7 241.6 216.4 240.3 216 239.1 216.3 237.9 215.7 236.4 215.6 234.9 216.2 233.7 216.8 232.4 217 231.1 217.3 229.8 216.8 228.5 216.8 227.1 217.2 225.9 216.5 224.6 216.2 223.4 215.4 222.1 215 220.9 214 219.4 214.3 217.9 213.8 216.5 212.7 215.2 213.3 213.9 212.4 212.6 213.4 211.3 213.4 209.1 213.1 207.7 212 206.2 211 204.7 212.1 203.3 212.5 201.8 212.5 200.3 213.2 198.8 212.5 197.3 213.1 196.2 213.9 194.8 213.4 193.7 214.4 192.5 213.6 191.1 214 190 213.1 188.5 212.7 187 212.7 185.5 212.7 184.1 211.8 182.6 211.2 181.1 211.2 179.7 211.6 178.2 211.8 176.7 210.7 175.2 211.2 173.8 211 172.2 211.2 170.8 210.3 169.3 210.4 167.9 210.3 166.6 210.2 165.5 208.8 164.2 209 162.9 209.7 161.6 210.1 160.3 210.4 159 210.8 157.5 211.3 156 211.9 154.6 212.7 153.3 214.3 151.7 214.4 150.2 214.5 149 215.7 150.9 216.6 152.1 217.9 153.6 217.9 155.3 217.8 156.8 219 156.1 220.5 154.7 219.5 153.1 219.4 151.6 219.3 150.2 220.3 148.6 220.5 147.2 221.6 148.4 221.9 149.5 222.9 151.7 224 152.9 223.3 154.1 224.7 155.3 224 156.6 224.2 157.9 224.2 156.8 226.1 155.3 225.8 153.8 226.4 152.4 227 150.6 228.7 151.4 231.1 153.4 232 154.5 233.2 155.8 233.7 156.4 236.5 157.7 236.4 159 236.8 161.2 236.3 162.7 237 161.2 239.1 160.1 240.1 159 241.3 157.8 241.6 156.8 242.6 155.7 243.4 154.6 244.1 153.1 244.4 152 245.9 153.9 245 156.1 244.6 158.3 243.5 160.5 242.4 161.8 242.1 162.7 240.9 163.6 239.4 164.9 239.1 166.2 238.4 167.1 237 168.6 235.2 170.1 233.1 171.6 231.8 173.8 231.1 172.5 231.7 171.3 232.6 171.6 235.2 173 234.4 174.5 234.2 175.5 233 176.7 232.6 178.1 231.7 179.7 232 181 233.2 182.6 233.5 184.1 233.2 185.6 233.5 187.1 233.1 188.5 234.2 189.5 235.3 190.7 235.5 192.1 236 193.4 237 195.1 237.4 196.4 237.9 197.3 239.1 198.4 240.4 199.6 241.3 201 243.5 202.8 245.6 204 247.8 204.8 249.1 205.9 250 206.9 252.1 205.7 253.7 206.9 255.2 208.4 256.2 209.9 257.6 211.1 258.9 211.8 260.8 212.2 263.6 212.1 265.5 212.1 267.3 211.4 269 211.3 271 211.9 273.4 211.5 276.2 212.4 278.1 213.6 280.7 214.3 281.8 215.2 284.4 216.5 286.8 217.1 288.7 218.7 289.2 220.5 290.5 222.1 292.9 222.8 294.8 223.5 296.3 224.2 297.8 225.6 299.1 226.5 302 225.2 303.5 226.5 304.6 227.5 305.8 228.6 306.9 229.5 310 231.2 311.7 232.7 313.9 232.1 312.3 231.7 310.6 231.1 309 230.5 307.4 229.9 305.6 229 304.1 228.4 302.4 227.6 300.9 226.6 299.5 226.1 297.6 225.6 294.8 227.6 295.9 228.1 297.5 229 298.7 229.8 300.3 230.5 302 232 304.1 233.5 306.3 234.9 308.9 235.6 310.6 236.8 311.3 237.9 312.9 238.6 315 239.6 317.1 239.3 319.7 240.8 322.3 242.3 324.1 243.7 325 245.2 325.6 246.2 326.8 247.5 327.1 248.5 328 249.7 328.4 251.1 329.4 252.6 329.7 254 328.6 255.6 328.8 256.9 330.4 258.5 331.6M24.2 330.6 22.7 328 21.2 325.8 19.8 323.6 20.5 321.5 21.2 319.7 22 318.2 23.2 318 24.2 316.9 26.1 317.3 26.8 319.7 27.1 317.8 28.1 316.7 29.3 316.5 31.6 315.6 33 315.2 35.2 314.1 36.7 312.8 37.7 311.4 38.9 310.6 40.4 308.9 40.8 306.5 42.3 304.1 43.8 302 44.1 299.1 42.6 298.1 43.9 297.6 43.6 297 43.9 295 42.5 293.3 42.2 291.6 41.6 290 40.4 287.4 41.4 286.3 42.3 285.1 43.6 284 44.8 282.9 43.3 282.7 41.9 282 40 283.3 38.9 282.5 37.7 280.3 38.5 279 40 278.1 41.1 276.4 42.9 275.1 44.5 276 43.8 278.1 43.1 279.6 44.8 278.1 46.2 277.3 47.8 277.3 49.2 278.1 48.8 279.9 48.9 281.8 50.4 282 51.2 284 50.9 286.8 50.6 289.2 52.2 288.5 54.4 287.7 55 286.1 54.8 283.5 54.5 281.8 53.7 280.5 52.2 278.1 53.4 277 54.7 276.5 55.6 274.9 56.9 272.1 58.1 270.5 60.3 271 61.4 269.8 62.8 269.6 64 268.8 64.9 266.7 66.2 265.1 67.7 264 68.4 261.9 69.8 260.3 71.1 258.6 71.3 255.4 72.1 252.1 72.1 250.2 72.5 248.5 71.3 247 69.9 246.3 68.4 247.2 66.9 246.7 65.5 244.6 66.3 242.5 67.7 241.3 69.2 240.7 70.4 239.4 71.3 237.6 72.6 236.8 73.6 235.4 75 235.2 76.5 235.4 78 235.7 79.5 235.2 80.9 235.2 82.4 235.7 83.9 234.8 85.3 235.6 86.8 235.6 88.3 235.9 89.5 235.5 90.8 235.6 92 234.8 93.2 233.7 94.1 232.2 94.9 230.5 96.4 230.7 97.9 231.1 99.3 230.9 100.8 229.8 102.3 230.4 103.7 229 105.2 229.4 104.2 231.1 103 232.6 102 233.9 100.8 234.8 99.6 235.5 99.2 237.6 97.9 238.1 96.6 239.1 95.2 239.1 94.5 240.8 94.4 242.7 94.2 244.6 94.4 246.9 94.2 249.3 94.9 251.2 95.2 253.2 95.9 251.3 97.2 250.4 98.2 248.9 98.9 247.3 100.1 246.3 101.3 244.7 102.7 243.5 104.5 241.3 103.9 239.5 103 238.1 104.1 236 105.2 234.2 106.4 233.2 107.6 232.9 108.9 233.1 110.1 233.2 111.3 233.2 112.4 234.2 113.6 234 114.8 233.7 116.2 232.2 117.8 231.6 119.3 230.8 120.7 229.8 122.3 229.8 123.7 228.7 125.1 228.3 126.8 228 128.5 228.3 127.6 226.1 126.6 225 125.9 223.5 128.1 224 130.3 222.9 131.8 223.8 133.2 221.8 134.4 222.5 135.7 222.9 136.9 223.3 138.2 223.6 139.4 223.5 140.6 224.2 141.7 223 142.8 221.8 144.7 220.5 143.6 219.8 142.5 219.3 141.3 218.8 140 217.6 138.5 217.2 136.9 217.5 135.4 217 133.8 216.7 132.5 215.3 129.6 214.4 127.3 213.4 126 213.3 124.8 212.8 123.5 212.2 122.2 212.5 120.9 212.4 119.5 213.1 118.2 212.6 116.9 212.2 115.6 212.1 114.1 214.7 112.7 214.6 111.7 213.1 110.4 212.9 109.2 212.9 108 213.6 106.9 213 105.7 212.9 104.5 212.9 102.9 212.6 101.3 212.9 100.3 211.8 99.3 210.5 98 211.1 96.8 209.5 95.5 210.5 94.2 209.9 92.9 210.4 91.6 210.6 90.3 210.4 89 210.1 87.4 209.8 86.1 208.6 84.6 207.7 83.3 207.7 82 207.4 80.7 206.7 79.3 207.8 78 207.1 76.8 207 75.7 206.2 74.4 206.4 73.3 206.2 72.1 206 69.9 207.1 68.6 207.3 67.3 207.7 66 208.4 64.7 208.8 63.2 209.1 61.8 209.1 60.3 209 58.8 209.6 57.3 210.3 56.5 208.5 55.1 207.7 53.7 205.6 52.5 204.8 51.3 204.4 50 204.5 48.8 204.8 47.7 205.5 46.5 205.6 45.3 205.8 44.1 205.6 42.9 205.9 41.8 204.8 40.5 205.6 39.4 205.1 38.2 204.7 37 204 35.9 203.8 34.7 203.7 33.5 204.7 32.3 204.3 30.8 203.9 29.3 203.7 27.9 204.3 29.3 203.1 30.8 202.3 31.6 199.3 30.4 198.5 29.2 197.6 27.9 197.8 26.4 197.2 24.9 197.7 23.5 197.5 22 196.9 20.7 195.9 19.4 195.6 18 195.4 16.8 196.1 15.6 196.1 14.3 196.3 13.1 196.9 11.7 197.5 10.2 198.2 9 197.6 7.8 198.3 6.6 198.5 5.4 198.2 4.3 198.8 3 198.4 1.9 199.8 0.6 199.4 -0.6 199.1 -1.8 199.9 -3.1 199.9 -4.5 200.8 -6.1 200.1 -7.5 201.2 -8.2 203.8 -9.5 203.2 -10.8 203.4 -12.1 204.3 -13.4 204 -14.6 203.7 -15.8 204.6 -17.1 204.5 -18.1 205.8 -19.3 206.6 -20.8 206.9 -22.3 206.7 -23.7 207.3 -25.1 208.2 -26.7 207.7 -25.7 209.1 -25.2 211 -23.9 212 -22.9 213.5 -21.5 214.2 -22.2 216.4 -23.7 217 -25.2 217 -26.7 217.5 -27.7 218.6 -28.9 219.6 -28 217.6 -27.4 215.3 -28.6 213.8 -29.6 212.1 -28.7 210.7 -28.4 208.8 -28.9 206 -30.3 205.5 -31.8 206.4 -33.3 205.6 -34.8 206.2 -35.7 207.7 -37 208.4 -37.4 210.3 -36.4 211.9 -34.9 212.5 -34 214.2 -34.8 216 -37 214.9 -38.4 214 -40 214.4 -41.4 213.1 -42.9 213.3 -44.3 212.6 -45.8 212.5 -47.3 214.2 -48.8 214.1 -50.2 214.7 -51.6 214.3 -52.7 215.9 -54.2 214.9 -55.4 216 -57.6 215.3 -58.9 216.1 -60.2 216.7 -61.6 216.5 -63 216.2 -64.2 217 -65.5 217.2 -66.8 217 -67.9 216 -69.4 216.2 -70.9 215.7 -70.5 217.9 -70.1 220.1 -71.6 220.3 -72.8 221.1 -73.9 221.9 -75.1 222.7 -76 224 -77.5 223.8 -78.7 224.5 -80 224.7 -81.2 225.3 -82.7 224.2 -84.4 224 -85 222.1 -86.3 221.3 -87.1 219.6 -84.9 219.6 -83.6 220.2 -82.3 220.2 -81 220.7 -79.7 220.7 -78.3 219.8 -76.8 219.4 -75.3 219.6 -76 217 -77.2 215.8 -78.6 215.5 -80 215.1 -81.5 215.5 -82.7 214.2 -84.2 214.4 -85.6 213.4 -87.1 213.4 -88.4 212 -90 211.4 -91.3 211.3 -92.5 211.2 -93.7 210.3 -95 210.8 -96.1 209.8 -97.4 209.9 -98.6 210.8 -99.8 210.8 -101.1 210.8 -102.4 211.1 -103.6 212.1 -105 211.3 -106.2 212.1 -107.4 212.8 -108.8 212.2 -109.9 213.1 -111.5 213.8 -112.9 215.3 -113.8 216.9 -115.1 217.5 -116.4 218.8 -117.3 220.7 -118.1 222.1 -119.2 223 -120.2 224 -121.5 225.5 -123.2 226.1 -124.7 226.9 -126.1 228.1 -127.3 228.6 -128.3 229.4 -128.3 232.6 -127.6 235.9 -126 237.8 -123.9 237.8 -122.7 237.1 -121.7 235.9 -120.2 234.2 -119.5 235.9 -118.3 238.1 -117.5 239.5 -117.3 241.3 -116.8 243.3 -114.6 243.5 -113.4 242.6 -112.1 242 -111.1 239.1 -110.5 237.1 -109.2 235.9 -108.4 233.7 -109.6 233 -110.4 231.6 -109.9 228.7 -108.6 227.9 -107.7 226.1 -106.6 225.3 -105.4 225.2 -104.5 224 -103.2 223 -102.5 221.2 -101.1 222 -99.6 221 -98.1 221.8 -99.6 223.3 -100.5 224.9 -101.6 226.2 -103 226.9 -104 228.3 -104 231.6 -102.9 232.6 -102 233.9 -100.5 233.2 -98.9 233.4 -97.4 232.9 -96.2 232.7 -94.9 233.1 -93.7 232.6 -92.6 233.8 -91.2 233.9 -92.9 234 -94.4 234.8 -95.7 235.4 -97 234.9 -98.3 235.5 -99.6 234.8 -101.1 236.3 -99.7 238.5 -100.8 240.2 -102 239.5 -103.3 238.9 -104.6 240.7 -104.8 243.9 -106 244.6 -107 245.9 -108.4 245 -109.9 245.7 -111.4 245.6 -112.9 246.7 -114.6 246.7 -115.9 245.6 -117.3 245.9 -118.6 246.2 -119.9 246.1 -120.2 243.5 -120.2 241.7 -120.2 238.9 -121.6 239.2 -122.8 240 -123.8 241.3 -123 242.8 -122.9 244.6 -123.2 247.2 -125.4 247.8 -126.9 247.3 -128.3 248.2 -129.1 250 -130.5 252.4 -132 253 -133.5 255 -134.7 255.5 -135.7 256.7M307.3 260.6 308.6 259.9 309.8 260 311 261.4 312.3 260.8 313.3 262 314.8 261.6 315.8 262.7 317.2 260.6 316.4 259 316 257.1 314.5 256.7 313 255.8 313.3 253.9 313.2 251.9 312 252.7 310.8 253.2 309.8 255.3 308.6 257.1 308 258.9 307.3 260.6M269.7 316.3 271 314.7 273.2 313.7 274.7 314.1 276.2 313.7 277.7 314.3 279.1 315.2 280.2 316.4 281.3 317.3 283.3 318 284.4 318.8 285.5 319.9 283.6 320.6 281.9 320.8 280.3 320.6 281.1 319.1 279.1 317.1 277.7 316.1 276.2 316.5 274 315.6 271.8 316.3 269.7 316.3M285.2 324.1 286.6 322.6 287.5 320.6 288.9 321.1 290.2 320.6 291.3 321.5 292.4 322.1 294 323.6 292 324.3 290.7 324.5 289.6 325.6 287.5 324.5 286.4 323.7 285.2 324.1M279.4 323.8 280.9 324 282.4 324.5 281.5 324.9 280.2 324.9 279.4 323.8M295.8 323.6 297 323.4 298.1 323.8 298 324.7 295.8 324.7 295.8 323.6M279.6 311.3 280.3 309.3 280 311.1M278.4 305.9 280.2 306.1M281.1 306.1 281.3 307.2M282.4 308.9 281.9 310.4M299.5 230.9 297.6 229 296.1 228.5 294.6 228.1 293.1 227.5 291.5 227.3 290.2 225.9 289 225.4 287.7 225.1 286.5 224.6 285 224.6 283.6 224.4 282.4 223.8 281.1 224.1 279.9 224 280.6 221.8 281.9 221.6 283.2 221.4 284.5 222.4 285.8 221.8 286.5 219.6 288 218.8 287 217.6 285.8 216.8 284.9 215.3 283.4 215.3 282.3 214.2 281.3 212.9 280 211.6 278.3 212.3 276.9 211 275.5 212 274 211.9 272.5 212.1 271 211.9 269.6 210.8 268.1 211 266.7 209.9 265.1 210.3 263.7 209.9 263.3 207.9 262.2 206.6 263.8 206 265.1 204.5 266.3 204.8 267.5 205 268.7 204.3 269.9 204.2 271 204 272.2 203.5 273.4 204 274.6 203.8 275.7 204 276.9 204 278.5 204.5 279.9 205.6 281.3 206.2 282.8 207 284.4 206.5 285.8 207.7 287.4 207.7 288.8 208.7 290.2 209.9 291.5 210.1 292.6 211.2 293.9 211.4 294.9 212.6 296.1 213.1 296.8 215.3 298 216.4 299.2 217.5 300.8 217.4 302 218.6 303.7 219.2 302.8 220.3 302.3 222 301.2 222.9 299 224 299.8 226.8 299 228.3 299.5 230.9M267.3 226.1 268.7 226.5 270 226.5 271.4 226.8 272.6 227.9 274 227.7 275.5 227.2 276.5 225.5 275.3 224.5 274.1 223.4 272.6 223.3 271.4 222.3 270.3 221.2 268.9 222.7 267.3 224 267.3 226.1M219.5 208.6 220.7 207.7 221.7 206.2 223 205.9 224.4 205.9 225.7 205.6 227.1 206.5 228.4 206.4 229.8 206 231 206.4 232.2 206.1 233.4 205.2 234.7 206 235.9 205.2 237.1 205.1 238.3 205.7 239.6 205.7 240.8 205.6 241.7 206.9 242.8 207.8 243.6 209.3 244 211.3 245.2 212.1 244 213.1 243 214.7 241.8 214.2 240.6 215.3 239.4 215.2 238.1 215.3 236.9 215.3 235.7 214.9 234.4 215 233.2 215 232.1 214.5 231 213.5 229.8 213.6 228.4 213.5 227.2 212.5 225.8 212.3 224.6 211.4 223.4 211.4 222.2 211 220.9 211 219.5 208.6M210.6 207.9 211.7 206.5 212.1 204.5 213.3 203.7 214.6 203.4 215.9 202.5 217.2 202.7 218.6 203.8 220.1 204.5 221.7 204.9 220.9 207.7 219.7 208.5 218.4 208.8 217 208.7 215.8 209.5 214.4 209.4 213.2 208.6 211.8 208.7 210.6 207.9M250.4 209.2 250.5 207.4 251.8 206.4 251.9 204.5 250.5 204.8 249.2 204 247.9 205.2 246.6 203.7 245.2 204.5 244.2 205.7 242.9 206.2 241.6 206.6 243 207.1 244.3 207.9 245.2 209.5 246.5 209.8 247.8 209.6 249.1 209 250.4 209.2M256.3 207.7 257.8 203.8 261.5 203.4 257 207.7M276.9 202.3 275.7 202.3 274.6 202.7 273.4 202.9 272.2 201.8 271 202.5 269.8 202.4 268.7 202.3 267.5 201.4 266.3 201.2 265.1 201.7 264 202.2 262.8 201.4 261.6 201.8 260.4 201.4 259.2 201.7 258 201.6 256.8 201.3 255.7 200 254.4 200.3 253.3 199.1 254.7 199.5 255.9 198.2 257.2 197.8 258.5 198.7 259.8 197.7 261.1 197.7 262.3 196.9 263.7 197.3 264.9 197.9 266.2 197.5 267.6 197.2 268.8 197.7 270.1 198.3 271.4 198.8 272.7 197.6 274 198.4 274.9 199.7 276.3 200.5 276.9 202.3M276.9 198.4 275.7 197.8 274.5 198.4 273.3 197.8 272.1 197.4 270.9 197.7 269.7 197.6 268.5 197.4 267.3 197.2 266.1 196.8 264.9 196.7 263.7 196.9 262.7 194.9 262.2 192.6 261.2 191.3 259.9 190.6 258.7 189.7 257.8 188.2 258.9 187.3 260 186.8 261.4 187.5 262.5 187.1 263.6 185.9 264.8 185.8 266.1 185.9 267.2 184.9 268.3 184.2 269.6 184.3 270.8 183.8 272 184.7 273.2 184.6 274.5 185 275.7 183.5 276.9 184.6 278.2 183.8 279.4 184.1 280.6 184 281.8 184.1 283.1 183.6 284.3 183.9 285.5 184.3 286.8 184.6 288 184 289.2 183.3 290.4 184.5 291.7 183.9 292.9 183.7 294 183.9 295.2 184.7 296.4 184.8 297.6 184.2 298.7 184.6 299.9 184.8 301.1 184.8 302.2 185.5 303.5 185 302.3 185.9 301 186.3 299.7 186.9 298.3 187.2 297.2 188.5 296 189.2 294.6 189.3 293.4 190 292.1 190 290.9 190.8 289.8 191.4 288.7 192.6 287.5 192.2 286.4 193.4 285.2 193.5 283.9 193.3 282.8 194.1 281.6 196 279.9 196.9 278.4 197.8 276.9 198.4M257.8 194.7 256.5 193.6 255.4 192.4 254.4 190.7 253.3 189.3 254.6 189.1 255.9 189 257.1 187.9 258.4 188.8 259.7 188.8 261 188.4 262.2 187.8 263.1 189.3 264.3 190.4 265.4 191.7 266.6 192.6 265.3 192.3 264.1 192.9 262.8 193.2 261.6 193.9 260.2 193.7 259 193.8 257.8 194.7M220.9 200.1 222.2 198.4 223.9 197.8 225.1 197.6 226.3 197.6 227.6 197.5 228.8 198.6 230 198.1 231.3 197.8 232.5 198 233.7 198.5 234.9 199.2 236.1 199 237.4 198.2 238.6 199.1 240.1 201.2 238.8 200.8 237.5 201.2 236.2 202.3 234.9 201.7 233.6 201.5 232.3 201.8 231.1 202.8 229.8 202.3 228.5 201.8 227.3 201.6 226 201.6 224.7 201.5 223.5 200.8 222.3 199.8 220.9 200.1M247.5 200.1 250.4 198 246 198.6 247.5 200.1M256.3 202.1 253.3 200.4 257 199.9M218 198.6 214.3 198 222.4 195.2 220.9 197.3M239.3 195.8 241.6 193 232.7 194.1M288 193.6 289 194.7 290.4 194.9 291.5 195.9 292.3 197.6 293.7 197.7 294.6 199.1 295.8 198.9 297 199.8 298.1 198.4 299.3 199.4 300.5 199.4 301.7 199.2 302.9 198.9 304 199.6 305.2 198.8 306.4 199.1 308 199.3 309.4 200.5 310.8 201.2 311.8 202.8 312.4 204.7 313 206.6 314 207.8 314.2 209.8 315.2 211 316.7 211.6 318.2 211.7 319.7 212.1 318.2 212.6 317.5 214.8 316 215.3 316.5 217.1 316.7 219 317.1 221 318.3 222.2 318.9 224 319.6 225.4 320.1 227 320.9 228.4 321.9 229.4 323 230.5 324.1 231.6 325.1 232.7 326.5 232.5 327.6 233.1 328.7 234.2 330 234.2 330.9 233 332.2 232.6 333.4 231.8 334.3 230.3 334.7 228.2 335.9 227.2 337.2 226.2 338.1 224.6 339.2 223.1 340.3 221.8 341.5 221 342.7 220.1 343.8 219.2 345 218.4 346.2 217.5 347.5 217.9 348.7 216.5 350.1 217 351.4 217.1 352.7 216.3 353.9 215.4 355.2 215.4 356.5 215.3 357.8 214.6 359.1 213.7 360.5 213.3 361.7 212.1 360.8 210.7 360.3 209 359.5 207.7 360.8 207.5 362 206.5 363.2 205.7 364.1 204 365.3 203.4 365.5 201 366.1 198.9 366.8 196.9 367.4 195.2 367.7 193.4 367.6 191.5 368.4 190 369.7 189.9 370.8 189.3 371.6 187.9 372.7 187.2 371.4 187.1 370.1 186.7 368.9 186.3 367.6 185.8 366.3 185.8 365 185.5 363.7 185.5 362.4 185 361.2 184.7 360.1 184.3 358.8 185.1 357.7 183.5 356.5 184.3 355.3 183.6 354.1 183.9 352.9 183.6 351.8 183.1 350.6 182.8 349.4 183 348.1 182.5 346.9 182.2 345.7 183.3 344.5 182.6 343.2 182.4 342 183.5 340.8 183.2 339.5 182.4 338.3 183.2 337.1 182.7 335.9 183.3 334.7 183.9 333.4 183.2 332.2 184.3 331 184 329.7 183.3 328.5 184 327.3 185 326.1 184.7 324.8 184 323.6 184.5 322.3 184.5 321.1 185 319.9 184.5 318.7 185.3 317.5 185.6 316.2 184.9 315 185.5 313.8 186.1 312.6 186.2 311.3 185.2 310.1 185.2 308.9 186.5 307.6 185.7 306.4 186.1 305.1 185.9 304 187.2 302.7 186.8 301.5 187.8 300.3 188.2 299 188.2 297.5 188.7 296.1 189.6 294.6 190.4 293.2 190.7 292.1 192.1 290.6 192 289.2 192.7 288 193.6M66.2 201.7 67.5 202.1 68.7 201.7 69.9 201.1 71.1 200.4 72.4 200.9 73.6 200.1 74.8 200.8 76.1 200.7 77.4 199.9 78.6 200.9 79.9 200.1 81.1 200.3 82.4 200.6 81 200.4 79.8 201.4 78.5 201.7 77.2 202.1 76.1 203.3 74.6 202.4 73.3 202.7 72.1 203.8 70.8 204 69.8 202.8 68.6 202.1 67.4 201.8 66.2 201.7M130.3 208.8 131.7 209.8 133.2 209.5 128.1 209.9 127.3 209 130.3 208.8M73.6 264 74 262.4 74.5 260.7 74.9 259 75.8 257.6 76.8 257.1 76.4 255.3 75.5 253.9 75 252.1 74.5 250.2 74.3 248.2 74.6 246.1 73.9 246.7 73.1 248.7 73 251.1 73.2 252.8 73.3 254.5 73.3 256.3 73.9 257.9 73.6 259.7 73.5 261.9 73.4 264 73.6 264M70.6 273.8 72.4 273.1 73.9 272.9 75.5 272.7 76.5 271.7 77.5 270.4 78.7 269.9 77.2 268.4 75.8 267.8 74.5 266.7 73.4 265.1 72.8 268.4 71.2 269.9 70.3 272.5 70.6 273.8M57.2 290.3 58.7 289.8 60.3 289.4 61.9 289.9 63.2 291.1 64.5 289.9 66 289.4 67.4 288.5 68.8 288.7 70.3 287.9 71.9 286.4 71.9 284.4 71.5 282.5 72.8 280.3 72.3 278.1 72.8 276 72.7 274 70.6 274.9 70.6 278.1 69.9 279.8 69.1 281.4 67.8 282.8 66.2 283.5 65.6 285.1 64.7 286.4 63.3 287.2 61.8 286.3 60.3 286.8 58.8 287.9 57.3 289.4 57.2 290.3M55.6 291.6 55.8 293.8 56.3 295.9 57.8 295.7 58.4 292.6 57.3 290.3 55.6 291.6M59.6 291.8 61.1 290.9 62.8 290.5 62.1 289.4 60.3 290 59.6 291.8M41.3 313.9 42.6 316.3 42.9 314.1 43.6 312.1 43.9 310 42.8 309.3 42.2 311.7 41.3 313.9M42 323.6 43.2 324 44.4 323.6 44.4 326.9 43.3 329.5 43.5 332.3 41.9 332.3 41.1 329 41.7 326.9 42 323.6M24.5 322.1 26.4 320.2 27.9 321 27.1 323.8 25.7 324.3 24.5 322.1M17.6 251.7 19 250.8 20.5 250 21.8 249.6 22.9 248.3 24.2 247.8 25 246.4 25.4 244.6 26 243 25.4 243.9 24.8 245.8 23.3 246.4 22.7 248.2 21.1 249.4 19.8 251.1 17.6 251.7M259.1 262.5 260.7 262 262.2 262.7 263.8 262.3 265.1 260.8 266.6 261.6 268.1 262.5 270.1 263 269.9 260.8 269 259.5 268.1 258.2 266.9 259 265.6 258.3 264.4 258.6 262.9 259.7 261.6 260.6 260.4 261.7 259.1 262.5M265.3 273.4 265.9 270.5 265.1 267.3 266.2 266.1 266.6 264.3 268.1 263.7 269.6 264.5 268.4 265.6 267.8 267.3 267.9 269.5 267.5 271.6 266.5 272.9 265.3 273.4M270.3 264.5 271.7 263.7 273.2 264.3 274.7 264.3 276.2 264.5 276.9 266.9 275.7 266.5 274.4 266.2 274.4 268.1 274.4 269.9 273.2 270.5 271.8 268.8 272.1 267.3 271 266.1 270.3 264.5M271.9 273.4 273.1 274.2 274.4 273.8 275.7 272.8 277.3 272.7 278.4 271.2 276.2 271.4 274.7 272.1 273.2 272.7 271.9 273.4M277.2 269.9 278.5 269.7 279.9 269.7 281.2 269.8 282.4 269.2 282.1 267.9 280.7 268.5 279.3 269.3 277.8 269 277.2 269.9M222.4 231.6 223.6 231.9 224.7 230.7 225.9 230.6 227.1 231.9 228.3 231.1 229.4 229.8 230.8 229.1 232.1 228.3 233.5 227.7 232.1 227.1 230.9 228.5 229.6 228 228.3 228.3 226.9 229.5 225.4 229.8 223.9 230.5 222.4 231.6M210.6 222.9 211.9 223 213.1 222.4 214.3 222.7 215.5 221.7 216.8 222 218 221.8 219.2 220.9 220.2 219.6 218.9 219.9 217.7 219.4 216.5 218.6 215.1 219.6 213.6 219.8 212.1 220.1 211.1 221.2 210.6 222.9M251.9 254.3 252.6 251.1 251.6 249.7 250.6 248.5 249.7 247.2 250.7 248.9 251.1 251.1 251.9 254.3M231.2 235.9 235.7 235.5 237.1 235 232.7 236.1M148 247.6 149.5 246.7M144.3 249.3 146.5 248.2M139.1 250.6 141.3 250.2M134 251.5 136.2 251.3M128.8 251.3 131.8 251.7M125.9 251.1 127.3 251.7M118.5 249.1 120.7 249.5M79.2 269.5 80.6 268.4M82.1 267.1 83.6 265.6M84.6 264.7 86.1 263.4M88 262.1 89 261.2M90.5 259.7 91.5 258.4M92.4 257.1 93.6 255.4M94.2 254.5 94.9 253.7" stroke="#1a1a1a" stroke-width="0.6" fill="none" stroke-linejoin="round"/>
<path d="M33.8 194.9L29.5 193M41.1 194.9L36.6 192.5M48.5 194.9L43.8 192.4M55.9 194.9L51 192.5M63.2 194.9L58.4 192.7M70.6 194.9L65.9 192.8M78 194.9L73.6 192.8M85.3 194.9L81.6 192.9M92.7 194.9L90 193M100.1 194.9L98.7 192.9M107.5 194.9L107.7 192.7M114.8 194.9L116.9 192.5M122.2 194.9L126.1 192.5M129.6 194.9L134.9 192.6M136.9 194.9L143.3 193.2M144.3 194.9L151.3 193.9M151.7 194.9L158.7 194.9M159 194.9L165.8 195.9M166.4 194.9L172.5 196.9M173.8 194.9L178.8 197.6M181.1 194.9L184.8 197.9M188.5 194.9L190.6 197.7M195.9 194.9L196.4 197.2M203.2 194.9L202.5 196.6M210.6 194.9L209 196M218 194.9L215.8 195.7M225.3 194.9L222.9 195.6M232.7 194.9L230.2 195.7M240.1 194.9L237.5 195.8M247.5 194.9L244.8 196M254.8 194.9L252.2 196.1M262.2 194.9L259.6 196M269.6 194.9L267.1 195.8M276.9 194.9L274.6 195.4M284.3 194.9L282.2 195M291.7 194.9L289.8 194.5M299 194.9L297.5 194.1M33.8 203.7L29.8 200.8M41.1 203.7L37 200.1M48.5 203.7L44.3 200M55.9 203.7L51.9 200.2M63.2 203.7L59.5 200.4M70.6 203.7L67.4 200.6M78 203.7L75.6 200.6M85.3 203.7L84.2 200.6M92.7 203.7L93.3 200.2M100.1 203.7L103 199.7M107.5 203.7L113.2 199.2M114.8 203.7L123.5 199M122.2 203.7L133.6 199.3M129.6 203.7L141.6 200.5M136.9 203.7L149.3 201.7M144.3 203.7L156.8 202.8M151.7 203.7L164.2 204M159 203.7L171.4 205.2M166.4 203.7L178.6 206.5M173.8 203.7L185.3 207.6M181.1 203.7L191.1 208.3M188.5 203.7L196.5 208.3M195.9 203.7L201.7 207.7M203.2 203.7L206.9 206.8M210.6 203.7L212.6 205.7M218 203.7L218.6 205M225.3 203.7L225.2 204.6M232.7 203.7L232 204.4M240.1 203.7L239.1 204.5M247.5 203.7L246.4 204.5M254.8 203.7L253.8 204.5M262.2 203.7L261.5 204.3M269.6 203.7L269.2 204.1M276.9 203.7h.4M284.3 203.7L284.7 203.5M291.7 203.7L292.2 203.2M299 203.7L299.6 202.9M33.8 212.5L29.5 209M41.1 212.5L36.5 208.1M48.5 212.5L43.8 208M55.9 212.5L51.3 208.3M63.2 212.5L58.9 208.7M70.6 212.5L66.7 208.9M78 212.5L74.8 208.9M85.3 212.5L83.2 208.4M92.7 212.5L92.1 207.4M100.1 212.5L101.7 206.1M107.5 212.5L111.8 205M114.8 212.5L122.1 204.8M122.2 212.5L132.1 205.7M129.6 212.5L141.1 207.7M136.9 212.5L149.2 209.9M144.3 212.5L156.8 211.9M151.7 212.5L163.6 213.6M159 212.5L170.2 215M166.4 212.5L176.8 216.3M173.8 212.5L183.3 217.5M181.1 212.5L189.6 218.6M188.5 212.5L195.5 219.1M195.9 212.5L201.1 218.8M203.2 212.5L206.5 217.7M210.6 212.5L211.9 216.2M218 212.5L217.8 214.9M225.3 212.5L224 214.1M232.7 212.5L230.5 213.8M240.1 212.5L237.2 213.6M247.5 212.5L244.1 213.5M254.8 212.5L251 213.3M262.2 212.5L258.2 213M269.6 212.5L265.6 212.6M276.9 212.5L273.1 212.2M284.3 212.5L280.8 211.9M291.7 212.5L288.6 211.6M299 212.5L296.5 211.5M33.8 221.3L30.1 218.1M41.1 221.3L37.3 217.1M48.5 221.3L44.7 217.2M55.9 221.3L52.1 217.7M63.2 221.3L59.7 218.2M70.6 221.3L67.3 218.3M78 221.3L75.2 218.1M85.3 221.3L83.3 217.1M92.7 221.3L91.8 215.3M100.1 221.3L100.7 213.1M107.5 221.3L109.9 211.4M114.8 221.3L119.4 211.1M122.2 221.3L128.7 212.4M129.6 221.3L137.6 215M136.9 221.3L146 218.1M144.3 221.3L153.8 221M151.7 221.3L161.1 223.2M159 221.3L168.1 224.7M166.4 221.3L174.8 225.9M173.8 221.3L181.5 227.3M181.1 221.3L188.1 228.6M188.5 221.3L194.3 229.6M195.9 221.3L200.2 229.7M203.2 221.3L205.8 228.7M210.6 221.3L211.3 227.1M218 221.3L217 225.4M225.3 221.3L223 224.2M232.7 221.3L229.3 223.6M240.1 221.3L235.7 223.3M247.5 221.3L242.4 223M254.8 221.3L249.2 222.5M262.2 221.3L256.2 222M269.6 221.3L263.5 221.3M276.9 221.3L271.1 220.6M284.3 221.3L279 220.1M291.7 221.3L287 219.7M299 221.3L295.2 219.4M33.8 230.1L31.6 227.7M41.1 230.1L38.9 226.8M48.5 230.1L46.3 227M55.9 230.1L53.8 227.7M63.2 230.1L61.3 228.2M70.6 230.1L68.8 228.3M78 230.1L76.5 227.7M85.3 230.1L84.2 226.3M92.7 230.1L92.2 224M100.1 230.1L100.2 221.3M107.5 230.1L108.2 219.2M114.8 230.1L116.3 218.6M122.2 230.1L124.4 219.8M129.6 230.1L132.7 222.5M136.9 230.1L141.2 225.8M144.3 230.1L149.7 229.1M151.7 230.1L158.1 231.7M159 230.1L166.1 233.6M166.4 230.1L173.7 235.2M173.8 230.1L180.7 236.9M181.1 230.1L187.3 238.5M188.5 230.1L193.5 239.9M195.9 230.1L199.4 240.4M203.2 230.1L205.1 239.7M210.6 230.1L210.8 238M218 230.1L216.6 236M225.3 230.1L222.7 234.5M232.7 230.1L229 233.6M240.1 230.1L235.5 233.1M247.5 230.1L242.1 232.5M254.8 230.1L249 231.9M262.2 230.1L256.1 230.9M269.6 230.1L263.5 229.9M276.9 230.1L271.2 228.9M284.3 230.1L279.2 228.1M291.7 230.1L287.3 227.5M299 230.1L295.4 227.3M33.8 238.9L32.8 237.1M41.1 238.9L40.2 236.2M48.5 238.9L47.7 236.6M55.9 238.9L55.1 237.3M63.2 238.9L62.5 237.9M70.6 238.9L70 237.9M78 238.9L77.4 237.2M85.3 238.9L84.9 235.6M92.7 238.9L92.3 233.1M100.1 238.9L99.6 230.3M107.5 238.9L106.8 228.2M114.8 238.9L113.7 227.5M122.2 238.9L120.7 228.5M129.6 238.9L128 230.6M136.9 238.9L136 233.3M144.3 238.9L144.7 236.2M151.7 238.9L153.8 238.8M159 238.9L163 241.1M166.4 238.9L171.8 243.5M173.8 238.9L179.6 246.1M181.1 238.9L186.6 248.4M188.5 238.9L192.9 250.3M195.9 238.9L198.8 251M203.2 238.9L204.7 250.4M210.6 238.9L210.8 248.5M218 238.9L217 246.3M225.3 238.9L223.4 244.5M232.7 238.9L230.1 243.4M240.1 238.9L236.9 242.6M247.5 238.9L243.9 241.9M254.8 238.9L251.1 241M262.2 238.9L258.4 239.8M269.6 238.9L265.9 238.5M276.9 238.9L273.6 237.2M284.3 238.9L281.4 236.2M291.7 238.9L289.3 235.5M299 238.9L297.2 235.2M33.8 247.7L33.5 246.2M41.1 247.7L40.9 245.3M48.5 247.7L48.3 245.7M55.9 247.7L55.7 246.5M63.2 247.7L63.1 247.1M70.6 247.7L70.4 247.1M78 247.7L77.7 246.4M85.3 247.7L85 244.8M92.7 247.7L92 242.4M100.1 247.7L98.9 239.7M107.5 247.7L105.5 237.8M114.8 247.7L112 237.3M122.2 247.7L118.5 238.1M129.6 247.7L125.2 239.6M136.9 247.7L132.5 241.4M144.3 247.7L140.5 243.3M151.7 247.7L149.4 245.3M159 247.7L158.7 247.5M166.4 247.7L168 250.6M173.8 247.7L176.9 254.2M181.1 247.7L184.9 257.7M188.5 247.7L191.9 259.7M195.9 247.7L198.2 260M203.2 247.7L204.7 260.1M210.6 247.7L211.4 258.5M218 247.7L218.2 256M225.3 247.7L225.3 253.9M232.7 247.7L232.5 252.6M240.1 247.7L239.9 251.7M247.5 247.7L247.3 250.8M254.8 247.7L254.9 249.7M262.2 247.7L262.4 248.4M269.6 247.7L270 247M276.9 247.7L277.5 245.7M284.3 247.7L285 244.6M291.7 247.7L292.4 244M299 247.7L299.8 243.8M33.8 256.5L34 255.1M41.1 256.5L41.3 254.2M48.5 256.5L48.6 254.6M55.9 256.5L55.9 255.4M63.2 256.5L63.2 256M70.6 256.5L70.5 256.1M78 256.5L77.8 255.5M85.3 256.5L84.8 254.1M92.7 256.5L91.6 252M100.1 256.5L98.1 249.5M107.5 256.5L104.4 247.8M114.8 256.5L110.8 247.2M122.2 256.5L117.2 247.9M129.6 256.5L123.9 249.1M136.9 256.5L130.7 250.4M144.3 256.5L137.9 251.4M151.7 256.5L145.5 252.6M159 256.5L153.8 254.3M166.4 256.5L162.8 257M173.8 256.5L172.6 260.7M181.1 256.5L182.5 265.2M188.5 256.5L191.3 268.7M195.9 256.5L198.3 268.8M203.2 256.5L205.2 268.8M210.6 256.5L212.4 267.8M218 256.5L219.8 264.9M225.3 256.5L227.5 262.6M232.7 256.5L235.2 261.1M240.1 256.5L243.1 260.2M247.5 256.5L250.9 259.2M254.8 256.5L258.7 258.2M262.2 256.5L266.4 256.9M269.6 256.5L273.9 255.7M276.9 256.5L281.2 254.5M284.3 256.5L288.3 253.6M291.7 256.5L295.2 253.1M299 256.5L302.1 252.9M33.8 265.3L34.3 264M41.1 265.3L41.5 263.2M48.5 265.3L48.7 263.6M55.9 265.3L55.9 264.4M63.2 265.3L63.2 264.9M70.6 265.3h.4M78 265.3L77.7 264.6M85.3 265.3L84.7 263.6M92.7 265.3L91.3 261.8M100.1 265.3L97.5 259.7M107.5 265.3L103.5 258M114.8 265.3L109.7 257.3M122.2 265.3L116 257.7M129.6 265.3L122.7 258.7M136.9 265.3L129.4 259.8M144.3 265.3L136.1 260.7M151.7 265.3L142.8 261.5M159 265.3L149.8 262.4M166.4 265.3L157.6 263.7M173.8 265.3L167.1 265.8M181.1 265.3L178.2 270M188.5 265.3L189.2 275.9M195.9 265.3L198 277.6M203.2 265.3L205.5 277.6M210.6 265.3L213.3 276.5M218 265.3L221.2 273.2M225.3 265.3L229.3 270.8M232.7 265.3L237.3 269.3M240.1 265.3L245.3 268.3M247.5 265.3L253.3 267.4M254.8 265.3L261.1 266.5M262.2 265.3L268.8 265.5M269.6 265.3L276.2 264.5M276.9 265.3L283.3 263.7M284.3 265.3L290.1 263M291.7 265.3L296.7 262.7M299 265.3L303.3 262.6M33.8 274.1L34.4 273M41.1 274.1L41.5 272.3M48.5 274.1L48.5 272.6M55.9 274.1L55.7 273.3M63.2 274.1L62.8 273.8M70.6 274.1L70 273.9M78 274.1L77.2 273.7M85.3 274.1L84.1 273.1M92.7 274.1L90.6 271.9M100.1 274.1L96.7 270.2M107.5 274.1L102.5 268.7M114.8 274.1L108.2 267.7M122.2 274.1L114.3 267.7M129.6 274.1L120.7 268.4M136.9 274.1L127.4 269.5M144.3 274.1L134.1 270.5M151.7 274.1L140.7 271.4M159 274.1L147 272.1M166.4 274.1L154 272.4M173.8 274.1L161.4 272.6M181.1 274.1L168.9 274.7M188.5 274.1L179.5 280.3M195.9 274.1L191.3 285.7M203.2 274.1L202.4 286.6M210.6 274.1L212.4 284.1M218 274.1L221.7 280.7M225.3 274.1L230.4 278.5M232.7 274.1L238.7 277.2M240.1 274.1L246.8 276.3M247.5 274.1L254.8 275.6M254.8 274.1L262.5 274.9M262.2 274.1L270.1 274.2M269.6 274.1L277.3 273.6M276.9 274.1L284.3 273.1M284.3 274.1L291 272.7M291.7 274.1L297.5 272.5M299 274.1L303.9 272.5M33.8 282.9L33.9 282M41.1 282.9L40.7 281.5M48.5 282.9L47.5 281.8M55.9 282.9L54.2 282.4M63.2 282.9L61 282.8M70.6 282.9L67.7 283M78 282.9L74.4 283M85.3 282.9L80.9 282.7M92.7 282.9L87.2 282M100.1 282.9L93.2 280.9M107.5 282.9L98.9 279.7M114.8 282.9L104.4 278.8M122.2 282.9L110.5 278.5M129.6 282.9L117.7 279.1M136.9 282.9L124.8 279.9M144.3 282.9L132 280.8M151.7 282.9L139.2 281.7M159 282.9L146.5 282.5M166.4 282.9L153.9 282.8M173.8 282.9L161.3 282.7M181.1 282.9L168.6 283M188.5 282.9L176.2 284.9M195.9 282.9L184.7 288.5M203.2 282.9L197.3 290.1M210.6 282.9L209.7 288.9M218 282.9L220.4 287M225.3 282.9L229.9 285.7M232.7 282.9L238.5 284.9M240.1 282.9L246.7 284.3M247.5 282.9L254.6 283.8M254.8 282.9L262.3 283.4M262.2 282.9L269.8 283M269.6 282.9L277 282.7M276.9 282.9L283.9 282.5M284.3 282.9L290.6 282.4M291.7 282.9L297.2 282.4M299 282.9L303.7 282.5M33.8 291.7L33.8 291.1M41.1 291.7L40.6 290.7M48.5 291.7L47.3 290.9M55.9 291.7L53.9 291.3M63.2 291.7L60.6 291.7M70.6 291.7L67.3 291.9M78 291.7L74 291.9M85.3 291.7L80.6 291.8M92.7 291.7L87 291.5M100.1 291.7L93.3 291M107.5 291.7L99.4 290.3M114.8 291.7L105.3 289.6M122.2 291.7L111.2 289.1M129.6 291.7L117.4 289.1M136.9 291.7L124.6 289.6M144.3 291.7L131.9 290.3M151.7 291.7L139.2 291.2M159 291.7L146.5 291.9M166.4 291.7L153.9 292.5M173.8 291.7L161.7 292.6M181.1 291.7L169.3 292.5M188.5 291.7L177.3 292.6M195.9 291.7L186.5 293.2M203.2 291.7L196.9 293.6M210.6 291.7L207.3 293.4M218 291.7L217 293M225.3 291.7L225.9 292.8M232.7 291.7L234.2 292.6M240.1 291.7L242.2 292.4M247.5 291.7L249.9 292.2M254.8 291.7L257.4 292M262.2 291.7L264.8 291.9M269.6 291.7L272 291.8M276.9 291.7L279.2 291.8M284.3 291.7L286.3 291.9M291.7 291.7L293.4 291.9M299 291.7L300.4 292M33.8 300.5L34.2 300M41.1 300.5L41.3 299.7M48.5 300.5L48.3 299.9M55.9 300.5L55.4 300.2M63.2 300.5L62.6 300.4M70.6 300.5L69.8 300.5M78 300.5L76.9 300.5M85.3 300.5L84.1 300.5M92.7 300.5L91.2 300.4M100.1 300.5L98.2 300.2M107.5 300.5L105 299.9M114.8 300.5L111.5 299.5M122.2 300.5L117.9 299.2M129.6 300.5L124.2 299.1M136.9 300.5L130.7 299.2M144.3 300.5L137.4 299.6M151.7 300.5L144.5 300.2M159 300.5L151.9 300.7M166.4 300.5L159.5 301.1M173.8 300.5L167.3 301.2M181.1 300.5L175.1 301M188.5 300.5L182.9 300.8M195.9 300.5L190.7 300.5M203.2 300.5L198.7 300.4M210.6 300.5L206.6 300.4M218 300.5L214.6 300.5M225.3 300.5L222.4 300.7M232.7 300.5L230.1 300.9M240.1 300.5L237.7 300.9M247.5 300.5L245.2 300.9M254.8 300.5L252.6 300.8M262.2 300.5L260 300.7M269.6 300.5L267.4 300.7M276.9 300.5L274.8 300.7M284.3 300.5L282.2 300.8M291.7 300.5L289.7 300.8M299 300.5L297.2 300.8M33.8 309.3L34.1 309M41.1 309.3L41.3 308.8M48.5 309.3L48.4 308.9M55.9 309.3h.4M63.2 309.3h.4M70.6 309.3L70.2 309.3M78 309.3L77.6 309.3M85.3 309.3L84.9 309.3M92.7 309.3L92.2 309.3M100.1 309.3L99.4 309.2M107.5 309.3L106.6 309.1M114.8 309.3L113.6 309M122.2 309.3L120.6 308.8M129.6 309.3L127.4 308.8M136.9 309.3L134.2 308.8M144.3 309.3L141.2 308.9M151.7 309.3L148.3 309.2M159 309.3L155.6 309.4M166.4 309.3L163.1 309.6M173.8 309.3L170.8 309.6M181.1 309.3L178.4 309.5M188.5 309.3L185.9 309.3M195.9 309.3L193.3 309.1M203.2 309.3L200.6 309M210.6 309.3L207.9 309M218 309.3L215.3 309.1M225.3 309.3L222.7 309.3M232.7 309.3L230.2 309.4M240.1 309.3L237.7 309.5M247.5 309.3L245.3 309.6M254.8 309.3L252.7 309.5M262.2 309.3L260.2 309.5M269.6 309.3L267.6 309.4M276.9 309.3L275.1 309.4M284.3 309.3L282.5 309.4M291.7 309.3L290 309.4M299 309.3L297.6 309.4M33.8 318.1h.4M41.1 318.1h.4M48.5 318.1h.4M55.9 318.1h.4M63.2 318.1h.4M70.6 318.1h.4M78 318.1h.4M85.3 318.1h.4M92.7 318.1h.4M100.1 318.1L99.7 318.1M107.5 318.1L107 318.1M114.8 318.1L114.3 318.1M122.2 318.1L121.5 318M129.6 318.1L128.7 318M136.9 318.1L135.9 318M144.3 318.1L143.1 318M151.7 318.1L150.4 318.1M159 318.1L157.8 318.1M166.4 318.1L165.2 318.2M173.8 318.1L172.7 318.2M181.1 318.1L180.2 318.1M188.5 318.1L187.6 318.1M195.9 318.1L195 318M203.2 318.1L202.3 317.9M210.6 318.1L209.5 317.9M218 318.1L216.8 317.9M225.3 318.1L224.2 318M232.7 318.1L231.6 318.1M240.1 318.1L239.1 318.1M247.5 318.1L246.6 318.2M254.8 318.1L254.1 318.2M262.2 318.1L261.6 318.2M269.6 318.1L269 318.2M276.9 318.1L276.4 318.1M284.3 318.1L283.8 318.1M291.7 318.1L291.2 318.1M299 318.1L298.6 318.1M33.8 326.9L34.3 326.8M41.1 326.9L41.6 326.7M48.5 326.9L48.9 326.8M55.9 326.9h.4M63.2 326.9h.4M70.6 326.9h.4M78 326.9h.4M85.3 326.9L85.7 326.9M92.7 326.9L93.1 326.9M100.1 326.9L100.5 326.9M107.5 326.9L107.9 326.9M114.8 326.9L115.2 326.9M122.2 326.9L122.6 326.9M129.6 326.9L129.9 326.9M136.9 326.9h.4M144.3 326.9h.4M151.7 326.9h.4M159 326.9h.4M166.4 326.9h.4M173.8 326.9h.4M181.1 326.9h.4M188.5 326.9h.4M195.9 326.9h.4M203.2 326.9h.4M210.6 326.9h.4M218 326.9h.4M225.3 326.9h.4M232.7 326.9h.4M240.1 326.9h.4M247.5 326.9h.4M254.8 326.9h.4M262.2 326.9h.4M269.6 326.9h.4M276.9 326.9h.4M284.3 326.9h.4M291.7 326.9h.4M299 326.9h.4" stroke="#111" stroke-width="0.75" fill="none" stroke-linecap="round"/>
<path d="M29.5 193L31.3 193L30.8 194.3ZM36.6 192.5L38.5 192.7L37.8 193.9ZM43.8 192.4L45.7 192.6L45 193.9ZM51 192.5L53 192.7L52.3 194ZM58.4 192.7L60.3 192.8L59.7 194.1ZM65.9 192.8L67.8 192.8L67.2 194.2ZM73.6 192.8L75.4 193L74.9 194.2ZM81.6 192.9L83.3 193.1L82.7 194.2ZM90 193L91.4 193.3L90.8 194.2ZM98.7 192.9L99.7 193.6L98.9 194.1ZM107.7 192.7L108 193.8L107.2 193.7ZM116.9 192.5L116.4 193.8L115.7 193.2ZM126.1 192.5L125 193.9L124.3 192.8ZM134.9 192.6L133.4 194.1L132.8 192.7ZM143.3 193.2L141.5 194.5L141.1 192.9ZM151.3 193.9L149.3 195.1L149.1 193.4ZM158.7 194.9L156.6 195.7L156.6 194.1ZM165.8 195.9L163.6 196.5L163.9 194.8ZM172.5 196.9L170.3 197L170.8 195.4ZM178.8 197.6L176.8 197.3L177.5 196ZM184.8 197.9L183.1 197.3L183.9 196.3ZM190.6 197.7L189.3 196.9L190.2 196.3ZM196.4 197.2L195.7 196.3L196.6 196.1ZM202.5 196.6L202.5 195.6L203.2 195.9ZM209 196L209.6 195.1L210 195.8ZM215.8 195.7L216.7 194.9L217 195.7ZM222.9 195.6L223.9 194.9L224.1 195.7ZM230.2 195.7L231.1 194.9L231.4 195.8ZM237.5 195.8L238.4 195L238.8 195.9ZM244.8 196L245.8 195.1L246.1 196ZM252.2 196.1L253.1 195.1L253.5 196ZM259.6 196L260.5 195.1L260.9 196ZM267.1 195.8L268 195L268.3 195.8ZM274.6 195.4L275.6 194.8L275.8 195.6ZM282.2 195L283.2 194.5L283.3 195.3ZM289.8 194.5L290.9 194.3L290.7 195.1ZM29.8 200.8L31.6 201.3L30.8 202.4ZM37 200.1L38.9 200.7L37.9 201.9ZM44.3 200L46.3 200.7L45.3 201.8ZM51.9 200.2L53.7 200.8L52.8 201.9ZM59.5 200.4L61.3 201L60.4 202.1ZM67.4 200.6L69 201.2L68.1 202.2ZM75.6 200.6L77 201.4L76.1 202.2ZM84.2 200.6L85.2 201.6L84.2 202ZM93.3 200.2L93.6 201.7L92.5 201.5ZM103 199.7L102.5 201.5L101.4 200.7ZM113.2 199.2L112.1 201.1L111 199.8ZM123.5 199L122.1 200.7L121.3 199.2ZM133.6 199.3L131.9 200.8L131.3 199.3ZM141.6 200.5L139.8 201.8L139.4 200.2ZM149.3 201.7L147.3 202.9L147.1 201.2ZM156.8 202.8L154.7 203.8L154.6 202.2ZM164.2 204L162 204.8L162.1 203.1ZM171.4 205.2L169.3 205.8L169.5 204.1ZM178.6 206.5L176.4 206.8L176.7 205.2ZM185.3 207.6L183 207.7L183.6 206.1ZM191.1 208.3L188.8 208.1L189.5 206.6ZM196.5 208.3L194.2 208L195.1 206.5ZM201.7 207.7L199.5 207.2L200.4 205.9ZM206.9 206.8L205.2 206.2L206.1 205.2ZM212.6 205.7L211.4 205.2L212.1 204.5ZM29.5 209L31.4 209.6L30.4 210.8ZM36.5 208.1L38.6 208.9L37.5 210.1ZM43.8 208L45.9 208.8L44.8 210ZM51.3 208.3L53.4 209.1L52.3 210.3ZM58.9 208.7L60.9 209.4L59.9 210.6ZM66.7 208.9L68.6 209.6L67.6 210.7ZM74.8 208.9L76.4 209.7L75.4 210.6ZM83.2 208.4L84.5 209.5L83.4 210.2ZM92.1 207.4L93 209.1L91.6 209.3ZM101.7 206.1L102 208.3L100.3 207.9ZM111.8 205L111.5 207.2L110 206.4ZM122.1 204.8L121.3 206.9L120.1 205.7ZM132.1 205.7L130.8 207.6L129.9 206.2ZM141.1 207.7L139.5 209.3L138.8 207.7ZM149.2 209.9L147.3 211.2L146.9 209.5ZM156.8 211.9L154.7 212.9L154.6 211.2ZM163.6 213.6L161.4 214.3L161.6 212.6ZM170.2 215L168 215.4L168.3 213.7ZM176.8 216.3L174.5 216.4L175.1 214.8ZM183.3 217.5L181 217.3L181.8 215.8ZM189.6 218.6L187.4 218L188.4 216.7ZM195.5 219.1L193.4 218.3L194.6 217ZM201.1 218.8L199.1 217.7L200.4 216.6ZM206.5 217.7L204.7 216.4L206.1 215.5ZM211.9 216.2L210.9 215L212 214.6ZM217.8 214.9L217.4 213.8L218.3 213.9ZM224 214.1L224.3 213.1L225 213.6ZM230.5 213.8L231.3 212.8L231.7 213.6ZM237.2 213.6L238.2 212.7L238.6 213.6ZM244.1 213.5L245.2 212.6L245.5 213.6ZM251 213.3L252.4 212.4L252.6 213.5ZM258.2 213L259.6 212.2L259.8 213.4ZM265.6 212.6L267 212L267.1 213.2ZM273.1 212.2L274.6 211.7L274.5 212.9ZM280.8 211.9L282.3 211.6L282.1 212.7ZM288.6 211.6L290 211.5L289.7 212.5ZM296.5 211.5L297.8 211.5L297.4 212.3ZM30.1 218.1L31.9 218.7L31 219.7ZM37.3 217.1L39.2 218L38.1 219.1ZM44.7 217.2L46.5 218.1L45.4 219.1ZM52.1 217.7L53.9 218.4L52.9 219.5ZM59.7 218.2L61.4 218.8L60.5 219.8ZM67.3 218.3L69 218.9L68.1 219.9ZM75.2 218.1L76.7 218.8L75.7 219.7ZM83.3 217.1L84.6 218.3L83.4 218.9ZM91.8 215.3L92.9 217.2L91.3 217.4ZM100.7 213.1L101.4 215.3L99.7 215.2ZM109.9 211.4L110.2 213.7L108.6 213.2ZM119.4 211.1L119.3 213.3L117.7 212.6ZM128.7 212.4L128.1 214.6L126.7 213.6ZM137.6 215L136.5 217L135.4 215.6ZM146 218.1L144.3 219.6L143.8 218ZM153.8 221L151.8 221.9L151.7 220.2ZM161.1 223.2L158.9 223.6L159.2 221.9ZM168.1 224.7L165.8 224.7L166.4 223.2ZM174.8 225.9L172.6 225.7L173.4 224.2ZM181.5 227.3L179.4 226.6L180.4 225.3ZM188.1 228.6L186 227.7L187.2 226.5ZM194.3 229.6L192.5 228.3L193.8 227.4ZM200.2 229.7L198.5 228.2L200 227.4ZM205.8 228.7L204.3 227L205.9 226.5ZM211.3 227.1L210.3 225.2L211.8 225.1ZM217 225.4L216.7 223.8L218 224ZM223 224.2L223.4 222.7L224.3 223.5ZM229.3 223.6L230.2 222.2L230.9 223.2ZM235.7 223.3L237 221.9L237.6 223.2ZM242.4 223L243.9 221.7L244.3 223.1ZM249.2 222.5L250.9 221.4L251.2 222.9ZM256.2 222L258.1 220.9L258.3 222.5ZM263.5 221.3L265.5 220.5L265.5 222.1ZM271.1 220.6L273.2 220.1L273 221.6ZM279 220.1L281 219.8L280.6 221.2ZM287 219.7L288.9 219.6L288.4 220.9ZM295.2 219.4L296.9 219.6L296.3 220.7ZM31.6 227.7L32.9 228.3L32.1 229ZM38.9 226.8L40.2 227.7L39.3 228.4ZM46.3 227L47.6 227.9L46.7 228.5ZM53.8 227.7L55 228.3L54.3 229ZM61.3 228.2L62.5 228.7L61.8 229.4ZM68.8 228.3L70 228.8L69.3 229.4ZM76.5 227.7L77.5 228.5L76.7 229ZM84.2 226.3L85.2 227.6L84.1 227.9ZM92.2 224L93.1 226L91.5 226.1ZM100.2 221.3L101 223.4L99.3 223.4ZM108.2 219.2L108.9 221.3L107.3 221.2ZM116.3 218.6L116.9 220.8L115.2 220.6ZM124.4 219.8L124.8 222.1L123.1 221.7ZM132.7 222.5L132.7 224.8L131.1 224.1ZM141.2 225.8L140.3 227.8L139.2 226.7ZM149.7 229.1L148 230.2L147.7 228.7ZM158.1 231.7L155.8 232L156.2 230.4ZM166.1 233.6L163.9 233.4L164.6 231.9ZM173.7 235.2L171.5 234.7L172.4 233.3ZM180.7 236.9L178.6 236L179.8 234.8ZM187.3 238.5L185.4 237.3L186.7 236.3ZM193.5 239.9L191.8 238.4L193.3 237.6ZM199.4 240.4L197.9 238.7L199.5 238.1ZM205.1 239.7L203.9 237.8L205.6 237.5ZM210.8 238L209.9 235.9L211.6 235.9ZM216.6 236L216.3 233.9L217.9 234.2ZM222.7 234.5L223 232.6L224.2 233.3ZM229 233.6L229.8 231.9L230.8 232.9ZM235.5 233.1L236.6 231.4L237.4 232.7ZM242.1 232.5L243.6 231L244.2 232.4ZM249 231.9L250.7 230.5L251.2 232ZM256.1 230.9L258 229.9L258.2 231.5ZM263.5 229.9L265.6 229.2L265.5 230.8ZM271.2 228.9L273.3 228.6L273 230.1ZM279.2 228.1L281.2 228.1L280.6 229.5ZM287.3 227.5L289.1 227.8L288.4 229ZM295.4 227.3L297.1 227.8L296.3 228.8ZM32.8 237.1L33.6 237.8L32.9 238.2ZM40.2 236.2L41.1 237.2L40.1 237.5ZM47.7 236.6L48.5 237.5L47.6 237.8ZM84.9 235.6L85.6 236.9L84.5 237ZM92.3 233.1L93.2 235L91.7 235.1ZM99.6 230.3L100.6 232.3L98.9 232.4ZM106.8 228.2L107.7 230.2L106.1 230.3ZM113.7 227.5L114.8 229.6L113.1 229.7ZM120.7 228.5L121.8 230.5L120.2 230.7ZM128 230.6L129.3 232.5L127.6 232.8ZM136 233.3L137.1 235.1L135.6 235.3ZM144.7 236.2L145 237.4L144 237.3ZM153.8 238.8L152.8 239.2L152.7 238.4ZM163 241.1L161.3 240.9L161.9 239.7ZM171.8 243.5L169.6 242.8L170.7 241.5ZM179.6 246.1L177.6 245L178.9 243.9ZM186.6 248.4L184.8 247L186.3 246.2ZM192.9 250.3L191.3 248.6L192.9 248ZM198.8 251L197.5 249.2L199.2 248.8ZM204.7 250.4L203.6 248.4L205.3 248.2ZM210.8 248.5L209.9 246.5L211.6 246.4ZM217 246.3L216.4 244.1L218.1 244.3ZM223.4 244.5L223.3 242.4L224.8 242.9ZM230.1 243.4L230.4 241.5L231.6 242.2ZM236.9 242.6L237.5 240.9L238.6 241.8ZM243.9 241.9L244.8 240.3L245.6 241.3ZM251.1 241L252.1 239.7L252.7 240.8ZM258.4 239.8L259.7 238.9L260 240ZM265.9 238.5L267.4 238.1L267.3 239.2ZM273.6 237.2L275.1 237.4L274.6 238.4ZM281.4 236.2L282.9 236.8L282.1 237.7ZM289.3 235.5L290.7 236.4L289.7 237.1ZM297.2 235.2L298.4 236.3L297.3 236.9ZM40.9 245.3L41.5 246.4L40.6 246.4ZM48.3 245.7L48.8 246.6L48 246.7ZM85 244.8L85.6 246L84.6 246.1ZM92 242.4L93 244.1L91.5 244.3ZM98.9 239.7L100 241.7L98.4 241.9ZM105.5 237.8L106.8 239.7L105.1 240.1ZM112 237.3L113.4 239.1L111.8 239.5ZM118.5 238.1L120.1 239.7L118.5 240.3ZM125.2 239.6L127 241.1L125.5 241.8ZM132.5 241.4L134.4 242.6L133 243.6ZM140.5 243.3L142.4 244.3L141.2 245.3ZM149.4 245.3L150.7 245.9L149.9 246.6ZM168 250.6L166.9 249.7L167.8 249.2ZM176.9 254.2L175.2 252.7L176.7 252ZM184.9 257.7L183.4 256L185 255.4ZM191.9 259.7L190.5 257.9L192.1 257.5ZM198.2 260L197 258.1L198.6 257.8ZM204.7 260.1L203.7 258.1L205.3 257.9ZM211.4 258.5L210.4 256.5L212 256.3ZM218.2 256L217.3 253.9L219 253.8ZM225.3 253.9L224.5 251.8L226.1 251.9ZM232.5 252.6L231.9 250.8L233.3 250.9ZM239.9 251.7L239.4 250.2L240.6 250.2ZM247.3 250.8L246.9 249.5L247.9 249.6ZM254.9 249.7L254.4 248.7L255.3 248.7ZM277.5 245.7L277.6 246.8L276.8 246.6ZM285 244.6L285.2 246L284.2 245.8ZM292.4 244L292.7 245.5L291.6 245.3ZM299.8 243.8L300.1 245.3L298.9 245.1ZM41.3 254.2L41.6 255.3L40.8 255.3ZM48.6 254.6L48.9 255.6L48.1 255.6ZM84.8 254.1L85.5 255.1L84.6 255.3ZM91.6 252L92.6 253.4L91.3 253.7ZM98.1 249.5L99.5 251.3L97.9 251.8ZM104.4 247.8L105.9 249.5L104.3 250ZM110.8 247.2L112.4 248.8L110.8 249.5ZM117.2 247.9L119 249.3L117.6 250.1ZM123.9 249.1L125.8 250.3L124.5 251.3ZM130.7 250.4L132.8 251.2L131.6 252.4ZM137.9 251.4L140 252.1L139 253.4ZM145.5 252.6L147.7 253L146.8 254.4ZM153.8 254.3L155.8 254.3L155.2 255.8ZM162.8 257L164.1 256.3L164.3 257.4ZM172.6 260.7L172.4 259L173.6 259.4ZM182.5 265.2L181.4 263.2L183 263ZM191.3 268.7L190 266.8L191.6 266.5ZM198.3 268.8L197 266.9L198.7 266.5ZM205.2 268.8L204 266.9L205.7 266.6ZM212.4 267.8L211.3 265.8L212.9 265.5ZM219.8 264.9L218.6 263L220.2 262.6ZM227.5 262.6L226 260.9L227.6 260.3ZM235.2 261.1L233.7 259.9L235 259.2ZM243.1 260.2L241.5 259.3L242.5 258.4ZM250.9 259.2L249.3 258.8L250 257.7ZM258.7 258.2L257 258.1L257.5 257ZM266.4 256.9L264.8 257.4L264.9 256.2ZM273.9 255.7L272.4 256.6L272.2 255.3ZM281.2 254.5L280 255.8L279.4 254.6ZM288.3 253.6L287.3 255.2L286.5 254.1ZM295.2 253.1L294.5 254.8L293.5 253.8ZM302.1 252.9L301.5 254.6L300.5 253.8ZM41.5 263.2L41.7 264.3L40.9 264.2ZM84.7 263.6L85.4 264.3L84.7 264.6ZM91.3 261.8L92.4 262.9L91.3 263.4ZM97.5 259.7L99.1 261.2L97.6 261.9ZM103.5 258L105.3 259.5L103.8 260.2ZM109.7 257.3L111.5 258.6L110.1 259.5ZM116 257.7L118 258.8L116.7 259.8ZM122.7 258.7L124.8 259.5L123.6 260.8ZM129.4 259.8L131.6 260.4L130.6 261.7ZM136.1 260.7L138.4 261L137.6 262.5ZM142.8 261.5L145.1 261.5L144.4 263.1ZM149.8 262.4L152 262.2L151.5 263.8ZM157.6 263.7L159.8 263.2L159.5 264.9ZM167.1 265.8L169.1 264.8L169.2 266.5ZM178.2 270L178.5 268L179.8 268.8ZM189.2 275.9L188.3 273.9L189.9 273.8ZM198 277.6L196.8 275.7L198.5 275.4ZM205.5 277.6L204.3 275.7L206 275.4ZM213.3 276.5L212 274.7L213.6 274.3ZM221.2 273.2L219.6 271.5L221.2 270.9ZM229.3 270.8L227.4 269.5L228.7 268.6ZM237.3 269.3L235.2 268.6L236.3 267.3ZM245.3 268.3L243.2 268L244 266.6ZM253.3 267.4L251.1 267.5L251.6 265.9ZM261.1 266.5L258.9 266.9L259.2 265.3ZM268.8 265.5L266.7 266.3L266.7 264.6ZM276.2 264.5L274.2 265.6L274 263.9ZM283.3 263.7L281.5 265L281 263.4ZM290.1 263L288.5 264.6L287.9 263ZM296.7 262.7L295.4 264.3L294.7 262.9ZM303.3 262.6L302.2 264.1L301.4 263ZM41.5 272.3L41.7 273.3L40.9 273.2ZM90.6 271.9L91.8 272.4L91.1 273.1ZM96.7 270.2L98.4 271.1L97.3 272ZM102.5 268.7L104.5 269.6L103.3 270.8ZM108.2 267.7L110.3 268.6L109.2 269.8ZM114.3 267.7L116.4 268.3L115.4 269.6ZM120.7 268.4L122.9 268.8L122 270.2ZM127.4 269.5L129.7 269.6L128.9 271.1ZM134.1 270.5L136.4 270.4L135.8 272ZM140.7 271.4L142.9 271.1L142.5 272.7ZM147 272.1L149.2 271.6L149 273.3ZM154 272.4L156.2 271.9L156 273.6ZM161.4 272.6L163.5 272L163.3 273.7ZM168.9 274.7L171 273.7L171.1 275.4ZM179.5 280.3L180.8 278.4L181.7 279.8ZM191.3 285.7L191.3 283.5L192.8 284.1ZM202.4 286.6L201.7 284.4L203.4 284.5ZM212.4 284.1L211.2 282.1L212.9 281.8ZM221.7 280.7L219.9 279.3L221.4 278.5ZM230.4 278.5L228.2 277.8L229.3 276.5ZM238.7 277.2L236.5 277L237.2 275.5ZM246.8 276.3L244.6 276.5L245.1 274.9ZM254.8 275.6L252.5 276L252.9 274.3ZM262.5 274.9L260.4 275.5L260.5 273.8ZM270.1 274.2L268 275L268 273.3ZM277.3 273.6L275.3 274.5L275.2 272.9ZM284.3 273.1L282.3 274.2L282.1 272.5ZM291 272.7L289.1 274L288.8 272.3ZM297.5 272.5L295.8 273.8L295.4 272.3ZM303.9 272.5L302.4 273.8L302 272.4ZM61 282.8L62 282.4L62 283.3ZM67.7 283L68.9 282.5L68.9 283.4ZM74.4 283L75.8 282.4L75.8 283.5ZM80.9 282.7L82.6 282.1L82.5 283.4ZM87.2 282L89.2 281.5L89 283ZM93.2 280.9L95.4 280.7L95 282.3ZM98.9 279.7L101.1 279.7L100.5 281.2ZM104.4 278.8L106.7 278.8L106.1 280.3ZM110.5 278.5L112.8 278.4L112.2 280ZM117.7 279.1L119.9 278.9L119.4 280.5ZM124.8 279.9L127 279.6L126.6 281.2ZM132 280.8L134.2 280.3L133.9 282ZM139.2 281.7L141.4 281.1L141.2 282.8ZM146.5 282.5L148.7 281.7L148.6 283.4ZM153.9 282.8L156 282L156 283.7ZM161.3 282.7L163.4 281.9L163.4 283.6ZM168.6 283L170.7 282.1L170.7 283.8ZM176.2 284.9L178.1 283.7L178.4 285.4ZM184.7 288.5L186.2 286.8L187 288.3ZM197.3 290.1L198 288L199.3 289ZM209.7 288.9L209.2 286.7L210.8 287ZM220.4 287L219 285.9L220.1 285.2ZM229.9 285.7L227.9 285.4L228.7 284.1ZM238.5 284.9L236.3 285L236.9 283.5ZM246.7 284.3L244.5 284.7L244.8 283.1ZM254.6 283.8L252.4 284.4L252.7 282.7ZM262.3 283.4L260.2 284.1L260.3 282.4ZM269.8 283L267.6 283.8L267.7 282.1ZM277 282.7L274.9 283.6L274.8 281.9ZM283.9 282.5L281.8 283.5L281.8 281.8ZM290.6 282.4L288.6 283.4L288.5 281.7ZM297.2 282.4L295.4 283.3L295.3 281.8ZM303.7 282.5L302.1 283.3L302 281.9ZM53.9 291.3L55 291.1L54.8 291.9ZM60.6 291.7L61.8 291.2L61.8 292.2ZM67.3 291.9L68.6 291.3L68.7 292.3ZM74 291.9L75.4 291.2L75.5 292.4ZM80.6 291.8L82.2 291.1L82.3 292.5ZM87 291.5L89 290.8L88.9 292.4ZM93.3 291L95.5 290.4L95.3 292.1ZM99.4 290.3L101.6 289.8L101.3 291.5ZM105.3 289.6L107.5 289.2L107.1 290.9ZM111.2 289.1L113.4 288.8L113.1 290.4ZM117.4 289.1L119.6 288.7L119.3 290.4ZM124.6 289.6L126.8 289.1L126.5 290.8ZM131.9 290.3L134 289.7L133.9 291.4ZM139.2 291.2L141.3 290.4L141.2 292.1ZM146.5 291.9L148.6 291.1L148.6 292.7ZM153.9 292.5L156 291.5L156.1 293.2ZM161.7 292.6L163.7 291.6L163.8 293.3ZM169.3 292.5L171.3 291.5L171.4 293.2ZM177.3 292.6L179.3 291.6L179.4 293.3ZM186.5 293.2L188.5 292L188.7 293.7ZM196.9 293.6L198.7 292.2L199.1 293.8ZM207.3 293.4L208.3 292.2L208.9 293.2ZM242.2 292.4L241.1 292.5L241.3 291.7ZM249.9 292.2L248.7 292.4L248.9 291.5ZM257.4 292L256.2 292.3L256.3 291.4ZM264.8 291.9L263.6 292.3L263.7 291.3ZM272 291.8L270.9 292.2L270.9 291.3ZM279.2 291.8L278.1 292.2L278.2 291.3ZM286.3 291.9L285.3 292.2L285.3 291.4ZM98.2 300.2L99.2 300L99.1 300.7ZM105 299.9L106.2 299.7L106 300.6ZM111.5 299.5L113 299.4L112.7 300.4ZM117.9 299.2L119.6 299L119.3 300.3ZM124.2 299.1L126.2 298.8L125.9 300.3ZM130.7 299.2L132.9 298.8L132.6 300.5ZM137.4 299.6L139.6 299.1L139.4 300.7ZM144.5 300.2L146.6 299.4L146.6 301.1ZM151.9 300.7L153.9 299.8L154 301.5ZM159.5 301.1L161.5 300.1L161.7 301.7ZM167.3 301.2L169.3 300.1L169.5 301.8ZM175.1 301L177 300.1L177.2 301.7ZM182.9 300.8L184.8 299.9L184.8 301.4ZM190.7 300.5L192.5 299.8L192.5 301.2ZM198.7 300.4L200.3 299.8L200.3 301.1ZM206.6 300.4L208.2 299.8L208.1 301ZM214.6 300.5L215.9 300L215.9 301.1ZM222.4 300.7L223.6 300.1L223.7 301.1ZM230.1 300.9L231.2 300.2L231.3 301.2ZM237.7 300.9L238.7 300.3L238.9 301.2ZM245.2 300.9L246.2 300.3L246.3 301.1ZM252.6 300.8L253.6 300.2L253.7 301.1ZM260 300.7L261 300.2L261.1 301ZM267.4 300.7L268.4 300.2L268.4 301ZM274.8 300.7L275.8 300.2L275.8 301ZM282.2 300.8L283.2 300.2L283.3 301ZM289.7 300.8L290.6 300.3L290.7 301ZM297.2 300.8L298.1 300.3L298.2 301ZM127.4 308.8L128.5 308.6L128.3 309.4ZM134.2 308.8L135.5 308.6L135.3 309.5ZM141.2 308.9L142.5 308.6L142.4 309.6ZM148.3 309.2L149.7 308.7L149.6 309.8ZM155.6 309.4L157 308.8L157 309.9ZM163.1 309.6L164.4 308.9L164.5 310ZM170.8 309.6L172 309L172.1 310ZM178.4 309.5L179.5 308.9L179.6 309.9ZM185.9 309.3L187.1 308.8L187.1 309.8ZM193.3 309.1L194.5 308.7L194.4 309.7ZM200.6 309L201.8 308.7L201.7 309.6ZM207.9 309L209.1 308.7L209 309.6ZM215.3 309.1L216.5 308.7L216.4 309.7ZM222.7 309.3L223.9 308.8L223.9 309.7ZM230.2 309.4L231.3 308.9L231.4 309.8ZM237.7 309.5L238.8 309L238.9 309.9ZM245.3 309.6L246.3 309L246.3 309.9ZM252.7 309.5L253.7 309L253.8 309.8ZM260.2 309.5L261.1 309L261.2 309.8ZM267.6 309.4L268.6 309L268.6 309.8ZM275.1 309.4L276 309L276 309.7Z" fill="#111" stroke="#111" stroke-width="0.3"/>
</g>
<rect x="26.4" y="313.6" width="31.8" height="17.6" fill="#fff"/>
<path d="M33 316.4h10.9" stroke="#111" stroke-width="0.8"/>
<path d="M46.4 316.4l-3 -1.3v2.6z" fill="#111"/>
<text x="29.8" y="326.4" font-size="9" fill="#111" textLength="20.4" lengthAdjust="spacingAndGlyphs">8 m/s</text>
<rect x="26.4" y="190.4" width="280" height="140.8" fill="none" stroke="#222" stroke-width="0.9"/>
<path d="M41.1 190.4v-3M41.1 331.2v3M85.3 190.4v-3M85.3 331.2v3M129.6 190.4v-3M129.6 331.2v3M173.8 190.4v-3M173.8 331.2v3M218 190.4v-3M218 331.2v3M262.2 190.4v-3M262.2 331.2v3M306.4 190.4v-3M306.4 331.2v3M26.4 331.2h-3M306.4 331.2h3M26.4 298.7h-3M306.4 298.7h3M26.4 266.2h-3M306.4 266.2h3M26.4 233.7h-3M306.4 233.7h3M26.4 201.2h-3M306.4 201.2h3" stroke="#222" stroke-width="0.8" fill="none"/>
<text x="41.1" y="343.6" font-size="9.2" text-anchor="middle" fill="#222" textLength="22.7" lengthAdjust="spacingAndGlyphs">120°E</text>
<text x="85.3" y="343.6" font-size="9.2" text-anchor="middle" fill="#222" textLength="22.7" lengthAdjust="spacingAndGlyphs">150°E</text>
<text x="129.6" y="343.6" font-size="9.2" text-anchor="middle" fill="#222" textLength="16.4" lengthAdjust="spacingAndGlyphs">180°</text>
<text x="173.8" y="343.6" font-size="9.2" text-anchor="middle" fill="#222" textLength="26.6" lengthAdjust="spacingAndGlyphs">150°W</text>
<text x="218" y="343.6" font-size="9.2" text-anchor="middle" fill="#222" textLength="26.8" lengthAdjust="spacingAndGlyphs">120°W</text>
<text x="262.2" y="343.6" font-size="9.2" text-anchor="middle" fill="#222" textLength="22.2" lengthAdjust="spacingAndGlyphs">90°W</text>
<text x="306.4" y="343.6" font-size="9.2" text-anchor="middle" fill="#222" textLength="22.2" lengthAdjust="spacingAndGlyphs">60°W</text>
<text x="20.3" y="204.5" font-size="9.2" text-anchor="end" fill="#222" textLength="19.1" lengthAdjust="spacingAndGlyphs">75°N</text>
<text x="20.3" y="237" font-size="9.2" text-anchor="end" fill="#222" textLength="19.1" lengthAdjust="spacingAndGlyphs">60°N</text>
<text x="20.3" y="269.5" font-size="9.2" text-anchor="end" fill="#222" textLength="19.1" lengthAdjust="spacingAndGlyphs">45°N</text>
<text x="20.3" y="302" font-size="9.2" text-anchor="end" fill="#222" textLength="19.1" lengthAdjust="spacingAndGlyphs">30°N</text>
<text x="20.3" y="334.5" font-size="9.2" text-anchor="end" fill="#222" textLength="19.1" lengthAdjust="spacingAndGlyphs">15°N</text>
<clipPath id="rce"><rect x="363.2" y="190.4" width="280" height="140.8"/></clipPath>
<g clip-path="url(#rce)">
<path d="M377.9 190.4V330.4M422.1 190.4V224.4M422.1 231.4V318.4M466.4 190.4V203.4M466.4 293.4V319.4M510.6 190.4V192.4M510.6 304.4V330.4M554.8 190.4V195.4M554.8 309.4V330.4M599 190.4V203.4M599 215.4V241.4M599 328.4V330.4M643.2 190.4V250.4M643.2 320.4V330.4M363.2 298.7H479.2M563.2 298.7H575.2M363.2 266.2H441.2M363.2 233.7H444.2M589.2 233.7H643.2M363.2 201.2H470.2M575.2 201.2H600.2M636.2 201.2H643.2" stroke="#dcdcdc" stroke-width="0.5" fill="none"/>
<path d="M363.05 329H641.01M363.05 324.7H641.01M363.05 320.4H641.01M363.05 316H641.01M363.05 311.7H641.01M363.05 307.4H641.01M363.05 303H641.01M363.05 298.7H641.01M363.05 294.4H641.01M363.05 290H641.01M363.05 285.7H393.43M469.16 285.7H555.54M587.05 285.7H641.01M363.05 281.4H393.43M463.26 281.4H558.49M587.05 281.4H641.01M363.05 277H393.43M457.37 277H561.43M584.10 277H641.01M363.05 272.7H393.43M454.42 272.7H564.38M584.10 272.7H638.07M363.05 268.4H393.43M451.47 268.4H567.33M584.10 268.4H635.12M363.05 264H393.43M451.47 264H626.28M363.05 259.7H393.43M448.52 259.7H614.49M363.05 255.4H393.43M448.52 255.4H593.85M445.58 251.1H587.96M407.26 246.7H428.80M448.52 246.7H585.01M407.26 242.4H428.80M448.52 242.4H585.01M407.26 238.1H428.80M448.52 238.1H582.07M407.26 233.7H428.80M451.47 233.7H579.12M454.42 229.4H576.17M457.37 225.1H576.17M460.31 220.7H573.22M463.26 216.4H573.22M466.21 212.1H573.22M472.10 207.7H570.28M483.89 203.4H564.38M501.58 199.1H514.28" stroke="#6e6e6e" stroke-width="0.9" stroke-dasharray="0.9 2.047" fill="none"/>
<path d="M609 331.2 607.1 329.5 604.9 329.3 602.7 329.5 601.2 329 601.6 326.4 602.5 323.6 602.7 320.4 603.4 317.1 601.2 317.3 599.9 318.4 598.4 318.4 598.1 321.5 596.8 323.6 595.3 323.4 593.1 324.3 591.6 323.4 589.7 321.5 588.8 320 588.2 318.2 587.5 315 587.7 312.8 587.6 310.6 588.2 307.4 588.2 304.1 589.4 302.4 590.8 301.5 591.9 300 593.4 299.4 594.7 299.5 596 299.6 598.3 300.7 600.2 300.4 599.6 298.3 601.6 297.8 603.4 297.8 605.3 298.5 607.1 298.7 608.4 299.6 609.6 302 609.9 304.1 611.1 306.9 612.1 309.1 613.3 308.9 613.7 306.3 613.4 304.4 612.8 302.6 612 300.8 611.7 298.7 611.8 296.1 613 293.7 614.9 291.8 616.8 290.3 618.6 288.5 620.4 287.4 620.2 285.4 619.6 283.5 620.4 280.9 621.2 279.4 622.3 277.7 622.6 275.7 624.2 274.4 625.4 274.2 626.5 273.8 628.5 273.4 627.6 272.1 627.4 270.8 629.2 268.6 630.4 267.8 631.7 267.3 633.6 265.8 635.1 265.1 636.6 265.6 635.3 266.7 634.1 267.7 635.1 269.5 636.7 268.6 638 267.1 639.6 266.1 641.3 265.8 643.2 264 641.7 264.9 640.2 264.9 638.8 264.5 637 263.4 636.1 261.7 635.1 259.7 637 258.4 635.8 257.1 634.6 256.9 633.4 258 632.1 257.6 630.9 259.6 629.2 260.4 628.1 261.7 626.7 262.3 627.3 260.4 628.5 259.3 629.7 258.3 630.7 256.9 632.1 255.6 633.6 255 634.8 254.3 636.1 254.5 637.3 254.7 638.5 254.8 639.7 255.5 641 255 642.5 254.8 643.9 254.5 645.1 253.6 646.2 252.5 647.6 252.4 649.5 250.6 648.8 247.4 647.3 247.1 646.1 245.6 644.7 244.5 643.2 243.5 641.9 242.8 641 241.3 639.5 239.1 638.6 237.1 637.3 235.5 635.8 233.3 635.3 235 634.4 236.3 633 236.8 631.7 237.2 630.6 235.9 629.2 235.9 628.6 233.8 628.5 231.6 627 230.5 625.5 229.8 624 229.9 622.5 229.4 621.1 228.7 619.7 228 618.3 228.7 617 228.7 617.1 230.5 616.7 232.2 616.8 234.4 617.4 236.3 618.7 239.1 618.3 240.9 618.1 242.8 617.3 244.4 615.8 244.8 614.9 246.3 615.3 248.1 615.5 250 614.5 252.1 613 252.4 611.9 250.3 610.5 248.9 609.9 246.6 610.3 244.3 609 244.7 607.7 244.1 606.4 244.1 605 242.7 603.4 242.4 602 241.3 600.5 240.7 599 240.5 597.5 240.9 596 240 595.5 237.9 594.3 236.5 592.4 234.8 593.1 231.6 594.2 229.9 595.3 228.3 596.5 227 597.8 226.1 599.5 225.4 601.2 224.8 602.2 223.5 603.4 222.9 604.1 220.3 605.4 220 606.5 219.2 607.8 219.6 609 218.8 610.3 218.1 611.5 217.5 610.8 215.3 610 213.1 608.6 213.1 607.1 212.5 605.6 212.5 604.4 213.5 603.1 213.9 601.9 215.1 600.8 214.2 599.6 213.8 598.3 213.8 596.7 212.5 595.3 211 594.2 210.2 593.4 208.9 592.4 207.9 591.5 209.4 591.6 211.6 590.9 213.1 590.1 216.4 589 217.1 587.7 217.3 586.5 216.8 585 217.4 583.5 217.6 582 217 580.8 217.5 579.6 216.7 578.4 216.4 577.1 216 575.9 216.3 574.7 215.7 573.2 215.6 571.7 216.2 570.5 216.8 569.2 217 567.9 217.3 566.6 216.8 565.3 216.8 563.9 217.2 562.7 216.5 561.4 216.2 560.2 215.4 558.9 215 557.7 214 556.2 214.3 554.7 213.8 553.3 212.7 552 213.3 550.7 212.4 549.4 213.4 548.1 213.4 545.9 213.1 544.5 212 543 211 541.5 212.1 540.1 212.5 538.6 212.5 537.1 213.2 535.6 212.5 534.1 213.1 533 213.9 531.6 213.4 530.5 214.4 529.3 213.6 527.9 214 526.8 213.1 525.3 212.7 523.8 212.7 522.3 212.7 520.9 211.8 519.4 211.2 517.9 211.2 516.5 211.6 515 211.8 513.5 210.7 512 211.2 510.6 211 509 211.2 507.6 210.3 506.1 210.4 504.7 210.3 503.4 210.2 502.3 208.8 501 209 499.7 209.7 498.4 210.1 497.1 210.4 495.8 210.8 494.3 211.3 492.8 211.9 491.4 212.7 490.1 214.3 488.5 214.4 487 214.5 485.8 215.7 487.7 216.6 488.9 217.9 490.4 217.9 492.1 217.8 493.6 219 492.9 220.5 491.5 219.5 489.9 219.4 488.4 219.3 487 220.3 485.4 220.5 484 221.6 485.2 221.9 486.3 222.9 488.5 224 489.7 223.3 490.9 224.7 492.1 224 493.4 224.2 494.7 224.2 493.6 226.1 492.1 225.8 490.6 226.4 489.2 227 487.4 228.7 488.2 231.1 490.2 232 491.3 233.2 492.6 233.7 493.2 236.5 494.5 236.4 495.8 236.8 498 236.3 499.5 237 498 239.1 496.9 240.1 495.8 241.3 494.6 241.6 493.6 242.6 492.5 243.4 491.4 244.1 489.9 244.4 488.8 245.9 490.7 245 492.9 244.6 495.1 243.5 497.3 242.4 498.6 242.1 499.5 240.9 500.4 239.4 501.7 239.1 503 238.4 503.9 237 505.4 235.2 506.9 233.1 508.4 231.8 510.6 231.1 509.3 231.7 508.1 232.6 508.4 235.2 509.8 234.4 511.3 234.2 512.3 233 513.5 232.6 514.9 231.7 516.5 232 517.8 233.2 519.4 233.5 520.9 233.2 522.4 233.5 523.9 233.1 525.3 234.2 526.3 235.3 527.5 235.5 528.9 236 530.2 237 531.9 237.4 533.2 237.9 534.1 239.1 535.2 240.4 536.4 241.3 537.8 243.5 539.6 245.6 540.8 247.8 541.6 249.1 542.7 250 543.7 252.1 542.5 253.7 543.7 255.2 545.2 256.2 546.7 257.6 547.9 258.9 548.6 260.8 549 263.6 548.9 265.5 548.9 267.3 548.2 269 548.1 271 548.7 273.4 548.3 276.2 549.2 278.1 550.4 280.7 551.1 281.8 552 284.4 553.3 286.8 553.9 288.7 555.5 289.2 557.3 290.5 558.9 292.9 559.6 294.8 560.3 296.3 561 297.8 562.4 299.1 563.3 302 562 303.5 563.3 304.6 564.3 305.8 565.4 306.9 566.3 310 568 311.7 569.5 313.9 568.9 312.3 568.5 310.6 567.9 309 567.3 307.4 566.7 305.6 565.8 304.1 565.2 302.4 564.4 300.9 563.4 299.5 562.9 297.6 562.4 294.8 564.4 295.9 564.9 297.5 565.8 298.7 566.6 300.3 567.3 302 568.8 304.1 570.3 306.3 571.7 308.9 572.4 310.6 573.6 311.3 574.7 312.9 575.4 315 576.4 317.1 576.1 319.7 577.6 322.3 579.1 324.1 580.5 325 582 325.6 583 326.8 584.3 327.1 585.3 328 586.5 328.4 587.9 329.4 589.4 329.7 590.8 328.6 592.4 328.8 593.7 330.4 595.3 331.6M361 330.6 359.5 328 358 325.8 356.6 323.6 357.3 321.5 358 319.7 358.8 318.2 360 318 361 316.9 362.9 317.3 363.6 319.7 363.9 317.8 364.9 316.7 366.1 316.5 368.4 315.6 369.8 315.2 372 314.1 373.5 312.8 374.5 311.4 375.7 310.6 377.2 308.9 377.6 306.5 379.1 304.1 380.6 302 380.9 299.1 379.4 298.1 380.7 297.6 380.4 297 380.7 295 379.3 293.3 379 291.6 378.4 290 377.2 287.4 378.2 286.3 379.1 285.1 380.4 284 381.6 282.9 380.1 282.7 378.7 282 376.8 283.3 375.7 282.5 374.5 280.3 375.3 279 376.8 278.1 377.9 276.4 379.7 275.1 381.3 276 380.6 278.1 379.9 279.6 381.6 278.1 383 277.3 384.6 277.3 386 278.1 385.6 279.9 385.7 281.8 387.2 282 388 284 387.7 286.8 387.4 289.2 389 288.5 391.2 287.7 391.8 286.1 391.6 283.5 391.3 281.8 390.5 280.5 389 278.1 390.2 277 391.5 276.5 392.4 274.9 393.7 272.1 394.9 270.5 397.1 271 398.2 269.8 399.6 269.6 400.8 268.8 401.7 266.7 403 265.1 404.5 264 405.2 261.9 406.6 260.3 407.9 258.6 408.1 255.4 408.9 252.1 408.9 250.2 409.3 248.5 408.1 247 406.7 246.3 405.2 247.2 403.7 246.7 402.3 244.6 403.1 242.5 404.5 241.3 406 240.7 407.2 239.4 408.1 237.6 409.4 236.8 410.4 235.4 411.8 235.2 413.3 235.4 414.8 235.7 416.3 235.2 417.7 235.2 419.2 235.7 420.7 234.8 422.1 235.6 423.6 235.6 425.1 235.9 426.3 235.5 427.6 235.6 428.8 234.8 430 233.7 430.9 232.2 431.7 230.5 433.2 230.7 434.7 231.1 436.1 230.9 437.6 229.8 439.1 230.4 440.5 229 442 229.4 441 231.1 439.8 232.6 438.8 233.9 437.6 234.8 436.4 235.5 436 237.6 434.7 238.1 433.4 239.1 432 239.1 431.3 240.8 431.2 242.7 431 244.6 431.2 246.9 431 249.3 431.7 251.2 432 253.2 432.7 251.3 434 250.4 435 248.9 435.7 247.3 436.9 246.3 438.1 244.7 439.5 243.5 441.3 241.3 440.7 239.5 439.8 238.1 440.9 236 442 234.2 443.2 233.2 444.4 232.9 445.7 233.1 446.9 233.2 448.1 233.2 449.2 234.2 450.4 234 451.6 233.7 453 232.2 454.6 231.6 456.1 230.8 457.5 229.8 459.1 229.8 460.5 228.7 461.9 228.3 463.6 228 465.3 228.3 464.4 226.1 463.4 225 462.7 223.5 464.9 224 467.1 222.9 468.6 223.8 470 221.8 471.2 222.5 472.5 222.9 473.7 223.3 475 223.6 476.2 223.5 477.4 224.2 478.5 223 479.6 221.8 481.5 220.5 480.4 219.8 479.3 219.3 478.1 218.8 476.8 217.6 475.3 217.2 473.7 217.5 472.2 217 470.6 216.7 469.3 215.3 466.4 214.4 464.1 213.4 462.8 213.3 461.6 212.8 460.3 212.2 459 212.5 457.7 212.4 456.3 213.1 455 212.6 453.7 212.2 452.4 212.1 450.9 214.7 449.5 214.6 448.5 213.1 447.2 212.9 446 212.9 444.8 213.6 443.7 213 442.5 212.9 441.3 212.9 439.7 212.6 438.1 212.9 437.1 211.8 436.1 210.5 434.8 211.1 433.6 209.5 432.3 210.5 431 209.9 429.7 210.4 428.4 210.6 427.1 210.4 425.8 210.1 424.2 209.8 422.9 208.6 421.4 207.7 420.1 207.7 418.8 207.4 417.5 206.7 416.1 207.8 414.8 207.1 413.6 207 412.5 206.2 411.2 206.4 410.1 206.2 408.9 206 406.7 207.1 405.4 207.3 404.1 207.7 402.8 208.4 401.5 208.8 400 209.1 398.6 209.1 397.1 209 395.6 209.6 394.1 210.3 393.3 208.5 391.9 207.7 390.5 205.6 389.3 204.8 388.1 204.4 386.8 204.5 385.6 204.8 384.5 205.5 383.3 205.6 382.1 205.8 380.9 205.6 379.7 205.9 378.6 204.8 377.3 205.6 376.2 205.1 375 204.7 373.8 204 372.7 203.8 371.5 203.7 370.3 204.7 369.1 204.3 367.6 203.9 366.1 203.7 364.7 204.3 366.1 203.1 367.6 202.3 368.4 199.3 367.2 198.5 366 197.6 364.7 197.8 363.2 197.2 361.7 197.7 360.3 197.5 358.8 196.9 357.5 195.9 356.2 195.6 354.8 195.4 353.6 196.1 352.4 196.1 351.1 196.3 349.9 196.9 348.5 197.5 347 198.2 345.8 197.6 344.6 198.3 343.4 198.5 342.2 198.2 341.1 198.8 339.8 198.4 338.7 199.8 337.4 199.4 336.2 199.1 335 199.9 333.7 199.9 332.3 200.8 330.7 200.1 329.3 201.2 328.6 203.8 327.3 203.2 326 203.4 324.7 204.3 323.4 204 322.2 203.7 321 204.6 319.7 204.5 318.7 205.8 317.5 206.6 316 206.9 314.5 206.7 313.1 207.3 311.7 208.2 310.1 207.7 311.1 209.1 311.6 211 312.9 212 313.9 213.5 315.3 214.2 314.6 216.4 313.1 217 311.6 217 310.1 217.5 309.1 218.6 307.9 219.6 308.8 217.6 309.4 215.3 308.2 213.8 307.2 212.1 308.1 210.7 308.4 208.8 307.9 206 306.5 205.5 305 206.4 303.5 205.6 302 206.2 301.1 207.7 299.8 208.4 299.4 210.3 300.4 211.9 301.9 212.5 302.8 214.2 302 216 299.8 214.9 298.4 214 296.8 214.4 295.4 213.1 293.9 213.3 292.5 212.6 291 212.5 289.5 214.2 288 214.1 286.6 214.7 285.2 214.3 284.1 215.9 282.6 214.9 281.4 216 279.2 215.3 277.9 216.1 276.6 216.7 275.2 216.5 273.8 216.2 272.6 217 271.3 217.2 270 217 268.9 216 267.4 216.2 265.9 215.7 266.3 217.9 266.7 220.1 265.2 220.3 264 221.1 262.9 221.9 261.7 222.7 260.8 224 259.3 223.8 258.1 224.5 256.8 224.7 255.6 225.3 254.1 224.2 252.4 224 251.8 222.1 250.5 221.3 249.7 219.6 251.9 219.6 253.2 220.2 254.5 220.2 255.8 220.7 257.1 220.7 258.5 219.8 260 219.4 261.5 219.6 260.8 217 259.6 215.8 258.2 215.5 256.8 215.1 255.3 215.5 254.1 214.2 252.6 214.4 251.2 213.4 249.7 213.4 248.4 212 246.8 211.4 245.5 211.3 244.3 211.2 243.1 210.3 241.8 210.8 240.7 209.8 239.4 209.9 238.2 210.8 237 210.8 235.7 210.8 234.4 211.1 233.2 212.1 231.8 211.3 230.6 212.1 229.4 212.8 228 212.2 226.9 213.1 225.3 213.8 223.9 215.3 223 216.9 221.7 217.5 220.4 218.8 219.5 220.7 218.7 222.1 217.6 223 216.6 224 215.3 225.5 213.6 226.1 212.1 226.9 210.7 228.1 209.5 228.6 208.5 229.4 208.5 232.6 209.2 235.9 210.8 237.8 212.9 237.8 214.1 237.1 215.1 235.9 216.6 234.2 217.3 235.9 218.5 238.1 219.3 239.5 219.5 241.3 220 243.3 222.2 243.5 223.4 242.6 224.7 242 225.7 239.1 226.3 237.1 227.6 235.9 228.4 233.7 227.2 233 226.4 231.6 226.9 228.7 228.2 227.9 229.1 226.1 230.2 225.3 231.4 225.2 232.3 224 233.6 223 234.3 221.2 235.7 222 237.2 221 238.7 221.8 237.2 223.3 236.3 224.9 235.2 226.2 233.8 226.9 232.8 228.3 232.8 231.6 233.9 232.6 234.8 233.9 236.3 233.2 237.9 233.4 239.4 232.9 240.6 232.7 241.9 233.1 243.1 232.6 244.2 233.8 245.6 233.9 243.9 234 242.4 234.8 241.1 235.4 239.8 234.9 238.5 235.5 237.2 234.8 235.7 236.3 237.1 238.5 236 240.2 234.8 239.5 233.5 238.9 232.2 240.7 232 243.9 230.8 244.6 229.8 245.9 228.4 245 226.9 245.7 225.4 245.6 223.9 246.7 222.2 246.7 220.9 245.6 219.5 245.9 218.2 246.2 216.9 246.1 216.6 243.5 216.6 241.7 216.6 238.9 215.2 239.2 214 240 213 241.3 213.8 242.8 213.9 244.6 213.6 247.2 211.4 247.8 209.9 247.3 208.5 248.2 207.7 250 206.3 252.4 204.8 253 203.3 255 202.1 255.5 201.1 256.7M644.1 260.6 645.4 259.9 646.6 260 647.8 261.4 649.1 260.8 650.1 262 651.6 261.6 652.6 262.7 654 260.6 653.2 259 652.8 257.1 651.3 256.7 649.8 255.8 650.1 253.9 650 251.9 648.8 252.7 647.6 253.2 646.6 255.3 645.4 257.1 644.8 258.9 644.1 260.6M606.5 316.3 607.8 314.7 610 313.7 611.5 314.1 613 313.7 614.5 314.3 615.9 315.2 617 316.4 618.1 317.3 620.1 318 621.2 318.8 622.3 319.9 620.4 320.6 618.7 320.8 617.1 320.6 617.9 319.1 615.9 317.1 614.5 316.1 613 316.5 610.8 315.6 608.6 316.3 606.5 316.3M622 324.1 623.4 322.6 624.3 320.6 625.7 321.1 627 320.6 628.1 321.5 629.2 322.1 630.8 323.6 628.8 324.3 627.5 324.5 626.4 325.6 624.3 324.5 623.2 323.7 622 324.1M616.2 323.8 617.7 324 619.2 324.5 618.3 324.9 617 324.9 616.2 323.8M632.6 323.6 633.8 323.4 634.9 323.8 634.8 324.7 632.6 324.7 632.6 323.6M616.4 311.3 617.1 309.3 616.8 311.1M615.2 305.9 617 306.1M617.9 306.1 618.1 307.2M619.2 308.9 618.7 310.4M636.3 230.9 634.4 229 632.9 228.5 631.4 228.1 629.9 227.5 628.3 227.3 627 225.9 625.8 225.4 624.5 225.1 623.3 224.6 621.8 224.6 620.4 224.4 619.2 223.8 617.9 224.1 616.7 224 617.4 221.8 618.7 221.6 620 221.4 621.3 222.4 622.6 221.8 623.3 219.6 624.8 218.8 623.8 217.6 622.6 216.8 621.7 215.3 620.2 215.3 619.1 214.2 618.1 212.9 616.8 211.6 615.1 212.3 613.7 211 612.3 212 610.8 211.9 609.3 212.1 607.8 211.9 606.4 210.8 604.9 211 603.5 209.9 601.9 210.3 600.5 209.9 600.1 207.9 599 206.6 600.6 206 601.9 204.5 603.1 204.8 604.3 205 605.5 204.3 606.7 204.2 607.8 204 609 203.5 610.2 204 611.4 203.8 612.5 204 613.7 204 615.3 204.5 616.7 205.6 618.1 206.2 619.6 207 621.2 206.5 622.6 207.7 624.2 207.7 625.6 208.7 627 209.9 628.3 210.1 629.4 211.2 630.7 211.4 631.7 212.6 632.9 213.1 633.6 215.3 634.8 216.4 636 217.5 637.6 217.4 638.8 218.6 640.5 219.2 639.6 220.3 639.1 222 638 222.9 635.8 224 636.6 226.8 635.8 228.3 636.3 230.9M604.1 226.1 605.5 226.5 606.8 226.5 608.2 226.8 609.4 227.9 610.8 227.7 612.3 227.2 613.3 225.5 612.1 224.5 610.9 223.4 609.4 223.3 608.2 222.3 607.1 221.2 605.7 222.7 604.1 224 604.1 226.1M556.3 208.6 557.5 207.7 558.5 206.2 559.8 205.9 561.2 205.9 562.5 205.6 563.9 206.5 565.2 206.4 566.6 206 567.8 206.4 569 206.1 570.2 205.2 571.5 206 572.7 205.2 573.9 205.1 575.1 205.7 576.4 205.7 577.6 205.6 578.5 206.9 579.6 207.8 580.4 209.3 580.8 211.3 582 212.1 580.8 213.1 579.8 214.7 578.6 214.2 577.4 215.3 576.2 215.2 574.9 215.3 573.7 215.3 572.5 214.9 571.2 215 570 215 568.9 214.5 567.8 213.5 566.6 213.6 565.2 213.5 564 212.5 562.6 212.3 561.4 211.4 560.2 211.4 559 211 557.7 211 556.3 208.6M547.4 207.9 548.5 206.5 548.9 204.5 550.1 203.7 551.4 203.4 552.7 202.5 554 202.7 555.4 203.8 556.9 204.5 558.5 204.9 557.7 207.7 556.5 208.5 555.2 208.8 553.8 208.7 552.6 209.5 551.2 209.4 550 208.6 548.6 208.7 547.4 207.9M587.2 209.2 587.3 207.4 588.6 206.4 588.7 204.5 587.3 204.8 586 204 584.7 205.2 583.4 203.7 582 204.5 581 205.7 579.7 206.2 578.4 206.6 579.8 207.1 581.1 207.9 582 209.5 583.3 209.8 584.6 209.6 585.9 209 587.2 209.2M593.1 207.7 594.6 203.8 598.3 203.4 593.8 207.7M613.7 202.3 612.5 202.3 611.4 202.7 610.2 202.9 609 201.8 607.8 202.5 606.6 202.4 605.5 202.3 604.3 201.4 603.1 201.2 601.9 201.7 600.8 202.2 599.6 201.4 598.4 201.8 597.2 201.4 596 201.7 594.8 201.6 593.6 201.3 592.5 200 591.2 200.3 590.1 199.1 591.5 199.5 592.7 198.2 594 197.8 595.3 198.7 596.6 197.7 597.9 197.7 599.1 196.9 600.5 197.3 601.7 197.9 603 197.5 604.4 197.2 605.6 197.7 606.9 198.3 608.2 198.8 609.5 197.6 610.8 198.4 611.7 199.7 613.1 200.5 613.7 202.3M613.7 198.4 612.5 197.8 611.3 198.4 610.1 197.8 608.9 197.4 607.7 197.7 606.5 197.6 605.3 197.4 604.1 197.2 602.9 196.8 601.7 196.7 600.5 196.9 599.5 194.9 599 192.6 598 191.3 596.7 190.6 595.5 189.7 594.6 188.2 595.7 187.3 596.8 186.8 598.2 187.5 599.3 187.1 600.4 185.9 601.6 185.8 602.9 185.9 604 184.9 605.1 184.2 606.4 184.3 607.6 183.8 608.8 184.7 610 184.6 611.3 185 612.5 183.5 613.7 184.6 615 183.8 616.2 184.1 617.4 184 618.6 184.1 619.9 183.6 621.1 183.9 622.3 184.3 623.6 184.6 624.8 184 626 183.3 627.2 184.5 628.5 183.9 629.7 183.7 630.8 183.9 632 184.7 633.2 184.8 634.4 184.2 635.5 184.6 636.7 184.8 637.9 184.8 639 185.5 640.3 185 639.1 185.9 637.8 186.3 636.5 186.9 635.1 187.2 634 188.5 632.8 189.2 631.4 189.3 630.2 190 628.9 190 627.7 190.8 626.6 191.4 625.5 192.6 624.3 192.2 623.2 193.4 622 193.5 620.7 193.3 619.6 194.1 618.4 196 616.7 196.9 615.2 197.8 613.7 198.4M594.6 194.7 593.3 193.6 592.2 192.4 591.2 190.7 590.1 189.3 591.4 189.1 592.7 189 593.9 187.9 595.2 188.8 596.5 188.8 597.8 188.4 599 187.8 599.9 189.3 601.1 190.4 602.2 191.7 603.4 192.6 602.1 192.3 600.9 192.9 599.6 193.2 598.4 193.9 597 193.7 595.8 193.8 594.6 194.7M557.7 200.1 559 198.4 560.7 197.8 561.9 197.6 563.1 197.6 564.4 197.5 565.6 198.6 566.8 198.1 568.1 197.8 569.3 198 570.5 198.5 571.7 199.2 572.9 199 574.2 198.2 575.4 199.1 576.9 201.2 575.6 200.8 574.3 201.2 573 202.3 571.7 201.7 570.4 201.5 569.1 201.8 567.9 202.8 566.6 202.3 565.3 201.8 564.1 201.6 562.8 201.6 561.5 201.5 560.3 200.8 559.1 199.8 557.7 200.1M584.3 200.1 587.2 198 582.8 198.6 584.3 200.1M593.1 202.1 590.1 200.4 593.8 199.9M554.8 198.6 551.1 198 559.2 195.2 557.7 197.3M576.1 195.8 578.4 193 569.5 194.1M624.8 193.6 625.8 194.7 627.2 194.9 628.3 195.9 629.1 197.6 630.5 197.7 631.4 199.1 632.6 198.9 633.8 199.8 634.9 198.4 636.1 199.4 637.3 199.4 638.5 199.2 639.7 198.9 640.8 199.6 642 198.8 643.2 199.1 644.8 199.3 646.2 200.5 647.6 201.2 648.6 202.8 649.2 204.7 649.8 206.6 650.8 207.8 651 209.8 652 211 653.5 211.6 655 211.7 656.5 212.1 655 212.6 654.3 214.8 652.8 215.3 653.3 217.1 653.5 219 653.9 221 655.1 222.2 655.7 224 656.4 225.4 656.9 227 657.7 228.4 658.7 229.4 659.8 230.5 660.9 231.6 661.9 232.7 663.3 232.5 664.4 233.1 665.5 234.2 666.8 234.2 667.7 233 669 232.6 670.2 231.8 671.1 230.3 671.5 228.2 672.7 227.2 674 226.2 674.9 224.6 676 223.1 677.1 221.8 678.3 221 679.5 220.1 680.6 219.2 681.8 218.4 683 217.5 684.3 217.9 685.5 216.5 686.9 217 688.2 217.1 689.5 216.3 690.7 215.4 692 215.4 693.3 215.3 694.6 214.6 695.9 213.7 697.3 213.3 698.5 212.1 697.6 210.7 697.1 209 696.3 207.7 697.6 207.5 698.8 206.5 700 205.7 700.9 204 702.1 203.4 702.3 201 702.9 198.9 703.6 196.9 704.2 195.2 704.5 193.4 704.4 191.5 705.2 190 706.5 189.9 707.6 189.3 708.4 187.9 709.5 187.2 708.2 187.1 706.9 186.7 705.7 186.3 704.4 185.8 703.1 185.8 701.8 185.5 700.5 185.5 699.2 185 698 184.7 696.9 184.3 695.6 185.1 694.5 183.5 693.3 184.3 692.1 183.6 690.9 183.9 689.7 183.6 688.6 183.1 687.4 182.8 686.2 183 684.9 182.5 683.7 182.2 682.5 183.3 681.3 182.6 680 182.4 678.8 183.5 677.6 183.2 676.3 182.4 675.1 183.2 673.9 182.7 672.7 183.3 671.5 183.9 670.2 183.2 669 184.3 667.8 184 666.5 183.3 665.3 184 664.1 185 662.9 184.7 661.6 184 660.4 184.5 659.1 184.5 657.9 185 656.7 184.5 655.5 185.3 654.3 185.6 653 184.9 651.8 185.5 650.6 186.1 649.4 186.2 648.1 185.2 646.9 185.2 645.7 186.5 644.4 185.7 643.2 186.1 641.9 185.9 640.8 187.2 639.5 186.8 638.3 187.8 637.1 188.2 635.8 188.2 634.3 188.7 632.9 189.6 631.4 190.4 630 190.7 628.9 192.1 627.4 192 626 192.7 624.8 193.6M403 201.7 404.3 202.1 405.5 201.7 406.7 201.1 407.9 200.4 409.2 200.9 410.4 200.1 411.6 200.8 412.9 200.7 414.2 199.9 415.4 200.9 416.7 200.1 417.9 200.3 419.2 200.6 417.8 200.4 416.6 201.4 415.3 201.7 414 202.1 412.9 203.3 411.4 202.4 410.1 202.7 408.9 203.8 407.6 204 406.6 202.8 405.4 202.1 404.2 201.8 403 201.7M467.1 208.8 468.5 209.8 470 209.5 464.9 209.9 464.1 209 467.1 208.8M410.4 264 410.8 262.4 411.3 260.7 411.7 259 412.6 257.6 413.6 257.1 413.2 255.3 412.3 253.9 411.8 252.1 411.3 250.2 411.1 248.2 411.4 246.1 410.7 246.7 409.9 248.7 409.8 251.1 410 252.8 410.1 254.5 410.1 256.3 410.7 257.9 410.4 259.7 410.3 261.9 410.2 264 410.4 264M407.4 273.8 409.2 273.1 410.7 272.9 412.3 272.7 413.3 271.7 414.3 270.4 415.5 269.9 414 268.4 412.6 267.8 411.3 266.7 410.2 265.1 409.6 268.4 408 269.9 407.1 272.5 407.4 273.8M394 290.3 395.5 289.8 397.1 289.4 398.7 289.9 400 291.1 401.3 289.9 402.8 289.4 404.2 288.5 405.6 288.7 407.1 287.9 408.7 286.4 408.7 284.4 408.3 282.5 409.6 280.3 409.1 278.1 409.6 276 409.5 274 407.4 274.9 407.4 278.1 406.7 279.8 405.9 281.4 404.6 282.8 403 283.5 402.4 285.1 401.5 286.4 400.1 287.2 398.6 286.3 397.1 286.8 395.6 287.9 394.1 289.4 394 290.3M392.4 291.6 392.6 293.8 393.1 295.9 394.6 295.7 395.2 292.6 394.1 290.3 392.4 291.6M396.4 291.8 397.9 290.9 399.6 290.5 398.9 289.4 397.1 290 396.4 291.8M378.1 313.9 379.4 316.3 379.7 314.1 380.4 312.1 380.7 310 379.6 309.3 379 311.7 378.1 313.9M378.8 323.6 380 324 381.2 323.6 381.2 326.9 380.1 329.5 380.3 332.3 378.7 332.3 377.9 329 378.5 326.9 378.8 323.6M361.3 322.1 363.2 320.2 364.7 321 363.9 323.8 362.5 324.3 361.3 322.1M354.4 251.7 355.8 250.8 357.3 250 358.6 249.6 359.7 248.3 361 247.8 361.8 246.4 362.2 244.6 362.8 243 362.2 243.9 361.6 245.8 360.1 246.4 359.5 248.2 357.9 249.4 356.6 251.1 354.4 251.7M595.9 262.5 597.5 262 599 262.7 600.6 262.3 601.9 260.8 603.4 261.6 604.9 262.5 606.9 263 606.7 260.8 605.8 259.5 604.9 258.2 603.7 259 602.4 258.3 601.2 258.6 599.7 259.7 598.4 260.6 597.2 261.7 595.9 262.5M602.1 273.4 602.7 270.5 601.9 267.3 603 266.1 603.4 264.3 604.9 263.7 606.4 264.5 605.2 265.6 604.6 267.3 604.7 269.5 604.3 271.6 603.3 272.9 602.1 273.4M607.1 264.5 608.5 263.7 610 264.3 611.5 264.3 613 264.5 613.7 266.9 612.5 266.5 611.2 266.2 611.2 268.1 611.2 269.9 610 270.5 608.6 268.8 608.9 267.3 607.8 266.1 607.1 264.5M608.7 273.4 609.9 274.2 611.2 273.8 612.5 272.8 614.1 272.7 615.2 271.2 613 271.4 611.5 272.1 610 272.7 608.7 273.4M614 269.9 615.3 269.7 616.7 269.7 618 269.8 619.2 269.2 618.9 267.9 617.5 268.5 616.1 269.3 614.6 269 614 269.9M559.2 231.6 560.4 231.9 561.5 230.7 562.7 230.6 563.9 231.9 565.1 231.1 566.2 229.8 567.6 229.1 568.9 228.3 570.3 227.7 568.9 227.1 567.7 228.5 566.4 228 565.1 228.3 563.7 229.5 562.2 229.8 560.7 230.5 559.2 231.6M547.4 222.9 548.7 223 549.9 222.4 551.1 222.7 552.3 221.7 553.6 222 554.8 221.8 556 220.9 557 219.6 555.7 219.9 554.5 219.4 553.3 218.6 551.9 219.6 550.4 219.8 548.9 220.1 547.9 221.2 547.4 222.9M588.7 254.3 589.4 251.1 588.4 249.7 587.4 248.5 586.5 247.2 587.5 248.9 587.9 251.1 588.7 254.3M568 235.9 572.5 235.5 573.9 235 569.5 236.1M484.8 247.6 486.3 246.7M481.1 249.3 483.3 248.2M475.9 250.6 478.1 250.2M470.8 251.5 473 251.3M465.6 251.3 468.6 251.7M462.7 251.1 464.1 251.7M455.3 249.1 457.5 249.5M416 269.5 417.4 268.4M418.9 267.1 420.4 265.6M421.4 264.7 422.9 263.4M424.8 262.1 425.8 261.2M427.3 259.7 428.3 258.4M429.2 257.1 430.4 255.4M431 254.5 431.7 253.7" stroke="#1a1a1a" stroke-width="0.6" fill="none" stroke-linejoin="round"/>
<path d="M370.6 194.9h.4M377.9 194.9h.4M385.3 194.9h.4M392.7 194.9h.4M400 194.9h.4M407.4 194.9h.4M414.8 194.9h.4M422.1 194.9h.4M429.5 194.9h.4M436.9 194.9h.4M444.3 194.9h.4M451.6 194.9L452 194.6M459 194.9L459.9 194.4M466.4 194.9L468.1 194M473.7 194.9L476.6 193.8M481.1 194.9L485.1 193.6M488.5 194.9L493.7 193.7M495.8 194.9L502 194M503.2 194.9L509.9 194.5M510.6 194.9L517.3 195.1M517.9 194.9L524.4 195.5M525.3 194.9L531.3 195.7M532.7 194.9L538.3 195.5M540 194.9L545.7 194.9M547.4 194.9L553.4 194.5M554.8 194.9L561 194.6M562.1 194.9L567.9 195.3M569.5 194.9L574 196.2M576.9 194.9L579.7 196.6M584.3 194.9L585.5 196.5M591.6 194.9L591.9 196M599 194.9L598.7 195.5M606.4 194.9L605.8 195.2M613.7 194.9L613.1 195M621.1 194.9L620.5 194.8M628.5 194.9L627.9 194.8M635.8 194.9L635.3 194.7M370.6 203.7h.4M377.9 203.7h.4M385.3 203.7h.4M392.7 203.7L392.3 203.7M400 203.7L399.6 203.7M407.4 203.7L406.9 203.7M414.8 203.7L414.3 203.7M422.1 203.7L421.7 203.7M429.5 203.7L429.1 203.6M436.9 203.7h.4M444.3 203.7L444.5 203.1M451.6 203.7L452.8 202.6M459 203.7L461.5 201.8M466.4 203.7L470.7 201.1M473.7 203.7L480.1 200.6M481.1 203.7L489.4 200.5M488.5 203.7L498.3 201M495.8 203.7L506.8 201.8M503.2 203.7L514.9 202.9M510.6 203.7L522.5 203.9M517.9 203.7L529.8 204.7M525.3 203.7L537.3 204.8M532.7 203.7L545 204.1M540 203.7L552.5 203.3M547.4 203.7L559.9 203.1M554.8 203.7L566.5 204.4M562.1 203.7L571.3 206.4M569.5 203.7L575.4 208M576.9 203.7L580 208.1M584.3 203.7L585.4 207M591.6 203.7L591.9 205.7M599 203.7L598.8 204.7M606.4 203.7L606.1 204.1M613.7 203.7L613.4 203.8M621.1 203.7L620.7 203.6M628.5 203.7L628.1 203.5M635.8 203.7L635.5 203.4M370.6 212.5L369.9 212.7M377.9 212.5L377 212.7M385.3 212.5L384.1 212.7M392.7 212.5L391.2 212.7M400 212.5L398.4 212.7M407.4 212.5L405.6 212.6M414.8 212.5L412.9 212.5M422.1 212.5L420.4 212.3M429.5 212.5L428 212.1M436.9 212.5L436 211.6M444.3 212.5L444.5 210.7M451.6 212.5L453.5 209.5M459 212.5L463.2 208.2M466.4 212.5L473 207.2M473.7 212.5L482.7 206.8M481.1 212.5L491.8 207.3M488.5 212.5L500.3 208.4M495.8 212.5L508 209.8M503.2 212.5L515.6 211.3M510.6 212.5L523.1 212.4M517.9 212.5L530.4 213M525.3 212.5L537.8 212.8M532.7 212.5L545.2 212.3M540 212.5L552.5 212.3M547.4 212.5L559.8 213.9M554.8 212.5L563.9 216.8M562.1 212.5L567.7 219.4M569.5 212.5L572.4 220.2M576.9 212.5L578.2 219M584.3 212.5L584.9 216.9M591.6 212.5L592 214.9M599 212.5L599.3 213.6M606.4 212.5L606.6 212.9M613.7 212.5h.4M621.1 212.5h.4M628.5 212.5h.4M635.8 212.5h.4M370.6 221.3L369.7 221.9M377.9 221.3L376.8 221.9M385.3 221.3L383.9 221.9M392.7 221.3L391 221.8M400 221.3L398.1 221.7M407.4 221.3L405.3 221.5M414.8 221.3L412.7 221.3M422.1 221.3L420.2 220.9M429.5 221.3L427.9 220.3M436.9 221.3L436.2 219.2M444.3 221.3L445 217.5M451.6 221.3L454.5 215.6M459 221.3L464.2 214M466.4 221.3L473.7 213.3M473.7 221.3L482.5 213.7M481.1 221.3L490.6 215M488.5 221.3L498 216.7M495.8 221.3L505.2 218.5M503.2 221.3L512.3 219.9M510.6 221.3L519.8 220.8M517.9 221.3L527.4 221.2M525.3 221.3L534.9 221.3M532.7 221.3L541.5 221.8M540 221.3L547.2 223.4M547.4 221.3L552.3 226.1M554.8 221.3L557.8 228.9M562.1 221.3L564.2 230.5M569.5 221.3L571.3 230.2M576.9 221.3L578.5 228.4M584.3 221.3L585.6 226M591.6 221.3L592.8 223.9M599 221.3L600 222.5M606.4 221.3L607.3 221.8M613.7 221.3L614.6 221.5M621.1 221.3L621.9 221.3M628.5 221.3L629.2 221.2M635.8 221.3L636.5 221.1M370.6 230.1L370.6 230.9M377.9 230.1L378 230.9M385.3 230.1L385.5 230.8M392.7 230.1L393.1 230.7M400 230.1L400.7 230.6M407.4 230.1L408.2 230.4M414.8 230.1L415.6 230M422.1 230.1L423.1 229.5M429.5 230.1L430.6 228.4M436.9 230.1L438.6 226.7M444.3 230.1L447 224.4M451.6 230.1L455.7 222.1M459 230.1L464.4 220.6M466.4 230.1L472.8 220.6M473.7 230.1L480.4 221.9M481.1 230.1L487.4 224M488.5 230.1L494 226.2M495.8 230.1L500.5 227.9M503.2 230.1L507.3 229M510.6 230.1L514.4 229.6M517.9 230.1L521.6 230M525.3 230.1L528.7 230.7M532.7 230.1L535.5 231.9M540 230.1L542.3 233.8M547.4 230.1L549.7 235.9M554.8 230.1L557.5 238M562.1 230.1L565.3 239.2M569.5 230.1L572.6 239.2M576.9 230.1L579.5 237.6M584.3 230.1L586.3 235.3M591.6 230.1L593.3 233M599 230.1L600.5 231.5M606.4 230.1L607.8 230.7M613.7 230.1L615.1 230.3M621.1 230.1L622.4 230.1M628.5 230.1L629.7 230.1M635.8 230.1L636.9 230M370.6 238.9L371 239.6M377.9 238.9L378.6 239.4M385.3 238.9L386.3 239.1M392.7 238.9L394.2 239M400 238.9L402 239M407.4 238.9L409.7 239M414.8 238.9L417.2 238.8M422.1 238.9L424.6 238.2M429.5 238.9L431.9 237M436.9 238.9L439.5 235M444.3 238.9L447.2 232.3M451.6 238.9L455 229.8M459 238.9L462.8 228.6M466.4 238.9L470.2 229.2M473.7 238.9L477.3 231.2M481.1 238.9L484 233.7M488.5 238.9L490.6 236M495.8 238.9L497.3 237.6M503.2 238.9L504.1 238.4M510.6 238.9L511.2 238.6M517.9 238.9L518.5 238.9M525.3 238.9L526 239.6M532.7 238.9L533.6 240.8M540 238.9L541.3 242.3M547.4 238.9L549.2 244.1M554.8 238.9L556.9 246.2M562.1 238.9L564.3 248M569.5 238.9L571.4 248.4M576.9 238.9L578.5 247M584.3 238.9L585.7 244.5M591.6 238.9L593.1 242M599 238.9L600.5 240.3M606.4 238.9L607.9 239.5M613.7 238.9L615.3 239.1M621.1 238.9L622.6 239M628.5 238.9L629.9 239M635.8 238.9L637.1 239M370.6 247.7L370.5 248.4M377.9 247.7h.4M385.3 247.7h.4M392.7 247.7L393.2 247.2M400 247.7L400.9 247.4M407.4 247.7L408.5 247.6M414.8 247.7L415.9 247.5M422.1 247.7L423.3 247M429.5 247.7L430.5 245.9M436.9 247.7L437.8 243.7M444.3 247.7L445 240.9M451.6 247.7L452.2 238.4M459 247.7L459.5 237.3M466.4 247.7L466.7 238.2M473.7 247.7L474 240.4M481.1 247.7L481.3 243M488.5 247.7L488.6 245.4M495.8 247.7L495.9 246.9M503.2 247.7h.4M510.6 247.7h.4M517.9 247.7h.4M525.3 247.7L525.1 248.3M532.7 247.7L532.3 249.5M540 247.7L539.4 251M547.4 247.7L546.4 252.9M554.8 247.7L553.3 255.1M562.1 247.7L560.4 257M569.5 247.7L567.9 257.2M576.9 247.7L576.1 255.3M584.3 247.7L584.5 252.8M591.6 247.7L592.6 250.5M599 247.7L600.3 248.9M606.4 247.7L607.9 248.2M613.7 247.7L615.3 248M621.1 247.7L622.6 247.9M628.5 247.7L629.9 248M635.8 247.7L637.1 248M370.6 256.5L370.3 257.3M377.9 256.5L377.5 256.8M385.3 256.5L385 255.9M392.7 256.5L392.5 255.7M400 256.5L400.1 255.9M407.4 256.5h.4M414.8 256.5h.4M422.1 256.5L422.3 256M429.5 256.5L429.4 254.9M436.9 256.5L436.3 252.9M444.3 256.5L443 250.2M451.6 256.5L449.6 247.7M459 256.5L456.3 246.5M466.4 256.5L463.3 247M473.7 256.5L470.8 249M481.1 256.5L478.6 251.5M488.5 256.5L486.6 253.8M495.8 256.5L494.6 255.3M503.2 256.5L502.4 256.1M510.6 256.5L509.9 256.4M517.9 256.5L516.9 256.8M525.3 256.5L523.6 257.7M532.7 256.5L530.1 259M540 256.5L536.4 260.7M547.4 256.5L542.8 262.5M554.8 256.5L549.5 264.5M562.1 256.5L556.7 265.9M569.5 256.5L564.6 264.9M576.9 256.5L573.8 262.1M584.3 256.5L583.4 259.9M591.6 256.5L592.1 258.4M599 256.5L600.1 257.3M606.4 256.5L607.7 256.9M613.7 256.5L615.1 256.8M621.1 256.5L622.4 256.8M628.5 256.5L629.7 256.9M635.8 256.5L636.9 257M370.6 265.3L370.5 266.3M377.9 265.3h.4M385.3 265.3L385.2 264.6M392.7 265.3L392.6 264.3M400 265.3L400 264.6M407.4 265.3h.4M414.8 265.3h.4M422.1 265.3L422 264.9M429.5 265.3L429.1 264.2M436.9 265.3L435.8 262.6M444.3 265.3L442.1 260.3M451.6 265.3L448 257.9M459 265.3L453.9 256.4M466.4 265.3L460.3 256.2M473.7 265.3L467.4 257.5M481.1 265.3L475.2 259.5M488.5 265.3L483.3 261.6M495.8 265.3L491.5 263.3M503.2 265.3L499.4 264.5M510.6 265.3L506.9 265.4M517.9 265.3L513.8 266.4M525.3 265.3L520.4 267.6M532.7 265.3L526.7 269.2M540 265.3L533.1 270.7M547.4 265.3L539.8 272.1M554.8 265.3L547.1 273.5M562.1 265.3L554.7 274.5M569.5 265.3L563 272M576.9 265.3L572.9 267.6M584.3 265.3L582.9 266.3M591.6 265.3L591.8 266.1M599 265.3L599.8 265.7M606.4 265.3L607.3 265.5M613.7 265.3L614.8 265.6M621.1 265.3L622.1 265.7M628.5 265.3L629.4 265.8M635.8 265.3L636.7 265.9M370.6 274.1L370.8 275M377.9 274.1L378.2 274.4M385.3 274.1L385.6 273.5M392.7 274.1L392.8 273.1M400 274.1L400.1 273.4M407.4 274.1h.4M414.8 274.1h.4M422.1 274.1h.4M429.5 274.1L429.2 273.5M436.9 274.1L435.9 272.5M444.3 274.1L442.1 270.9M451.6 274.1L447.7 268.9M459 274.1L453.1 267.1M466.4 274.1L458.6 266.4M473.7 274.1L464.7 266.7M481.1 274.1L471.6 267.9M488.5 274.1L479.1 269.6M495.8 274.1L486.8 271.4M503.2 274.1L494.5 272.9M510.6 274.1L501.9 274.4M517.9 274.1L509 275.8M525.3 274.1L516 277.4M532.7 274.1L523 278.8M540 274.1L530.3 279.9M547.4 274.1L538.2 280.6M554.8 274.1L546.7 281.5M562.1 274.1L555.4 282.3M569.5 274.1L564.3 278.6M576.9 274.1L573.8 273.1M584.3 274.1L583.2 272.8M591.6 274.1h.4M599 274.1L599.4 274.1M606.4 274.1L606.9 274.2M613.7 274.1L614.3 274.4M621.1 274.1L621.6 274.6M628.5 274.1L629 274.7M635.8 274.1L636.3 274.8M370.6 282.9L371 283.6M377.9 282.9L378.5 283.1M385.3 282.9L385.8 282.4M392.7 282.9L393 282.1M400 282.9L400.2 282.4M407.4 282.9h.4M414.8 282.9h.4M422.1 282.9h.4M429.5 282.9h.4M436.9 282.9L436.3 282.2M444.3 282.9L442.8 281.3M451.6 282.9L448.7 280M459 282.9L454 278.6M466.4 282.9L459.1 277.5M473.7 282.9L464.4 277.2M481.1 282.9L470.2 277.6M488.5 282.9L476.7 278.7M495.8 282.9L483.6 280.1M503.2 282.9L490.8 281.7M510.6 282.9L498.1 283.2M517.9 282.9L505.6 284.7M525.3 282.9L513.2 286.1M532.7 282.9L521.3 287.2M540 282.9L529.9 287.7M547.4 282.9L539 287.6M554.8 282.9L548.4 288.1M562.1 282.9L558.1 288.9M569.5 282.9L567.5 285.3M576.9 282.9L576 280.1M584.3 282.9L583.8 280.4M591.6 282.9L591.4 282.2M599 282.9h.4M606.4 282.9h.4M613.7 282.9h.4M621.1 282.9L621.1 283.4M628.5 282.9L628.5 283.5M635.8 282.9L635.8 283.7M370.6 291.7L371 292.2M377.9 291.7L378.5 291.8M385.3 291.7L385.8 291.4M392.7 291.7L393 291.2M400 291.7L400.2 291.4M407.4 291.7h.4M414.8 291.7h.4M422.1 291.7h.4M429.5 291.7h.4M436.9 291.7h.4M444.3 291.7L443.6 291.1M451.6 291.7L450.2 290.5M459 291.7L456.2 289.7M466.4 291.7L461.7 288.9M473.7 291.7L467.1 288.4M481.1 291.7L472.5 288.4M488.5 291.7L478.3 288.8M495.8 291.7L484.5 289.6M503.2 291.7L491.3 290.7M510.6 291.7L498.6 291.9M517.9 291.7L506.4 293M525.3 291.7L514.6 293.9M532.7 291.7L523.4 294.3M540 291.7L532.5 294.3M547.4 291.7L541.8 294M554.8 291.7L551.1 294.2M562.1 291.7L560.7 294.8M569.5 291.7L570 292.5M576.9 291.7L577.4 289M584.3 291.7L584 289.5M591.6 291.7L591.1 291M599 291.7L598.4 291.5M606.4 291.7L605.8 291.7M613.7 291.7L613.2 291.9M621.1 291.7L620.6 292.1M628.5 291.7L628 292.3M635.8 291.7L635.4 292.4M370.6 300.5L370.9 300.8M377.9 300.5L378.3 300.6M385.3 300.5L385.7 300.3M392.7 300.5h.4M400 300.5h.4M407.4 300.5h.4M414.8 300.5h.4M422.1 300.5h.4M429.5 300.5h.4M436.9 300.5h.4M444.3 300.5h.4M451.6 300.5L451.1 300.2M459 300.5L457.9 299.9M466.4 300.5L464.4 299.5M473.7 300.5L470.6 299.2M481.1 300.5L476.7 299.1M488.5 300.5L482.9 299.2M495.8 300.5L489.3 299.5M503.2 300.5L496.1 300M510.6 300.5L503.4 300.5M517.9 300.5L511.1 301M525.3 300.5L519.3 301.3M532.7 300.5L527.7 301.4M540 300.5L536.3 301.2M547.4 300.5L544.8 301M554.8 300.5L553.2 301M562.1 300.5L561.8 301.4M569.5 300.5L570.2 300.4M576.9 300.5L577.3 298.8M584.3 300.5L583.8 299.2M591.6 300.5L590.8 300M599 300.5L598 300.3M606.4 300.5L605.4 300.5M613.7 300.5L612.8 300.7M621.1 300.5L620.2 300.9M628.5 300.5L627.6 301M635.8 300.5L635.1 301.1M370.6 309.3h.4M377.9 309.3h.4M385.3 309.3h.4M392.7 309.3h.4M400 309.3h.4M407.4 309.3h.4M414.8 309.3h.4M422.1 309.3L421.8 309.3M429.5 309.3L429.1 309.3M436.9 309.3L436.5 309.3M444.3 309.3L443.8 309.3M451.6 309.3L451.2 309.2M459 309.3L458.4 309.2M466.4 309.3L465.6 309.1M473.7 309.3L472.6 309M481.1 309.3L479.5 308.9M488.5 309.3L486.4 308.9M495.8 309.3L493.4 308.9M503.2 309.3L500.5 309M510.6 309.3L507.9 309.2M517.9 309.3L515.4 309.3M525.3 309.3L523.1 309.3M532.7 309.3L530.9 309.3M540 309.3L538.7 309.2M547.4 309.3L546.4 309M554.8 309.3L554 309M562.1 309.3L561.7 309.2M569.5 309.3L569.4 308.9M576.9 309.3L576.5 308.4M584.3 309.3L583.4 308.6M591.6 309.3L590.5 308.9M599 309.3L597.8 309.1M606.4 309.3L605.2 309.3M613.7 309.3L612.6 309.5M621.1 309.3L620 309.6M628.5 309.3L627.5 309.7M635.8 309.3L634.9 309.8M370.6 318.1h.4M377.9 318.1h.4M385.3 318.1h.4M392.7 318.1L392.3 318.1M400 318.1L399.5 318.1M407.4 318.1L406.8 318.2M414.8 318.1L414.2 318.1M422.1 318.1L421.5 318.1M429.5 318.1L428.8 318.1M436.9 318.1L436.2 318.1M444.3 318.1L443.6 318.1M451.6 318.1L450.9 318.1M459 318.1L458.3 318M466.4 318.1L465.7 318M473.7 318.1L473 318M481.1 318.1L480.4 318M488.5 318.1L487.7 317.9M495.8 318.1L495 317.9M503.2 318.1L502.3 317.9M510.6 318.1L509.7 317.9M517.9 318.1L517.2 317.9M525.3 318.1L524.6 317.9M532.7 318.1L532 317.8M540 318.1L539.4 317.8M547.4 318.1L546.8 317.7M554.8 318.1L554.2 317.7M562.1 318.1L561.5 317.7M569.5 318.1L568.9 317.7M576.9 318.1L576.1 317.6M584.3 318.1L583.3 317.7M591.6 318.1L590.5 317.9M599 318.1L597.9 318M606.4 318.1L605.2 318.1M613.7 318.1L612.6 318.2M621.1 318.1L620 318.3M628.5 318.1L627.5 318.4M635.8 318.1L634.9 318.5M370.6 326.9h.4M377.9 326.9h.4M385.3 326.9h.4M392.7 326.9h.4M400 326.9h.4M407.4 326.9h.4M414.8 326.9h.4M422.1 326.9h.4M429.5 326.9h.4M436.9 326.9h.4M444.3 326.9h.4M451.6 326.9h.4M459 326.9h.4M466.4 326.9h.4M473.7 326.9h.4M481.1 326.9h.4M488.5 326.9h.4M495.8 326.9h.4M503.2 326.9h.4M510.6 326.9h.4M517.9 326.9h.4M525.3 326.9h.4M532.7 326.9h.4M540 326.9L539.8 326.6M547.4 326.9L547.1 326.6M554.8 326.9L554.3 326.6M562.1 326.9L561.6 326.6M569.5 326.9L568.9 326.6M576.9 326.9L576.2 326.6M584.3 326.9L583.4 326.7M591.6 326.9L590.7 326.7M599 326.9L598 326.8M606.4 326.9L605.4 326.9M613.7 326.9L612.8 327M621.1 326.9L620.2 327.1M628.5 326.9L627.6 327.1M635.8 326.9L635.1 327.2" stroke="#111" stroke-width="0.75" fill="none" stroke-linecap="round"/>
<path d="M468.1 194L467.4 194.8L467 194.1ZM476.6 193.8L475.6 194.7L475.2 193.8ZM485.1 193.6L483.8 194.7L483.5 193.5ZM493.7 193.7L492 194.8L491.7 193.4ZM502 194L500 195.1L499.8 193.5ZM509.9 194.5L507.8 195.5L507.7 193.8ZM517.3 195.1L515.2 195.9L515.3 194.2ZM524.4 195.5L522.2 196.2L522.4 194.5ZM531.3 195.7L529.2 196.2L529.4 194.6ZM538.3 195.5L536.3 196L536.5 194.5ZM545.7 194.9L543.7 195.7L543.8 194.2ZM553.4 194.5L551.4 195.4L551.3 193.8ZM561 194.6L559 195.5L558.9 193.9ZM567.9 195.3L565.9 196L566 194.4ZM574 196.2L572.3 196.4L572.6 195.1ZM579.7 196.6L578.3 196.4L578.9 195.5ZM585.5 196.5L584.6 195.9L585.2 195.4ZM461.5 201.8L460.8 203L460.2 202.2ZM470.7 201.1L469.5 202.6L468.8 201.4ZM480.1 200.6L478.5 202.3L477.8 200.8ZM489.4 200.5L487.7 202.1L487.1 200.5ZM498.3 201L496.5 202.3L496.1 200.7ZM506.8 201.8L504.9 203L504.6 201.3ZM514.9 202.9L512.8 203.9L512.7 202.2ZM522.5 203.9L520.3 204.7L520.4 203ZM529.8 204.7L527.7 205.3L527.8 203.7ZM537.3 204.8L535.1 205.4L535.3 203.7ZM545 204.1L542.9 204.9L542.9 203.2ZM552.5 203.3L550.5 204.2L550.4 202.5ZM559.9 203.1L557.8 204.1L557.8 202.4ZM566.5 204.4L564.4 205.1L564.5 203.4ZM571.3 206.4L569.1 206.6L569.5 205ZM575.4 208L573.2 207.4L574.2 206.1ZM580 208.1L578.3 207L579.5 206.1ZM585.4 207L584.5 205.9L585.5 205.5ZM591.9 205.7L591.3 204.7L592.1 204.6ZM405.6 212.6L406.5 212.2L406.6 212.9ZM412.9 212.5L413.9 212.1L413.9 212.9ZM453.5 209.5L453.3 211L452.3 210.4ZM463.2 208.2L462.4 210.2L461.2 209ZM473 207.2L471.9 209.1L470.9 207.8ZM482.7 206.8L481.3 208.7L480.4 207.3ZM491.8 207.3L490.3 209L489.5 207.5ZM500.3 208.4L498.6 209.9L498 208.3ZM508 209.8L506.2 211.1L505.8 209.4ZM515.6 211.3L513.6 212.3L513.5 210.6ZM523.1 212.4L521 213.3L521 211.6ZM530.4 213L528.3 213.8L528.4 212.1ZM537.8 212.8L535.7 213.6L535.7 211.9ZM545.2 212.3L543.1 213.2L543.1 211.5ZM552.5 212.3L550.5 213.2L550.4 211.5ZM559.8 213.9L557.6 214.5L557.8 212.8ZM563.9 216.8L561.6 216.7L562.3 215.1ZM567.7 219.4L565.7 218.3L567 217.3ZM572.4 220.2L570.9 218.6L572.4 218ZM578.2 219L577 217.2L578.6 216.8ZM584.9 216.9L584 215.4L585.3 215.2ZM592 214.9L591.4 213.9L592.3 213.7ZM398.1 221.7L399 221.1L399.2 221.9ZM405.3 221.5L406.3 221L406.4 221.8ZM412.7 221.3L413.7 220.9L413.7 221.7ZM420.2 220.9L421.2 220.7L421.1 221.5ZM427.9 220.3L429 220.5L428.5 221.1ZM436.2 219.2L436.9 220L436.1 220.3ZM445 217.5L445.3 219.1L444.2 218.8ZM454.5 215.6L454.3 217.8L452.8 217.1ZM464.2 214L463.7 216.2L462.3 215.2ZM473.7 213.3L472.9 215.4L471.6 214.3ZM482.5 213.7L481.5 215.7L480.4 214.4ZM490.6 215L489.3 216.9L488.4 215.5ZM498 216.7L496.5 218.4L495.8 216.9ZM505.2 218.5L503.4 219.9L502.9 218.3ZM512.3 219.9L510.4 221L510.1 219.4ZM519.8 220.8L517.7 221.8L517.7 220.1ZM527.4 221.2L525.4 222.1L525.3 220.4ZM534.9 221.3L532.8 222.2L532.8 220.5ZM541.5 221.8L539.4 222.5L539.5 220.9ZM547.2 223.4L544.9 223.6L545.4 222ZM552.3 226.1L550.2 225.2L551.4 224ZM557.8 228.9L556.3 227.3L557.8 226.6ZM564.2 230.5L563 228.7L564.6 228.3ZM571.3 230.2L570.1 228.3L571.7 228ZM578.5 228.4L577.2 226.5L578.8 226.1ZM585.6 226L584.5 224.5L585.8 224.1ZM592.8 223.9L591.8 223L592.7 222.6ZM430.6 228.4L430.4 229.5L429.8 229ZM438.6 226.7L438.4 228.3L437.4 227.8ZM447 224.4L446.8 226.7L445.3 225.9ZM455.7 222.1L455.5 224.3L454 223.6ZM464.4 220.6L464.1 222.9L462.7 222ZM472.8 220.6L472.3 222.8L470.9 221.9ZM480.4 221.9L479.7 224.1L478.4 223ZM487.4 224L486.4 226.1L485.3 224.9ZM494 226.2L492.8 228.1L491.8 226.7ZM500.5 227.9L499.2 229.3L498.6 228ZM507.3 229L506 230L505.6 228.8ZM514.4 229.6L513 230.4L512.9 229.2ZM521.6 230L520.2 230.6L520.2 229.5ZM528.7 230.7L527.2 231L527.4 229.9ZM535.5 231.9L534.1 231.6L534.7 230.7ZM542.3 233.8L541 232.8L542 232.1ZM549.7 235.9L548.1 234.3L549.7 233.7ZM557.5 238L556 236.2L557.6 235.7ZM565.3 239.2L563.8 237.5L565.4 237ZM572.6 239.2L571.2 237.5L572.8 236.9ZM579.5 237.6L578 235.9L579.6 235.4ZM586.3 235.3L584.9 233.8L586.3 233.2ZM593.3 233L592.2 232.1L593.1 231.6ZM600.5 231.5L599.5 231.1L600 230.5ZM402 239L401 239.3L401.1 238.5ZM409.7 239L408.6 239.4L408.6 238.5ZM417.2 238.8L416.1 239.3L416.1 238.4ZM424.6 238.2L423.6 239L423.4 238.1ZM431.9 237L431.3 238.2L430.6 237.4ZM439.5 235L439.1 236.7L438 236ZM447.2 232.3L447.1 234.5L445.6 233.8ZM455 229.8L455.1 232L453.5 231.5ZM462.8 228.6L462.8 230.9L461.3 230.3ZM470.2 229.2L470.2 231.4L468.7 230.8ZM477.3 231.2L477.2 233.4L475.6 232.7ZM484 233.7L483.7 235.8L482.4 235.1ZM490.6 236L490.2 237.5L489.3 236.8ZM497.3 237.6L496.8 238.6L496.3 238ZM533.6 240.8L532.8 240L533.5 239.7ZM541.3 242.3L540.3 241.2L541.4 240.8ZM549.2 244.1L547.9 242.6L549.3 242.1ZM556.9 246.2L555.5 244.4L557.1 243.9ZM564.3 248L563 246.1L564.6 245.8ZM571.4 248.4L570.2 246.5L571.8 246.2ZM578.5 247L577.3 245.1L578.9 244.8ZM585.7 244.5L584.5 242.8L586 242.4ZM593.1 242L592 241L593 240.5ZM600.5 240.3L599.5 239.9L600.1 239.3ZM430.5 245.9L430.4 247L429.7 246.6ZM437.8 243.7L438 245.3L436.9 245.1ZM445 240.9L445.6 243.1L443.9 242.9ZM452.2 238.4L452.9 240.6L451.3 240.4ZM459.5 237.3L460.2 239.5L458.5 239.4ZM466.7 238.2L467.5 240.3L465.8 240.2ZM474 240.4L474.8 242.5L473.1 242.4ZM481.3 243L481.9 244.7L480.6 244.7ZM488.6 245.4L489 246.5L488.1 246.4ZM532.3 249.5L532.1 248.5L532.9 248.6ZM539.4 251L539.1 249.5L540.2 249.8ZM546.4 252.9L546 250.9L547.4 251.2ZM553.3 255.1L552.9 252.9L554.6 253.2ZM560.4 257L560 254.8L561.6 255.1ZM567.9 257.2L567.4 255L569.1 255.2ZM576.1 255.3L575.5 253.2L577.1 253.3ZM584.5 252.8L583.7 251L585.1 251ZM592.6 250.5L591.7 249.5L592.6 249.1ZM600.3 248.9L599.4 248.6L599.9 248ZM436.3 252.9L437.1 254.2L436 254.4ZM443 250.2L444.3 252.1L442.6 252.4ZM449.6 247.7L450.9 249.6L449.3 250ZM456.3 246.5L457.6 248.3L456 248.8ZM463.3 247L464.8 248.8L463.2 249.3ZM470.8 249L472.3 250.6L470.8 251.3ZM478.6 251.5L480.1 252.9L478.8 253.5ZM486.6 253.8L487.8 254.6L486.9 255.2ZM523.6 257.7L524.2 256.8L524.7 257.5ZM530.1 259L530.7 257.6L531.5 258.5ZM536.4 260.7L537.1 258.7L538.2 259.7ZM542.8 262.5L543.4 260.3L544.7 261.3ZM549.5 264.5L550 262.2L551.4 263.2ZM556.7 265.9L557 263.7L558.4 264.5ZM564.6 264.9L564.9 262.7L566.4 263.5ZM573.8 262.1L574.1 259.8L575.6 260.6ZM583.4 259.9L583.2 258.4L584.3 258.7ZM592.1 258.4L591.5 257.5L592.2 257.3ZM435.8 262.6L436.7 263.6L435.8 263.9ZM442.1 260.3L443.5 261.7L442.1 262.3ZM448 257.9L449.7 259.4L448.2 260.2ZM453.9 256.4L455.7 257.8L454.2 258.6ZM460.3 256.2L462.2 257.5L460.8 258.5ZM467.4 257.5L469.4 258.6L468.1 259.7ZM475.2 259.5L477.3 260.4L476.1 261.6ZM483.3 261.6L485.5 262.1L484.5 263.5ZM491.5 263.3L493.3 263.4L492.7 264.6ZM499.4 264.5L501 264.2L500.7 265.4ZM506.9 265.4L508.3 264.8L508.3 265.9ZM513.8 266.4L515.2 265.4L515.5 266.6ZM520.4 267.6L521.7 266.2L522.4 267.5ZM526.7 269.2L528 267.3L528.9 268.7ZM533.1 270.7L534.2 268.7L535.3 270.1ZM539.8 272.1L540.8 270L542 271.3ZM547.1 273.5L547.9 271.4L549.2 272.5ZM554.7 274.5L555.4 272.4L556.7 273.4ZM563 272L563.9 269.9L565.1 271ZM572.9 267.6L574 266.2L574.6 267.4ZM435.9 272.5L436.8 273.1L436.1 273.5ZM442.1 270.9L443.4 271.8L442.4 272.4ZM447.7 268.9L449.7 270L448.3 271ZM453.1 267.1L455.1 268.2L453.8 269.3ZM458.6 266.4L460.7 267.2L459.5 268.4ZM464.7 266.7L466.9 267.4L465.8 268.7ZM471.6 267.9L473.8 268.4L472.9 269.8ZM479.1 269.6L481.3 269.8L480.6 271.3ZM486.8 271.4L489.1 271.2L488.6 272.8ZM494.5 272.9L496.7 272.4L496.5 274ZM501.9 274.4L504 273.5L504.1 275.2ZM509 275.8L510.9 274.6L511.3 276.3ZM516 277.4L517.7 275.9L518.2 277.5ZM523 278.8L524.5 277.1L525.2 278.6ZM530.3 279.9L531.7 278.1L532.5 279.6ZM538.2 280.6L539.5 278.7L540.4 280.1ZM546.7 281.5L547.7 279.5L548.8 280.7ZM555.4 282.3L556.1 280.2L557.4 281.3ZM564.3 278.6L565.3 276.6L566.4 277.9ZM573.8 273.1L575.2 273L574.9 274ZM442.8 281.3L443.8 281.8L443.2 282.3ZM448.7 280L450.2 280.6L449.4 281.5ZM454 278.6L456.2 279.3L455.1 280.6ZM459.1 277.5L461.3 278.1L460.3 279.4ZM464.4 277.2L466.6 277.6L465.8 279ZM470.2 277.6L472.5 277.8L471.7 279.3ZM476.7 278.7L478.9 278.6L478.4 280.2ZM483.6 280.1L485.9 279.8L485.5 281.4ZM490.8 281.7L492.9 281L492.8 282.7ZM498.1 283.2L500.1 282.3L500.2 284ZM505.6 284.7L507.5 283.6L507.8 285.3ZM513.2 286.1L515 284.8L515.5 286.4ZM521.3 287.2L522.9 285.6L523.5 287.2ZM529.9 287.7L531.4 286L532.1 287.5ZM539 287.6L540.4 285.9L541.2 287.3ZM548.4 288.1L549.5 286.1L550.6 287.4ZM558.1 288.9L558.6 286.7L560 287.6ZM567.5 285.3L568 284L568.7 284.7ZM576 280.1L576.9 281.1L575.9 281.4ZM583.8 280.4L584.4 281.5L583.6 281.6ZM450.2 290.5L451.2 290.8L450.7 291.4ZM456.2 289.7L457.6 290.1L457 291ZM461.7 288.9L463.7 289.2L462.9 290.5ZM467.1 288.4L469.3 288.6L468.6 290.1ZM472.5 288.4L474.8 288.3L474.2 289.9ZM478.3 288.8L480.5 288.6L480.1 290.2ZM484.5 289.6L486.8 289.2L486.5 290.8ZM491.3 290.7L493.5 290.1L493.3 291.7ZM498.6 291.9L500.7 291L500.7 292.7ZM506.4 293L508.4 291.9L508.6 293.6ZM514.6 293.9L516.5 292.6L516.9 294.3ZM523.4 294.3L525.2 293L525.6 294.6ZM532.5 294.3L534.2 292.8L534.8 294.4ZM541.8 294L543.3 292.5L543.9 294ZM551.1 294.2L552.1 292.7L552.8 293.8ZM560.7 294.8L560.8 293.4L561.8 293.8ZM577.4 289L577.7 290.3L576.7 290.1ZM584 289.5L584.6 290.5L583.7 290.6ZM464.4 299.5L465.5 299.6L465.2 300.4ZM470.6 299.2L472.1 299.2L471.7 300.2ZM476.7 299.1L478.5 299L478.1 300.2ZM482.9 299.2L484.9 298.9L484.6 300.4ZM489.3 299.5L491.5 299L491.2 300.6ZM496.1 300L498.3 299.3L498.1 301ZM503.4 300.5L505.5 299.7L505.5 301.3ZM511.1 301L513.1 300L513.3 301.7ZM519.3 301.3L521.2 300.3L521.4 301.9ZM527.7 301.4L529.3 300.4L529.6 301.8ZM536.3 301.2L537.6 300.4L537.8 301.5ZM544.8 301L545.8 300.3L546 301.2ZM486.4 308.9L487.5 308.7L487.3 309.5ZM493.4 308.9L494.6 308.7L494.4 309.5ZM500.5 309L501.7 308.7L501.6 309.6ZM507.9 309.2L509.1 308.8L509 309.7ZM515.4 309.3L516.5 308.8L516.5 309.7ZM523.1 309.3L524.2 308.9L524.2 309.7Z" fill="#111" stroke="#111" stroke-width="0.3"/>
</g>
<rect x="363.2" y="313.6" width="31.3" height="17.6" fill="#fff"/>
<path d="M371.3 316.4h6" stroke="#111" stroke-width="0.8"/>
<path d="M379.8 316.4l-3 -1.3v2.6z" fill="#111"/>
<text x="366.6" y="326.4" font-size="9" fill="#111" textLength="20.4" lengthAdjust="spacingAndGlyphs">5 m/s</text>
<rect x="363.2" y="190.4" width="280" height="140.8" fill="none" stroke="#222" stroke-width="0.9"/>
<path d="M377.9 190.4v-3M377.9 331.2v3M422.1 190.4v-3M422.1 331.2v3M466.4 190.4v-3M466.4 331.2v3M510.6 190.4v-3M510.6 331.2v3M554.8 190.4v-3M554.8 331.2v3M599 190.4v-3M599 331.2v3M643.2 190.4v-3M643.2 331.2v3M363.2 331.2h-3M643.2 331.2h3M363.2 298.7h-3M643.2 298.7h3M363.2 266.2h-3M643.2 266.2h3M363.2 233.7h-3M643.2 233.7h3M363.2 201.2h-3M643.2 201.2h3" stroke="#222" stroke-width="0.8" fill="none"/>
<text x="377.9" y="343.6" font-size="9.2" text-anchor="middle" fill="#222" textLength="22.7" lengthAdjust="spacingAndGlyphs">120°E</text>
<text x="422.1" y="343.6" font-size="9.2" text-anchor="middle" fill="#222" textLength="22.7" lengthAdjust="spacingAndGlyphs">150°E</text>
<text x="466.4" y="343.6" font-size="9.2" text-anchor="middle" fill="#222" textLength="16.4" lengthAdjust="spacingAndGlyphs">180°</text>
<text x="510.6" y="343.6" font-size="9.2" text-anchor="middle" fill="#222" textLength="26.6" lengthAdjust="spacingAndGlyphs">150°W</text>
<text x="554.8" y="343.6" font-size="9.2" text-anchor="middle" fill="#222" textLength="26.8" lengthAdjust="spacingAndGlyphs">120°W</text>
<text x="599" y="343.6" font-size="9.2" text-anchor="middle" fill="#222" textLength="22.2" lengthAdjust="spacingAndGlyphs">90°W</text>
<text x="643.2" y="343.6" font-size="9.2" text-anchor="middle" fill="#222" textLength="22.2" lengthAdjust="spacingAndGlyphs">60°W</text>
<text x="23.6" y="183.5" font-size="10.5" font-weight="bold" fill="#111" textLength="227.6" lengthAdjust="spacingAndGlyphs">d) The regressed Z500 &amp; winds against ES-CS SAT</text>
<text x="361" y="183.5" font-size="10.5" font-weight="bold" fill="#111" textLength="256" lengthAdjust="spacingAndGlyphs">e) The regressed SLP &amp; 850hPa winds against ES-CS SAT</text>
<linearGradient id="g315" x1="0" y1="0" x2="0" y2="1">
<stop offset="0.000" stop-color="#dd2c24"/>
<stop offset="0.050" stop-color="#e0413a"/>
<stop offset="0.100" stop-color="#e45650"/>
<stop offset="0.150" stop-color="#e76b66"/>
<stop offset="0.200" stop-color="#eb807c"/>
<stop offset="0.250" stop-color="#ee9692"/>
<stop offset="0.300" stop-color="#f1aba7"/>
<stop offset="0.350" stop-color="#f5c0bd"/>
<stop offset="0.400" stop-color="#f8d5d3"/>
<stop offset="0.450" stop-color="#fceae9"/>
<stop offset="0.500" stop-color="#ffffff"/>
<stop offset="0.550" stop-color="#eef3f9"/>
<stop offset="0.600" stop-color="#dee7f4"/>
<stop offset="0.650" stop-color="#cddbee"/>
<stop offset="0.700" stop-color="#bccfe8"/>
<stop offset="0.750" stop-color="#acc4e2"/>
<stop offset="0.800" stop-color="#9bb8dd"/>
<stop offset="0.850" stop-color="#8aacd7"/>
<stop offset="0.900" stop-color="#79a0d1"/>
<stop offset="0.950" stop-color="#6994cc"/>
<stop offset="1.000" stop-color="#5888c6"/>
</linearGradient>
<rect x="315.2" y="192.5" width="8.8" height="134" fill="url(#g315)" stroke="#999" stroke-width="0.4"/>
<path d="M324 203.4h-2" stroke="#555" stroke-width="0.5"/>
<text x="327.4" y="206.4" font-size="8.3" fill="#222">100</text>
<path d="M324 231.4h-2" stroke="#555" stroke-width="0.5"/>
<text x="327.4" y="234.4" font-size="8.3" fill="#222">50</text>
<path d="M324 259.5h-2" stroke="#555" stroke-width="0.5"/>
<text x="327.4" y="262.5" font-size="8.3" fill="#222" textLength="14.5" lengthAdjust="spacingAndGlyphs">0 m</text>
<path d="M324 287.4h-2" stroke="#555" stroke-width="0.5"/>
<text x="327.4" y="290.4" font-size="8.3" fill="#222">-50</text>
<path d="M324 315.4h-2" stroke="#555" stroke-width="0.5"/>
<text x="327.4" y="318.4" font-size="8.3" fill="#222">-100</text>
<linearGradient id="g652" x1="0" y1="0" x2="0" y2="1">
<stop offset="0.000" stop-color="#dd2c24"/>
<stop offset="0.050" stop-color="#e0413a"/>
<stop offset="0.100" stop-color="#e45650"/>
<stop offset="0.150" stop-color="#e76b66"/>
<stop offset="0.200" stop-color="#eb807c"/>
<stop offset="0.250" stop-color="#ee9692"/>
<stop offset="0.300" stop-color="#f1aba7"/>
<stop offset="0.350" stop-color="#f5c0bd"/>
<stop offset="0.400" stop-color="#f8d5d3"/>
<stop offset="0.450" stop-color="#fceae9"/>
<stop offset="0.500" stop-color="#ffffff"/>
<stop offset="0.550" stop-color="#eef3f9"/>
<stop offset="0.600" stop-color="#dee7f4"/>
<stop offset="0.650" stop-color="#cddbee"/>
<stop offset="0.700" stop-color="#bccfe8"/>
<stop offset="0.750" stop-color="#acc4e2"/>
<stop offset="0.800" stop-color="#9bb8dd"/>
<stop offset="0.850" stop-color="#8aacd7"/>
<stop offset="0.900" stop-color="#79a0d1"/>
<stop offset="0.950" stop-color="#6994cc"/>
<stop offset="1.000" stop-color="#5888c6"/>
</linearGradient>
<rect x="652.7" y="192.3" width="8.8" height="134" fill="url(#g652)" stroke="#999" stroke-width="0.4"/>
<path d="M661.5 192.3h-2" stroke="#555" stroke-width="0.5"/>
<text x="664.9" y="195.3" font-size="8.3" fill="#222">10</text>
<path d="M661.5 225.8h-2" stroke="#555" stroke-width="0.5"/>
<text x="664.9" y="228.8" font-size="8.3" fill="#222">5</text>
<path d="M661.5 259.4h-2" stroke="#555" stroke-width="0.5"/>
<text x="664.9" y="262.4" font-size="8.3" fill="#222" textLength="19.7" lengthAdjust="spacingAndGlyphs">0 hPa</text>
<path d="M661.5 292.9h-2" stroke="#555" stroke-width="0.5"/>
<text x="664.9" y="295.9" font-size="8.3" fill="#222">-5</text>
<path d="M661.5 326.4h-2" stroke="#555" stroke-width="0.5"/>
<text x="664.9" y="329.4" font-size="8.3" fill="#222">-10</text>
</svg></body></html>
